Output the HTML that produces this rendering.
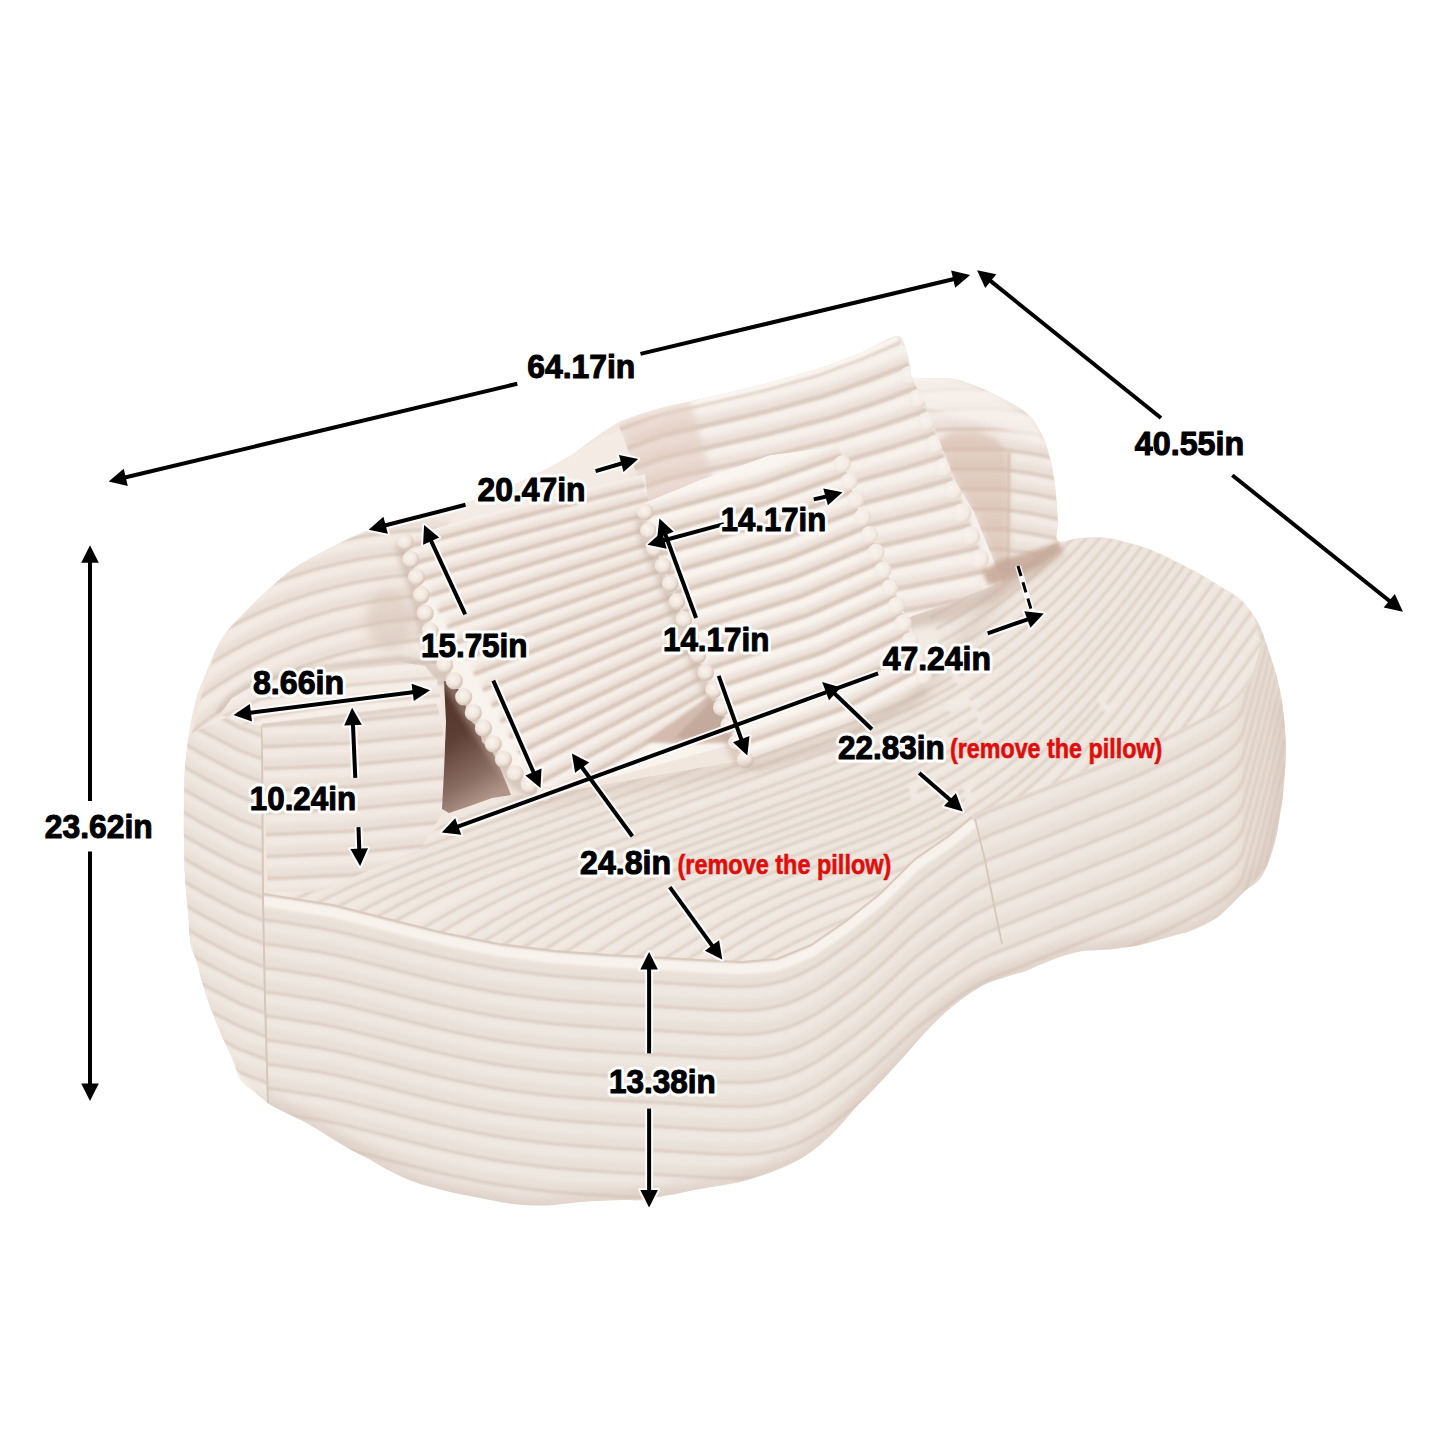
<!DOCTYPE html>
<html><head><meta charset="utf-8"><title>Sofa dimensions</title>
<style>
html,body{margin:0;padding:0;background:#fff;}
body{width:1445px;height:1445px;overflow:hidden;}
svg{display:block;}
</style></head>
<body>
<svg width="1445" height="1445" viewBox="0 0 1445 1445">
<rect width="1445" height="1445" fill="#fff"/>
<defs><filter id="bl8" filterUnits="userSpaceOnUse" x="0" y="0" width="1445" height="1445"><feGaussianBlur stdDeviation="0.8"/></filter>
<filter id="bl10" filterUnits="userSpaceOnUse" x="0" y="0" width="1445" height="1445"><feGaussianBlur stdDeviation="1.0"/></filter>
<filter id="bl12" filterUnits="userSpaceOnUse" x="0" y="0" width="1445" height="1445"><feGaussianBlur stdDeviation="1.2"/></filter>
<filter id="bl15" filterUnits="userSpaceOnUse" x="0" y="0" width="1445" height="1445"><feGaussianBlur stdDeviation="1.5"/></filter>
<filter id="bl20" filterUnits="userSpaceOnUse" x="0" y="0" width="1445" height="1445"><feGaussianBlur stdDeviation="2.0"/></filter>
<filter id="bl30" filterUnits="userSpaceOnUse" x="0" y="0" width="1445" height="1445"><feGaussianBlur stdDeviation="3.0"/></filter>
<filter id="soft" filterUnits="userSpaceOnUse" x="0" y="0" width="1445" height="1445"><feGaussianBlur stdDeviation="6"/></filter>
<filter id="soft3" filterUnits="userSpaceOnUse" x="0" y="0" width="1445" height="1445"><feGaussianBlur stdDeviation="3"/></filter>
<radialGradient id="pom" cx="0.42" cy="0.38" r="0.62"><stop offset="0" stop-color="#faf4ee"/><stop offset="0.6" stop-color="#f0e6dd"/><stop offset="0.9" stop-color="#dac9bd"/><stop offset="1" stop-color="#d1beb2"/></radialGradient>
<radialGradient id="pom2" cx="0.35" cy="0.4" r="0.65"><stop offset="0" stop-color="#f9f3ee"/><stop offset="0.7" stop-color="#f3ebe4"/><stop offset="1" stop-color="#e6d9cf"/></radialGradient>
<clipPath id="csil"><path d="M363.0,532.0 C370.0,529.2 370.2,529.5 380.0,527.0 C389.8,524.5 406.3,521.5 422.0,517.0 C437.7,512.5 456.7,506.3 474.0,500.0 C491.3,493.7 510.3,486.2 526.0,479.0 C541.7,471.8 557.3,463.3 568.0,457.0 C578.7,450.7 583.7,445.5 590.0,441.0 C596.3,436.5 600.3,433.5 606.0,430.0 C611.7,426.5 615.5,423.5 624.0,420.0 C632.5,416.5 644.3,412.5 657.0,409.0 C669.7,405.5 682.8,403.0 700.0,399.0 C717.2,395.0 740.5,390.0 760.0,385.0 C779.5,380.0 800.3,374.3 817.0,369.0 C833.7,363.7 846.7,358.5 860.0,353.0 C873.3,347.5 889.3,336.5 897.0,336.0 C904.7,335.5 903.8,345.2 906.0,350.0 C908.2,354.8 908.8,360.3 910.0,365.0 C911.2,369.7 910.0,375.8 913.0,378.0 C916.0,380.2 921.0,377.8 928.0,378.0 C935.0,378.2 945.8,377.2 955.0,379.0 C964.2,380.8 973.7,385.0 983.0,389.0 C992.3,393.0 1003.2,398.5 1011.0,403.0 C1018.8,407.5 1024.5,410.0 1030.0,416.0 C1035.5,422.0 1040.3,430.7 1044.0,439.0 C1047.7,447.3 1050.0,456.8 1052.0,466.0 C1054.0,475.2 1055.0,484.7 1056.0,494.0 C1057.0,503.3 1057.7,514.2 1058.0,522.0 C1058.3,529.8 1054.3,538.3 1058.0,541.0 C1061.7,543.7 1071.7,538.5 1080.0,538.0 C1088.3,537.5 1096.5,536.2 1108.0,538.0 C1119.5,539.8 1135.2,543.8 1149.0,549.0 C1162.8,554.2 1179.5,563.0 1191.0,569.0 C1202.5,575.0 1209.8,580.0 1218.0,585.0 C1226.2,590.0 1233.5,593.0 1240.0,599.0 C1246.5,605.0 1252.3,612.7 1257.0,621.0 C1261.7,629.3 1264.5,638.8 1268.0,649.0 C1271.5,659.2 1275.5,671.8 1278.0,682.0 C1280.5,692.2 1281.7,698.7 1283.0,710.0 C1284.3,721.3 1286.0,736.0 1286.0,750.0 C1286.0,764.0 1284.0,783.2 1283.0,794.0 C1282.0,804.8 1281.0,808.5 1280.0,815.0 C1279.0,821.5 1278.2,827.3 1277.0,833.0 C1275.8,838.7 1274.7,843.5 1273.0,849.0 C1271.3,854.5 1269.3,860.8 1267.0,866.0 C1264.7,871.2 1262.7,875.8 1259.0,880.0 C1255.3,884.2 1249.7,886.8 1245.0,891.0 C1240.3,895.2 1235.5,900.7 1231.0,905.0 C1226.5,909.3 1222.5,913.7 1218.0,917.0 C1213.5,920.3 1208.7,922.7 1204.0,925.0 C1199.3,927.3 1194.7,929.3 1190.0,931.0 C1185.3,932.7 1180.7,933.7 1176.0,935.0 C1171.3,936.3 1166.7,937.7 1162.0,939.0 C1157.3,940.3 1152.5,941.8 1148.0,943.0 C1143.5,944.2 1140.7,945.0 1135.0,946.0 C1129.3,947.0 1119.8,948.3 1114.0,949.0 C1108.2,949.7 1105.3,949.7 1100.0,950.0 C1094.7,950.3 1088.2,950.0 1082.0,951.0 C1075.8,952.0 1069.3,954.0 1063.0,956.0 C1056.7,958.0 1050.2,960.5 1044.0,963.0 C1037.8,965.5 1030.8,969.2 1026.0,971.0 C1021.2,972.8 1018.7,972.9 1015.0,974.0 C1011.3,975.1 1007.7,976.4 1004.0,977.6 C1000.3,978.8 996.7,979.6 993.0,981.0 C989.3,982.4 986.5,983.5 982.0,986.0 C977.5,988.5 971.8,991.8 966.0,996.0 C960.2,1000.2 953.4,1005.3 947.0,1011.0 C940.6,1016.7 934.0,1023.2 927.5,1030.0 C921.0,1036.8 914.4,1044.8 908.0,1052.0 C901.6,1059.2 895.5,1066.0 889.0,1073.0 C882.5,1080.0 874.5,1088.3 869.0,1094.0 C863.5,1099.7 861.2,1101.3 856.0,1107.0 C850.8,1112.7 844.0,1121.7 838.0,1128.0 C832.0,1134.3 826.0,1140.0 820.0,1145.0 C814.0,1150.0 808.0,1154.3 802.0,1158.0 C796.0,1161.7 790.0,1164.3 784.0,1167.0 C778.0,1169.7 772.0,1171.8 766.0,1174.0 C760.0,1176.2 754.0,1178.3 748.0,1180.0 C742.0,1181.7 736.0,1182.8 730.0,1184.0 C724.0,1185.2 718.0,1186.0 712.0,1187.0 C706.0,1188.0 700.0,1188.8 694.0,1190.0 C688.0,1191.2 682.0,1192.8 676.0,1194.0 C670.0,1195.2 664.0,1196.0 658.0,1197.0 C652.0,1198.0 646.3,1199.5 640.0,1200.0 C633.7,1200.5 630.0,1199.7 620.0,1200.0 C610.0,1200.3 592.3,1201.1 580.0,1202.0 C567.7,1202.9 557.2,1205.2 546.0,1205.5 C534.8,1205.8 524.0,1205.2 513.0,1204.0 C502.0,1202.8 491.2,1200.2 480.0,1198.0 C468.8,1195.8 457.2,1193.8 446.0,1191.0 C434.8,1188.2 423.0,1185.2 413.0,1181.5 C403.0,1177.8 393.3,1172.8 386.0,1169.0 C378.7,1165.2 374.5,1162.0 369.0,1159.0 C363.5,1156.0 358.5,1154.0 353.0,1151.0 C347.5,1148.0 341.5,1144.3 336.0,1141.0 C330.5,1137.7 325.5,1134.3 320.0,1131.0 C314.5,1127.7 308.7,1124.0 303.0,1121.0 C297.3,1118.0 291.5,1115.8 286.0,1113.0 C280.5,1110.2 275.0,1107.8 270.0,1104.5 C265.0,1101.2 260.8,1097.1 256.0,1093.0 C251.2,1088.9 244.8,1085.5 241.0,1080.0 C237.2,1074.5 236.2,1067.5 233.0,1060.0 C229.8,1052.5 225.1,1043.3 221.5,1035.0 C217.9,1026.7 214.6,1018.3 211.5,1010.0 C208.4,1001.7 205.4,993.0 203.0,985.0 C200.6,977.0 199.0,968.5 197.0,962.0 C195.0,955.5 192.5,954.5 191.0,946.0 C189.5,937.5 189.0,922.8 188.0,911.0 C187.0,899.2 185.7,886.8 185.0,875.0 C184.3,863.2 184.2,851.7 184.0,840.0 C183.8,828.3 183.8,816.8 184.0,805.0 C184.2,793.2 184.2,780.8 185.0,769.0 C185.8,757.2 187.2,745.7 189.0,734.0 C190.8,722.3 193.5,708.3 196.0,699.0 C198.5,689.7 201.5,684.5 204.0,678.0 C206.5,671.5 208.7,665.5 211.0,660.0 C213.3,654.5 215.2,650.0 218.0,645.0 C220.8,640.0 224.1,634.8 228.0,630.0 C231.9,625.2 237.0,620.7 241.5,616.0 C246.0,611.3 250.4,606.5 255.0,602.0 C259.6,597.5 263.2,594.2 269.0,589.0 C274.8,583.8 283.0,576.2 290.0,571.0 C297.0,565.8 303.0,562.5 311.0,558.0 C319.0,553.5 329.3,548.3 338.0,544.0 C346.7,539.7 356.0,534.8 363.0,532.0Z"/></clipPath>
<clipPath id="cbx"><path d="M911.0,377.0 L928.0,378.0 L955.0,379.0 L983.0,389.0 L1011.0,403.0 L1030.0,416.0 L1044.0,439.0 L1052.0,466.0 L1056.0,494.0 L1058.0,522.0 L1058.0,541.0 L1040.0,560.0 L1003.0,585.0 L990.0,551.0 L974.0,512.0 L955.0,480.0 L938.0,437.0 L925.0,402.0Z"/></clipPath></defs>
<path d="M363.0,532.0 C370.0,529.2 370.2,529.5 380.0,527.0 C389.8,524.5 406.3,521.5 422.0,517.0 C437.7,512.5 456.7,506.3 474.0,500.0 C491.3,493.7 510.3,486.2 526.0,479.0 C541.7,471.8 557.3,463.3 568.0,457.0 C578.7,450.7 583.7,445.5 590.0,441.0 C596.3,436.5 600.3,433.5 606.0,430.0 C611.7,426.5 615.5,423.5 624.0,420.0 C632.5,416.5 644.3,412.5 657.0,409.0 C669.7,405.5 682.8,403.0 700.0,399.0 C717.2,395.0 740.5,390.0 760.0,385.0 C779.5,380.0 800.3,374.3 817.0,369.0 C833.7,363.7 846.7,358.5 860.0,353.0 C873.3,347.5 889.3,336.5 897.0,336.0 C904.7,335.5 903.8,345.2 906.0,350.0 C908.2,354.8 908.8,360.3 910.0,365.0 C911.2,369.7 910.0,375.8 913.0,378.0 C916.0,380.2 921.0,377.8 928.0,378.0 C935.0,378.2 945.8,377.2 955.0,379.0 C964.2,380.8 973.7,385.0 983.0,389.0 C992.3,393.0 1003.2,398.5 1011.0,403.0 C1018.8,407.5 1024.5,410.0 1030.0,416.0 C1035.5,422.0 1040.3,430.7 1044.0,439.0 C1047.7,447.3 1050.0,456.8 1052.0,466.0 C1054.0,475.2 1055.0,484.7 1056.0,494.0 C1057.0,503.3 1057.7,514.2 1058.0,522.0 C1058.3,529.8 1054.3,538.3 1058.0,541.0 C1061.7,543.7 1071.7,538.5 1080.0,538.0 C1088.3,537.5 1096.5,536.2 1108.0,538.0 C1119.5,539.8 1135.2,543.8 1149.0,549.0 C1162.8,554.2 1179.5,563.0 1191.0,569.0 C1202.5,575.0 1209.8,580.0 1218.0,585.0 C1226.2,590.0 1233.5,593.0 1240.0,599.0 C1246.5,605.0 1252.3,612.7 1257.0,621.0 C1261.7,629.3 1264.5,638.8 1268.0,649.0 C1271.5,659.2 1275.5,671.8 1278.0,682.0 C1280.5,692.2 1281.7,698.7 1283.0,710.0 C1284.3,721.3 1286.0,736.0 1286.0,750.0 C1286.0,764.0 1284.0,783.2 1283.0,794.0 C1282.0,804.8 1281.0,808.5 1280.0,815.0 C1279.0,821.5 1278.2,827.3 1277.0,833.0 C1275.8,838.7 1274.7,843.5 1273.0,849.0 C1271.3,854.5 1269.3,860.8 1267.0,866.0 C1264.7,871.2 1262.7,875.8 1259.0,880.0 C1255.3,884.2 1249.7,886.8 1245.0,891.0 C1240.3,895.2 1235.5,900.7 1231.0,905.0 C1226.5,909.3 1222.5,913.7 1218.0,917.0 C1213.5,920.3 1208.7,922.7 1204.0,925.0 C1199.3,927.3 1194.7,929.3 1190.0,931.0 C1185.3,932.7 1180.7,933.7 1176.0,935.0 C1171.3,936.3 1166.7,937.7 1162.0,939.0 C1157.3,940.3 1152.5,941.8 1148.0,943.0 C1143.5,944.2 1140.7,945.0 1135.0,946.0 C1129.3,947.0 1119.8,948.3 1114.0,949.0 C1108.2,949.7 1105.3,949.7 1100.0,950.0 C1094.7,950.3 1088.2,950.0 1082.0,951.0 C1075.8,952.0 1069.3,954.0 1063.0,956.0 C1056.7,958.0 1050.2,960.5 1044.0,963.0 C1037.8,965.5 1030.8,969.2 1026.0,971.0 C1021.2,972.8 1018.7,972.9 1015.0,974.0 C1011.3,975.1 1007.7,976.4 1004.0,977.6 C1000.3,978.8 996.7,979.6 993.0,981.0 C989.3,982.4 986.5,983.5 982.0,986.0 C977.5,988.5 971.8,991.8 966.0,996.0 C960.2,1000.2 953.4,1005.3 947.0,1011.0 C940.6,1016.7 934.0,1023.2 927.5,1030.0 C921.0,1036.8 914.4,1044.8 908.0,1052.0 C901.6,1059.2 895.5,1066.0 889.0,1073.0 C882.5,1080.0 874.5,1088.3 869.0,1094.0 C863.5,1099.7 861.2,1101.3 856.0,1107.0 C850.8,1112.7 844.0,1121.7 838.0,1128.0 C832.0,1134.3 826.0,1140.0 820.0,1145.0 C814.0,1150.0 808.0,1154.3 802.0,1158.0 C796.0,1161.7 790.0,1164.3 784.0,1167.0 C778.0,1169.7 772.0,1171.8 766.0,1174.0 C760.0,1176.2 754.0,1178.3 748.0,1180.0 C742.0,1181.7 736.0,1182.8 730.0,1184.0 C724.0,1185.2 718.0,1186.0 712.0,1187.0 C706.0,1188.0 700.0,1188.8 694.0,1190.0 C688.0,1191.2 682.0,1192.8 676.0,1194.0 C670.0,1195.2 664.0,1196.0 658.0,1197.0 C652.0,1198.0 646.3,1199.5 640.0,1200.0 C633.7,1200.5 630.0,1199.7 620.0,1200.0 C610.0,1200.3 592.3,1201.1 580.0,1202.0 C567.7,1202.9 557.2,1205.2 546.0,1205.5 C534.8,1205.8 524.0,1205.2 513.0,1204.0 C502.0,1202.8 491.2,1200.2 480.0,1198.0 C468.8,1195.8 457.2,1193.8 446.0,1191.0 C434.8,1188.2 423.0,1185.2 413.0,1181.5 C403.0,1177.8 393.3,1172.8 386.0,1169.0 C378.7,1165.2 374.5,1162.0 369.0,1159.0 C363.5,1156.0 358.5,1154.0 353.0,1151.0 C347.5,1148.0 341.5,1144.3 336.0,1141.0 C330.5,1137.7 325.5,1134.3 320.0,1131.0 C314.5,1127.7 308.7,1124.0 303.0,1121.0 C297.3,1118.0 291.5,1115.8 286.0,1113.0 C280.5,1110.2 275.0,1107.8 270.0,1104.5 C265.0,1101.2 260.8,1097.1 256.0,1093.0 C251.2,1088.9 244.8,1085.5 241.0,1080.0 C237.2,1074.5 236.2,1067.5 233.0,1060.0 C229.8,1052.5 225.1,1043.3 221.5,1035.0 C217.9,1026.7 214.6,1018.3 211.5,1010.0 C208.4,1001.7 205.4,993.0 203.0,985.0 C200.6,977.0 199.0,968.5 197.0,962.0 C195.0,955.5 192.5,954.5 191.0,946.0 C189.5,937.5 189.0,922.8 188.0,911.0 C187.0,899.2 185.7,886.8 185.0,875.0 C184.3,863.2 184.2,851.7 184.0,840.0 C183.8,828.3 183.8,816.8 184.0,805.0 C184.2,793.2 184.2,780.8 185.0,769.0 C185.8,757.2 187.2,745.7 189.0,734.0 C190.8,722.3 193.5,708.3 196.0,699.0 C198.5,689.7 201.5,684.5 204.0,678.0 C206.5,671.5 208.7,665.5 211.0,660.0 C213.3,654.5 215.2,650.0 218.0,645.0 C220.8,640.0 224.1,634.8 228.0,630.0 C231.9,625.2 237.0,620.7 241.5,616.0 C246.0,611.3 250.4,606.5 255.0,602.0 C259.6,597.5 263.2,594.2 269.0,589.0 C274.8,583.8 283.0,576.2 290.0,571.0 C297.0,565.8 303.0,562.5 311.0,558.0 C319.0,553.5 329.3,548.3 338.0,544.0 C346.7,539.7 356.0,534.8 363.0,532.0Z" fill="#f1e7de"/>
<g clip-path="url(#csil)">
<clipPath id="clb"><path d="M180.0,820.0 L180.0,760.0 L195.0,725.0 L200.0,700.0 L210.0,670.0 L217.0,647.0 L232.0,617.0 L262.0,582.0 L300.0,555.0 L370.0,531.0 L422.0,517.0 L474.0,500.0 L526.0,479.0 L568.0,457.0 L600.0,438.0 L625.0,428.0 L630.0,480.0 L403.0,540.0 L420.0,590.0 L430.0,630.0 L445.0,680.0 L437.0,700.0 L262.0,722.0 L262.0,1100.0 L180.0,1100.0Z"/></clipPath>
<g clip-path="url(#clb)">
<path d="M180.0,820.0 L180.0,760.0 L195.0,725.0 L200.0,700.0 L210.0,670.0 L217.0,647.0 L232.0,617.0 L262.0,582.0 L300.0,555.0 L370.0,531.0 L422.0,517.0 L474.0,500.0 L526.0,479.0 L568.0,457.0 L600.0,438.0 L625.0,428.0 L630.0,480.0 L403.0,540.0 L420.0,590.0 L430.0,630.0 L445.0,680.0 L437.0,700.0 L262.0,722.0 L262.0,1100.0 L180.0,1100.0Z" fill="#f3ebe4"/>
<g filter="url(#bl30)"><path d="M199.1,1010.0 L199.1,1003.7 L199.4,997.5 L199.8,991.2 L200.4,985.0 L201.2,978.8 L202.1,972.6 L203.3,966.4 L204.5,960.3 L206.0,954.2 L207.6,948.1 L209.4,942.1 L211.3,936.1 L213.4,930.2 L215.7,924.4 L218.2,918.5 L220.7,912.8 L223.5,907.1 L226.4,901.5 L229.5,896.0 L232.7,890.5 L236.0,885.1 L239.5,879.8 L243.2,874.6 L247.0,869.5 L250.9,864.5 L255.0,859.6 L259.2,854.8 L263.5,850.1 L268.0,845.5 L272.6,841.0 L277.3,836.6 L282.1,832.4 L287.0,828.3 L292.1,824.3 L297.2,820.4 L302.5,816.6 L307.9,813.0 L313.3,809.6 L318.9,806.2 L324.5,803.0 L330.3,800.0 L336.1,797.0 L342.0,794.3 L347.9,791.7 L354.0,789.2 L360.1,786.9 L366.2,784.7 L372.5,782.7 L378.7,780.8 L385.0,779.1 L391.4,777.6 L397.8,776.2 L404.3,775.0 L410.7,773.9 L417.2,773.0 L423.8,772.3 L430.3,771.7 L436.9,771.3 L443.4,771.1 L450.0,771.0 M175.9,1010.0 L176.0,1003.2 L176.3,996.3 L176.8,989.5 L177.5,982.7 L178.3,975.9 L179.3,969.2 L180.5,962.4 L181.9,955.7 L183.5,949.1 L185.3,942.4 L187.2,935.9 L189.4,929.3 L191.7,922.9 L194.2,916.5 L196.8,910.1 L199.6,903.8 L202.6,897.6 L205.8,891.5 L209.2,885.5 L212.7,879.5 L216.3,873.6 L220.2,867.8 L224.1,862.2 L228.3,856.6 L232.6,851.1 L237.0,845.7 L241.6,840.5 L246.3,835.4 L251.2,830.3 L256.2,825.4 L261.4,820.7 L266.6,816.0 L272.0,811.5 L277.5,807.2 L283.2,802.9 L288.9,798.8 L294.8,794.9 L300.7,791.1 L306.8,787.5 L313.0,784.0 L319.2,780.6 L325.6,777.4 L332.0,774.4 L338.5,771.6 L345.1,768.9 L351.8,766.3 L358.5,764.0 L365.3,761.8 L372.2,759.7 L379.1,757.9 L386.0,756.2 L393.0,754.7 L400.1,753.4 L407.1,752.2 L414.2,751.2 L421.4,750.4 L428.5,749.8 L435.7,749.4 L442.8,749.1 L450.0,749.0 M152.8,1010.0 L153.0,1002.6 L153.3,995.2 L153.8,987.8 L154.5,980.4 L155.4,973.1 L156.5,965.7 L157.8,958.4 L159.3,951.2 L161.1,943.9 L163.0,936.8 L165.1,929.6 L167.4,922.5 L169.9,915.5 L172.6,908.6 L175.5,901.7 L178.5,894.9 L181.8,888.2 L185.2,881.5 L188.9,875.0 L192.7,868.5 L196.6,862.1 L200.8,855.9 L205.1,849.7 L209.6,843.7 L214.3,837.7 L219.1,831.9 L224.0,826.2 L229.2,820.6 L234.5,815.2 L239.9,809.9 L245.5,804.7 L251.2,799.7 L257.0,794.8 L263.0,790.1 L269.1,785.5 L275.3,781.0 L281.7,776.8 L288.2,772.7 L294.7,768.7 L301.4,764.9 L308.2,761.3 L315.1,757.8 L322.1,754.6 L329.1,751.5 L336.3,748.5 L343.5,745.8 L350.8,743.2 L358.2,740.9 L365.6,738.7 L373.1,736.6 L380.6,734.8 L388.2,733.2 L395.8,731.7 L403.5,730.5 L411.2,729.4 L418.9,728.6 L426.7,727.9 L434.4,727.4 L442.2,727.1 L450.0,727.0 M129.8,1010.0 L129.9,1002.0 L130.2,994.0 L130.7,986.1 L131.5,978.1 L132.5,970.2 L133.7,962.3 L135.1,954.4 L136.7,946.6 L138.6,938.8 L140.7,931.1 L142.9,923.4 L145.4,915.7 L148.1,908.2 L151.0,900.7 L154.1,893.3 L157.4,885.9 L160.9,878.7 L164.7,871.5 L168.6,864.5 L172.7,857.5 L176.9,850.6 L181.4,843.9 L186.1,837.2 L190.9,830.7 L195.9,824.3 L201.1,818.1 L206.5,811.9 L212.0,805.9 L217.7,800.1 L223.5,794.3 L229.6,788.8 L235.7,783.3 L242.0,778.1 L248.5,773.0 L255.0,768.0 L261.8,763.2 L268.6,758.6 L275.6,754.2 L282.7,749.9 L289.9,745.9 L297.2,742.0 L304.6,738.2 L312.1,734.7 L319.7,731.4 L327.4,728.2 L335.2,725.3 L343.1,722.5 L351.0,719.9 L359.0,717.6 L367.1,715.4 L375.2,713.4 L383.4,711.7 L391.6,710.1 L399.9,708.8 L408.2,707.6 L416.5,706.7 L424.9,705.9 L433.2,705.4 L441.6,705.1 L450.0,705.0 M106.6,1010.0 L106.8,1001.4 L107.1,992.9 L107.7,984.3 L108.5,975.8 L109.6,967.3 L110.9,958.8 L112.4,950.4 L114.2,942.0 L116.1,933.7 L118.3,925.4 L120.8,917.1 L123.5,909.0 L126.3,900.8 L129.5,892.8 L132.8,884.9 L136.3,877.0 L140.1,869.2 L144.1,861.5 L148.3,854.0 L152.7,846.5 L157.2,839.1 L162.0,831.9 L167.0,824.8 L172.2,817.8 L177.6,810.9 L183.2,804.2 L188.9,797.6 L194.8,791.2 L200.9,784.9 L207.2,778.8 L213.7,772.8 L220.3,767.0 L227.0,761.3 L233.9,755.9 L241.0,750.6 L248.2,745.5 L255.5,740.5 L263.0,735.8 L270.6,731.2 L278.3,726.8 L286.2,722.6 L294.1,718.6 L302.2,714.9 L310.3,711.3 L318.6,707.9 L327.0,704.7 L335.4,701.8 L343.9,699.0 L352.5,696.5 L361.1,694.1 L369.8,692.0 L378.6,690.1 L387.4,688.5 L396.3,687.0 L405.2,685.8 L414.1,684.8 L423.1,684.0 L432.0,683.4 L441.0,683.1 L450.0,683.0 M83.5,1010.0 L83.7,1000.9 L84.1,991.7 L84.7,982.6 L85.6,973.5 L86.7,964.4 L88.1,955.4 L89.7,946.4 L91.6,937.4 L93.7,928.5 L96.0,919.7 L98.6,910.9 L101.5,902.2 L104.6,893.5 L107.9,884.9 L111.4,876.4 L115.2,868.0 L119.2,859.8 L123.5,851.6 L128.0,843.5 L132.6,835.5 L137.6,827.6 L142.7,819.9 L148.0,812.3 L153.5,804.9 L159.3,797.5 L165.2,790.4 L171.3,783.3 L177.7,776.5 L184.2,769.8 L190.9,763.2 L197.8,756.8 L204.8,750.6 L212.0,744.6 L219.4,738.8 L226.9,733.1 L234.6,727.7 L242.4,722.4 L250.4,717.3 L258.5,712.4 L266.8,707.8 L275.1,703.3 L283.6,699.0 L292.2,695.0 L301.0,691.2 L309.8,687.6 L318.7,684.2 L327.7,681.0 L336.8,678.1 L345.9,675.4 L355.2,672.9 L364.5,670.6 L373.8,668.6 L383.2,666.8 L392.7,665.3 L402.2,664.0 L411.7,662.9 L421.2,662.1 L430.8,661.5 L440.4,661.1 L450.0,661.0 M60.4,1010.0 L60.6,1000.3 L61.0,990.6 L61.7,980.9 L62.6,971.2 L63.8,961.6 L65.2,952.0 L67.0,942.4 L69.0,932.9 L71.2,923.4 L73.7,914.0 L76.5,904.6 L79.5,895.4 L82.8,886.2 L86.3,877.0 L90.1,868.0 L94.1,859.1 L98.4,850.3 L102.9,841.6 L107.7,833.0 L112.6,824.5 L117.9,816.2 L123.3,807.9 L129.0,799.9 L134.8,791.9 L140.9,784.1 L147.3,776.5 L153.8,769.1 L160.5,761.8 L167.4,754.6 L174.5,747.7 L181.9,740.9 L189.3,734.3 L197.0,727.9 L204.8,721.7 L212.9,715.7 L221.0,709.9 L229.4,704.2 L237.8,698.9 L246.5,693.7 L255.2,688.7 L264.1,684.0 L273.1,679.4 L282.3,675.1 L291.6,671.1 L300.9,667.2 L310.4,663.6 L320.0,660.3 L329.6,657.2 L339.4,654.3 L349.2,651.6 L359.1,649.3 L369.0,647.1 L379.0,645.2 L389.1,643.6 L399.2,642.2 L409.3,641.0 L419.4,640.1 L429.6,639.5 L439.8,639.1 L450.0,639.0 M37.3,1010.0 L37.5,999.7 L37.9,989.4 L38.6,979.2 L39.6,968.9 L40.9,958.7 L42.4,948.5 L44.3,938.4 L46.4,928.3 L48.8,918.3 L51.4,908.3 L54.3,898.4 L57.5,888.6 L61.0,878.8 L64.8,869.2 L68.8,859.6 L73.0,850.2 L77.5,840.8 L82.3,831.6 L87.4,822.5 L92.6,813.5 L98.2,804.7 L103.9,796.0 L109.9,787.4 L116.2,779.0 L122.6,770.8 L129.3,762.7 L136.2,754.8 L143.3,747.0 L150.7,739.5 L158.2,732.1 L166.0,724.9 L173.9,717.9 L182.0,711.2 L190.3,704.6 L198.8,698.2 L207.5,692.1 L216.3,686.1 L225.3,680.4 L234.4,674.9 L243.7,669.7 L253.1,664.6 L262.7,659.8 L272.3,655.3 L282.2,651.0 L292.1,646.9 L302.1,643.1 L312.3,639.5 L322.5,636.2 L332.8,633.2 L343.2,630.4 L353.7,627.9 L364.2,625.6 L374.8,623.6 L385.4,621.8 L396.1,620.4 L406.9,619.2 L417.6,618.2 L428.4,617.5 L439.2,617.1 L450.0,617.0 M14.2,1010.0 L14.4,999.1 L14.8,988.3 L15.6,977.4 L16.6,966.6 L18.0,955.8 L19.6,945.1 L21.5,934.4 L23.8,923.7 L26.3,913.1 L29.1,902.6 L32.2,892.1 L35.6,881.8 L39.2,871.5 L43.2,861.3 L47.4,851.2 L51.9,841.2 L56.7,831.3 L61.7,821.6 L67.1,812.0 L72.6,802.5 L78.5,793.2 L84.5,784.0 L90.9,774.9 L97.5,766.1 L104.3,757.4 L111.4,748.8 L118.7,740.5 L126.2,732.3 L133.9,724.3 L141.9,716.6 L150.0,709.0 L158.4,701.6 L167.0,694.4 L175.8,687.5 L184.7,680.8 L193.9,674.3 L203.2,668.0 L212.7,662.0 L222.3,656.2 L232.1,650.6 L242.1,645.3 L252.2,640.2 L262.4,635.4 L272.8,630.9 L283.2,626.6 L293.8,622.6 L304.5,618.8 L315.3,615.3 L326.2,612.1 L337.2,609.1 L348.3,606.5 L359.4,604.1 L370.6,601.9 L381.8,600.1 L393.1,598.6 L404.5,597.3 L415.8,596.3 L427.2,595.6 L438.6,595.1 L450.0,595.0 M-8.9,1010.0 L-8.7,998.6 L-8.2,987.1 L-7.4,975.7 L-6.3,964.3 L-4.9,953.0 L-3.2,941.6 L-1.2,930.4 L1.2,919.1 L3.8,908.0 L6.8,896.9 L10.0,885.9 L13.6,875.0 L17.5,864.1 L21.6,853.4 L26.1,842.8 L30.8,832.3 L35.8,821.9 L41.2,811.6 L46.8,801.5 L52.6,791.5 L58.8,781.7 L65.2,772.0 L71.8,762.5 L78.8,753.1 L86.0,744.0 L93.4,735.0 L101.1,726.2 L109.0,717.6 L117.2,709.2 L125.5,701.0 L134.1,693.0 L143.0,685.2 L152.0,677.7 L161.2,670.4 L170.7,663.3 L180.3,656.5 L190.1,649.9 L200.1,643.5 L210.3,637.4 L220.6,631.5 L231.1,626.0 L241.7,620.6 L252.5,615.6 L263.4,610.8 L274.4,606.3 L285.6,602.0 L296.8,598.1 L308.2,594.4 L319.7,591.0 L331.2,587.9 L342.9,585.1 L354.6,582.5 L366.4,580.3 L378.2,578.4 L390.1,576.7 L402.0,575.4 L414.0,574.3 L426.0,573.6 L438.0,573.1 L450.0,573.0 M-32.0,1010.0 L-31.8,998.0 L-31.3,986.0 L-30.5,974.0 L-29.3,962.0 L-27.8,950.1 L-26.0,938.2 L-23.9,926.4 L-21.4,914.6 L-18.6,902.8 L-15.5,891.2 L-12.1,879.6 L-8.4,868.2 L-4.3,856.8 L0.1,845.5 L4.7,834.3 L9.7,823.3 L15.0,812.4 L20.6,801.6 L26.5,791.0 L32.6,780.5 L39.1,770.2 L45.8,760.0 L52.8,750.0 L60.1,740.2 L67.6,730.6 L75.5,721.1 L83.5,711.9 L91.8,702.9 L100.4,694.0 L109.2,685.4 L118.2,677.1 L127.5,668.9 L137.0,661.0 L146.7,653.3 L156.6,645.9 L166.7,638.7 L177.0,631.7 L187.5,625.1 L198.2,618.6 L209.0,612.5 L220.0,606.6 L231.2,601.0 L242.5,595.7 L254.0,590.7 L265.6,585.9 L277.3,581.5 L289.1,577.3 L301.1,573.5 L313.1,569.9 L325.3,566.6 L337.5,563.7 L349.8,561.0 L362.2,558.7 L374.6,556.7 L387.1,554.9 L399.6,553.5 L412.2,552.4 L424.8,551.6 L437.4,551.2 L450.0,551.0 M-55.1,1010.0 L-54.9,997.4 L-54.4,984.8 L-53.5,972.3 L-52.3,959.7 L-50.7,947.2 L-48.8,934.8 L-46.6,922.3 L-44.0,910.0 L-41.1,897.7 L-37.8,885.5 L-34.3,873.4 L-30.3,861.4 L-26.1,849.4 L-21.5,837.6 L-16.6,825.9 L-11.4,814.4 L-5.9,802.9 L-0.0,791.6 L6.2,780.5 L12.6,769.5 L19.4,758.7 L26.4,748.0 L33.8,737.6 L41.4,727.3 L49.3,717.2 L57.5,707.3 L66.0,697.6 L74.7,688.1 L83.6,678.9 L92.9,669.9 L102.3,661.1 L112.1,652.5 L122.0,644.2 L132.2,636.2 L142.5,628.4 L153.1,620.9 L163.9,613.6 L174.9,606.6 L186.1,599.9 L197.5,593.4 L209.0,587.3 L220.7,581.4 L232.6,575.9 L244.6,570.6 L256.7,565.6 L269.0,560.9 L281.4,556.6 L293.9,552.5 L306.6,548.8 L319.3,545.4 L332.1,542.3 L345.0,539.5 L358.0,537.1 L371.0,534.9 L384.1,533.1 L397.2,531.6 L410.4,530.5 L423.6,529.7 L436.8,529.2 L450.0,529.0 M-78.2,1010.0 L-78.0,996.8 L-77.4,983.7 L-76.5,970.5 L-75.3,957.4 L-73.6,944.3 L-71.6,931.3 L-69.3,918.3 L-66.6,905.4 L-63.6,892.6 L-60.2,879.8 L-56.4,867.1 L-52.3,854.6 L-47.9,842.1 L-43.1,829.7 L-37.9,817.5 L-32.5,805.4 L-26.7,793.5 L-20.6,781.6 L-14.1,770.0 L-7.4,758.5 L-0.3,747.2 L7.1,736.0 L14.7,725.1 L22.7,714.3 L31.0,703.8 L39.6,693.5 L48.4,683.3 L57.5,673.4 L66.9,663.8 L76.5,654.3 L86.4,645.1 L96.6,636.2 L107.0,627.5 L117.6,619.1 L128.5,610.9 L139.6,603.1 L150.9,595.5 L162.3,588.1 L174.0,581.1 L185.9,574.4 L198.0,568.0 L210.2,561.8 L222.6,556.0 L235.2,550.5 L247.9,545.3 L260.7,540.4 L273.7,535.9 L286.8,531.6 L300.0,527.7 L313.3,524.1 L326.7,520.9 L340.2,518.0 L353.8,515.4 L367.4,513.2 L381.1,511.3 L394.8,509.8 L408.6,508.6 L422.4,507.7 L436.2,507.2 L450.0,507.0 M-101.3,1010.0 L-101.1,996.3 L-100.5,982.5 L-99.6,968.8 L-98.2,955.1 L-96.5,941.5 L-94.5,927.9 L-92.0,914.3 L-89.2,900.8 L-86.0,887.4 L-82.5,874.1 L-78.5,860.9 L-74.3,847.8 L-69.6,834.8 L-64.6,821.9 L-59.3,809.1 L-53.6,796.5 L-47.6,784.0 L-41.2,771.7 L-34.4,759.5 L-27.4,747.5 L-20.0,735.7 L-12.3,724.1 L-4.3,712.6 L4.0,701.4 L12.7,690.4 L21.6,679.6 L30.8,669.0 L40.3,658.7 L50.1,648.6 L60.2,638.8 L70.5,629.2 L81.1,619.8 L92.0,610.8 L103.1,602.0 L114.4,593.5 L126.0,585.3 L137.8,577.3 L149.8,569.7 L162.0,562.4 L174.4,555.3 L187.0,548.6 L199.7,542.2 L212.7,536.1 L225.8,530.4 L239.0,525.0 L252.4,519.9 L266.0,515.1 L279.7,510.7 L293.4,506.6 L307.3,502.9 L321.3,499.5 L335.4,496.5 L349.5,493.8 L363.8,491.5 L378.0,489.5 L392.4,487.9 L406.7,486.6 L421.1,485.7 L435.6,485.2 L450.0,485.0 M-124.4,1010.0 L-124.2,995.7 L-123.6,981.4 L-122.6,967.1 L-121.2,952.8 L-119.4,938.6 L-117.3,924.4 L-114.7,910.3 L-111.8,896.3 L-108.5,882.3 L-104.8,868.4 L-100.7,854.6 L-96.2,841.0 L-91.4,827.4 L-86.2,814.0 L-80.6,800.7 L-74.7,787.5 L-68.4,774.5 L-61.7,761.7 L-54.7,749.0 L-47.4,736.5 L-39.7,724.2 L-31.7,712.1 L-23.3,700.2 L-14.7,688.5 L-5.7,677.0 L3.6,665.8 L13.3,654.8 L23.2,644.0 L33.4,633.5 L43.9,623.2 L54.6,613.2 L65.7,603.5 L77.0,594.1 L88.5,584.9 L100.4,576.0 L112.4,567.5 L124.7,559.2 L137.2,551.2 L149.9,543.6 L162.8,536.3 L175.9,529.3 L189.3,522.6 L202.7,516.3 L216.4,510.3 L230.2,504.6 L244.2,499.3 L258.3,494.4 L272.5,489.8 L286.9,485.5 L301.3,481.6 L315.9,478.1 L330.6,475.0 L345.3,472.2 L360.2,469.7 L375.0,467.7 L390.0,466.0 L404.9,464.7 L419.9,463.7 L435.0,463.2 L450.0,463.0 M-147.4,1010.0 L-147.2,995.1 L-146.6,980.2 L-145.6,965.4 L-144.2,950.5 L-142.3,935.7 L-140.1,921.0 L-137.4,906.3 L-134.4,891.7 L-130.9,877.2 L-127.1,862.7 L-122.8,848.4 L-118.2,834.2 L-113.2,820.1 L-107.8,806.1 L-102.0,792.3 L-95.8,778.6 L-89.2,765.0 L-82.3,751.7 L-75.0,738.5 L-67.4,725.5 L-59.4,712.7 L-51.1,700.1 L-42.4,687.7 L-33.3,675.6 L-24.0,663.6 L-14.3,651.9 L-4.3,640.5 L6.0,629.3 L16.6,618.3 L27.5,607.7 L38.7,597.3 L50.2,587.2 L62.0,577.3 L74.0,567.8 L86.3,558.6 L98.8,549.7 L111.6,541.1 L124.6,532.8 L137.8,524.8 L151.3,517.2 L164.9,510.0 L178.8,503.0 L192.8,496.4 L207.0,490.2 L221.4,484.3 L235.9,478.8 L250.6,473.6 L265.4,468.8 L280.3,464.4 L295.4,460.4 L310.5,456.7 L325.8,453.4 L341.1,450.5 L356.5,448.0 L372.0,445.9 L387.5,444.1 L403.1,442.8 L418.7,441.8 L434.4,441.2 L450.0,441.0" fill="none" stroke="#ddcec3" stroke-width="9.9" opacity="0.40" transform="translate(0,-4.8)"/></g>
<g filter="url(#bl10)"><path d="M199.1,1010.0 L199.1,1003.7 L199.4,997.5 L199.8,991.2 L200.4,985.0 L201.2,978.8 L202.1,972.6 L203.3,966.4 L204.5,960.3 L206.0,954.2 L207.6,948.1 L209.4,942.1 L211.3,936.1 L213.4,930.2 L215.7,924.4 L218.2,918.5 L220.7,912.8 L223.5,907.1 L226.4,901.5 L229.5,896.0 L232.7,890.5 L236.0,885.1 L239.5,879.8 L243.2,874.6 L247.0,869.5 L250.9,864.5 L255.0,859.6 L259.2,854.8 L263.5,850.1 L268.0,845.5 L272.6,841.0 L277.3,836.6 L282.1,832.4 L287.0,828.3 L292.1,824.3 L297.2,820.4 L302.5,816.6 L307.9,813.0 L313.3,809.6 L318.9,806.2 L324.5,803.0 L330.3,800.0 L336.1,797.0 L342.0,794.3 L347.9,791.7 L354.0,789.2 L360.1,786.9 L366.2,784.7 L372.5,782.7 L378.7,780.8 L385.0,779.1 L391.4,777.6 L397.8,776.2 L404.3,775.0 L410.7,773.9 L417.2,773.0 L423.8,772.3 L430.3,771.7 L436.9,771.3 L443.4,771.1 L450.0,771.0 M175.9,1010.0 L176.0,1003.2 L176.3,996.3 L176.8,989.5 L177.5,982.7 L178.3,975.9 L179.3,969.2 L180.5,962.4 L181.9,955.7 L183.5,949.1 L185.3,942.4 L187.2,935.9 L189.4,929.3 L191.7,922.9 L194.2,916.5 L196.8,910.1 L199.6,903.8 L202.6,897.6 L205.8,891.5 L209.2,885.5 L212.7,879.5 L216.3,873.6 L220.2,867.8 L224.1,862.2 L228.3,856.6 L232.6,851.1 L237.0,845.7 L241.6,840.5 L246.3,835.4 L251.2,830.3 L256.2,825.4 L261.4,820.7 L266.6,816.0 L272.0,811.5 L277.5,807.2 L283.2,802.9 L288.9,798.8 L294.8,794.9 L300.7,791.1 L306.8,787.5 L313.0,784.0 L319.2,780.6 L325.6,777.4 L332.0,774.4 L338.5,771.6 L345.1,768.9 L351.8,766.3 L358.5,764.0 L365.3,761.8 L372.2,759.7 L379.1,757.9 L386.0,756.2 L393.0,754.7 L400.1,753.4 L407.1,752.2 L414.2,751.2 L421.4,750.4 L428.5,749.8 L435.7,749.4 L442.8,749.1 L450.0,749.0 M152.8,1010.0 L153.0,1002.6 L153.3,995.2 L153.8,987.8 L154.5,980.4 L155.4,973.1 L156.5,965.7 L157.8,958.4 L159.3,951.2 L161.1,943.9 L163.0,936.8 L165.1,929.6 L167.4,922.5 L169.9,915.5 L172.6,908.6 L175.5,901.7 L178.5,894.9 L181.8,888.2 L185.2,881.5 L188.9,875.0 L192.7,868.5 L196.6,862.1 L200.8,855.9 L205.1,849.7 L209.6,843.7 L214.3,837.7 L219.1,831.9 L224.0,826.2 L229.2,820.6 L234.5,815.2 L239.9,809.9 L245.5,804.7 L251.2,799.7 L257.0,794.8 L263.0,790.1 L269.1,785.5 L275.3,781.0 L281.7,776.8 L288.2,772.7 L294.7,768.7 L301.4,764.9 L308.2,761.3 L315.1,757.8 L322.1,754.6 L329.1,751.5 L336.3,748.5 L343.5,745.8 L350.8,743.2 L358.2,740.9 L365.6,738.7 L373.1,736.6 L380.6,734.8 L388.2,733.2 L395.8,731.7 L403.5,730.5 L411.2,729.4 L418.9,728.6 L426.7,727.9 L434.4,727.4 L442.2,727.1 L450.0,727.0 M129.8,1010.0 L129.9,1002.0 L130.2,994.0 L130.7,986.1 L131.5,978.1 L132.5,970.2 L133.7,962.3 L135.1,954.4 L136.7,946.6 L138.6,938.8 L140.7,931.1 L142.9,923.4 L145.4,915.7 L148.1,908.2 L151.0,900.7 L154.1,893.3 L157.4,885.9 L160.9,878.7 L164.7,871.5 L168.6,864.5 L172.7,857.5 L176.9,850.6 L181.4,843.9 L186.1,837.2 L190.9,830.7 L195.9,824.3 L201.1,818.1 L206.5,811.9 L212.0,805.9 L217.7,800.1 L223.5,794.3 L229.6,788.8 L235.7,783.3 L242.0,778.1 L248.5,773.0 L255.0,768.0 L261.8,763.2 L268.6,758.6 L275.6,754.2 L282.7,749.9 L289.9,745.9 L297.2,742.0 L304.6,738.2 L312.1,734.7 L319.7,731.4 L327.4,728.2 L335.2,725.3 L343.1,722.5 L351.0,719.9 L359.0,717.6 L367.1,715.4 L375.2,713.4 L383.4,711.7 L391.6,710.1 L399.9,708.8 L408.2,707.6 L416.5,706.7 L424.9,705.9 L433.2,705.4 L441.6,705.1 L450.0,705.0 M106.6,1010.0 L106.8,1001.4 L107.1,992.9 L107.7,984.3 L108.5,975.8 L109.6,967.3 L110.9,958.8 L112.4,950.4 L114.2,942.0 L116.1,933.7 L118.3,925.4 L120.8,917.1 L123.5,909.0 L126.3,900.8 L129.5,892.8 L132.8,884.9 L136.3,877.0 L140.1,869.2 L144.1,861.5 L148.3,854.0 L152.7,846.5 L157.2,839.1 L162.0,831.9 L167.0,824.8 L172.2,817.8 L177.6,810.9 L183.2,804.2 L188.9,797.6 L194.8,791.2 L200.9,784.9 L207.2,778.8 L213.7,772.8 L220.3,767.0 L227.0,761.3 L233.9,755.9 L241.0,750.6 L248.2,745.5 L255.5,740.5 L263.0,735.8 L270.6,731.2 L278.3,726.8 L286.2,722.6 L294.1,718.6 L302.2,714.9 L310.3,711.3 L318.6,707.9 L327.0,704.7 L335.4,701.8 L343.9,699.0 L352.5,696.5 L361.1,694.1 L369.8,692.0 L378.6,690.1 L387.4,688.5 L396.3,687.0 L405.2,685.8 L414.1,684.8 L423.1,684.0 L432.0,683.4 L441.0,683.1 L450.0,683.0 M83.5,1010.0 L83.7,1000.9 L84.1,991.7 L84.7,982.6 L85.6,973.5 L86.7,964.4 L88.1,955.4 L89.7,946.4 L91.6,937.4 L93.7,928.5 L96.0,919.7 L98.6,910.9 L101.5,902.2 L104.6,893.5 L107.9,884.9 L111.4,876.4 L115.2,868.0 L119.2,859.8 L123.5,851.6 L128.0,843.5 L132.6,835.5 L137.6,827.6 L142.7,819.9 L148.0,812.3 L153.5,804.9 L159.3,797.5 L165.2,790.4 L171.3,783.3 L177.7,776.5 L184.2,769.8 L190.9,763.2 L197.8,756.8 L204.8,750.6 L212.0,744.6 L219.4,738.8 L226.9,733.1 L234.6,727.7 L242.4,722.4 L250.4,717.3 L258.5,712.4 L266.8,707.8 L275.1,703.3 L283.6,699.0 L292.2,695.0 L301.0,691.2 L309.8,687.6 L318.7,684.2 L327.7,681.0 L336.8,678.1 L345.9,675.4 L355.2,672.9 L364.5,670.6 L373.8,668.6 L383.2,666.8 L392.7,665.3 L402.2,664.0 L411.7,662.9 L421.2,662.1 L430.8,661.5 L440.4,661.1 L450.0,661.0 M60.4,1010.0 L60.6,1000.3 L61.0,990.6 L61.7,980.9 L62.6,971.2 L63.8,961.6 L65.2,952.0 L67.0,942.4 L69.0,932.9 L71.2,923.4 L73.7,914.0 L76.5,904.6 L79.5,895.4 L82.8,886.2 L86.3,877.0 L90.1,868.0 L94.1,859.1 L98.4,850.3 L102.9,841.6 L107.7,833.0 L112.6,824.5 L117.9,816.2 L123.3,807.9 L129.0,799.9 L134.8,791.9 L140.9,784.1 L147.3,776.5 L153.8,769.1 L160.5,761.8 L167.4,754.6 L174.5,747.7 L181.9,740.9 L189.3,734.3 L197.0,727.9 L204.8,721.7 L212.9,715.7 L221.0,709.9 L229.4,704.2 L237.8,698.9 L246.5,693.7 L255.2,688.7 L264.1,684.0 L273.1,679.4 L282.3,675.1 L291.6,671.1 L300.9,667.2 L310.4,663.6 L320.0,660.3 L329.6,657.2 L339.4,654.3 L349.2,651.6 L359.1,649.3 L369.0,647.1 L379.0,645.2 L389.1,643.6 L399.2,642.2 L409.3,641.0 L419.4,640.1 L429.6,639.5 L439.8,639.1 L450.0,639.0 M37.3,1010.0 L37.5,999.7 L37.9,989.4 L38.6,979.2 L39.6,968.9 L40.9,958.7 L42.4,948.5 L44.3,938.4 L46.4,928.3 L48.8,918.3 L51.4,908.3 L54.3,898.4 L57.5,888.6 L61.0,878.8 L64.8,869.2 L68.8,859.6 L73.0,850.2 L77.5,840.8 L82.3,831.6 L87.4,822.5 L92.6,813.5 L98.2,804.7 L103.9,796.0 L109.9,787.4 L116.2,779.0 L122.6,770.8 L129.3,762.7 L136.2,754.8 L143.3,747.0 L150.7,739.5 L158.2,732.1 L166.0,724.9 L173.9,717.9 L182.0,711.2 L190.3,704.6 L198.8,698.2 L207.5,692.1 L216.3,686.1 L225.3,680.4 L234.4,674.9 L243.7,669.7 L253.1,664.6 L262.7,659.8 L272.3,655.3 L282.2,651.0 L292.1,646.9 L302.1,643.1 L312.3,639.5 L322.5,636.2 L332.8,633.2 L343.2,630.4 L353.7,627.9 L364.2,625.6 L374.8,623.6 L385.4,621.8 L396.1,620.4 L406.9,619.2 L417.6,618.2 L428.4,617.5 L439.2,617.1 L450.0,617.0 M14.2,1010.0 L14.4,999.1 L14.8,988.3 L15.6,977.4 L16.6,966.6 L18.0,955.8 L19.6,945.1 L21.5,934.4 L23.8,923.7 L26.3,913.1 L29.1,902.6 L32.2,892.1 L35.6,881.8 L39.2,871.5 L43.2,861.3 L47.4,851.2 L51.9,841.2 L56.7,831.3 L61.7,821.6 L67.1,812.0 L72.6,802.5 L78.5,793.2 L84.5,784.0 L90.9,774.9 L97.5,766.1 L104.3,757.4 L111.4,748.8 L118.7,740.5 L126.2,732.3 L133.9,724.3 L141.9,716.6 L150.0,709.0 L158.4,701.6 L167.0,694.4 L175.8,687.5 L184.7,680.8 L193.9,674.3 L203.2,668.0 L212.7,662.0 L222.3,656.2 L232.1,650.6 L242.1,645.3 L252.2,640.2 L262.4,635.4 L272.8,630.9 L283.2,626.6 L293.8,622.6 L304.5,618.8 L315.3,615.3 L326.2,612.1 L337.2,609.1 L348.3,606.5 L359.4,604.1 L370.6,601.9 L381.8,600.1 L393.1,598.6 L404.5,597.3 L415.8,596.3 L427.2,595.6 L438.6,595.1 L450.0,595.0 M-8.9,1010.0 L-8.7,998.6 L-8.2,987.1 L-7.4,975.7 L-6.3,964.3 L-4.9,953.0 L-3.2,941.6 L-1.2,930.4 L1.2,919.1 L3.8,908.0 L6.8,896.9 L10.0,885.9 L13.6,875.0 L17.5,864.1 L21.6,853.4 L26.1,842.8 L30.8,832.3 L35.8,821.9 L41.2,811.6 L46.8,801.5 L52.6,791.5 L58.8,781.7 L65.2,772.0 L71.8,762.5 L78.8,753.1 L86.0,744.0 L93.4,735.0 L101.1,726.2 L109.0,717.6 L117.2,709.2 L125.5,701.0 L134.1,693.0 L143.0,685.2 L152.0,677.7 L161.2,670.4 L170.7,663.3 L180.3,656.5 L190.1,649.9 L200.1,643.5 L210.3,637.4 L220.6,631.5 L231.1,626.0 L241.7,620.6 L252.5,615.6 L263.4,610.8 L274.4,606.3 L285.6,602.0 L296.8,598.1 L308.2,594.4 L319.7,591.0 L331.2,587.9 L342.9,585.1 L354.6,582.5 L366.4,580.3 L378.2,578.4 L390.1,576.7 L402.0,575.4 L414.0,574.3 L426.0,573.6 L438.0,573.1 L450.0,573.0 M-32.0,1010.0 L-31.8,998.0 L-31.3,986.0 L-30.5,974.0 L-29.3,962.0 L-27.8,950.1 L-26.0,938.2 L-23.9,926.4 L-21.4,914.6 L-18.6,902.8 L-15.5,891.2 L-12.1,879.6 L-8.4,868.2 L-4.3,856.8 L0.1,845.5 L4.7,834.3 L9.7,823.3 L15.0,812.4 L20.6,801.6 L26.5,791.0 L32.6,780.5 L39.1,770.2 L45.8,760.0 L52.8,750.0 L60.1,740.2 L67.6,730.6 L75.5,721.1 L83.5,711.9 L91.8,702.9 L100.4,694.0 L109.2,685.4 L118.2,677.1 L127.5,668.9 L137.0,661.0 L146.7,653.3 L156.6,645.9 L166.7,638.7 L177.0,631.7 L187.5,625.1 L198.2,618.6 L209.0,612.5 L220.0,606.6 L231.2,601.0 L242.5,595.7 L254.0,590.7 L265.6,585.9 L277.3,581.5 L289.1,577.3 L301.1,573.5 L313.1,569.9 L325.3,566.6 L337.5,563.7 L349.8,561.0 L362.2,558.7 L374.6,556.7 L387.1,554.9 L399.6,553.5 L412.2,552.4 L424.8,551.6 L437.4,551.2 L450.0,551.0 M-55.1,1010.0 L-54.9,997.4 L-54.4,984.8 L-53.5,972.3 L-52.3,959.7 L-50.7,947.2 L-48.8,934.8 L-46.6,922.3 L-44.0,910.0 L-41.1,897.7 L-37.8,885.5 L-34.3,873.4 L-30.3,861.4 L-26.1,849.4 L-21.5,837.6 L-16.6,825.9 L-11.4,814.4 L-5.9,802.9 L-0.0,791.6 L6.2,780.5 L12.6,769.5 L19.4,758.7 L26.4,748.0 L33.8,737.6 L41.4,727.3 L49.3,717.2 L57.5,707.3 L66.0,697.6 L74.7,688.1 L83.6,678.9 L92.9,669.9 L102.3,661.1 L112.1,652.5 L122.0,644.2 L132.2,636.2 L142.5,628.4 L153.1,620.9 L163.9,613.6 L174.9,606.6 L186.1,599.9 L197.5,593.4 L209.0,587.3 L220.7,581.4 L232.6,575.9 L244.6,570.6 L256.7,565.6 L269.0,560.9 L281.4,556.6 L293.9,552.5 L306.6,548.8 L319.3,545.4 L332.1,542.3 L345.0,539.5 L358.0,537.1 L371.0,534.9 L384.1,533.1 L397.2,531.6 L410.4,530.5 L423.6,529.7 L436.8,529.2 L450.0,529.0 M-78.2,1010.0 L-78.0,996.8 L-77.4,983.7 L-76.5,970.5 L-75.3,957.4 L-73.6,944.3 L-71.6,931.3 L-69.3,918.3 L-66.6,905.4 L-63.6,892.6 L-60.2,879.8 L-56.4,867.1 L-52.3,854.6 L-47.9,842.1 L-43.1,829.7 L-37.9,817.5 L-32.5,805.4 L-26.7,793.5 L-20.6,781.6 L-14.1,770.0 L-7.4,758.5 L-0.3,747.2 L7.1,736.0 L14.7,725.1 L22.7,714.3 L31.0,703.8 L39.6,693.5 L48.4,683.3 L57.5,673.4 L66.9,663.8 L76.5,654.3 L86.4,645.1 L96.6,636.2 L107.0,627.5 L117.6,619.1 L128.5,610.9 L139.6,603.1 L150.9,595.5 L162.3,588.1 L174.0,581.1 L185.9,574.4 L198.0,568.0 L210.2,561.8 L222.6,556.0 L235.2,550.5 L247.9,545.3 L260.7,540.4 L273.7,535.9 L286.8,531.6 L300.0,527.7 L313.3,524.1 L326.7,520.9 L340.2,518.0 L353.8,515.4 L367.4,513.2 L381.1,511.3 L394.8,509.8 L408.6,508.6 L422.4,507.7 L436.2,507.2 L450.0,507.0 M-101.3,1010.0 L-101.1,996.3 L-100.5,982.5 L-99.6,968.8 L-98.2,955.1 L-96.5,941.5 L-94.5,927.9 L-92.0,914.3 L-89.2,900.8 L-86.0,887.4 L-82.5,874.1 L-78.5,860.9 L-74.3,847.8 L-69.6,834.8 L-64.6,821.9 L-59.3,809.1 L-53.6,796.5 L-47.6,784.0 L-41.2,771.7 L-34.4,759.5 L-27.4,747.5 L-20.0,735.7 L-12.3,724.1 L-4.3,712.6 L4.0,701.4 L12.7,690.4 L21.6,679.6 L30.8,669.0 L40.3,658.7 L50.1,648.6 L60.2,638.8 L70.5,629.2 L81.1,619.8 L92.0,610.8 L103.1,602.0 L114.4,593.5 L126.0,585.3 L137.8,577.3 L149.8,569.7 L162.0,562.4 L174.4,555.3 L187.0,548.6 L199.7,542.2 L212.7,536.1 L225.8,530.4 L239.0,525.0 L252.4,519.9 L266.0,515.1 L279.7,510.7 L293.4,506.6 L307.3,502.9 L321.3,499.5 L335.4,496.5 L349.5,493.8 L363.8,491.5 L378.0,489.5 L392.4,487.9 L406.7,486.6 L421.1,485.7 L435.6,485.2 L450.0,485.0 M-124.4,1010.0 L-124.2,995.7 L-123.6,981.4 L-122.6,967.1 L-121.2,952.8 L-119.4,938.6 L-117.3,924.4 L-114.7,910.3 L-111.8,896.3 L-108.5,882.3 L-104.8,868.4 L-100.7,854.6 L-96.2,841.0 L-91.4,827.4 L-86.2,814.0 L-80.6,800.7 L-74.7,787.5 L-68.4,774.5 L-61.7,761.7 L-54.7,749.0 L-47.4,736.5 L-39.7,724.2 L-31.7,712.1 L-23.3,700.2 L-14.7,688.5 L-5.7,677.0 L3.6,665.8 L13.3,654.8 L23.2,644.0 L33.4,633.5 L43.9,623.2 L54.6,613.2 L65.7,603.5 L77.0,594.1 L88.5,584.9 L100.4,576.0 L112.4,567.5 L124.7,559.2 L137.2,551.2 L149.9,543.6 L162.8,536.3 L175.9,529.3 L189.3,522.6 L202.7,516.3 L216.4,510.3 L230.2,504.6 L244.2,499.3 L258.3,494.4 L272.5,489.8 L286.9,485.5 L301.3,481.6 L315.9,478.1 L330.6,475.0 L345.3,472.2 L360.2,469.7 L375.0,467.7 L390.0,466.0 L404.9,464.7 L419.9,463.7 L435.0,463.2 L450.0,463.0 M-147.4,1010.0 L-147.2,995.1 L-146.6,980.2 L-145.6,965.4 L-144.2,950.5 L-142.3,935.7 L-140.1,921.0 L-137.4,906.3 L-134.4,891.7 L-130.9,877.2 L-127.1,862.7 L-122.8,848.4 L-118.2,834.2 L-113.2,820.1 L-107.8,806.1 L-102.0,792.3 L-95.8,778.6 L-89.2,765.0 L-82.3,751.7 L-75.0,738.5 L-67.4,725.5 L-59.4,712.7 L-51.1,700.1 L-42.4,687.7 L-33.3,675.6 L-24.0,663.6 L-14.3,651.9 L-4.3,640.5 L6.0,629.3 L16.6,618.3 L27.5,607.7 L38.7,597.3 L50.2,587.2 L62.0,577.3 L74.0,567.8 L86.3,558.6 L98.8,549.7 L111.6,541.1 L124.6,532.8 L137.8,524.8 L151.3,517.2 L164.9,510.0 L178.8,503.0 L192.8,496.4 L207.0,490.2 L221.4,484.3 L235.9,478.8 L250.6,473.6 L265.4,468.8 L280.3,464.4 L295.4,460.4 L310.5,456.7 L325.8,453.4 L341.1,450.5 L356.5,448.0 L372.0,445.9 L387.5,444.1 L403.1,442.8 L418.7,441.8 L434.4,441.2 L450.0,441.0" fill="none" stroke="#ddcec3" stroke-width="3.5"/></g>

</g>
<ellipse cx="390" cy="620" rx="24" ry="30" fill="#d7c3b7" opacity="0.55" filter="url(#soft)"/>
<clipPath id="ca"><path d="M617.0,421.0 L624.0,420.0 L657.0,409.0 L700.0,399.0 L760.0,385.0 L817.0,369.0 L860.0,353.0 L897.0,336.0 L906.0,350.0 L912.0,379.0 L925.0,402.0 L938.0,437.0 L955.0,480.0 L974.0,512.0 L990.0,551.0 L1003.0,585.0 L960.0,610.0 L912.0,640.0 L700.0,700.0 L646.0,505.0 L632.0,460.0Z"/></clipPath>
<g clip-path="url(#ca)">
<path d="M617.0,421.0 L624.0,420.0 L657.0,409.0 L700.0,399.0 L760.0,385.0 L817.0,369.0 L860.0,353.0 L897.0,336.0 L906.0,350.0 L912.0,379.0 L925.0,402.0 L938.0,437.0 L955.0,480.0 L974.0,512.0 L990.0,551.0 L1003.0,585.0 L960.0,610.0 L912.0,640.0 L700.0,700.0 L646.0,505.0 L632.0,460.0Z" fill="#f7f1ec"/>
<g filter="url(#bl30)"><path d="M600.2,437.0 L605.1,435.0 L610.1,433.0 L615.1,431.0 L620.0,429.0 L625.0,427.0 L630.0,425.0 L634.9,423.0 L639.9,421.0 L644.9,419.0 L649.9,417.0 L654.8,415.0 L659.9,413.4 L665.1,412.2 L670.3,411.0 L675.6,409.8 L680.8,408.6 L686.0,407.4 L691.2,406.2 L696.4,405.0 L701.7,403.7 L706.9,402.5 L712.1,401.3 L717.3,400.1 L722.5,398.9 L727.7,397.7 L732.9,396.4 L738.2,395.2 L743.4,394.0 L748.6,392.8 L753.8,391.6 L759.0,390.4 L764.2,389.0 L769.4,387.5 L774.5,386.1 L779.7,384.6 L784.8,383.2 L790.0,381.8 L795.1,380.3 L800.3,378.9 L805.5,377.4 L810.6,376.0 L815.8,374.5 L820.8,372.8 L825.9,370.9 L830.9,369.1 L835.9,367.2 L840.9,365.3 L845.9,363.5 L851.0,361.6 L856.0,359.7 L861.0,357.9 L865.9,355.8 L870.9,353.7 L875.8,351.6 L880.7,349.5 L885.6,347.4 L890.6,345.3 L895.5,343.2 L900.4,341.1 M603.5,457.4 L608.6,455.4 L613.6,453.5 L618.7,451.6 L623.8,449.7 L628.9,447.8 L633.9,445.8 L639.0,443.9 L644.1,442.0 L649.1,440.1 L654.2,438.2 L659.3,436.3 L664.5,434.7 L669.8,433.5 L675.1,432.3 L680.4,431.1 L685.7,429.9 L691.0,428.7 L696.3,427.5 L701.6,426.3 L706.9,425.1 L712.2,423.9 L717.5,422.7 L722.8,421.5 L728.0,420.3 L733.3,419.0 L738.6,417.8 L743.9,416.6 L749.2,415.4 L754.5,414.2 L759.8,412.9 L765.1,411.7 L770.4,410.4 L775.6,408.9 L780.8,407.5 L786.1,406.1 L791.3,404.6 L796.6,403.2 L801.8,401.8 L807.1,400.4 L812.3,399.0 L817.6,397.6 L822.8,396.2 L828.0,394.5 L833.1,392.7 L838.2,390.9 L843.3,389.1 L848.4,387.3 L853.5,385.5 L858.7,383.7 L863.8,381.9 L868.9,380.1 L873.9,378.1 L879.0,376.1 L884.0,374.1 L889.0,372.1 L894.1,370.1 L899.1,368.1 L904.2,366.1 L909.2,364.1 M606.8,477.7 L612.0,475.8 L617.2,474.0 L622.4,472.2 L627.5,470.3 L632.7,468.5 L637.9,466.7 L643.1,464.8 L648.2,463.0 L653.4,461.1 L658.6,459.3 L663.8,457.5 L669.0,456.0 L674.4,454.8 L679.8,453.6 L685.2,452.4 L690.6,451.2 L695.9,450.1 L701.3,448.9 L706.7,447.7 L712.1,446.5 L717.5,445.3 L722.8,444.1 L728.2,442.8 L733.6,441.6 L739.0,440.4 L744.3,439.2 L749.7,438.0 L755.1,436.7 L760.4,435.5 L765.8,434.3 L771.2,433.1 L776.5,431.7 L781.9,430.3 L787.2,428.9 L792.5,427.5 L797.8,426.1 L803.2,424.7 L808.5,423.3 L813.8,422.0 L819.2,420.6 L824.5,419.2 L829.8,417.8 L835.1,416.2 L840.3,414.5 L845.5,412.7 L850.7,411.0 L855.9,409.3 L861.2,407.5 L866.4,405.8 L871.6,404.1 L876.8,402.3 L881.9,400.4 L887.1,398.5 L892.2,396.6 L897.4,394.7 L902.5,392.7 L907.7,390.8 L912.8,388.9 L917.9,387.0 M610.2,498.0 L615.4,496.3 L620.7,494.5 L626.0,492.7 L631.3,491.0 L636.6,489.2 L641.8,487.5 L647.1,485.7 L652.4,484.0 L657.7,482.2 L662.9,480.5 L668.2,478.7 L673.6,477.2 L679.1,476.1 L684.5,474.9 L690.0,473.7 L695.4,472.6 L700.9,471.4 L706.4,470.2 L711.8,469.1 L717.3,467.9 L722.7,466.7 L728.2,465.4 L733.7,464.2 L739.1,463.0 L744.6,461.8 L750.0,460.6 L755.5,459.3 L760.9,458.1 L766.4,456.9 L771.8,455.7 L777.3,454.5 L782.7,453.1 L788.1,451.7 L793.5,450.3 L798.9,448.9 L804.3,447.6 L809.8,446.2 L815.2,444.9 L820.6,443.5 L826.0,442.2 L831.4,440.8 L836.8,439.5 L842.2,437.9 L847.5,436.2 L852.8,434.6 L858.1,432.9 L863.5,431.2 L868.8,429.6 L874.1,427.9 L879.4,426.2 L884.7,424.6 L890.0,422.7 L895.2,420.9 L900.4,419.1 L905.7,417.2 L910.9,415.4 L916.2,413.6 L921.4,411.7 L926.7,409.9 M613.5,518.4 L618.9,516.7 L624.3,515.0 L629.6,513.3 L635.0,511.6 L640.4,510.0 L645.8,508.3 L651.2,506.6 L656.5,504.9 L661.9,503.3 L667.3,501.6 L672.7,499.9 L678.1,498.5 L683.7,497.4 L689.2,496.2 L694.8,495.1 L700.3,493.9 L705.9,492.8 L711.4,491.6 L717.0,490.5 L722.5,489.3 L728.0,488.0 L733.6,486.8 L739.1,485.6 L744.6,484.4 L750.2,483.1 L755.7,481.9 L761.2,480.7 L766.8,479.5 L772.3,478.3 L777.8,477.0 L783.4,475.8 L788.9,474.5 L794.4,473.1 L799.9,471.7 L805.3,470.4 L810.8,469.0 L816.4,467.7 L821.9,466.4 L827.4,465.1 L832.9,463.7 L838.4,462.4 L843.9,461.1 L849.3,459.6 L854.7,458.0 L860.1,456.4 L865.6,454.8 L871.0,453.2 L876.4,451.6 L881.8,450.0 L887.2,448.4 L892.6,446.8 L898.0,445.0 L903.3,443.3 L908.7,441.5 L914.0,439.8 L919.4,438.1 L924.7,436.3 L930.1,434.6 L935.4,432.8 M616.8,538.7 L622.3,537.1 L627.8,535.5 L633.3,533.9 L638.8,532.3 L644.2,530.7 L649.7,529.1 L655.2,527.5 L660.7,525.9 L666.2,524.3 L671.7,522.7 L677.1,521.1 L682.7,519.8 L688.3,518.6 L694.0,517.5 L699.6,516.4 L705.2,515.2 L710.8,514.1 L716.5,513.0 L722.1,511.8 L727.7,510.6 L733.3,509.4 L738.9,508.2 L744.6,507.0 L750.2,505.7 L755.8,504.5 L761.4,503.3 L767.0,502.1 L772.6,500.8 L778.2,499.6 L783.8,498.4 L789.5,497.2 L795.0,495.9 L800.6,494.5 L806.2,493.1 L811.8,491.8 L817.4,490.5 L822.9,489.2 L828.5,487.9 L834.1,486.6 L839.7,485.3 L845.3,484.0 L850.9,482.7 L856.4,481.3 L861.9,479.8 L867.5,478.2 L873.0,476.7 L878.5,475.2 L884.0,473.6 L889.5,472.1 L895.0,470.6 L900.5,469.0 L906.0,467.4 L911.4,465.7 L916.9,464.0 L922.4,462.4 L927.8,460.7 L933.3,459.1 L938.7,457.4 L944.2,455.7 M620.2,559.0 L625.8,557.5 L631.3,556.0 L636.9,554.5 L642.5,553.0 L648.1,551.4 L653.7,549.9 L659.3,548.4 L664.9,546.9 L670.4,545.4 L676.0,543.9 L681.6,542.4 L687.3,541.1 L693.0,539.9 L698.7,538.8 L704.4,537.7 L710.1,536.6 L715.8,535.4 L721.5,534.3 L727.2,533.2 L732.9,532.0 L738.6,530.8 L744.3,529.6 L750.0,528.3 L755.7,527.1 L761.4,525.9 L767.1,524.7 L772.8,523.4 L778.5,522.2 L784.2,521.0 L789.8,519.8 L795.5,518.5 L801.2,517.2 L806.9,515.9 L812.5,514.6 L818.2,513.2 L823.9,511.9 L829.5,510.7 L835.2,509.4 L840.9,508.1 L846.6,506.9 L852.2,505.6 L857.9,504.4 L863.6,503.0 L869.2,501.5 L874.8,500.1 L880.4,498.6 L886.0,497.1 L891.6,495.7 L897.2,494.2 L902.8,492.7 L908.4,491.3 L914.0,489.7 L919.6,488.1 L925.1,486.5 L930.7,485.0 L936.2,483.4 L941.8,481.8 L947.4,480.2 L952.9,478.6 M623.5,579.3 L629.2,577.9 L634.9,576.5 L640.6,575.1 L646.3,573.6 L651.9,572.2 L657.6,570.8 L663.3,569.3 L669.0,567.9 L674.7,566.5 L680.4,565.0 L686.1,563.6 L691.8,562.3 L697.6,561.2 L703.4,560.1 L709.2,559.0 L715.0,557.9 L720.8,556.8 L726.6,555.7 L732.4,554.6 L738.1,553.4 L743.9,552.2 L749.7,550.9 L755.5,549.7 L761.2,548.5 L767.0,547.3 L772.8,546.0 L778.5,544.8 L784.3,543.6 L790.1,542.4 L795.8,541.1 L801.6,539.9 L807.4,538.6 L813.1,537.3 L818.9,536.0 L824.6,534.6 L830.4,533.4 L836.1,532.1 L841.9,530.9 L847.7,529.7 L853.4,528.5 L859.2,527.2 L864.9,526.0 L870.7,524.7 L876.4,523.3 L882.1,521.9 L887.8,520.5 L893.5,519.1 L899.2,517.7 L904.9,516.3 L910.6,514.9 L916.3,513.5 L922.0,512.0 L927.7,510.5 L933.3,509.0 L939.0,507.5 L944.7,506.0 L950.3,504.5 L956.0,503.1 L961.7,501.6 M626.8,599.7 L632.6,598.3 L638.4,597.0 L644.2,595.6 L650.0,594.3 L655.8,592.9 L661.6,591.6 L667.4,590.2 L673.2,588.9 L679.0,587.5 L684.8,586.2 L690.5,584.8 L696.4,583.6 L702.3,582.5 L708.1,581.4 L714.0,580.3 L719.9,579.2 L725.8,578.1 L731.6,577.0 L737.5,575.9 L743.4,574.8 L749.2,573.5 L755.1,572.3 L760.9,571.1 L766.8,569.9 L772.6,568.6 L778.5,567.4 L784.3,566.2 L790.2,565.0 L796.0,563.7 L801.9,562.5 L807.7,561.3 L813.5,560.0 L819.4,558.7 L825.2,557.4 L831.0,556.1 L836.9,554.8 L842.7,553.6 L848.6,552.4 L854.4,551.2 L860.3,550.0 L866.1,548.9 L872.0,547.7 L877.8,546.4 L883.6,545.0 L889.4,543.7 L895.2,542.4 L901.0,541.1 L906.8,539.7 L912.6,538.4 L918.4,537.1 L924.2,535.7 L930.0,534.3 L935.8,532.9 L941.6,531.5 L947.3,530.1 L953.1,528.7 L958.9,527.3 L964.7,525.9 L970.4,524.5 M630.2,620.0 L636.1,618.7 L642.0,617.5 L647.9,616.2 L653.7,614.9 L659.6,613.7 L665.5,612.4 L671.4,611.1 L677.3,609.8 L683.2,608.6 L689.1,607.3 L695.0,606.0 L700.9,604.9 L706.9,603.8 L712.9,602.7 L718.8,601.6 L724.8,600.6 L730.7,599.5 L736.7,598.4 L742.6,597.3 L748.6,596.1 L754.5,594.9 L760.4,593.7 L766.4,592.5 L772.3,591.2 L778.2,590.0 L784.1,588.8 L790.1,587.5 L796.0,586.3 L801.9,585.1 L807.9,583.9 L813.8,582.6 L819.7,581.4 L825.6,580.1 L831.5,578.8 L837.4,577.5 L843.4,576.3 L849.3,575.1 L855.2,574.0 L861.2,572.8 L867.1,571.6 L873.1,570.5 L879.0,569.3 L884.9,568.1 L890.8,566.8 L896.7,565.5 L902.6,564.3 L908.5,563.0 L914.4,561.8 L920.3,560.5 L926.2,559.2 L932.1,558.0 L938.0,556.6 L943.9,555.3 L949.8,554.0 L955.7,552.7 L961.5,551.4 L967.4,550.0 L973.3,548.7 L979.2,547.4 M633.5,640.4 L639.5,639.2 L645.5,638.0 L651.5,636.8 L657.5,635.6 L663.5,634.4 L669.5,633.2 L675.5,632.0 L681.5,630.8 L687.5,629.6 L693.5,628.4 L699.5,627.3 L705.5,626.1 L711.5,625.1 L717.6,624.0 L723.6,622.9 L729.7,621.9 L735.7,620.8 L741.7,619.8 L747.8,618.7 L753.8,617.5 L759.8,616.3 L765.8,615.1 L771.8,613.8 L777.8,612.6 L783.8,611.4 L789.8,610.1 L795.8,608.9 L801.8,607.7 L807.9,606.5 L813.9,605.2 L819.9,604.0 L825.9,602.7 L831.9,601.5 L837.9,600.2 L843.9,598.9 L849.9,597.7 L855.9,596.6 L861.9,595.5 L867.9,594.3 L874.0,593.2 L880.0,592.1 L886.0,590.9 L892.0,589.8 L898.0,588.6 L904.0,587.4 L910.0,586.2 L916.0,585.0 L922.0,583.8 L928.0,582.6 L934.0,581.4 L940.0,580.2 L946.0,579.0 L952.0,577.7 L958.0,576.5 L964.0,575.3 L970.0,574.0 L976.0,572.8 L982.0,571.5 L987.9,570.3 M636.8,660.7 L642.9,659.6 L649.0,658.5 L655.1,657.4 L661.2,656.2 L667.3,655.1 L673.4,654.0 L679.5,652.9 L685.6,651.8 L691.7,650.7 L697.8,649.6 L703.9,648.5 L710.1,647.4 L716.2,646.3 L722.3,645.3 L728.4,644.3 L734.5,643.2 L740.7,642.2 L746.8,641.1 L752.9,640.1 L759.0,638.9 L765.1,637.7 L771.2,636.4 L777.3,635.2 L783.3,634.0 L789.4,632.7 L795.5,631.5 L801.6,630.3 L807.7,629.1 L813.8,627.8 L819.9,626.6 L826.0,625.4 L832.0,624.1 L838.1,622.9 L844.2,621.6 L850.3,620.4 L856.4,619.2 L862.5,618.1 L868.6,617.0 L874.7,615.9 L880.8,614.8 L886.9,613.7 L893.0,612.6 L899.1,611.5 L905.2,610.3 L911.3,609.2 L917.4,608.1 L923.5,606.9 L929.6,605.8 L935.7,604.7 L941.8,603.6 L947.9,602.4 L954.0,601.3 L960.1,600.1 L966.2,599.0 L972.3,597.8 L978.4,596.7 L984.5,595.5 L990.6,594.4 L996.7,593.2 M640.2,681.0 L646.4,680.0 L652.6,679.0 L658.8,677.9 L665.0,676.9 L671.2,675.9 L677.4,674.8 L683.6,673.8 L689.8,672.8 L696.0,671.8 L702.2,670.7 L708.4,669.7 L714.6,668.7 L720.8,667.6 L727.0,666.6 L733.2,665.6 L739.4,664.5 L745.6,663.5 L751.8,662.5 L758.0,661.4 L764.2,660.3 L770.4,659.0 L776.5,657.8 L782.7,656.6 L788.9,655.3 L795.0,654.1 L801.2,652.9 L807.4,651.7 L813.5,650.4 L819.7,649.2 L825.9,648.0 L832.0,646.7 L838.2,645.5 L844.4,644.3 L850.5,643.0 L856.7,641.8 L862.9,640.6 L869.1,639.6 L875.3,638.5 L881.5,637.4 L887.7,636.4 L893.9,635.3 L900.1,634.2 L906.3,633.2 L912.5,632.1 L918.7,631.0 L924.9,630.0 L931.1,628.9 L937.3,627.8 L943.5,626.8 L949.7,625.7 L955.9,624.7 L962.0,623.6 L968.2,622.5 L974.4,621.5 L980.6,620.4 L986.8,619.3 L993.0,618.3 L999.2,617.2 L1005.4,616.1" fill="none" stroke="#dccbc0" stroke-width="9.9" opacity="0.45" transform="translate(0,-4.8)"/></g>
<g filter="url(#bl10)"><path d="M600.2,437.0 L605.1,435.0 L610.1,433.0 L615.1,431.0 L620.0,429.0 L625.0,427.0 L630.0,425.0 L634.9,423.0 L639.9,421.0 L644.9,419.0 L649.9,417.0 L654.8,415.0 L659.9,413.4 L665.1,412.2 L670.3,411.0 L675.6,409.8 L680.8,408.6 L686.0,407.4 L691.2,406.2 L696.4,405.0 L701.7,403.7 L706.9,402.5 L712.1,401.3 L717.3,400.1 L722.5,398.9 L727.7,397.7 L732.9,396.4 L738.2,395.2 L743.4,394.0 L748.6,392.8 L753.8,391.6 L759.0,390.4 L764.2,389.0 L769.4,387.5 L774.5,386.1 L779.7,384.6 L784.8,383.2 L790.0,381.8 L795.1,380.3 L800.3,378.9 L805.5,377.4 L810.6,376.0 L815.8,374.5 L820.8,372.8 L825.9,370.9 L830.9,369.1 L835.9,367.2 L840.9,365.3 L845.9,363.5 L851.0,361.6 L856.0,359.7 L861.0,357.9 L865.9,355.8 L870.9,353.7 L875.8,351.6 L880.7,349.5 L885.6,347.4 L890.6,345.3 L895.5,343.2 L900.4,341.1 M603.5,457.4 L608.6,455.4 L613.6,453.5 L618.7,451.6 L623.8,449.7 L628.9,447.8 L633.9,445.8 L639.0,443.9 L644.1,442.0 L649.1,440.1 L654.2,438.2 L659.3,436.3 L664.5,434.7 L669.8,433.5 L675.1,432.3 L680.4,431.1 L685.7,429.9 L691.0,428.7 L696.3,427.5 L701.6,426.3 L706.9,425.1 L712.2,423.9 L717.5,422.7 L722.8,421.5 L728.0,420.3 L733.3,419.0 L738.6,417.8 L743.9,416.6 L749.2,415.4 L754.5,414.2 L759.8,412.9 L765.1,411.7 L770.4,410.4 L775.6,408.9 L780.8,407.5 L786.1,406.1 L791.3,404.6 L796.6,403.2 L801.8,401.8 L807.1,400.4 L812.3,399.0 L817.6,397.6 L822.8,396.2 L828.0,394.5 L833.1,392.7 L838.2,390.9 L843.3,389.1 L848.4,387.3 L853.5,385.5 L858.7,383.7 L863.8,381.9 L868.9,380.1 L873.9,378.1 L879.0,376.1 L884.0,374.1 L889.0,372.1 L894.1,370.1 L899.1,368.1 L904.2,366.1 L909.2,364.1 M606.8,477.7 L612.0,475.8 L617.2,474.0 L622.4,472.2 L627.5,470.3 L632.7,468.5 L637.9,466.7 L643.1,464.8 L648.2,463.0 L653.4,461.1 L658.6,459.3 L663.8,457.5 L669.0,456.0 L674.4,454.8 L679.8,453.6 L685.2,452.4 L690.6,451.2 L695.9,450.1 L701.3,448.9 L706.7,447.7 L712.1,446.5 L717.5,445.3 L722.8,444.1 L728.2,442.8 L733.6,441.6 L739.0,440.4 L744.3,439.2 L749.7,438.0 L755.1,436.7 L760.4,435.5 L765.8,434.3 L771.2,433.1 L776.5,431.7 L781.9,430.3 L787.2,428.9 L792.5,427.5 L797.8,426.1 L803.2,424.7 L808.5,423.3 L813.8,422.0 L819.2,420.6 L824.5,419.2 L829.8,417.8 L835.1,416.2 L840.3,414.5 L845.5,412.7 L850.7,411.0 L855.9,409.3 L861.2,407.5 L866.4,405.8 L871.6,404.1 L876.8,402.3 L881.9,400.4 L887.1,398.5 L892.2,396.6 L897.4,394.7 L902.5,392.7 L907.7,390.8 L912.8,388.9 L917.9,387.0 M610.2,498.0 L615.4,496.3 L620.7,494.5 L626.0,492.7 L631.3,491.0 L636.6,489.2 L641.8,487.5 L647.1,485.7 L652.4,484.0 L657.7,482.2 L662.9,480.5 L668.2,478.7 L673.6,477.2 L679.1,476.1 L684.5,474.9 L690.0,473.7 L695.4,472.6 L700.9,471.4 L706.4,470.2 L711.8,469.1 L717.3,467.9 L722.7,466.7 L728.2,465.4 L733.7,464.2 L739.1,463.0 L744.6,461.8 L750.0,460.6 L755.5,459.3 L760.9,458.1 L766.4,456.9 L771.8,455.7 L777.3,454.5 L782.7,453.1 L788.1,451.7 L793.5,450.3 L798.9,448.9 L804.3,447.6 L809.8,446.2 L815.2,444.9 L820.6,443.5 L826.0,442.2 L831.4,440.8 L836.8,439.5 L842.2,437.9 L847.5,436.2 L852.8,434.6 L858.1,432.9 L863.5,431.2 L868.8,429.6 L874.1,427.9 L879.4,426.2 L884.7,424.6 L890.0,422.7 L895.2,420.9 L900.4,419.1 L905.7,417.2 L910.9,415.4 L916.2,413.6 L921.4,411.7 L926.7,409.9 M613.5,518.4 L618.9,516.7 L624.3,515.0 L629.6,513.3 L635.0,511.6 L640.4,510.0 L645.8,508.3 L651.2,506.6 L656.5,504.9 L661.9,503.3 L667.3,501.6 L672.7,499.9 L678.1,498.5 L683.7,497.4 L689.2,496.2 L694.8,495.1 L700.3,493.9 L705.9,492.8 L711.4,491.6 L717.0,490.5 L722.5,489.3 L728.0,488.0 L733.6,486.8 L739.1,485.6 L744.6,484.4 L750.2,483.1 L755.7,481.9 L761.2,480.7 L766.8,479.5 L772.3,478.3 L777.8,477.0 L783.4,475.8 L788.9,474.5 L794.4,473.1 L799.9,471.7 L805.3,470.4 L810.8,469.0 L816.4,467.7 L821.9,466.4 L827.4,465.1 L832.9,463.7 L838.4,462.4 L843.9,461.1 L849.3,459.6 L854.7,458.0 L860.1,456.4 L865.6,454.8 L871.0,453.2 L876.4,451.6 L881.8,450.0 L887.2,448.4 L892.6,446.8 L898.0,445.0 L903.3,443.3 L908.7,441.5 L914.0,439.8 L919.4,438.1 L924.7,436.3 L930.1,434.6 L935.4,432.8 M616.8,538.7 L622.3,537.1 L627.8,535.5 L633.3,533.9 L638.8,532.3 L644.2,530.7 L649.7,529.1 L655.2,527.5 L660.7,525.9 L666.2,524.3 L671.7,522.7 L677.1,521.1 L682.7,519.8 L688.3,518.6 L694.0,517.5 L699.6,516.4 L705.2,515.2 L710.8,514.1 L716.5,513.0 L722.1,511.8 L727.7,510.6 L733.3,509.4 L738.9,508.2 L744.6,507.0 L750.2,505.7 L755.8,504.5 L761.4,503.3 L767.0,502.1 L772.6,500.8 L778.2,499.6 L783.8,498.4 L789.5,497.2 L795.0,495.9 L800.6,494.5 L806.2,493.1 L811.8,491.8 L817.4,490.5 L822.9,489.2 L828.5,487.9 L834.1,486.6 L839.7,485.3 L845.3,484.0 L850.9,482.7 L856.4,481.3 L861.9,479.8 L867.5,478.2 L873.0,476.7 L878.5,475.2 L884.0,473.6 L889.5,472.1 L895.0,470.6 L900.5,469.0 L906.0,467.4 L911.4,465.7 L916.9,464.0 L922.4,462.4 L927.8,460.7 L933.3,459.1 L938.7,457.4 L944.2,455.7 M620.2,559.0 L625.8,557.5 L631.3,556.0 L636.9,554.5 L642.5,553.0 L648.1,551.4 L653.7,549.9 L659.3,548.4 L664.9,546.9 L670.4,545.4 L676.0,543.9 L681.6,542.4 L687.3,541.1 L693.0,539.9 L698.7,538.8 L704.4,537.7 L710.1,536.6 L715.8,535.4 L721.5,534.3 L727.2,533.2 L732.9,532.0 L738.6,530.8 L744.3,529.6 L750.0,528.3 L755.7,527.1 L761.4,525.9 L767.1,524.7 L772.8,523.4 L778.5,522.2 L784.2,521.0 L789.8,519.8 L795.5,518.5 L801.2,517.2 L806.9,515.9 L812.5,514.6 L818.2,513.2 L823.9,511.9 L829.5,510.7 L835.2,509.4 L840.9,508.1 L846.6,506.9 L852.2,505.6 L857.9,504.4 L863.6,503.0 L869.2,501.5 L874.8,500.1 L880.4,498.6 L886.0,497.1 L891.6,495.7 L897.2,494.2 L902.8,492.7 L908.4,491.3 L914.0,489.7 L919.6,488.1 L925.1,486.5 L930.7,485.0 L936.2,483.4 L941.8,481.8 L947.4,480.2 L952.9,478.6 M623.5,579.3 L629.2,577.9 L634.9,576.5 L640.6,575.1 L646.3,573.6 L651.9,572.2 L657.6,570.8 L663.3,569.3 L669.0,567.9 L674.7,566.5 L680.4,565.0 L686.1,563.6 L691.8,562.3 L697.6,561.2 L703.4,560.1 L709.2,559.0 L715.0,557.9 L720.8,556.8 L726.6,555.7 L732.4,554.6 L738.1,553.4 L743.9,552.2 L749.7,550.9 L755.5,549.7 L761.2,548.5 L767.0,547.3 L772.8,546.0 L778.5,544.8 L784.3,543.6 L790.1,542.4 L795.8,541.1 L801.6,539.9 L807.4,538.6 L813.1,537.3 L818.9,536.0 L824.6,534.6 L830.4,533.4 L836.1,532.1 L841.9,530.9 L847.7,529.7 L853.4,528.5 L859.2,527.2 L864.9,526.0 L870.7,524.7 L876.4,523.3 L882.1,521.9 L887.8,520.5 L893.5,519.1 L899.2,517.7 L904.9,516.3 L910.6,514.9 L916.3,513.5 L922.0,512.0 L927.7,510.5 L933.3,509.0 L939.0,507.5 L944.7,506.0 L950.3,504.5 L956.0,503.1 L961.7,501.6 M626.8,599.7 L632.6,598.3 L638.4,597.0 L644.2,595.6 L650.0,594.3 L655.8,592.9 L661.6,591.6 L667.4,590.2 L673.2,588.9 L679.0,587.5 L684.8,586.2 L690.5,584.8 L696.4,583.6 L702.3,582.5 L708.1,581.4 L714.0,580.3 L719.9,579.2 L725.8,578.1 L731.6,577.0 L737.5,575.9 L743.4,574.8 L749.2,573.5 L755.1,572.3 L760.9,571.1 L766.8,569.9 L772.6,568.6 L778.5,567.4 L784.3,566.2 L790.2,565.0 L796.0,563.7 L801.9,562.5 L807.7,561.3 L813.5,560.0 L819.4,558.7 L825.2,557.4 L831.0,556.1 L836.9,554.8 L842.7,553.6 L848.6,552.4 L854.4,551.2 L860.3,550.0 L866.1,548.9 L872.0,547.7 L877.8,546.4 L883.6,545.0 L889.4,543.7 L895.2,542.4 L901.0,541.1 L906.8,539.7 L912.6,538.4 L918.4,537.1 L924.2,535.7 L930.0,534.3 L935.8,532.9 L941.6,531.5 L947.3,530.1 L953.1,528.7 L958.9,527.3 L964.7,525.9 L970.4,524.5 M630.2,620.0 L636.1,618.7 L642.0,617.5 L647.9,616.2 L653.7,614.9 L659.6,613.7 L665.5,612.4 L671.4,611.1 L677.3,609.8 L683.2,608.6 L689.1,607.3 L695.0,606.0 L700.9,604.9 L706.9,603.8 L712.9,602.7 L718.8,601.6 L724.8,600.6 L730.7,599.5 L736.7,598.4 L742.6,597.3 L748.6,596.1 L754.5,594.9 L760.4,593.7 L766.4,592.5 L772.3,591.2 L778.2,590.0 L784.1,588.8 L790.1,587.5 L796.0,586.3 L801.9,585.1 L807.9,583.9 L813.8,582.6 L819.7,581.4 L825.6,580.1 L831.5,578.8 L837.4,577.5 L843.4,576.3 L849.3,575.1 L855.2,574.0 L861.2,572.8 L867.1,571.6 L873.1,570.5 L879.0,569.3 L884.9,568.1 L890.8,566.8 L896.7,565.5 L902.6,564.3 L908.5,563.0 L914.4,561.8 L920.3,560.5 L926.2,559.2 L932.1,558.0 L938.0,556.6 L943.9,555.3 L949.8,554.0 L955.7,552.7 L961.5,551.4 L967.4,550.0 L973.3,548.7 L979.2,547.4 M633.5,640.4 L639.5,639.2 L645.5,638.0 L651.5,636.8 L657.5,635.6 L663.5,634.4 L669.5,633.2 L675.5,632.0 L681.5,630.8 L687.5,629.6 L693.5,628.4 L699.5,627.3 L705.5,626.1 L711.5,625.1 L717.6,624.0 L723.6,622.9 L729.7,621.9 L735.7,620.8 L741.7,619.8 L747.8,618.7 L753.8,617.5 L759.8,616.3 L765.8,615.1 L771.8,613.8 L777.8,612.6 L783.8,611.4 L789.8,610.1 L795.8,608.9 L801.8,607.7 L807.9,606.5 L813.9,605.2 L819.9,604.0 L825.9,602.7 L831.9,601.5 L837.9,600.2 L843.9,598.9 L849.9,597.7 L855.9,596.6 L861.9,595.5 L867.9,594.3 L874.0,593.2 L880.0,592.1 L886.0,590.9 L892.0,589.8 L898.0,588.6 L904.0,587.4 L910.0,586.2 L916.0,585.0 L922.0,583.8 L928.0,582.6 L934.0,581.4 L940.0,580.2 L946.0,579.0 L952.0,577.7 L958.0,576.5 L964.0,575.3 L970.0,574.0 L976.0,572.8 L982.0,571.5 L987.9,570.3 M636.8,660.7 L642.9,659.6 L649.0,658.5 L655.1,657.4 L661.2,656.2 L667.3,655.1 L673.4,654.0 L679.5,652.9 L685.6,651.8 L691.7,650.7 L697.8,649.6 L703.9,648.5 L710.1,647.4 L716.2,646.3 L722.3,645.3 L728.4,644.3 L734.5,643.2 L740.7,642.2 L746.8,641.1 L752.9,640.1 L759.0,638.9 L765.1,637.7 L771.2,636.4 L777.3,635.2 L783.3,634.0 L789.4,632.7 L795.5,631.5 L801.6,630.3 L807.7,629.1 L813.8,627.8 L819.9,626.6 L826.0,625.4 L832.0,624.1 L838.1,622.9 L844.2,621.6 L850.3,620.4 L856.4,619.2 L862.5,618.1 L868.6,617.0 L874.7,615.9 L880.8,614.8 L886.9,613.7 L893.0,612.6 L899.1,611.5 L905.2,610.3 L911.3,609.2 L917.4,608.1 L923.5,606.9 L929.6,605.8 L935.7,604.7 L941.8,603.6 L947.9,602.4 L954.0,601.3 L960.1,600.1 L966.2,599.0 L972.3,597.8 L978.4,596.7 L984.5,595.5 L990.6,594.4 L996.7,593.2 M640.2,681.0 L646.4,680.0 L652.6,679.0 L658.8,677.9 L665.0,676.9 L671.2,675.9 L677.4,674.8 L683.6,673.8 L689.8,672.8 L696.0,671.8 L702.2,670.7 L708.4,669.7 L714.6,668.7 L720.8,667.6 L727.0,666.6 L733.2,665.6 L739.4,664.5 L745.6,663.5 L751.8,662.5 L758.0,661.4 L764.2,660.3 L770.4,659.0 L776.5,657.8 L782.7,656.6 L788.9,655.3 L795.0,654.1 L801.2,652.9 L807.4,651.7 L813.5,650.4 L819.7,649.2 L825.9,648.0 L832.0,646.7 L838.2,645.5 L844.4,644.3 L850.5,643.0 L856.7,641.8 L862.9,640.6 L869.1,639.6 L875.3,638.5 L881.5,637.4 L887.7,636.4 L893.9,635.3 L900.1,634.2 L906.3,633.2 L912.5,632.1 L918.7,631.0 L924.9,630.0 L931.1,628.9 L937.3,627.8 L943.5,626.8 L949.7,625.7 L955.9,624.7 L962.0,623.6 L968.2,622.5 L974.4,621.5 L980.6,620.4 L986.8,619.3 L993.0,618.3 L999.2,617.2 L1005.4,616.1" fill="none" stroke="#dccbc0" stroke-width="5.0"/></g>

</g>
<circle cx="909.6" cy="375.5" r="9.5" fill="url(#pom2)"/>
<circle cx="918.3" cy="398.4" r="9.5" fill="url(#pom2)"/>
<circle cx="927.1" cy="421.4" r="9.5" fill="url(#pom2)"/>
<circle cx="935.8" cy="444.3" r="9.5" fill="url(#pom2)"/>
<circle cx="944.6" cy="467.2" r="9.5" fill="url(#pom2)"/>
<circle cx="953.3" cy="490.1" r="9.5" fill="url(#pom2)"/>
<circle cx="962.1" cy="513.0" r="9.5" fill="url(#pom2)"/>
<circle cx="970.8" cy="535.9" r="9.5" fill="url(#pom2)"/>
<circle cx="979.6" cy="558.9" r="9.5" fill="url(#pom2)"/>
<circle cx="988.3" cy="581.8" r="9.5" fill="url(#pom2)"/>
<circle cx="997.1" cy="604.7" r="9.5" fill="url(#pom2)"/>
<path d="M615,424 L657,411 L700,401 L760,387 L817,371 L860,355 L898,338" fill="none" stroke="#faf5f0" stroke-width="7" filter="url(#bl15)" clip-path="url(#ca)"/>
<path d="M617,420 L690,400 L720,505 L646,505 Z" fill="#e0c9bd" opacity="0.55" filter="url(#soft3)" clip-path="url(#ca)"/>
<clipPath id="cbr"><path d="M911.0,377.0 L928.0,378.0 L955.0,379.0 L983.0,389.0 L1011.0,403.0 L1030.0,416.0 L1044.0,439.0 L1052.0,466.0 L1056.0,494.0 L1058.0,522.0 L1058.0,541.0 L1040.0,560.0 L1003.0,585.0 L990.0,551.0 L974.0,512.0 L955.0,480.0 L938.0,437.0 L925.0,402.0Z"/></clipPath>
<g clip-path="url(#cbr)">
<path d="M911.0,377.0 L928.0,378.0 L955.0,379.0 L983.0,389.0 L1011.0,403.0 L1030.0,416.0 L1044.0,439.0 L1052.0,466.0 L1056.0,494.0 L1058.0,522.0 L1058.0,541.0 L1040.0,560.0 L1003.0,585.0 L990.0,551.0 L974.0,512.0 L955.0,480.0 L938.0,437.0 L925.0,402.0Z" fill="#f3ebe5"/>
<g filter="url(#bl30)"><path d="M900.0,373.0 L950.0,369.0 L1000.0,369.0 L1030.0,373.0 L1070.0,381.0 M900.0,393.0 L950.0,389.0 L1000.0,389.0 L1030.0,393.0 L1070.0,401.0 M900.0,413.0 L950.0,409.0 L1000.0,409.0 L1030.0,413.0 L1070.0,421.0 M900.0,433.0 L950.0,429.0 L1000.0,429.0 L1030.0,433.0 L1070.0,441.0 M900.0,453.0 L950.0,449.0 L1000.0,449.0 L1030.0,453.0 L1070.0,461.0 M900.0,473.0 L950.0,469.0 L1000.0,469.0 L1030.0,473.0 L1070.0,481.0 M900.0,493.0 L950.0,489.0 L1000.0,489.0 L1030.0,493.0 L1070.0,501.0 M900.0,513.0 L950.0,509.0 L1000.0,509.0 L1030.0,513.0 L1070.0,521.0 M900.0,533.0 L950.0,529.0 L1000.0,529.0 L1030.0,533.0 L1070.0,541.0 M900.0,553.0 L950.0,549.0 L1000.0,549.0 L1030.0,553.0 L1070.0,561.0 M900.0,573.0 L950.0,569.0 L1000.0,569.0 L1030.0,573.0 L1070.0,581.0 M900.0,593.0 L950.0,589.0 L1000.0,589.0 L1030.0,593.0 L1070.0,601.0 M900.0,613.0 L950.0,609.0 L1000.0,609.0 L1030.0,613.0 L1070.0,621.0 M900.0,633.0 L950.0,629.0 L1000.0,629.0 L1030.0,633.0 L1070.0,641.0" fill="none" stroke="#ddcdc2" stroke-width="9.0" opacity="0.40" transform="translate(0,-4.4)"/></g>
<g filter="url(#bl10)"><path d="M900.0,373.0 L950.0,369.0 L1000.0,369.0 L1030.0,373.0 L1070.0,381.0 M900.0,393.0 L950.0,389.0 L1000.0,389.0 L1030.0,393.0 L1070.0,401.0 M900.0,413.0 L950.0,409.0 L1000.0,409.0 L1030.0,413.0 L1070.0,421.0 M900.0,433.0 L950.0,429.0 L1000.0,429.0 L1030.0,433.0 L1070.0,441.0 M900.0,453.0 L950.0,449.0 L1000.0,449.0 L1030.0,453.0 L1070.0,461.0 M900.0,473.0 L950.0,469.0 L1000.0,469.0 L1030.0,473.0 L1070.0,481.0 M900.0,493.0 L950.0,489.0 L1000.0,489.0 L1030.0,493.0 L1070.0,501.0 M900.0,513.0 L950.0,509.0 L1000.0,509.0 L1030.0,513.0 L1070.0,521.0 M900.0,533.0 L950.0,529.0 L1000.0,529.0 L1030.0,533.0 L1070.0,541.0 M900.0,553.0 L950.0,549.0 L1000.0,549.0 L1030.0,553.0 L1070.0,561.0 M900.0,573.0 L950.0,569.0 L1000.0,569.0 L1030.0,573.0 L1070.0,581.0 M900.0,593.0 L950.0,589.0 L1000.0,589.0 L1030.0,593.0 L1070.0,601.0 M900.0,613.0 L950.0,609.0 L1000.0,609.0 L1030.0,613.0 L1070.0,621.0 M900.0,633.0 L950.0,629.0 L1000.0,629.0 L1030.0,633.0 L1070.0,641.0" fill="none" stroke="#ddcdc2" stroke-width="4.0"/></g>

</g>
<g clip-path="url(#cbx)">
<path d="M934.0,445.0 L950.0,432.0 L975.0,430.0 L995.0,438.0 L1009.0,455.0 L1009.0,575.0 L1003.0,585.0 L990.0,551.0 L974.0,512.0 L955.0,480.0 L940.0,450.0Z" fill="#d7baab" opacity="0.6" filter="url(#bl30)"/>
<path d="M905,372 Q975,368 1045,430 L1040,445 Q975,415 915,410 Z" fill="#f8f2ed" opacity="0.75" filter="url(#soft3)"/>
<path d="M1009,452 L1008,575" stroke="#d1bdb1" stroke-width="2" fill="none" filter="url(#bl10)"/>
</g>
<clipPath id="cs"><path d="M262.0,894.0 L322.0,891.0 L372.0,869.0 L413.0,847.0 L441.0,825.0 L449.0,813.0 L511.0,795.0 L545.0,795.0 L745.0,760.0 L850.0,722.0 L928.0,680.0 L921.0,652.0 L907.0,619.0 L912.0,616.0 L950.0,603.0 L999.0,583.0 L1058.0,541.0 L1080.0,538.0 L1108.0,538.0 L1149.0,549.0 L1191.0,569.0 L1218.0,585.0 L1240.0,599.0 L1246.0,602.0 L1246.0,602.0 L1255.0,615.0 L1262.0,645.0 L1252.0,680.0 L1230.0,703.0 L1189.0,726.0 L1140.0,750.0 L1089.0,770.0 L1040.0,790.0 L972.0,817.0 L950.0,835.0 L915.0,859.0 L881.0,893.0 L846.0,921.0 L811.0,945.0 L777.0,959.0 L742.0,962.0 L700.0,960.0 L650.0,957.0 L610.0,955.0 L555.0,951.0 L499.0,944.0 L444.0,933.0 L388.0,919.0 L333.0,905.0 L264.0,894.0Z"/></clipPath>
<g clip-path="url(#cs)">
<path d="M262.0,894.0 L322.0,891.0 L372.0,869.0 L413.0,847.0 L441.0,825.0 L449.0,813.0 L511.0,795.0 L545.0,795.0 L745.0,760.0 L850.0,722.0 L928.0,680.0 L921.0,652.0 L907.0,619.0 L912.0,616.0 L950.0,603.0 L999.0,583.0 L1058.0,541.0 L1080.0,538.0 L1108.0,538.0 L1149.0,549.0 L1191.0,569.0 L1218.0,585.0 L1240.0,599.0 L1246.0,602.0 L1246.0,602.0 L1255.0,615.0 L1262.0,645.0 L1252.0,680.0 L1230.0,703.0 L1189.0,726.0 L1140.0,750.0 L1089.0,770.0 L1040.0,790.0 L972.0,817.0 L950.0,835.0 L915.0,859.0 L881.0,893.0 L846.0,921.0 L811.0,945.0 L777.0,959.0 L742.0,962.0 L700.0,960.0 L650.0,957.0 L610.0,955.0 L555.0,951.0 L499.0,944.0 L444.0,933.0 L388.0,919.0 L333.0,905.0 L264.0,894.0Z" fill="#f2ebe4"/>
<g filter="url(#bl30)"><path d="M506.1,958.2 L509.5,956.0 L512.9,953.9 L516.3,951.8 L519.7,949.7 L523.1,947.6 L526.4,945.4 L529.8,943.3 L533.2,941.2 L536.6,939.1 L540.0,937.0 L543.4,934.9 L546.9,932.8 L550.3,930.7 L553.7,928.7 L557.1,926.6 L560.6,924.6 L564.0,922.6 L567.5,920.6 L571.0,918.6 L574.4,916.6 L577.9,914.7 L581.5,912.7 L585.0,910.8 L588.5,908.9 L592.0,907.1 L595.6,905.2 L599.1,903.4 L602.7,901.6 L606.3,899.8 L609.9,898.1 L613.5,896.3 L617.1,894.6 L620.7,892.9 L624.4,891.2 L628.0,889.6 L631.6,887.9 L635.3,886.3 L639.0,884.7 L642.6,883.1 L646.3,881.6 L650.0,880.0 L653.7,878.4 L657.4,876.9 L661.1,875.4 L664.8,873.9 L668.5,872.4 L672.2,870.9 L675.9,869.5 L679.7,868.0 L683.4,866.6 L687.1,865.1 L690.9,863.7 L694.6,862.3 L698.4,860.9 L702.1,859.5 L705.9,858.1 L709.6,856.7 L713.4,855.3 L717.1,854.0 L720.9,852.6 L724.6,851.2 L728.4,849.9 L732.2,848.5 L735.9,847.1 L739.7,845.7 L743.4,844.4 L747.2,843.0 L750.9,841.6 L754.7,840.3 L758.5,838.9 L762.2,837.5 L766.0,836.2 L769.7,834.8 L773.5,833.4 L777.3,832.1 L781.0,830.7 L784.8,829.3 L788.5,828.0 L792.3,826.6 L796.0,825.2 L799.8,823.9 L803.6,822.5 L807.3,821.1 L811.1,819.8 L814.8,818.4 L818.6,817.0 L822.4,815.6 L826.1,814.3 L829.9,812.9 L833.6,811.5 L837.4,810.2 L841.1,808.8 L844.9,807.4 L848.6,806.0 L852.4,804.6 L856.1,803.2 L859.9,801.7 L863.6,800.3 L867.3,798.8 L871.0,797.4 L874.7,795.9 L878.5,794.4 L882.2,792.8 L885.8,791.3 L889.5,789.7 L893.2,788.1 L896.9,786.5 L900.5,784.9 L904.2,783.3 L907.8,781.6 L911.4,779.9 L915.0,778.2 L918.6,776.4 L922.2,774.7 L925.8,772.9 L929.4,771.1 L932.9,769.2 L936.4,767.3 L940.0,765.4 L943.5,763.5 L946.9,761.5 L950.4,759.6 L953.9,757.6 L957.3,755.5 L960.7,753.5 L964.2,751.4 L967.6,749.2 L970.9,747.1 L974.3,744.9 L977.6,742.7 L980.9,740.5 L984.3,738.2 L987.5,736.0 L990.8,733.7 L994.1,731.3 L997.3,729.0 L1000.5,726.6 L1003.7,724.2 L1006.9,721.7 L1010.0,719.3 L1013.1,716.8 L1016.3,714.3 L1019.4,711.7 L1022.4,709.2 L1025.5,706.6 L1028.5,704.0 L1031.5,701.4 L1034.5,698.7 L1037.5,696.1 L1040.5,693.4 L1043.4,690.7 L1046.4,687.9 L1049.3,685.2 L1052.1,682.4 L1055.0,679.6 L1057.9,676.8 L1060.7,674.0 L1063.5,671.1 L1066.3,668.3 L1069.1,665.4 L1071.9,662.5 L1074.6,659.6 L1077.3,656.7 L1080.0,653.8 L1082.7,650.8 L1085.4,647.8 L1088.1,644.8 L1090.7,641.9 L1093.4,638.8 L1096.0,635.8 L1098.6,632.8 L1101.2,629.7 L1103.8,626.7 L1106.3,623.6 L1108.9,620.5 L1111.4,617.5 L1114.0,614.4 L1116.5,611.3 L1119.0,608.1 L1121.5,605.0 L1124.0,601.9 L1126.5,598.7 L1128.9,595.6 L1131.4,592.4 L1133.8,589.3 L1136.3,586.1 L1138.7,582.9 L1141.1,579.7 L1143.5,576.5 L1145.9,573.3 L1148.3,570.1 L1150.7,566.9 L1153.1,563.7 L1155.5,560.5 L1157.9,557.3 L1160.2,554.1 L1162.6,550.8 L1165.0,547.6 L1167.3,544.4 L1169.7,541.2 L1172.0,537.9 M485.6,955.6 L489.0,953.5 L492.4,951.4 L495.8,949.3 L499.2,947.1 L502.6,945.0 L506.0,942.9 L509.4,940.8 L512.8,938.7 L516.2,936.5 L519.6,934.4 L523.0,932.3 L526.4,930.3 L529.8,928.2 L533.2,926.1 L536.7,924.1 L540.1,922.1 L543.6,920.0 L547.1,918.0 L550.5,916.1 L554.0,914.1 L557.5,912.2 L561.0,910.2 L564.5,908.3 L568.1,906.5 L571.6,904.6 L575.2,902.8 L578.7,901.0 L582.3,899.2 L585.9,897.4 L589.5,895.6 L593.1,893.9 L596.7,892.2 L600.3,890.5 L604.0,888.8 L607.6,887.2 L611.3,885.5 L614.9,883.9 L618.6,882.3 L622.3,880.8 L626.0,879.2 L629.6,877.7 L633.3,876.1 L637.0,874.6 L640.8,873.1 L644.5,871.6 L648.2,870.2 L651.9,868.7 L655.6,867.3 L659.4,865.8 L663.1,864.4 L666.9,863.0 L670.6,861.6 L674.3,860.2 L678.1,858.8 L681.8,857.4 L685.6,856.0 L689.4,854.6 L693.1,853.3 L696.9,851.9 L700.6,850.5 L704.4,849.1 L708.1,847.8 L711.9,846.4 L715.7,845.0 L719.4,843.7 L723.2,842.3 L726.9,840.9 L730.7,839.6 L734.5,838.2 L738.2,836.8 L742.0,835.5 L745.7,834.1 L749.5,832.7 L753.2,831.4 L757.0,830.0 L760.8,828.6 L764.5,827.3 L768.3,825.9 L772.0,824.5 L775.8,823.2 L779.6,821.8 L783.3,820.4 L787.1,819.1 L790.8,817.7 L794.6,816.3 L798.4,814.9 L802.1,813.6 L805.9,812.2 L809.6,810.8 L813.4,809.5 L817.1,808.1 L820.9,806.7 L824.7,805.4 L828.4,804.0 L832.2,802.6 L835.9,801.3 L839.7,799.9 L843.4,798.5 L847.2,797.1 L850.9,795.7 L854.7,794.3 L858.4,792.8 L862.1,791.4 L865.9,790.0 L869.6,788.5 L873.3,787.0 L877.0,785.5 L880.7,784.0 L884.4,782.5 L888.1,780.9 L891.8,779.3 L895.4,777.7 L899.1,776.1 L902.8,774.5 L906.4,772.8 L910.0,771.1 L913.6,769.4 L917.2,767.7 L920.8,765.9 L924.4,764.1 L928.0,762.3 L931.5,760.5 L935.1,758.6 L938.6,756.7 L942.1,754.8 L945.6,752.9 L949.1,750.9 L952.5,748.9 L956.0,746.9 L959.4,744.8 L962.8,742.7 L966.2,740.6 L969.6,738.5 L973.0,736.3 L976.3,734.1 L979.7,731.9 M523.2,962.8 L526.6,960.7 L529.9,958.6 L533.3,956.5 L536.7,954.3 L540.1,952.2 L543.5,950.1 L546.9,948.0 L550.3,945.9 L553.7,943.7 L557.1,941.6 L560.5,939.5 L563.9,937.4 L567.3,935.3 L570.7,933.2 L574.1,931.1 L577.5,929.0 L580.9,927.0 L584.4,924.9 L587.8,922.9 L591.3,920.8 L594.7,918.8 L598.2,916.9 L601.7,914.9 L605.2,912.9 L608.7,911.0 L612.2,909.1 L615.7,907.2 L619.3,905.4 L622.8,903.5 L626.4,901.7 L629.9,899.9 L633.5,898.1 L637.1,896.3 L640.7,894.6 L644.3,892.9 L647.9,891.2 L651.6,889.5 L655.2,887.8 L658.9,886.2 L662.5,884.6 L666.2,883.0 L669.9,881.4 L673.5,879.8 L677.2,878.3 L680.9,876.7 L684.6,875.2 L688.3,873.7 L692.0,872.2 L695.8,870.8 L699.5,869.3 L703.2,867.8 L706.9,866.4 L710.7,865.0 L714.4,863.5 L718.2,862.1 L721.9,860.7 L725.6,859.3 L729.4,858.0 L733.2,856.6 L736.9,855.2 L740.7,853.8 L744.4,852.4 L748.2,851.1 L751.9,849.7 L755.7,848.3 L759.5,847.0 L763.2,845.6 L767.0,844.2 L770.7,842.9 L774.5,841.5 L778.3,840.1 L782.0,838.8 L785.8,837.4 L789.5,836.0 L793.3,834.7 L797.0,833.3 L800.8,831.9 L804.6,830.6 L808.3,829.2 L812.1,827.8 L815.8,826.4 L819.6,825.1 L823.4,823.7 L827.1,822.3 L830.9,821.0 L834.6,819.6 L838.4,818.2 L842.1,816.8 L845.9,815.4 L849.6,814.0 L853.4,812.6 L857.1,811.2 L860.8,809.8 L864.6,808.3 L868.3,806.9 L872.0,805.4 L875.7,803.9 L879.4,802.4 L883.1,800.9 L886.8,799.3 L890.5,797.7 L894.2,796.2 L897.8,794.5 L901.5,792.9 L905.1,791.3 L908.8,789.6 M917.5,791.7 L921.1,790.0 L924.6,788.1 L928.2,786.3 L931.7,784.4 L935.2,782.6 L938.8,780.7 L942.3,778.8 L945.8,776.8 L949.3,774.9 L952.7,772.9 L956.2,770.8 L959.6,768.8 L963.0,766.7 L966.4,764.6 L969.8,762.4 L973.2,760.3 L976.5,758.1 L979.8,755.9 L983.1,753.6 L986.4,751.3 L989.7,749.0 L993.0,746.7 L996.2,744.4 L999.4,742.0 L1002.6,739.6 L1005.8,737.2 L1009.0,734.7 L1012.1,732.2 L1015.2,729.7 L1018.3,727.2 L1021.4,724.7 L1024.5,722.1 L1027.5,719.5 L1030.5,716.9 L1033.5,714.2 L1036.5,711.6 L1039.5,708.9 L1042.4,706.2 L1045.4,703.5 L1048.3,700.7 L1051.2,698.0 L1054.0,695.2 L1056.9,692.4 L1059.7,689.6 L1062.6,686.7 L1065.4,683.9 L1068.2,681.0 L1070.9,678.1 L1073.7,675.2 L1076.4,672.3 L1079.1,669.4 L1081.8,666.4 L1084.5,663.4 L1087.2,660.5 L1089.8,657.5 L1092.5,654.5 L1095.1,651.5 L1097.7,648.4 L1100.3,645.4 L1102.9,642.3 L1105.5,639.3 L1108.0,636.2 L1110.6,633.1 L1113.1,630.0 L1115.6,626.9 L1118.2,623.8 L1120.7,620.7 L1123.1,617.5 L1125.6,614.4 L1128.1,611.3 L1130.5,608.1 L1133.0,604.9 L1135.4,601.8 L1137.9,598.6 L1140.3,595.4 L1142.7,592.2 L1145.1,589.0 L1147.5,585.8 L1149.9,582.6 L1152.3,579.4 L1154.7,576.2 L1157.1,573.0 L1159.4,569.8 L1161.8,566.5 L1164.2,563.3 L1166.5,560.1 L1168.9,556.9 L1171.2,553.6 L1173.6,550.4 L1176.0,547.2 L1178.3,543.9 L1180.7,540.7 M983.1,723.1 L986.4,720.8 L989.7,718.5 L992.9,716.2 L996.1,713.8 L999.4,711.5 L1002.6,709.1 L1005.7,706.6 L1008.9,704.2 L1012.0,701.7 L1015.2,699.2 L1018.3,696.7 L1021.3,694.1 L1024.4,691.6 L1027.5,689.0 L1030.5,686.4 L1033.5,683.7 L1036.5,681.1 L1039.4,678.4 L1042.4,675.7 L1045.3,672.9 L1048.2,670.2 L1051.1,667.4 L1054.0,664.7 L1056.9,661.9 L1059.7,659.0 L1062.5,656.2 L1065.3,653.4 L1068.1,650.5 L1070.9,647.6 L1073.6,644.7 L1076.4,641.8 L1079.1,638.8 L1081.8,635.9 L1084.5,632.9 L1087.1,630.0 L1089.8,627.0 L1092.4,624.0 L1095.1,620.9 L1097.7,617.9 L1100.3,614.9 L1102.9,611.8 L1105.4,608.8 L1108.0,605.7 L1110.5,602.6 L1113.1,599.5 L1115.6,596.4 L1118.1,593.3 L1120.6,590.2 L1123.1,587.0 L1125.6,583.9 L1128.0,580.7 L1130.5,577.6 L1133.0,574.4 L1135.4,571.3 L1137.8,568.1 L1140.3,564.9 L1142.7,561.7 L1145.1,558.5 L1147.5,555.3 L1149.9,552.1 L1152.3,548.9 L1154.6,545.7 L1157.0,542.5 L1159.4,539.3 L1161.8,536.0 M468.6,950.9 L472.0,948.8 L475.4,946.7 L478.7,944.6 L482.1,942.5 L485.5,940.3 L488.9,938.2 L492.3,936.1 L495.7,934.0 L499.1,931.9 L502.6,929.8 L506.0,927.8 L509.4,925.7 L512.8,923.7 L516.3,921.6 L519.8,919.6 L523.2,917.6 L526.7,915.7 L530.2,913.7 L533.7,911.8 L537.2,909.9 L540.7,908.0 L544.3,906.1 L547.8,904.2 L551.4,902.4 L554.9,900.6 L558.5,898.8 L562.1,897.0 L565.7,895.3 L569.3,893.6 L572.9,891.8 L576.5,890.2 L580.2,888.5 L583.8,886.9 L587.5,885.2 L591.1,883.6 L594.8,882.0 L598.5,880.4 L602.2,878.9 L605.9,877.3 L609.6,875.8 L613.3,874.3 L617.0,872.8 L620.7,871.3 L624.4,869.9 L628.1,868.4 L631.9,867.0 L635.6,865.5 L639.3,864.1 L643.1,862.7 L646.8,861.3 L650.6,859.9 L654.3,858.5 L658.1,857.1 L661.8,855.7 L665.6,854.4 L669.3,853.0 L673.1,851.6 L676.8,850.2 L680.6,848.9 L684.4,847.5 L688.1,846.1 L691.9,844.8 L695.6,843.4 L699.4,842.0 L703.2,840.7 L706.9,839.3 L710.7,837.9 L714.4,836.6 L718.2,835.2 L722.0,833.8 L725.7,832.5 L729.5,831.1 L733.2,829.7 L737.0,828.4 L740.7,827.0 L744.5,825.6 L748.3,824.2 L752.0,822.9 L755.8,821.5 L759.5,820.1 L763.3,818.8 L767.1,817.4 L770.8,816.0 L774.6,814.7 L778.3,813.3 L782.1,811.9 L785.9,810.6 L789.6,809.2 L793.4,807.8 L797.1,806.5 L800.9,805.1 L804.6,803.7 L808.4,802.4 L812.2,801.0 L815.9,799.6 L819.7,798.3 L823.4,796.9 L827.2,795.5 L831.0,794.1 L834.7,792.8 L838.5,791.4 L842.2,790.0 L846.0,788.6 L849.7,787.2 L853.5,785.8 L857.2,784.4 L860.9,782.9 L864.7,781.5 L868.4,780.0 L872.1,778.6 L875.8,777.1 L879.5,775.6 L883.2,774.0 L886.9,772.5 L890.6,770.9 L894.3,769.3 L897.9,767.7 L901.6,766.1 L905.2,764.4 L908.8,762.7 L912.5,761.0 L916.1,759.3 L919.7,757.6 L923.2,755.8 L926.8,754.0 L930.4,752.2 L933.9,750.3 L937.4,748.4 L941.0,746.5 L944.5,744.6 M949.2,735.7 L952.7,733.7 L956.1,731.7 L959.5,729.6 L963.0,727.6 L966.4,725.4 L969.7,723.3 L973.1,721.1 L976.4,718.9 M543.6,965.4 L547.0,963.2 L550.4,961.1 L553.8,959.0 L557.2,956.9 L560.6,954.8 L564.0,952.7 L567.4,950.5 L570.8,948.4 L574.1,946.3 L577.5,944.2 L580.9,942.1 L584.3,939.9 L587.7,937.8 L591.1,935.7 L594.5,933.6 L597.9,931.5 L601.4,929.4 L604.8,927.4 L608.2,925.3 L611.6,923.3 L615.1,921.3 L618.6,919.2 L622.0,917.3 L625.5,915.3 L629.0,913.3 L632.5,911.4 L636.0,909.5 L639.5,907.6 L643.1,905.7 L646.6,903.9 L650.2,902.0 L653.7,900.2 L657.3,898.5 L660.9,896.7 L664.5,894.9 L668.1,893.2 L671.7,891.5 L675.4,889.8 L679.0,888.2 L682.7,886.5 L686.3,884.9 L690.0,883.3 L693.6,881.7 L697.3,880.1 L701.0,878.6 L704.7,877.1 L708.4,875.5 L712.1,874.0 L715.8,872.5 L719.5,871.1 L723.3,869.6 L727.0,868.1 L730.7,866.7 L734.5,865.3 L738.2,863.9 L741.9,862.4 L745.7,861.0 L749.4,859.6 L753.2,858.3 L756.9,856.9 L760.7,855.5 L764.5,854.1 L768.2,852.8 L772.0,851.4 L775.7,850.0 L779.5,848.7 L783.2,847.3 L787.0,845.9 L790.8,844.5 L794.5,843.2 L798.3,841.8 L802.0,840.4 L805.8,839.1 L809.6,837.7 L813.3,836.3 L817.1,835.0 L820.8,833.6 L824.6,832.2 L828.4,830.9 L832.1,829.5 L835.9,828.1 L839.6,826.7 L843.4,825.3 L847.1,824.0 L850.9,822.6 L854.6,821.1 L858.3,819.7 L862.1,818.3 L865.8,816.8 L869.5,815.4 L873.2,813.9 L876.9,812.4 L880.7,810.9 L884.3,809.3 L888.0,807.8 L891.7,806.2 L895.4,804.6 L899.0,803.0 L902.7,801.3 L906.3,799.7 L909.9,798.0 M572.6,966.9 L576.0,964.8 L579.3,962.7 L582.7,960.5 L586.1,958.4 L589.5,956.3 L592.9,954.2 L596.3,952.1 L599.7,949.9 L603.1,947.8 L606.5,945.7 L609.9,943.6 L613.3,941.5 L616.7,939.3 L620.1,937.2 L623.5,935.1 L626.9,933.1 L630.3,931.0 L633.7,928.9 L637.2,926.9 L640.6,924.8 L644.1,922.8 L647.5,920.8 L651.0,918.8 L654.5,916.8 L658.0,914.9 L661.5,913.0 L665.0,911.1 L668.5,909.2 L672.1,907.3 L675.6,905.5 L679.2,903.6 L682.7,901.8 L686.3,900.0 L689.9,898.3 L693.5,896.5 L697.1,894.8 L700.7,893.1 L704.4,891.4 L708.0,889.8 L711.6,888.1 L715.3,886.5 L719.0,884.9 L722.6,883.3 L726.3,881.8 L730.0,880.2 L733.7,878.7 L737.4,877.2 L741.1,875.7 L744.8,874.2 L748.6,872.8 L752.3,871.3 L756.0,869.9 L759.8,868.4 L763.5,867.0 L767.2,865.6 L771.0,864.2 L774.7,862.8 L778.5,861.4 L782.2,860.0 L786.0,858.7 L789.8,857.3 L793.5,855.9 L797.3,854.5 L801.0,853.2 L804.8,851.8 L808.6,850.4 L812.3,849.1 L816.1,847.7 L819.8,846.3 L823.6,845.0 L827.3,843.6 L831.1,842.2 L834.9,840.8 L838.6,839.5 L842.4,838.1 L846.1,836.7 L849.8,835.2 L853.6,833.8 L857.3,832.4 L861.0,830.9 L864.8,829.5 L868.5,828.0 L872.2,826.5 L875.9,825.0 L879.6,823.5 L883.3,821.9 L887.0,820.3 L890.6,818.8 L894.3,817.1 L897.9,815.5 L901.6,813.9 L905.2,812.2 L908.8,810.5 L912.4,808.8 L916.0,807.0 L919.6,805.2 L923.2,803.4 L926.8,801.6 L930.3,799.8 L933.9,797.9 L937.4,796.1 L940.9,794.1 L944.4,792.2 L947.9,790.2 L951.4,788.3 L954.8,786.2 L958.3,784.2 L961.7,782.1 L965.1,780.0 L968.5,777.9 L971.9,775.7 L975.2,773.6 L978.5,771.4 L981.9,769.1 L985.2,766.9 L988.4,764.6 L991.7,762.3 L994.9,759.9 L998.2,757.5 L1001.4,755.2 L1004.6,752.7 L1007.7,750.3 L1010.9,747.8 L1014.0,745.3 L1017.1,742.8 L1020.2,740.3 L1023.3,737.7 L1026.3,735.1 L1029.4,732.5 L1032.4,729.9 L1035.4,727.2 L1038.3,724.6 L1041.3,721.9 L1044.2,719.2 L1047.2,716.4 L1050.1,713.7 L1052.9,710.9 L1055.8,708.1 L1058.6,705.3 L1061.5,702.5 L1064.3,699.6 L1067.1,696.7 L1069.8,693.9 L1072.6,691.0 L1075.3,688.1 L1078.1,685.1 L1080.8,682.2 L1083.5,679.2 L1086.2,676.3 L1088.8,673.3 L1091.5,670.3 L1094.1,667.3 L1096.7,664.2 L1099.3,661.2 L1101.9,658.2 L1104.5,655.1 L1107.0,652.0 L1109.6,648.9 L1112.1,645.9 L1114.7,642.8 L1117.2,639.6 L1119.7,636.5 L1122.2,633.4 L1124.7,630.3 L1127.1,627.1 L1129.6,624.0 L1132.0,620.8 L1134.5,617.6 L1136.9,614.5 L1139.3,611.3 L1141.8,608.1 L1144.2,604.9 L1146.6,601.7 L1149.0,598.5 L1151.4,595.3 L1153.8,592.1 L1156.1,588.9 L1158.5,585.6 L1160.9,582.4 L1163.2,579.2 L1165.6,576.0 L1168.0,572.7 L1170.3,569.5 L1172.7,566.3 L1175.0,563.0 L1177.4,559.8 L1179.7,556.6 L1182.1,553.3 L1184.4,550.1 L1186.8,546.9 M978.5,710.3 L981.8,708.0 L985.1,705.7 L988.3,703.4 L991.6,701.1 L994.8,698.7 L998.0,696.4 L1001.2,694.0 L1004.4,691.6 L1007.6,689.1 L1010.7,686.7 L1013.9,684.2 L1017.0,681.6 L1020.1,679.1 L1023.1,676.5 L1026.2,674.0 L1029.2,671.4 L1032.2,668.7 L1035.2,666.1 L1038.2,663.4 L1041.2,660.7 L1044.1,658.0 L1047.0,655.3 L1049.9,652.5 L1052.8,649.7 L1055.7,646.9 L1058.5,644.1 L1061.3,641.3 L1064.2,638.5 L1067.0,635.6 L1069.7,632.7 L1072.5,629.8 L1075.2,626.9 L1078.0,624.0 L1080.7,621.0 L1083.4,618.1 L1086.0,615.1 L1088.7,612.1 L1091.3,609.1 L1094.0,606.1 L1096.6,603.1 L1099.2,600.1 L1101.8,597.0 L1104.4,593.9 L1106.9,590.9 L1109.5,587.8 L1112.0,584.7 L1114.6,581.6 L1117.1,578.5 L1119.6,575.4 L1122.1,572.2 L1124.6,569.1 L1127.0,566.0 L1129.5,562.8 L1131.9,559.7 L1134.4,556.5 L1136.8,553.3 L1139.2,550.1 L1141.7,546.9 L1144.1,543.8 L1146.5,540.6 L1148.9,537.4 L1151.3,534.1 L1153.7,530.9 M448.1,948.4 L451.5,946.3 L454.9,944.2 L458.3,942.0 L461.7,939.9 L465.1,937.8 L468.5,935.7 L471.9,933.6 L475.3,931.5 L478.7,929.4 L482.1,927.4 L485.6,925.3 L489.0,923.3 L492.5,921.2 L495.9,919.2 L499.4,917.2 L502.9,915.3 L506.4,913.3 L509.9,911.4 L513.4,909.5 L516.9,907.6 L520.4,905.7 L524.0,903.9 L527.5,902.0 L531.1,900.2 L534.7,898.4 L538.3,896.7 L541.9,894.9 L545.5,893.2 L549.1,891.5 L552.7,889.8 L556.4,888.2 L560.0,886.5 L563.7,884.9 L567.3,883.3 L571.0,881.7 L574.7,880.1 L578.4,878.6 L582.1,877.0 L585.8,875.5 L589.5,874.0 L593.2,872.5 L596.9,871.0 L600.6,869.6 L604.3,868.1 L608.1,866.7 L611.8,865.2 L615.5,863.8 L619.3,862.4 L623.0,861.0 L626.8,859.6 L630.5,858.2 L634.3,856.8 L638.0,855.5 L641.8,854.1 L645.6,852.7 L649.3,851.3 L653.1,850.0 L656.8,848.6 L660.6,847.2 L664.3,845.9 L668.1,844.5 L671.9,843.1 L675.6,841.8 L679.4,840.4 L683.1,839.0 L686.9,837.7 L690.7,836.3 L694.4,834.9 L698.2,833.5 L701.9,832.2 L705.7,830.8 L709.5,829.4 L713.2,828.1 L717.0,826.7 L720.7,825.3 L724.5,824.0 L728.2,822.6 L732.0,821.2 L735.8,819.9 L739.5,818.5 L743.3,817.1 L747.0,815.8 L750.8,814.4 L754.6,813.0 L758.3,811.7 L762.1,810.3 L765.8,808.9 L769.6,807.6 L773.4,806.2 L777.1,804.8 L780.9,803.5 L784.6,802.1 L788.4,800.7 L792.1,799.3 L795.9,798.0 L799.7,796.6 L803.4,795.2 L807.2,793.9 L810.9,792.5 L814.7,791.1 L818.5,789.8 L822.2,788.4 L826.0,787.0 L829.7,785.7 L833.5,784.3 L837.2,782.9 L841.0,781.5 L844.8,780.1 L848.5,778.7 L852.2,777.3 L856.0,775.9 L859.7,774.5 L863.4,773.0 L867.2,771.6 L870.9,770.1 L874.6,768.6 L878.3,767.1 L882.0,765.6 L885.7,764.1 L889.4,762.5 L893.1,760.9 L896.7,759.3 L900.4,757.7 L904.0,756.0 L907.7,754.4 L911.3,752.7 L914.9,750.9 L918.5,749.2 L922.1,747.4 L925.7,745.6 L929.2,743.8 L932.8,742.0 L936.3,740.1 L939.8,738.2 M423.9,942.7 L427.3,940.6 L430.7,938.5 L434.1,936.4 L437.5,934.3 L440.9,932.2 L444.3,930.1 L447.8,928.1 L451.2,926.0 L454.6,924.0 L458.1,922.0 L461.6,920.0 L465.0,918.0 L468.5,916.0 L472.0,914.1 L475.5,912.2 L479.1,910.3 L482.6,908.4 L486.1,906.5 L489.7,904.7 L493.3,902.9 L496.8,901.1 L500.4,899.3 L504.0,897.6 L507.6,895.8 L511.2,894.1 L514.8,892.4 L518.5,890.7 L522.1,889.1 L525.8,887.5 L529.4,885.8 L533.1,884.2 L536.8,882.7 L540.5,881.1 L544.1,879.5 L547.8,878.0 L551.5,876.5 L555.2,875.0 L559.0,873.5 L562.7,872.0 L566.4,870.6 L570.1,869.1 L573.9,867.7 L577.6,866.3 L581.3,864.8 L585.1,863.4 L588.8,862.0 L592.6,860.6 L596.3,859.2 L600.1,857.9 L603.8,856.5 L607.6,855.1 L611.3,853.7 L615.1,852.4 L618.9,851.0 L622.6,849.6 L626.4,848.3 L630.1,846.9 L633.9,845.5 L637.7,844.1 L641.4,842.8 L645.2,841.4 L648.9,840.0 L652.7,838.7 L656.5,837.3 L660.2,835.9 L664.0,834.6 L667.7,833.2 L671.5,831.8 L675.2,830.5 L679.0,829.1 L682.8,827.7 L686.5,826.4 L690.3,825.0 L694.0,823.6 L697.8,822.3 L701.6,820.9 L705.3,819.5 L709.1,818.2 L712.8,816.8 L716.6,815.4 L720.4,814.1 L724.1,812.7 L727.9,811.3 L731.6,809.9 L735.4,808.6 L739.1,807.2 L742.9,805.8 L746.7,804.5 L750.4,803.1 L754.2,801.7 L757.9,800.4 L761.7,799.0 L765.5,797.6 L769.2,796.3 L773.0,794.9 L776.7,793.5 L780.5,792.2 L784.3,790.8 L788.0,789.4 L791.8,788.1 L795.5,786.7 L799.3,785.3 L803.0,784.0 L806.8,782.6 L810.6,781.2 L814.3,779.8 L818.1,778.5 L821.8,777.1 L825.6,775.7 L829.4,774.4 L833.1,773.0 L836.9,771.6 L840.6,770.2 L844.4,768.8 L848.1,767.4 L851.8,766.0 L855.6,764.6 L859.3,763.1 L863.0,761.7 L866.8,760.2 L870.5,758.7 L874.2,757.2 L877.9,755.7 L881.6,754.2 L885.3,752.6 L888.9,751.0 L892.6,749.4 L896.3,747.8 L899.9,746.1 L903.5,744.5 L907.2,742.8 L910.8,741.1 L914.4,739.3 L918.0,737.6 L921.5,735.8 L925.1,734.0 L928.7,732.1 L932.2,730.2 L935.7,728.4 L939.2,726.4 L942.7,724.5 L946.2,722.5 L949.7,720.6 L953.1,718.6 L956.6,716.5 L960.0,714.5 L963.4,712.4 L966.8,710.3 L970.2,708.1 M593.0,969.4 L596.4,967.3 L599.8,965.2 L603.2,963.1 L606.6,961.0 L610.0,958.8 L613.4,956.7 L616.8,954.6 L620.2,952.5 L623.6,950.4 L626.9,948.2 L630.3,946.1 L633.7,944.0 L637.1,941.9 L640.5,939.8 L643.9,937.7 L647.3,935.5 L650.7,933.4 L654.1,931.4 L657.5,929.3 L661.0,927.2 L664.4,925.2 L667.8,923.1 L671.3,921.1 L674.8,919.1 L678.2,917.1 L681.7,915.1 L685.2,913.2 L688.7,911.2 L692.2,909.3 L695.7,907.4 L699.3,905.6 L702.8,903.7 L706.4,901.9 L710.0,900.1 L713.5,898.3 L717.1,896.6 L720.7,894.8 L724.3,893.1 L728.0,891.4 L731.6,889.8 L735.3,888.1 L738.9,886.5 L742.6,884.9 L746.3,883.3 L749.9,881.8 L753.6,880.2 L757.3,878.7 L761.0,877.2 L764.7,875.7 L768.5,874.2 L772.2,872.8 L775.9,871.3 L779.7,869.9 L783.4,868.5 L787.1,867.0 L790.9,865.6 L794.6,864.2 L798.4,862.8 L802.1,861.5 L805.9,860.1 L809.6,858.7 L813.4,857.3 L817.1,855.9 L820.9,854.6 L824.7,853.2 L828.4,851.8 L832.2,850.5 L835.9,849.1 L839.7,847.7 L843.4,846.3 L847.2,844.9 L850.9,843.5 L854.7,842.1 L858.4,840.7 L862.1,839.2 L865.9,837.8 L869.6,836.3 L873.3,834.8 L877.0,833.3 L880.7,831.8 L884.4,830.3 L888.1,828.7 L891.8,827.2 L895.4,825.6 L899.1,823.9 L902.7,822.3 L906.4,820.6 L910.0,818.9 L913.6,817.2 L917.2,815.5 L920.8,813.7 L924.4,812.0 L928.0,810.1 L931.5,808.3 L935.1,806.4 L938.6,804.6 L942.1,802.6 L945.6,800.7 L949.1,798.7 L952.5,796.7 L956.0,794.7 L959.4,792.6 L962.8,790.6 M972.1,791.1 L975.5,788.9 L978.8,786.6 L982.1,784.4 L985.4,782.1 L988.7,779.9 L992.0,777.5 L995.2,775.2 L998.4,772.8 L1001.6,770.4 L1004.8,768.0 L1008.0,765.6 L1011.1,763.1 L1014.3,760.6 L1017.4,758.1 L1020.5,755.5 L1023.5,753.0 L1026.6,750.4 L1029.6,747.8 L1032.6,745.1 L1035.6,742.5 L1038.6,739.8 L1041.5,737.1 L1044.5,734.4 L1047.4,731.7 L1050.3,728.9 L1053.2,726.1 L1056.0,723.3 L1058.9,720.5 L1061.7,717.7 L1064.5,714.8 L1067.3,712.0 L1070.1,709.1 L1072.8,706.2 L1075.6,703.3 L1078.3,700.4 L1081.0,697.4 L1083.7,694.5 L1086.4,691.5 L1089.0,688.5 L1091.7,685.5 L1094.3,682.5 L1096.9,679.5 L1099.5,676.4 L1102.1,673.4 L1104.7,670.3 L1107.3,667.2 L1109.8,664.2 L1112.3,661.1 L1114.9,658.0 L1117.4,654.9 L1119.9,651.7 L1122.4,648.6 L1124.9,645.5 L1127.3,642.3 L1129.8,639.2 L1132.2,636.0 L1134.7,632.8 L1137.1,629.7 L1139.5,626.5 L1142.0,623.3 L1144.4,620.1 L1146.8,616.9 L1149.2,613.7 L1151.6,610.5 L1154.0,607.3 L1156.3,604.1 L1158.7,600.9 L1161.1,597.6 L1163.4,594.4 L1165.8,591.2 L1168.2,587.9 L1170.5,584.7 L1172.9,581.5 L1175.2,578.3 L1177.6,575.0 L1179.9,571.8 L1182.3,568.5 L1184.6,565.3 L1187.0,562.1 L1189.3,558.8 L1191.7,555.6 L1194.0,552.4 L1196.4,549.1 M970.6,699.5 L973.9,697.3 L977.2,695.1 L980.6,692.8 L983.8,690.6 L987.1,688.3 L990.4,685.9 L993.6,683.6 L996.9,681.3 L1000.1,678.9 L1003.3,676.5 L1006.4,674.0 L1009.6,671.6 L1012.7,669.1 L1015.9,666.6 L1019.0,664.1 L1022.0,661.5 L1025.1,658.9 L1028.1,656.3 L1031.2,653.7 L1034.2,651.1 L1037.1,648.4 L1040.1,645.7 L1043.0,643.0 L1046.0,640.3 L1048.9,637.5 L1051.8,634.8 L1054.6,632.0 L1057.5,629.2 L1060.3,626.4 L1063.1,623.5 L1065.9,620.7 L1068.7,617.8 L1071.5,614.9 L1074.2,612.0 L1077.0,609.1 L1079.7,606.1 L1082.4,603.2 L1085.1,600.2 L1087.7,597.2 L1090.4,594.2 L1093.0,591.2 L1095.7,588.2 L1098.3,585.2 L1100.9,582.1 L1103.4,579.1 L1106.0,576.0 L1108.6,572.9 L1111.1,569.9 L1113.6,566.8 L1116.2,563.7 L1118.7,560.5 L1121.2,557.4 L1123.7,554.3 L1126.1,551.1 L1128.6,548.0 L1131.1,544.8 L1133.5,541.7 L1135.9,538.5 L1138.4,535.3 L1140.8,532.1 L1143.2,528.9 M406.8,937.9 L410.2,935.8 L413.6,933.8 L417.0,931.7 L420.4,929.6 L423.9,927.5 L427.3,925.5 L430.7,923.4 L434.2,921.4 L437.6,919.4 L441.1,917.4 L444.6,915.4 L448.1,913.5 L451.6,911.5 L455.1,909.6 L458.6,907.7 L462.1,905.9 L465.7,904.0 L469.2,902.2 L472.8,900.4 L476.4,898.6 L480.0,896.8 L483.6,895.1 L487.2,893.3 L490.8,891.6 L494.4,890.0 L498.1,888.3 L501.7,886.6 L505.4,885.0 L509.0,883.4 L512.7,881.8 L516.4,880.3 L520.1,878.7 L523.8,877.2 L527.5,875.6 L531.2,874.1 L534.9,872.6 L538.6,871.2 L542.3,869.7 L546.0,868.2 L549.8,866.8 L553.5,865.4 L557.2,863.9 L561.0,862.5 L564.7,861.1 L568.5,859.7 L572.2,858.3 L576.0,856.9 L579.7,855.6 L583.5,854.2 L587.2,852.8 L591.0,851.4 L594.8,850.1 L598.5,848.7 L602.3,847.3 L606.0,846.0 L609.8,844.6 L613.6,843.2 L617.3,841.9 L621.1,840.5 L624.8,839.1 L628.6,837.8 L632.4,836.4 L636.1,835.0 L639.9,833.7 L643.6,832.3 L647.4,830.9 L651.1,829.6 L654.9,828.2 L658.7,826.8 L662.4,825.4 L666.2,824.1 L669.9,822.7 L673.7,821.3 L677.5,820.0 L681.2,818.6 L685.0,817.2 L688.7,815.9 L692.5,814.5 L696.3,813.1 L700.0,811.8 L703.8,810.4 L707.5,809.0 L711.3,807.7 L715.0,806.3 L718.8,804.9 L722.6,803.6 L726.3,802.2 L730.1,800.8 L733.8,799.5 L737.6,798.1 L741.4,796.7 L745.1,795.3 L748.9,794.0 L752.6,792.6 L756.4,791.2 L760.2,789.9 L763.9,788.5 L767.7,787.1 L771.4,785.8 L775.2,784.4 L778.9,783.0 L782.7,781.7 L786.5,780.3 L790.2,778.9 L794.0,777.6 L797.7,776.2 L801.5,774.8 L805.3,773.5 L809.0,772.1 L812.8,770.7 L816.5,769.4 L820.3,768.0 L824.1,766.6 L827.8,765.3 L831.6,763.9 L835.3,762.5 L839.1,761.1 L842.8,759.7 L846.6,758.3 L850.3,756.9 L854.1,755.5 L857.8,754.1 L861.5,752.7 L865.3,751.2 L869.0,749.8 L872.7,748.3 L876.4,746.8 L880.1,745.3 L883.8,743.7 L887.5,742.2 L891.2,740.6 L894.8,739.0 L898.5,737.4 L902.2,735.8 L905.8,734.1 L909.4,732.4 L913.0,730.7 L916.6,729.0 L920.2,727.2 L923.8,725.4 L927.4,723.6 L930.9,721.8 L934.5,720.0 L938.0,718.1 L941.5,716.2 L945.0,714.2 L948.5,712.2 M613.5,972.0 L616.9,969.9 L620.3,967.7 L623.7,965.6 L627.0,963.5 L630.4,961.4 L633.8,959.3 L637.2,957.1 L640.6,955.0 L644.0,952.9 L647.4,950.8 L650.8,948.7 L654.2,946.5 L657.6,944.4 L661.0,942.3 L664.4,940.2 L667.8,938.1 L671.2,936.0 L674.6,933.9 L678.0,931.8 L681.4,929.7 L684.8,927.6 L688.2,925.6 L691.7,923.5 L695.1,921.5 L698.6,919.5 L702.1,917.5 L705.5,915.5 L709.0,913.6 L712.5,911.6 L716.0,909.7 L719.6,907.8 L723.1,906.0 L726.7,904.1 L730.2,902.3 L733.8,900.6 L737.4,898.8 L741.0,897.1 L744.6,895.4 L748.3,893.7 L751.9,892.0 L755.5,890.4 L759.2,888.8 L762.9,887.2 L766.6,885.6 L770.2,884.1 L773.9,882.5 L777.6,881.0 L781.3,879.5 L785.1,878.0 L788.8,876.6 L792.5,875.1 L796.2,873.7 L800.0,872.2 L803.7,870.8 L807.5,869.4 L811.2,868.0 L814.9,866.6 L818.7,865.2 L822.4,863.8 L826.2,862.4 L830.0,861.0 L833.7,859.7 L837.5,858.3 L841.2,856.9 L845.0,855.5 L848.7,854.1 L852.5,852.7 L856.2,851.3 L859.9,849.8 L863.7,848.4 L867.4,846.9 L871.1,845.5 L874.8,844.0 L878.5,842.5 L882.2,840.9 L885.9,839.4 L889.6,837.8 L893.3,836.2 L896.9,834.6 L900.6,833.0 L904.2,831.4 L907.9,829.7 L911.5,828.0 L915.1,826.3 L918.7,824.5 L922.3,822.8 L925.9,821.0 L929.4,819.1 L933.0,817.3 L936.5,815.4 L940.0,813.5 L943.5,811.6 L947.0,809.6 L950.5,807.7 L953.9,805.6 L957.4,803.6 L960.8,801.5 L964.2,799.5 M637.8,975.2 L641.2,973.1 L644.6,971.0 L648.0,968.8 L651.4,966.7 L654.7,964.6 L658.1,962.5 L661.5,960.4 L664.9,958.2 L668.3,956.1 L671.7,954.0 L675.1,951.9 L678.5,949.8 L681.9,947.6 L685.3,945.5 L688.7,943.4 L692.1,941.3 L695.5,939.2 L698.9,937.1 L702.3,935.0 L705.7,932.9 L709.1,930.8 L712.5,928.8 L716.0,926.7 L719.4,924.7 L722.9,922.7 L726.4,920.7 L729.9,918.8 L733.4,916.9 L736.9,915.0 L740.4,913.1 L744.0,911.2 L747.5,909.4 L751.1,907.6 L754.7,905.9 L758.3,904.1 L761.9,902.4 L765.5,900.7 L769.2,899.1 L772.8,897.4 L776.5,895.8 L780.2,894.2 L783.8,892.6 L787.5,891.1 L791.2,889.6 L794.9,888.0 L798.6,886.5 L802.3,885.1 L806.1,883.6 L809.8,882.1 L813.5,880.7 L817.3,879.3 L821.0,877.8 L824.7,876.4 L828.5,875.0 L832.2,873.6 L836.0,872.2 L839.7,870.8 L843.4,869.4 L847.2,867.9 L850.9,866.5 L854.7,865.1 L858.4,863.6 L862.1,862.2 L865.8,860.7 L869.6,859.2 L873.3,857.7 L877.0,856.2 L880.7,854.7 L884.3,853.1 L888.0,851.6 L891.7,850.0 L895.3,848.3 L899.0,846.7 L902.6,845.0 L906.3,843.4 L909.9,841.6 L913.5,839.9 L917.1,838.2 L920.7,836.4 L924.2,834.6 L927.8,832.7 L931.3,830.9 L934.8,829.0 L938.4,827.1 L941.8,825.1 L945.3,823.1 L948.8,821.2 L952.2,819.1 L955.7,817.1 L959.1,815.0 L962.5,812.9 L965.9,810.8 L969.2,808.6 L972.6,806.4 L975.9,804.2 L979.2,802.0 L982.6,799.7 L985.9,797.4 L989.1,795.2 L992.4,792.8 L995.6,790.5 L998.8,788.1 L1002.0,785.7 L1005.2,783.3 L1008.4,780.8 L1011.5,778.4 L1014.7,775.9 L1017.8,773.4 L1020.9,770.8 L1023.9,768.2 L1027.0,765.7 L1030.0,763.0 L1033.0,760.4 L1036.0,757.7 L1039.0,755.1 L1041.9,752.4 L1044.9,749.6 L1047.8,746.9 L1050.7,744.1 L1053.5,741.4 L1056.4,738.6 L1059.2,735.8 L1062.1,732.9 L1064.9,730.1 L1067.7,727.2 L1070.4,724.3 L1073.2,721.4 L1075.9,718.5 L1078.6,715.6 L1081.4,712.6 L1084.0,709.7 L1086.7,706.7 L1089.4,703.7 L1092.0,700.7 L1094.7,697.7 L1097.3,694.7 L1099.9,691.6 L1102.5,688.6 L1105.0,685.5 L1107.6,682.4 L1110.1,679.4 L1112.7,676.3 L1115.2,673.2 L1117.7,670.1 L1120.2,666.9 L1122.7,663.8 L1125.2,660.7 L1127.7,657.5 L1130.1,654.4 L1132.6,651.2 L1135.0,648.0 L1137.4,644.9 L1139.9,641.7 L1142.3,638.5 L1144.7,635.3 L1147.1,632.1 L1149.5,628.9 L1151.9,625.7 L1154.3,622.5 L1156.6,619.3 L1159.0,616.0 L1161.4,612.8 L1163.7,609.6 L1166.1,606.4 L1168.5,603.1 L1170.8,599.9 L1173.2,596.7 L1175.5,593.4 L1177.9,590.2 L1180.2,587.0 L1182.6,583.7 L1184.9,580.5 L1187.3,577.3 L1189.6,574.0 L1192.0,570.8 L1194.3,567.5 L1196.7,564.3 L1199.0,561.1 L1201.4,557.8 L1203.8,554.6 M380.6,929.6 L384.0,927.6 L387.4,925.5 L390.9,923.5 L394.3,921.5 L397.8,919.5 L401.3,917.5 L404.8,915.6 L408.3,913.6 L411.8,911.7 L415.3,909.8 L418.8,907.9 L422.4,906.1 L425.9,904.3 L429.5,902.4 L433.1,900.7 L436.7,898.9 L440.3,897.1 L443.9,895.4 L447.5,893.7 L451.1,892.0 L454.8,890.3 L458.4,888.7 L462.1,887.1 L465.7,885.5 L469.4,883.9 L473.1,882.3 L476.7,880.7 L480.4,879.2 L484.1,877.7 L487.8,876.1 L491.5,874.6 L495.3,873.2 L499.0,871.7 L502.7,870.2 L506.4,868.8 L510.2,867.3 L513.9,865.9 L517.6,864.5 L521.4,863.1 L525.1,861.7 L528.9,860.3 L532.6,858.9 L536.4,857.5 L540.1,856.1 L543.9,854.8 L547.7,853.4 L551.4,852.0 L555.2,850.7 L558.9,849.3 L562.7,847.9 L566.4,846.6 L570.2,845.2 L574.0,843.8 L577.7,842.5 L581.5,841.1 L585.2,839.7 L589.0,838.3 L592.8,837.0 L596.5,835.6 L600.3,834.2 L604.0,832.9 L607.8,831.5 L611.6,830.1 L615.3,828.8 L619.1,827.4 L622.8,826.0 L626.6,824.7 L630.3,823.3 L634.1,821.9 L637.9,820.6 L641.6,819.2 L645.4,817.8 L649.1,816.5 L652.9,815.1 L656.7,813.7 L660.4,812.4 L664.2,811.0 L667.9,809.6 L671.7,808.3 L675.5,806.9 L679.2,805.5 L683.0,804.1 L686.7,802.8 L690.5,801.4 L694.2,800.0 L698.0,798.7 L701.8,797.3 L705.5,795.9 L709.3,794.6 L713.0,793.2 L716.8,791.8 L720.6,790.5 L724.3,789.1 L728.1,787.7 L731.8,786.4 L735.6,785.0 L739.4,783.6 L743.1,782.3 L746.9,780.9 L750.6,779.5 L754.4,778.2 L758.1,776.8 L761.9,775.4 L765.7,774.0 L769.4,772.7 L773.2,771.3 L776.9,769.9 L780.7,768.6 L784.5,767.2 L788.2,765.8 L792.0,764.5 L795.7,763.1 L799.5,761.7 L803.3,760.4 L807.0,759.0 L810.8,757.6 L814.5,756.3 L818.3,754.9 L822.0,753.5 L825.8,752.2 L829.6,750.8 L833.3,749.4 L837.1,748.0 L840.8,746.6 L844.6,745.2 L848.3,743.8 L852.1,742.4 L855.8,741.0 L859.5,739.5 L863.2,738.1 L867.0,736.6 L870.7,735.1 L874.4,733.6 L878.1,732.1 L881.8,730.6 L885.5,729.0 L889.1,727.4 L892.8,725.8 L896.5,724.2 L900.1,722.5 L903.7,720.9 L907.4,719.2 L911.0,717.5 L914.6,715.7 L918.2,714.0 L921.7,712.2 L925.3,710.3 L928.8,708.5 L932.4,706.6 L935.9,704.7 L939.4,702.8 L942.9,700.9 L946.4,698.9 L949.8,696.9 L953.3,694.9 L956.7,692.8 L960.1,690.7 L963.5,688.6 L966.9,686.5 L970.3,684.3 L973.7,682.2 L977.0,680.0 L980.3,677.7 L983.6,675.5 L986.9,673.2 L990.2,670.9 L993.4,668.6 L996.7,666.2 L999.9,663.9 L1003.1,661.4 L1006.3,659.0 L1009.4,656.6 L1012.6,654.1 L1015.7,651.6 L1018.8,649.0 L1021.9,646.5 L1024.9,643.9 L1028.0,641.3 L1031.0,638.7 L1034.0,636.1 L1037.0,633.4 L1039.9,630.7 L1042.9,628.0 L1045.8,625.3 L1048.7,622.5 L1051.6,619.8 L1054.5,617.0 L1057.3,614.2 L1060.2,611.4 L1063.0,608.5 L1065.8,605.7 L1068.6,602.8 L1071.3,599.9 L1074.1,597.0 L1076.8,594.1 L1079.5,591.1 L1082.2,588.2 L1084.9,585.2 L1087.6,582.2 L1090.2,579.2 L1092.9,576.2 L1095.5,573.2 L1098.1,570.2 L1100.7,567.2 L1103.3,564.1 L1105.9,561.0 L1108.4,558.0 L1111.0,554.9 L1113.5,551.8 L1116.0,548.7 L1118.5,545.6 L1121.0,542.4 L1123.5,539.3 L1126.0,536.2 L1128.5,533.0 L1130.9,529.8 L1133.4,526.7 M661.6,975.6 L665.0,973.5 L668.4,971.4 L671.8,969.3 L675.2,967.1 L678.6,965.0 L682.0,962.9 L685.4,960.8 L688.8,958.7 L692.2,956.5 L695.6,954.4 L698.9,952.3 L702.3,950.2 L705.7,948.1 L709.1,946.0 L712.5,943.8 L715.9,941.7 L719.3,939.6 L722.7,937.5 L726.1,935.4 L729.6,933.4 L733.0,931.3 L736.4,929.3 L739.9,927.3 L743.4,925.3 L746.9,923.3 L750.4,921.4 L753.9,919.5 L757.4,917.6 L760.9,915.8 L764.5,913.9 L768.1,912.1 L771.7,910.3 L775.3,908.6 L778.9,906.9 L782.5,905.2 L786.1,903.5 L789.8,901.9 L793.4,900.2 L797.1,898.6 L800.8,897.1 L804.5,895.5 L808.1,894.0 L811.8,892.4 L815.6,890.9 L819.3,889.5 L823.0,888.0 L826.7,886.5 L830.4,885.1 L834.2,883.6 L837.9,882.2 L841.6,880.8 L845.4,879.3 L849.1,877.9 L852.8,876.5 L856.6,875.0 L860.3,873.6 L864.0,872.1 L867.7,870.6 L871.5,869.2 L875.2,867.7 L878.9,866.2 L882.6,864.6 L886.3,863.1 L889.9,861.5 L893.6,859.9 L897.3,858.3 L900.9,856.7 L904.6,855.0 L908.2,853.4 L911.8,851.7 L915.4,849.9 L919.0,848.2 L922.6,846.4 L926.2,844.6 L929.8,842.8 L933.3,841.0 L936.8,839.1 L940.4,837.2 L943.9,835.2 L947.3,833.3 L950.8,831.3 L954.3,829.3 L957.7,827.3 L961.1,825.2 L964.5,823.1 L967.9,821.0 L971.3,818.8 L974.7,816.6 L978.0,814.4 L981.3,812.2 L984.6,809.9 L987.9,807.7 L991.2,805.4 L994.4,803.0 L997.6,800.7 L1000.9,798.3 L1004.0,795.9 L1007.2,793.4 L1010.4,790.9 L1013.5,788.5 L1016.6,785.9 L1019.7,783.4 L1022.8,780.9 L1025.8,778.3 L1028.9,775.7 L1031.9,773.0 L1034.9,770.4 L1037.9,767.7 L1040.8,765.0 L1043.8,762.3 L1046.7,759.6 L1049.6,756.8 L1052.5,754.1 L1055.3,751.3 L1058.2,748.5 L1061.0,745.6 L1063.8,742.8 L1066.6,739.9 L1069.4,737.1 L1072.2,734.2 L1074.9,731.2 L1077.6,728.3 L1080.3,725.4 L1083.0,722.4 L1085.7,719.5 L1088.4,716.5 L1091.0,713.5 L1093.7,710.5 L1096.3,707.4 L1098.9,704.4 M1107.5,703.2 L1110.1,700.1 L1112.6,697.0 L1115.1,693.8 L1117.6,690.7 L1120.1,687.6 L1122.6,684.5 L1125.1,681.3 L1127.6,678.2 L1130.0,675.0 L1132.5,671.9 L1134.9,668.7 L1137.3,665.5 L1139.8,662.4 L1142.2,659.2 L1144.6,656.0 L1147.0,652.8 L1149.4,649.6 L1151.8,646.4 L1154.2,643.2 L1156.5,639.9 L1158.9,636.7 L1161.3,633.5 L1163.7,630.3 L1166.0,627.0 L1168.4,623.8 L1170.7,620.6 L1173.1,617.3 L1175.4,614.1 L1177.8,610.9 L1180.1,607.6 L1182.5,604.4 L1184.8,601.2 L1187.2,597.9 L1189.6,594.7 L1191.9,591.5 L1194.3,588.2 L1196.6,585.0 L1199.0,581.8 L1201.3,578.5 L1203.7,575.3 L1206.0,572.0 L1208.4,568.8 L1210.7,565.6 L1213.1,562.3 L1215.4,559.1 M363.4,924.5 L366.9,922.5 L370.4,920.5 L373.8,918.5 L377.3,916.5 L380.8,914.6 L384.3,912.6 L387.8,910.7 L391.3,908.8 L394.8,906.9 L398.4,905.0 L401.9,903.2 L405.5,901.4 L409.1,899.6 L412.7,897.8 L416.2,896.0 L419.8,894.3 L423.5,892.6 L427.1,890.9 L430.7,889.2 L434.4,887.6 L438.0,885.9 L441.7,884.3 L445.3,882.7 L449.0,881.1 L452.7,879.6 L456.4,878.0 L460.1,876.5 L463.8,875.0 L467.5,873.5 L471.2,872.0 L474.9,870.5 L478.6,869.0 L482.4,867.6 L486.1,866.1 L489.8,864.7 L493.6,863.3 L497.3,861.9 L501.1,860.5 L504.8,859.1 L508.6,857.7 L512.3,856.3 L516.1,854.9 L519.8,853.6 L523.6,852.2 L527.3,850.8 L531.1,849.5 L534.9,848.1 L538.6,846.7 L542.4,845.4 L546.1,844.0 L549.9,842.6 L553.7,841.3 L557.4,839.9 L561.2,838.5 L564.9,837.2 L568.7,835.8 L572.4,834.4 L576.2,833.0 L580.0,831.7 L583.7,830.3 L587.5,828.9 L591.2,827.6 L595.0,826.2 L598.8,824.8 L602.5,823.5 L606.3,822.1 L610.0,820.7 L613.8,819.4 L617.6,818.0 L621.3,816.6 L625.1,815.3 L628.8,813.9 L632.6,812.5 L636.3,811.2 L640.1,809.8 L643.9,808.4 L647.6,807.1 L651.4,805.7 L655.1,804.3 L658.9,802.9 L662.7,801.6 L666.4,800.2 L670.2,798.8 L673.9,797.5 L677.7,796.1 L681.5,794.7 L685.2,793.4 L689.0,792.0 L692.7,790.6 L696.5,789.3 L700.2,787.9 L704.0,786.5 L707.8,785.2 L711.5,783.8 L715.3,782.4 L719.0,781.1 L722.8,779.7 L726.6,778.3 L730.3,777.0 L734.1,775.6 L737.8,774.2 L741.6,772.9 L745.4,771.5 L749.1,770.1 L752.9,768.7 L756.6,767.4 L760.4,766.0 L764.1,764.6 L767.9,763.3 L771.7,761.9 L775.4,760.5 L779.2,759.2 L782.9,757.8 L786.7,756.4 L790.5,755.1 L794.2,753.7 L798.0,752.3 L801.7,751.0 L805.5,749.6 L809.3,748.2 L813.0,746.9 L816.8,745.5 L820.5,744.1 L824.3,742.8 L828.0,741.4 L831.8,740.0 L835.6,738.6 L839.3,737.3 L843.1,735.9 L846.8,734.5 L850.6,733.1 L854.3,731.7 L858.0,730.2 L861.8,728.8 L865.5,727.3 L869.2,725.9 L872.9,724.4 L876.6,722.9 L880.3,721.4 L884.0,719.9 L887.7,718.3 L891.4,716.7 L895.1,715.1 L898.7,713.5 L902.4,711.9 L906.0,710.2 L909.7,708.5 L913.3,706.8 L916.9,705.1 L920.5,703.3 L924.0,701.6 L927.6,699.7 L931.2,697.9 L934.7,696.1 L938.2,694.2 L941.7,692.2 L945.2,690.3 L948.7,688.3 L952.2,686.3 L955.6,684.3 M959.9,675.5 L963.3,673.4 L966.6,671.3 L970.0,669.2 L973.4,667.0 L976.7,664.8 L980.1,662.6 L983.4,660.3 L986.7,658.1 L989.9,655.8 L993.2,653.4 L996.4,651.1 L999.6,648.7 L1002.8,646.3 L1006.0,643.9 L1009.2,641.4 L1012.3,638.9 L1015.4,636.4 L1018.5,633.9 L1021.6,631.3 L1024.7,628.8 L1027.7,626.2 L1030.7,623.6 L1033.7,620.9 L1036.7,618.3 L1039.7,615.6 L1042.6,612.9 L1045.6,610.1 L1048.5,607.4 L1051.4,604.6 L1054.2,601.9 L1057.1,599.1 L1059.9,596.2 L1062.8,593.4 L1065.6,590.5 L1068.3,587.7 L1071.1,584.8 L1073.9,581.9 L1076.6,579.0 L1079.3,576.0 L1082.0,573.1 L1084.7,570.1 L1087.4,567.1 L1090.0,564.1 L1092.7,561.1 L1095.3,558.1 L1097.9,555.1 L1100.5,552.0 L1103.1,549.0 L1105.7,545.9 L1108.2,542.9 L1110.8,539.8 L1113.3,536.7 L1115.8,533.6 L1118.3,530.5 L1120.8,527.3 L1123.3,524.2 M682.1,978.2 L685.5,976.1 L688.9,973.9 L692.3,971.8 L695.7,969.7 L699.1,967.6 L702.4,965.5 L705.8,963.3 L709.2,961.2 L712.6,959.1 L716.0,957.0 L719.4,954.9 L722.8,952.8 L726.2,950.7 L729.6,948.6 L733.1,946.5 L736.5,944.5 L739.9,942.4 L743.4,940.4 L746.8,938.3 L750.3,936.3 L753.7,934.3 L757.2,932.4 L760.7,930.4 L764.2,928.5 L767.7,926.6 L771.3,924.7 L774.8,922.9 L778.4,921.0 L781.9,919.2 L785.5,917.5 L789.1,915.7 L792.8,914.0 L796.4,912.3 L800.0,910.7 L803.7,909.0 L807.3,907.4 L811.0,905.8 L814.7,904.2 L818.4,902.7 L822.0,901.2 L825.7,899.6 L829.5,898.1 L833.2,896.7 L836.9,895.2 L840.6,893.7 L844.3,892.2 L848.1,890.8 L851.8,889.3 L855.5,887.9 L859.2,886.4 L862.9,884.9 L866.7,883.5 L870.4,882.0 L874.1,880.5 L877.8,879.0 L881.5,877.4 L885.2,875.9 L888.9,874.3 L892.5,872.7 L896.2,871.1 L899.9,869.5 L903.5,867.9 L907.1,866.2 L910.8,864.5 L914.4,862.8 L918.0,861.1 L921.6,859.3 L925.1,857.5 L928.7,855.7 L932.3,853.9 L935.8,852.0 L939.3,850.1 L942.8,848.2 L946.3,846.2 L949.8,844.2 L953.3,842.2 L956.7,840.2 L960.1,838.1 L963.5,836.1 L966.9,833.9 L970.3,831.8 L973.7,829.6 L977.0,827.4 L980.4,825.2 L983.7,823.0 L986.9,820.7 L990.2,818.4 L993.5,816.1 L996.7,813.7 L999.9,811.3 L1003.1,808.9 L1006.3,806.5 L1009.4,804.0 L1012.6,801.5 L1015.7,799.0 L1018.8,796.5 L1021.9,794.0 L1024.9,791.4 L1028.0,788.8 L1031.0,786.2 L1034.0,783.5 L1037.0,780.9 L1040.0,778.2 L1042.9,775.5 L1045.8,772.7 L1048.7,770.0 L1051.6,767.2 L1054.5,764.4 L1057.4,761.6 L1060.2,758.8 L1063.0,756.0 L1065.8,753.1 L1068.6,750.2 L1071.4,747.4 L1074.1,744.5 L1076.8,741.5 L1079.6,738.6 L1082.3,735.6 L1084.9,732.7 L1087.6,729.7 L1090.3,726.7 L1092.9,723.7 L1095.5,720.7 L1098.1,717.7 L1100.7,714.6 L1103.3,711.6 M1021.3,812.8 L1024.3,810.2 L1027.4,807.6 L1030.4,804.9 L1033.4,802.3 L1036.3,799.6 L1039.3,796.9 L1042.2,794.2 L1045.1,791.4 L1048.0,788.7 L1050.9,785.9 L1053.7,783.1 L1056.6,780.3 L1059.4,777.4 L1062.2,774.6 L1065.0,771.7 L1067.8,768.8 L1070.5,765.9 L1073.3,763.0 L1076.0,760.1 L1078.7,757.1 L1081.4,754.2 L1084.1,751.2 L1086.7,748.2 L1089.4,745.2 L1092.0,742.2 L1094.6,739.2 L1097.2,736.1 L1099.8,733.1 L1102.4,730.0 L1104.9,726.9 L1107.5,723.9 L1110.0,720.8 L1112.5,717.7 L1115.1,714.6 L1117.6,711.4 L1120.1,708.3 L1122.5,705.2 L1125.0,702.0 L1127.5,698.9 L1130.0,695.7 L1132.4,692.6 L1134.9,689.4 L1137.3,686.2 L1139.7,683.1 L1142.1,679.9 L1144.5,676.7 L1146.9,673.5 L1149.3,670.3 L1151.7,667.1 L1154.1,663.9 L1156.5,660.7 L1158.9,657.4 L1161.2,654.2 L1163.6,651.0 L1166.0,647.8 L1168.3,644.5 L1170.7,641.3 L1173.0,638.1 L1175.4,634.8 L1177.7,631.6 L1180.1,628.4 L1182.4,625.1 L1184.8,621.9 L1187.1,618.6 L1189.5,615.4 L1191.9,612.2 L1194.2,608.9 L1196.6,605.7 L1198.9,602.5 L1201.3,599.2 L1203.6,596.0 L1206.0,592.8 L1208.3,589.5 L1210.7,586.3 L1213.0,583.1 L1215.4,579.8 L1217.7,576.6 L1220.1,573.3 L1222.4,570.1 L1224.8,566.9 M346.4,919.2 L349.8,917.2 L353.3,915.2 L356.8,913.3 L360.3,911.4 L363.9,909.5 L367.4,907.6 L370.9,905.7 L374.5,903.9 L378.0,902.0 L381.6,900.2 L385.2,898.4 L388.8,896.7 L392.4,894.9 L396.0,893.2 L399.6,891.5 L403.2,889.8 L406.8,888.2 L410.5,886.5 L414.2,884.9 L417.8,883.3 L421.5,881.7 L425.2,880.1 L428.9,878.6 L432.5,877.0 L436.2,875.5 L439.9,874.0 L443.7,872.5 L447.4,871.0 L451.1,869.6 L454.8,868.1 L458.6,866.7 L462.3,865.2 L466.0,863.8 L469.8,862.4 L473.5,861.0 L477.3,859.6 L481.0,858.2 L484.8,856.8 L488.5,855.4 L492.3,854.1 L496.0,852.7 L499.8,851.3 L503.6,850.0 L507.3,848.6 L511.1,847.2 L514.8,845.9 L518.6,844.5 L522.3,843.1 L526.1,841.7 L529.9,840.4 L533.6,839.0 L537.4,837.6 L541.1,836.3 L544.9,834.9 L548.7,833.5 L552.4,832.2 L556.2,830.8 L559.9,829.4 L563.7,828.1 L567.5,826.7 L571.2,825.3 L575.0,824.0 L578.7,822.6 L582.5,821.2 L586.2,819.9 L590.0,818.5 L593.8,817.1 L597.5,815.8 L601.3,814.4 L605.0,813.0 L608.8,811.7 L612.6,810.3 L616.3,808.9 L620.1,807.5 L623.8,806.2 L627.6,804.8 L631.4,803.4 L635.1,802.1 L638.9,800.7 L642.6,799.3 L646.4,798.0 L650.1,796.6 L653.9,795.2 L657.7,793.9 L661.4,792.5 L665.2,791.1 L668.9,789.8 L672.7,788.4 L676.5,787.0 L680.2,785.7 L684.0,784.3 L687.7,782.9 L691.5,781.6 L695.2,780.2 L699.0,778.8 L702.8,777.4 L706.5,776.1 L710.3,774.7 L714.0,773.3 L717.8,772.0 L721.6,770.6 L725.3,769.2 L729.1,767.9 L732.8,766.5 L736.6,765.1 L740.4,763.8 L744.1,762.4 L747.9,761.0 L751.6,759.7 L755.4,758.3 L759.1,756.9 L762.9,755.6 L766.7,754.2 L770.4,752.8 L774.2,751.5 L777.9,750.1 L781.7,748.7 L785.5,747.4 L789.2,746.0 L793.0,744.6 L796.7,743.2 L800.5,741.9 L804.3,740.5 L808.0,739.1 L811.8,737.8 L815.5,736.4 L819.3,735.0 L823.0,733.7 L826.8,732.3 L830.6,730.9 L834.3,729.6 L838.1,728.2 L841.8,726.8 L845.6,725.4 L849.3,724.0 L853.1,722.6 L856.8,721.2 L860.5,719.7 L864.3,718.3 L868.0,716.8 L871.7,715.4 L875.4,713.9 L879.1,712.4 L882.8,710.8 L886.5,709.3 L890.2,707.7 L893.9,706.1 L897.5,704.5 L901.2,702.9 L904.8,701.2 L908.5,699.6 L912.1,697.9 L915.7,696.1 L919.3,694.4 L922.9,692.6 L926.4,690.8 L930.0,689.0 L933.5,687.1 L937.1,685.3 L940.6,683.4 L944.1,681.4 L947.6,679.5 L951.1,677.5 M321.8,915.0 L325.3,913.1 L328.8,911.2 L332.3,909.3 L335.9,907.4 L339.4,905.6 L343.0,903.8 L346.5,902.0 L350.1,900.2 L353.7,898.4 L357.3,896.7 L360.9,895.0 L364.5,893.2 L368.2,891.6 L371.8,889.9 L375.5,888.3 L379.1,886.6 L382.8,885.0 L386.4,883.4 L390.1,881.9 L393.8,880.3 L397.5,878.8 L401.2,877.2 L404.9,875.7 L408.6,874.2 L412.3,872.8 L416.0,871.3 L419.8,869.8 L423.5,868.4 L427.2,867.0 L431.0,865.5 L434.7,864.1 L438.5,862.7 L442.2,861.3 L446.0,859.9 L449.7,858.5 L453.5,857.2 L457.2,855.8 L461.0,854.4 L464.7,853.0 L468.5,851.7 L472.3,850.3 L476.0,848.9 L479.8,847.6 L483.5,846.2 L487.3,844.8 L491.0,843.5 L494.8,842.1 L498.6,840.7 L502.3,839.4 L506.1,838.0 L509.8,836.6 L513.6,835.2 L517.4,833.9 L521.1,832.5 L524.9,831.1 L528.6,829.8 L532.4,828.4 L536.2,827.0 L539.9,825.7 L543.7,824.3 L547.4,822.9 L551.2,821.6 L554.9,820.2 L558.7,818.8 L562.5,817.5 L566.2,816.1 L570.0,814.7 L573.7,813.4 L577.5,812.0 L581.3,810.6 L585.0,809.3 L588.8,807.9 L592.5,806.5 L596.3,805.1 L600.0,803.8 L603.8,802.4 L607.6,801.0 L611.3,799.7 L615.1,798.3 L618.8,796.9 L622.6,795.6 L626.4,794.2 L630.1,792.8 L633.9,791.5 L637.6,790.1 L641.4,788.7 L645.2,787.4 L648.9,786.0 L652.7,784.6 L656.4,783.3 L660.2,781.9 L663.9,780.5 L667.7,779.2 L671.5,777.8 L675.2,776.4 L679.0,775.1 L682.7,773.7 L686.5,772.3 L690.3,770.9 L694.0,769.6 L697.8,768.2 L701.5,766.8 L705.3,765.5 L709.1,764.1 L712.8,762.7 L716.6,761.4 L720.3,760.0 L724.1,758.6 L727.8,757.3 L731.6,755.9 L735.4,754.5 L739.1,753.2 L742.9,751.8 L746.6,750.4 L750.4,749.1 L754.2,747.7 L757.9,746.3 L761.7,745.0 L765.4,743.6 L769.2,742.2 L773.0,740.8 L776.7,739.5 L780.5,738.1 L784.2,736.7 L788.0,735.4 L791.7,734.0 L795.5,732.6 L799.3,731.3 L803.0,729.9 L806.8,728.5 L810.5,727.2 L814.3,725.8 L818.1,724.4 L821.8,723.1 L825.6,721.7 L829.3,720.3 L833.1,718.9 L836.8,717.6 L840.6,716.2 L844.3,714.8 L848.1,713.4 L851.8,712.0 L855.6,710.5 L859.3,709.1 L863.0,707.6 L866.7,706.2 L870.5,704.7 L874.2,703.2 L877.9,701.6 L881.5,700.1 L885.2,698.5 L888.9,697.0 L892.6,695.4 L896.2,693.7 L899.9,692.1 L903.5,690.4 L907.1,688.7 L910.8,687.0 L914.4,685.3 L917.9,683.5 L921.5,681.7 L925.1,679.9 L928.6,678.1 L932.2,676.2 L935.7,674.3 L939.2,672.4 L942.7,670.4 L946.2,668.5 L949.6,666.5 L953.1,664.4 L956.5,662.4 L960.0,660.3 L963.4,658.3 L966.8,656.1 L970.1,654.0 L973.5,651.8 L976.9,649.6 L980.2,647.4 L983.5,645.2 L986.8,642.9 L990.0,640.6 L993.3,638.3 L996.5,635.9 L999.8,633.5 L1002.9,631.1 L1006.1,628.7 L1009.3,626.2 L1012.4,623.8 L1015.5,621.3 L1018.6,618.7 L1021.7,616.2 L1024.8,613.6 L1027.8,611.0 L1030.8,608.4 L1033.8,605.7 L1036.8,603.1 L1039.8,600.4 L1042.7,597.7 L1045.7,595.0 L1048.6,592.2 L1051.5,589.5 L1054.3,586.7 L1057.2,583.9 L1060.0,581.1 L1062.9,578.2 L1065.7,575.4 L1068.4,572.5 L1071.2,569.6 L1074.0,566.7 L1076.7,563.8 L1079.4,560.8 L1082.1,557.9 L1084.8,554.9 L1087.5,551.9 L1090.1,549.0 L1092.8,545.9 L1095.4,542.9 L1098.0,539.9 L1100.6,536.9 L1103.2,533.8 L1105.8,530.7 L1108.3,527.7 L1110.9,524.6 L1113.4,521.5 M702.5,980.7 L705.9,978.6 L709.3,976.5 L712.7,974.4 L716.1,972.3 L719.5,970.1 L722.9,968.0 L726.3,966.0 L729.8,963.9 L733.2,961.8 L736.6,959.7 L740.0,957.7 L743.5,955.6 L746.9,953.6 L750.4,951.6 L753.8,949.6 L757.3,947.6 L760.8,945.6 L764.3,943.6 L767.7,941.7 L771.3,939.8 L774.8,937.9 L778.3,936.0 L781.8,934.1 L785.4,932.3 L789.0,930.5 L792.5,928.7 L796.1,926.9 L799.7,925.2 L803.3,923.5 L807.0,921.8 L810.6,920.1 L814.3,918.5 L817.9,916.9 L821.6,915.3 L825.3,913.7 L829.0,912.1 L832.6,910.6 L836.3,909.1 L840.1,907.6 L843.8,906.1 L847.5,904.6 L851.2,903.1 L854.9,901.6 L858.6,900.1 L862.3,898.6 L866.0,897.2 L869.8,895.7 L873.5,894.2 L877.2,892.6 L880.9,891.1 L884.5,889.6 L888.2,888.0 L891.9,886.4 L895.6,884.8 L899.2,883.2 L902.9,881.6 L906.5,879.9 L910.1,878.2 L913.8,876.5 L917.4,874.8 L920.9,873.0 L924.5,871.2 L928.1,869.4 L931.6,867.6 L935.2,865.7 L938.7,863.8 L942.2,861.9 L945.7,860.0 L949.2,858.0 L952.7,856.0 L956.1,854.0 L959.5,851.9 L963.0,849.8 L966.4,847.7 L969.7,845.6 L973.1,843.4 L976.4,841.2 L979.8,839.0 L983.1,836.8 M1063.3,792.4 L1066.1,789.5 L1068.8,786.6 L1071.6,783.7 L1074.3,780.8 L1077.1,777.9 L1079.8,774.9 L1082.5,772.0 L1085.2,769.0 L1087.8,766.0 L1090.5,763.0 L1093.1,760.0 L1095.7,757.0 L1098.3,754.0 L1100.9,750.9 L1103.5,747.9 L1106.1,744.8 L1108.6,741.7 L1111.2,738.6 L1113.7,735.5 L1116.2,732.4 L1118.7,729.3 L1121.2,726.2 L1123.7,723.1 L1126.2,719.9 L1128.7,716.8 L1131.1,713.6 L1133.6,710.4 L1136.0,707.3 L1138.4,704.1 L1140.9,700.9 L1143.3,697.7 L1145.7,694.5 L1148.1,691.3 L1150.5,688.1 L1152.9,684.9 L1155.2,681.7 L1157.6,678.5 L1160.0,675.3 L1162.4,672.0 L1164.7,668.8 L1167.1,665.6 L1169.4,662.4 L1171.8,659.1 L1174.2,655.9 L1176.5,652.7 L1178.9,649.4 L1181.2,646.2 L1183.6,642.9 L1185.9,639.7 L1188.3,636.5 L1190.6,633.2 L1193.0,630.0 L1195.3,626.8 L1197.7,623.5 L1200.0,620.3 L1202.4,617.1 L1204.7,613.8 L1207.1,610.6 L1209.4,607.3 L1211.8,604.1 L1214.1,600.9 L1216.5,597.6 L1218.8,594.4 L1221.2,591.2 L1223.5,587.9 L1225.9,584.7 L1228.2,581.5 L1230.6,578.2 L1232.9,575.0 L1235.3,571.7 M304.8,909.2 L308.3,907.4 L311.9,905.5 L315.5,903.7 L319.0,901.9 L322.6,900.1 L326.2,898.3 L329.7,896.5 L333.4,894.8 L337.0,893.1 L340.6,891.4 L344.2,889.7 L347.9,888.0 L351.5,886.4 L355.2,884.8 L358.8,883.1 L362.5,881.6 L366.2,880.0 L369.9,878.4 L373.6,876.9 L377.2,875.4 L381.0,873.9 L384.7,872.4 L388.4,870.9 L392.1,869.4 L395.8,868.0 L399.6,866.5 L403.3,865.1 L407.0,863.7 L410.8,862.3 L414.5,860.9 L418.3,859.5 L422.0,858.1 L425.8,856.7 L429.5,855.3 L433.3,854.0 L437.0,852.6 L440.8,851.2 L444.6,849.8 L448.3,848.5 L452.1,847.1 L455.8,845.7 L459.6,844.4 L463.4,843.0 L467.1,841.6 L470.9,840.3 L474.6,838.9 L478.4,837.5 L482.2,836.2 L485.9,834.8 L489.7,833.4 L493.4,832.1 L497.2,830.7 L500.9,829.3 L504.7,828.0 L508.5,826.6 L512.2,825.2 L516.0,823.8 L519.7,822.5 L523.5,821.1 L527.3,819.7 L531.0,818.4 L534.8,817.0 L538.5,815.6 L542.3,814.3 L546.0,812.9 L549.8,811.5 L553.6,810.2 L557.3,808.8 L561.1,807.4 L564.8,806.1 L568.6,804.7 L572.4,803.3 L576.1,802.0 L579.9,800.6 L583.6,799.2 L587.4,797.9 L591.2,796.5 L594.9,795.1 L598.7,793.8 L602.4,792.4 L606.2,791.0 L609.9,789.6 L613.7,788.3 L617.5,786.9 L621.2,785.5 L625.0,784.2 L628.7,782.8 L632.5,781.4 L636.3,780.1 L640.0,778.7 L643.8,777.3 L647.5,776.0 L651.3,774.6 L655.1,773.2 L658.8,771.9 L662.6,770.5 L666.3,769.1 M946.5,653.2 L950.0,651.2 L953.4,649.2 L956.9,647.2 L960.3,645.2 L963.7,643.1 L967.1,640.9 L970.5,638.8 L973.8,636.6 L977.2,634.4 L980.5,632.2 L983.8,630.0 L987.1,627.7 L990.4,625.4 L993.6,623.0 L996.9,620.7 L1000.1,618.3 L1003.3,615.9 L1006.4,613.5 L1009.6,611.0 L1012.7,608.5 L1015.8,606.0 L1018.9,603.5 L1022.0,600.9 L1025.1,598.4 L1028.1,595.8 L1031.1,593.1 L1034.1,590.5 L1037.1,587.8 L1040.1,585.1 L1043.0,582.4 L1046.0,579.7 L1048.9,577.0 L1051.8,574.2 L1054.6,571.4 L1057.5,568.6 L1060.3,565.8 L1063.1,562.9 L1065.9,560.1 L1068.7,557.2 L1071.5,554.3 L1074.2,551.4 L1077.0,548.5 L1079.7,545.6 L1082.4,542.6 L1085.1,539.6 L1087.7,536.7 L1090.4,533.7 L1093.0,530.7 L1095.6,527.6 L1098.3,524.6 L1100.9,521.6 M722.9,983.3 L726.4,981.2 L729.8,979.1 L733.2,977.0 L736.6,975.0 L740.0,972.9 L743.5,970.9 L746.9,968.8 L750.4,966.8 L753.8,964.8 L757.3,962.8 L760.8,960.9 L764.3,958.9 L767.8,956.9 L771.3,955.0 L774.8,953.1 L778.3,951.2 L781.8,949.3 L785.4,947.5 L788.9,945.7 L792.5,943.8 L796.1,942.0 L799.7,940.3 L803.3,938.5 L806.9,936.8 L810.5,935.1 L814.1,933.4 L817.8,931.7 L821.4,930.1 L825.1,928.5 L828.7,926.9 L832.4,925.3 L836.1,923.7 L839.8,922.2 L843.5,920.7 L847.2,919.1 L850.9,917.6 L854.6,916.1 L858.3,914.6 L862.0,913.1 L865.7,911.6 L869.4,910.1 L873.1,908.6 L876.8,907.1 L880.5,905.5 L884.2,904.0 L887.9,902.4 L891.5,900.8 L895.2,899.2 L898.9,897.6 L902.5,896.0 L906.2,894.3 L909.8,892.6 L913.4,890.9 L917.0,889.2 L920.6,887.4 M1095.1,777.7 L1097.7,774.7 L1100.2,771.6 L1102.8,768.5 L1105.4,765.5 L1108.0,762.4 L1110.5,759.3 L1113.0,756.2 L1115.6,753.1 L1118.1,750.0 L1120.6,746.9 L1123.1,743.8 L1125.5,740.6 L1128.0,737.5 L1130.5,734.3 L1132.9,731.2 L1135.4,728.0 L1137.8,724.8 L1140.2,721.6 L1142.6,718.4 L1145.0,715.2 L1147.4,712.0 L1149.8,708.8 L1152.2,705.6 L1154.6,702.4 L1157.0,699.2 L1159.4,696.0 L1161.7,692.8 L1164.1,689.5 L1166.5,686.3 L1168.8,683.1 L1171.2,679.8 L1173.5,676.6 L1175.9,673.4 L1178.2,670.1 L1180.6,666.9 L1182.9,663.7 L1185.3,660.4 L1187.6,657.2 L1190.0,654.0 L1192.3,650.7 L1194.7,647.5 L1197.0,644.3 L1199.4,641.0 L1201.7,637.8 L1204.1,634.5 L1206.4,631.3 L1208.8,628.1 L1211.1,624.8 L1213.5,621.6 L1215.9,618.4 L1218.2,615.1 L1220.6,611.9 L1222.9,608.7 L1225.3,605.4 L1227.6,602.2 L1230.0,598.9 L1232.3,595.7 L1234.7,592.5 L1237.0,589.2 L1239.4,586.0 L1241.7,582.8 L1244.1,579.5 M284.4,904.9 L287.9,903.1 L291.5,901.3 L295.1,899.5 L298.7,897.8 L302.3,896.0 L305.9,894.3 L309.5,892.6 L313.1,890.9 L316.7,889.2 L320.4,887.5 L324.0,885.9 L327.7,884.3 L331.4,882.7 L335.0,881.1 L338.7,879.6 L342.4,878.0 L346.1,876.5 L349.8,875.0 L353.5,873.5 L357.2,872.0 L360.9,870.5 L364.7,869.0 L368.4,867.6 L372.1,866.1 L375.9,864.7 L379.6,863.3 L383.3,861.9 L387.1,860.5 L390.8,859.1 L394.6,857.7 L398.3,856.3 L402.1,854.9 L405.8,853.6 L409.6,852.2 L413.4,850.8 L417.1,849.5 L420.9,848.1 L424.6,846.7 L428.4,845.4 L432.2,844.0 L435.9,842.6 L439.7,841.2 L443.4,839.9 L447.2,838.5 L450.9,837.1 L454.7,835.8 L458.5,834.4 L462.2,833.0 L466.0,831.7 L469.7,830.3 L473.5,828.9 L477.3,827.6 L481.0,826.2 L484.8,824.8 L488.5,823.5 L492.3,822.1 L496.1,820.7 L499.8,819.4 L503.6,818.0 L507.3,816.6 L511.1,815.3 L514.8,813.9 L518.6,812.5 L522.4,811.1 L526.1,809.8 L529.9,808.4 L533.6,807.0 L537.4,805.7 L541.2,804.3 L544.9,802.9 L548.7,801.6 L552.4,800.2 L556.2,798.8 L560.0,797.5 L563.7,796.1 L567.5,794.7 L571.2,793.4 L575.0,792.0 L578.7,790.6 L582.5,789.3 L586.3,787.9 L590.0,786.5 L593.8,785.2 L597.5,783.8 L601.3,782.4 L605.1,781.1 M940.1,641.9 L943.6,640.0 L947.0,638.0 L950.5,636.1 L954.0,634.1 L957.4,632.0 L960.8,629.9 L964.3,627.9 L967.6,625.7 L971.0,623.6 L974.4,621.4 L977.7,619.2 L981.0,617.0 L984.3,614.7 L987.6,612.4 L990.9,610.1 L994.1,607.8 L997.4,605.4 L1000.6,603.1 L1003.8,600.6 L1006.9,598.2 L1010.1,595.7 L1013.2,593.3 L1016.3,590.8 L1019.4,588.2 L1022.5,585.7 L1025.6,583.1 L1028.6,580.5 L1031.6,577.9 L1034.6,575.2 L1037.6,572.5 L1040.6,569.8 L1043.5,567.1 L1046.4,564.4 L1049.3,561.7 L1052.2,558.9 L1055.1,556.1 L1057.9,553.3 L1060.8,550.5 L1063.6,547.6 L1066.4,544.8 L1069.2,541.9 L1071.9,539.0 L1074.7,536.1 L1077.4,533.2 L1080.1,530.2 L1082.8,527.3 L1085.5,524.3 M749.8,982.0 L753.3,980.0 L756.7,978.0 L760.2,976.1 L763.7,974.1 L767.2,972.2 L770.7,970.3 L774.2,968.3 L777.8,966.4 L781.3,964.6 L784.8,962.7 L788.4,960.9 L792.0,959.1 L795.5,957.3 L799.1,955.5 L802.7,953.7 L806.3,952.0 L809.9,950.3 L813.5,948.6 L817.2,946.9 L820.8,945.2 L824.5,943.6 L828.1,942.0 L831.8,940.4 L835.5,938.8 L839.1,937.2 L842.8,935.7 L846.5,934.1 L850.2,932.6 L853.9,931.1 L857.6,929.5 L861.3,928.0 L865.0,926.5 L868.7,925.0 L872.4,923.5 L876.1,921.9 L879.8,920.4 L883.5,918.8 L887.2,917.3 M1123.4,764.4 L1125.8,761.3 L1128.3,758.1 L1130.8,755.0 L1133.2,751.8 L1135.6,748.6 L1138.1,745.5 L1140.5,742.3 L1142.9,739.1 L1145.3,735.9 L1147.7,732.7 L1150.1,729.5 L1152.5,726.3 L1154.9,723.1 L1157.3,719.9 L1159.6,716.6 L1162.0,713.4 L1164.4,710.2 L1166.7,707.0 L1169.1,703.7 L1171.4,700.5 L1173.8,697.3 L1176.2,694.0 L1178.5,690.8 L1180.9,687.6 L1183.2,684.3 L1185.6,681.1 L1187.9,677.9 L1190.3,674.6 L1192.6,671.4 L1195.0,668.1 L1197.3,664.9 L1199.7,661.7 L1202.0,658.4 L1204.4,655.2 L1206.7,652.0 L1209.1,648.7 L1211.4,645.5 L1213.8,642.3 L1216.1,639.0 L1218.5,635.8 L1220.8,632.5 L1223.2,629.3 L1225.5,626.1 L1227.9,622.8 L1230.2,619.6 L1232.6,616.4 L1234.9,613.1 L1237.3,609.9 L1239.6,606.7 L1242.0,603.4 L1244.3,600.2 L1246.7,596.9 L1249.0,593.7 L1251.4,590.5 L1253.7,587.2 M401.4,841.3 L405.2,840.0 L408.9,838.6 L412.7,837.2 L416.4,835.9 L420.2,834.5 L423.9,833.1 L427.7,831.8 L431.5,830.4 L435.2,829.0 L439.0,827.7 L442.7,826.3 L446.5,824.9 L450.3,823.6 L454.0,822.2 L457.8,820.8 L461.5,819.5 L465.3,818.1 L469.1,816.7 L472.8,815.4 L476.6,814.0 L480.3,812.6 L484.1,811.2 L487.8,809.9 L491.6,808.5 L495.4,807.1 L499.1,805.8 L502.9,804.4 L506.6,803.0 L510.4,801.7 L514.2,800.3 L517.9,798.9 L521.7,797.6 M936.8,628.8 L940.3,626.8 L943.8,624.9 L947.3,622.9 L950.7,620.9 L954.2,618.9 L957.6,616.8 L961.0,614.8 L964.4,612.7 L967.8,610.5 L971.2,608.4 L974.6,606.2 L977.9,604.0 L981.2,601.8 L984.5,599.5 L987.8,597.3 L991.1,594.9 L994.3,592.6 L997.5,590.2 L1000.8,587.9 L1003.9,585.4 L1007.1,583.0 L1010.3,580.5 L1013.4,578.1 L1016.5,575.5 L1019.6,573.0 L1022.7,570.4 L1025.7,567.9 L1028.8,565.3 L1031.8,562.6 L1034.8,560.0 L1037.8,557.3 L1040.7,554.6 L1043.7,551.9 L1046.6,549.2 L1049.5,546.4 L1052.4,543.7 L1055.2,540.9 L1058.1,538.1 L1060.9,535.2 L1063.7,532.4 L1066.5,529.5 M783.7,977.9 L787.2,976.1 L790.8,974.3 L794.4,972.5 L798.0,970.7 L801.5,968.9 L805.1,967.2 L808.8,965.4 L812.4,963.7 L816.0,962.1 L819.6,960.4 L823.3,958.7 L826.9,957.1 L830.6,955.5 M1146.0,756.5 L1148.4,753.3 L1150.8,750.1 L1153.1,746.9 L1155.5,743.7 L1157.9,740.5 L1160.3,737.3 L1162.6,734.1 L1165.0,730.8 L1167.4,727.6 L1169.7,724.4 L1172.1,721.1 L1174.4,717.9 L1176.8,714.7 L1179.1,711.4 L1181.5,708.2 L1183.8,705.0 L1186.2,701.7 L1188.5,698.5 L1190.9,695.2 L1193.2,692.0 L1195.6,688.8 L1197.9,685.5 L1200.3,682.3 L1202.7,679.1 L1205.0,675.8 L1207.4,672.6 L1209.7,669.4 L1212.1,666.1 L1214.4,662.9 L1216.8,659.6 L1219.1,656.4 L1221.5,653.2 L1223.8,649.9 L1226.2,646.7 L1228.5,643.5 L1230.9,640.2 L1233.2,637.0 L1235.6,633.8 L1237.9,630.5 L1240.3,627.3 L1242.6,624.1 L1245.0,620.8 L1247.3,617.6 L1249.7,614.3 L1252.0,611.1 L1254.4,607.9 L1256.7,604.6 L1259.1,601.4 L1261.4,598.2 L1263.8,594.9 L1266.1,591.7 M423.3,819.6 L427.0,818.2 L430.8,816.8 L434.5,815.4 L438.3,814.1 L442.1,812.7 L445.8,811.3 L449.6,810.0 L453.3,808.6 L457.1,807.2 L460.9,805.9 L464.6,804.5 L468.4,803.1 L472.1,801.8 L475.9,800.4 M930.6,617.3 L934.1,615.5 L937.7,613.6 L941.2,611.7 L944.7,609.7 L948.2,607.8 L951.6,605.8 L955.1,603.8 L958.5,601.7 L962.0,599.6 L965.4,597.5 L968.7,595.4 L972.1,593.3 L975.5,591.1 L978.8,588.9 L982.1,586.6 L985.4,584.4 L988.7,582.1 L991.9,579.8 L995.2,577.4 L998.4,575.0 L1001.6,572.7 L1004.8,570.2 L1008.0,567.8 M1170.8,745.0 L1173.2,741.7 L1175.5,738.5 L1177.9,735.3 L1180.2,732.0 L1182.6,728.8 L1184.9,725.5 L1187.3,722.3 L1189.6,719.1 L1192.0,715.8 L1194.3,712.6 L1196.7,709.4 L1199.0,706.1 L1201.4,702.9 L1203.7,699.7 L1206.1,696.4 L1208.4,693.2 L1210.8,690.0 L1213.1,686.7 L1215.5,683.5 L1217.8,680.2 L1220.2,677.0 L1222.6,673.8 L1224.9,670.5 L1227.3,667.3 L1229.6,664.1 L1232.0,660.8 L1234.3,657.6 L1236.7,654.4 L1239.0,651.1 L1241.4,647.9 L1243.7,644.6 L1246.1,641.4 L1248.4,638.2 L1250.8,634.9 L1253.1,631.7 L1255.5,628.5 L1257.8,625.2 L1260.2,622.0 L1262.5,618.8 L1264.9,615.5 L1267.2,612.3 L1269.6,609.1 L1271.9,605.8 L1274.3,602.6 M924.6,605.8 L928.1,604.0 L931.7,602.2 L935.2,600.3 L938.7,598.4 L942.3,596.5 L945.8,594.5 L949.2,592.6 L952.7,590.6 L956.1,588.5 L959.6,586.5 L963.0,584.4 L966.4,582.3 M1197.8,730.0 L1200.2,726.7 L1202.5,723.5 L1204.9,720.2 L1207.2,717.0 L1209.6,713.8 L1211.9,710.5 L1214.3,707.3 L1216.6,704.1 L1219.0,700.8 L1221.3,697.6 L1223.7,694.4 L1226.0,691.1 L1228.4,687.9 L1230.7,684.6 L1233.1,681.4 L1235.4,678.2 L1237.8,674.9 L1240.1,671.7 L1242.5,668.5 L1244.8,665.2 L1247.2,662.0 L1249.5,658.8 L1251.9,655.5 L1254.2,652.3 L1256.6,649.1 L1258.9,645.8 L1261.3,642.6 L1263.6,639.3 L1266.0,636.1 L1268.3,632.9 L1270.7,629.6 L1273.0,626.4 L1275.4,623.2 L1277.7,619.9 L1280.1,616.7 M1224.8,714.9 L1227.1,711.7 L1229.5,708.5 L1231.8,705.2 L1234.2,702.0 L1236.5,698.8 L1238.9,695.5 L1241.2,692.3 L1243.6,689.1 L1245.9,685.8 L1248.3,682.6 L1250.6,679.3 L1253.0,676.1 L1255.3,672.9 L1257.7,669.6 L1260.0,666.4 L1262.4,663.2 L1264.7,659.9 L1267.1,656.7 L1269.4,653.5 L1271.8,650.2 L1274.2,647.0 L1276.5,643.7 L1278.9,640.5 L1281.2,637.3 L1283.6,634.0 M1251.8,699.9 L1254.1,696.7 L1256.5,693.5 L1258.8,690.2 L1261.2,687.0 L1263.5,683.8 L1265.9,680.5 L1268.2,677.3 L1270.6,674.0 L1272.9,670.8 L1275.3,667.6 L1277.6,664.3 L1280.0,661.1" fill="none" stroke="#ddcfc5" stroke-width="5.4" opacity="0.30" transform="translate(0,-2.6)"/></g>
<g filter="url(#bl10)"><path d="M506.1,958.2 L509.5,956.0 L512.9,953.9 L516.3,951.8 L519.7,949.7 L523.1,947.6 L526.4,945.4 L529.8,943.3 L533.2,941.2 L536.6,939.1 L540.0,937.0 L543.4,934.9 L546.9,932.8 L550.3,930.7 L553.7,928.7 L557.1,926.6 L560.6,924.6 L564.0,922.6 L567.5,920.6 L571.0,918.6 L574.4,916.6 L577.9,914.7 L581.5,912.7 L585.0,910.8 L588.5,908.9 L592.0,907.1 L595.6,905.2 L599.1,903.4 L602.7,901.6 L606.3,899.8 L609.9,898.1 L613.5,896.3 L617.1,894.6 L620.7,892.9 L624.4,891.2 L628.0,889.6 L631.6,887.9 L635.3,886.3 L639.0,884.7 L642.6,883.1 L646.3,881.6 L650.0,880.0 L653.7,878.4 L657.4,876.9 L661.1,875.4 L664.8,873.9 L668.5,872.4 L672.2,870.9 L675.9,869.5 L679.7,868.0 L683.4,866.6 L687.1,865.1 L690.9,863.7 L694.6,862.3 L698.4,860.9 L702.1,859.5 L705.9,858.1 L709.6,856.7 L713.4,855.3 L717.1,854.0 L720.9,852.6 L724.6,851.2 L728.4,849.9 L732.2,848.5 L735.9,847.1 L739.7,845.7 L743.4,844.4 L747.2,843.0 L750.9,841.6 L754.7,840.3 L758.5,838.9 L762.2,837.5 L766.0,836.2 L769.7,834.8 L773.5,833.4 L777.3,832.1 L781.0,830.7 L784.8,829.3 L788.5,828.0 L792.3,826.6 L796.0,825.2 L799.8,823.9 L803.6,822.5 L807.3,821.1 L811.1,819.8 L814.8,818.4 L818.6,817.0 L822.4,815.6 L826.1,814.3 L829.9,812.9 L833.6,811.5 L837.4,810.2 L841.1,808.8 L844.9,807.4 L848.6,806.0 L852.4,804.6 L856.1,803.2 L859.9,801.7 L863.6,800.3 L867.3,798.8 L871.0,797.4 L874.7,795.9 L878.5,794.4 L882.2,792.8 L885.8,791.3 L889.5,789.7 L893.2,788.1 L896.9,786.5 L900.5,784.9 L904.2,783.3 L907.8,781.6 L911.4,779.9 L915.0,778.2 L918.6,776.4 L922.2,774.7 L925.8,772.9 L929.4,771.1 L932.9,769.2 L936.4,767.3 L940.0,765.4 L943.5,763.5 L946.9,761.5 L950.4,759.6 L953.9,757.6 L957.3,755.5 L960.7,753.5 L964.2,751.4 L967.6,749.2 L970.9,747.1 L974.3,744.9 L977.6,742.7 L980.9,740.5 L984.3,738.2 L987.5,736.0 L990.8,733.7 L994.1,731.3 L997.3,729.0 L1000.5,726.6 L1003.7,724.2 L1006.9,721.7 L1010.0,719.3 L1013.1,716.8 L1016.3,714.3 L1019.4,711.7 L1022.4,709.2 L1025.5,706.6 L1028.5,704.0 L1031.5,701.4 L1034.5,698.7 L1037.5,696.1 L1040.5,693.4 L1043.4,690.7 L1046.4,687.9 L1049.3,685.2 L1052.1,682.4 L1055.0,679.6 L1057.9,676.8 L1060.7,674.0 L1063.5,671.1 L1066.3,668.3 L1069.1,665.4 L1071.9,662.5 L1074.6,659.6 L1077.3,656.7 L1080.0,653.8 L1082.7,650.8 L1085.4,647.8 L1088.1,644.8 L1090.7,641.9 L1093.4,638.8 L1096.0,635.8 L1098.6,632.8 L1101.2,629.7 L1103.8,626.7 L1106.3,623.6 L1108.9,620.5 L1111.4,617.5 L1114.0,614.4 L1116.5,611.3 L1119.0,608.1 L1121.5,605.0 L1124.0,601.9 L1126.5,598.7 L1128.9,595.6 L1131.4,592.4 L1133.8,589.3 L1136.3,586.1 L1138.7,582.9 L1141.1,579.7 L1143.5,576.5 L1145.9,573.3 L1148.3,570.1 L1150.7,566.9 L1153.1,563.7 L1155.5,560.5 L1157.9,557.3 L1160.2,554.1 L1162.6,550.8 L1165.0,547.6 L1167.3,544.4 L1169.7,541.2 L1172.0,537.9 M485.6,955.6 L489.0,953.5 L492.4,951.4 L495.8,949.3 L499.2,947.1 L502.6,945.0 L506.0,942.9 L509.4,940.8 L512.8,938.7 L516.2,936.5 L519.6,934.4 L523.0,932.3 L526.4,930.3 L529.8,928.2 L533.2,926.1 L536.7,924.1 L540.1,922.1 L543.6,920.0 L547.1,918.0 L550.5,916.1 L554.0,914.1 L557.5,912.2 L561.0,910.2 L564.5,908.3 L568.1,906.5 L571.6,904.6 L575.2,902.8 L578.7,901.0 L582.3,899.2 L585.9,897.4 L589.5,895.6 L593.1,893.9 L596.7,892.2 L600.3,890.5 L604.0,888.8 L607.6,887.2 L611.3,885.5 L614.9,883.9 L618.6,882.3 L622.3,880.8 L626.0,879.2 L629.6,877.7 L633.3,876.1 L637.0,874.6 L640.8,873.1 L644.5,871.6 L648.2,870.2 L651.9,868.7 L655.6,867.3 L659.4,865.8 L663.1,864.4 L666.9,863.0 L670.6,861.6 L674.3,860.2 L678.1,858.8 L681.8,857.4 L685.6,856.0 L689.4,854.6 L693.1,853.3 L696.9,851.9 L700.6,850.5 L704.4,849.1 L708.1,847.8 L711.9,846.4 L715.7,845.0 L719.4,843.7 L723.2,842.3 L726.9,840.9 L730.7,839.6 L734.5,838.2 L738.2,836.8 L742.0,835.5 L745.7,834.1 L749.5,832.7 L753.2,831.4 L757.0,830.0 L760.8,828.6 L764.5,827.3 L768.3,825.9 L772.0,824.5 L775.8,823.2 L779.6,821.8 L783.3,820.4 L787.1,819.1 L790.8,817.7 L794.6,816.3 L798.4,814.9 L802.1,813.6 L805.9,812.2 L809.6,810.8 L813.4,809.5 L817.1,808.1 L820.9,806.7 L824.7,805.4 L828.4,804.0 L832.2,802.6 L835.9,801.3 L839.7,799.9 L843.4,798.5 L847.2,797.1 L850.9,795.7 L854.7,794.3 L858.4,792.8 L862.1,791.4 L865.9,790.0 L869.6,788.5 L873.3,787.0 L877.0,785.5 L880.7,784.0 L884.4,782.5 L888.1,780.9 L891.8,779.3 L895.4,777.7 L899.1,776.1 L902.8,774.5 L906.4,772.8 L910.0,771.1 L913.6,769.4 L917.2,767.7 L920.8,765.9 L924.4,764.1 L928.0,762.3 L931.5,760.5 L935.1,758.6 L938.6,756.7 L942.1,754.8 L945.6,752.9 L949.1,750.9 L952.5,748.9 L956.0,746.9 L959.4,744.8 L962.8,742.7 L966.2,740.6 L969.6,738.5 L973.0,736.3 L976.3,734.1 L979.7,731.9 M523.2,962.8 L526.6,960.7 L529.9,958.6 L533.3,956.5 L536.7,954.3 L540.1,952.2 L543.5,950.1 L546.9,948.0 L550.3,945.9 L553.7,943.7 L557.1,941.6 L560.5,939.5 L563.9,937.4 L567.3,935.3 L570.7,933.2 L574.1,931.1 L577.5,929.0 L580.9,927.0 L584.4,924.9 L587.8,922.9 L591.3,920.8 L594.7,918.8 L598.2,916.9 L601.7,914.9 L605.2,912.9 L608.7,911.0 L612.2,909.1 L615.7,907.2 L619.3,905.4 L622.8,903.5 L626.4,901.7 L629.9,899.9 L633.5,898.1 L637.1,896.3 L640.7,894.6 L644.3,892.9 L647.9,891.2 L651.6,889.5 L655.2,887.8 L658.9,886.2 L662.5,884.6 L666.2,883.0 L669.9,881.4 L673.5,879.8 L677.2,878.3 L680.9,876.7 L684.6,875.2 L688.3,873.7 L692.0,872.2 L695.8,870.8 L699.5,869.3 L703.2,867.8 L706.9,866.4 L710.7,865.0 L714.4,863.5 L718.2,862.1 L721.9,860.7 L725.6,859.3 L729.4,858.0 L733.2,856.6 L736.9,855.2 L740.7,853.8 L744.4,852.4 L748.2,851.1 L751.9,849.7 L755.7,848.3 L759.5,847.0 L763.2,845.6 L767.0,844.2 L770.7,842.9 L774.5,841.5 L778.3,840.1 L782.0,838.8 L785.8,837.4 L789.5,836.0 L793.3,834.7 L797.0,833.3 L800.8,831.9 L804.6,830.6 L808.3,829.2 L812.1,827.8 L815.8,826.4 L819.6,825.1 L823.4,823.7 L827.1,822.3 L830.9,821.0 L834.6,819.6 L838.4,818.2 L842.1,816.8 L845.9,815.4 L849.6,814.0 L853.4,812.6 L857.1,811.2 L860.8,809.8 L864.6,808.3 L868.3,806.9 L872.0,805.4 L875.7,803.9 L879.4,802.4 L883.1,800.9 L886.8,799.3 L890.5,797.7 L894.2,796.2 L897.8,794.5 L901.5,792.9 L905.1,791.3 L908.8,789.6 M917.5,791.7 L921.1,790.0 L924.6,788.1 L928.2,786.3 L931.7,784.4 L935.2,782.6 L938.8,780.7 L942.3,778.8 L945.8,776.8 L949.3,774.9 L952.7,772.9 L956.2,770.8 L959.6,768.8 L963.0,766.7 L966.4,764.6 L969.8,762.4 L973.2,760.3 L976.5,758.1 L979.8,755.9 L983.1,753.6 L986.4,751.3 L989.7,749.0 L993.0,746.7 L996.2,744.4 L999.4,742.0 L1002.6,739.6 L1005.8,737.2 L1009.0,734.7 L1012.1,732.2 L1015.2,729.7 L1018.3,727.2 L1021.4,724.7 L1024.5,722.1 L1027.5,719.5 L1030.5,716.9 L1033.5,714.2 L1036.5,711.6 L1039.5,708.9 L1042.4,706.2 L1045.4,703.5 L1048.3,700.7 L1051.2,698.0 L1054.0,695.2 L1056.9,692.4 L1059.7,689.6 L1062.6,686.7 L1065.4,683.9 L1068.2,681.0 L1070.9,678.1 L1073.7,675.2 L1076.4,672.3 L1079.1,669.4 L1081.8,666.4 L1084.5,663.4 L1087.2,660.5 L1089.8,657.5 L1092.5,654.5 L1095.1,651.5 L1097.7,648.4 L1100.3,645.4 L1102.9,642.3 L1105.5,639.3 L1108.0,636.2 L1110.6,633.1 L1113.1,630.0 L1115.6,626.9 L1118.2,623.8 L1120.7,620.7 L1123.1,617.5 L1125.6,614.4 L1128.1,611.3 L1130.5,608.1 L1133.0,604.9 L1135.4,601.8 L1137.9,598.6 L1140.3,595.4 L1142.7,592.2 L1145.1,589.0 L1147.5,585.8 L1149.9,582.6 L1152.3,579.4 L1154.7,576.2 L1157.1,573.0 L1159.4,569.8 L1161.8,566.5 L1164.2,563.3 L1166.5,560.1 L1168.9,556.9 L1171.2,553.6 L1173.6,550.4 L1176.0,547.2 L1178.3,543.9 L1180.7,540.7 M983.1,723.1 L986.4,720.8 L989.7,718.5 L992.9,716.2 L996.1,713.8 L999.4,711.5 L1002.6,709.1 L1005.7,706.6 L1008.9,704.2 L1012.0,701.7 L1015.2,699.2 L1018.3,696.7 L1021.3,694.1 L1024.4,691.6 L1027.5,689.0 L1030.5,686.4 L1033.5,683.7 L1036.5,681.1 L1039.4,678.4 L1042.4,675.7 L1045.3,672.9 L1048.2,670.2 L1051.1,667.4 L1054.0,664.7 L1056.9,661.9 L1059.7,659.0 L1062.5,656.2 L1065.3,653.4 L1068.1,650.5 L1070.9,647.6 L1073.6,644.7 L1076.4,641.8 L1079.1,638.8 L1081.8,635.9 L1084.5,632.9 L1087.1,630.0 L1089.8,627.0 L1092.4,624.0 L1095.1,620.9 L1097.7,617.9 L1100.3,614.9 L1102.9,611.8 L1105.4,608.8 L1108.0,605.7 L1110.5,602.6 L1113.1,599.5 L1115.6,596.4 L1118.1,593.3 L1120.6,590.2 L1123.1,587.0 L1125.6,583.9 L1128.0,580.7 L1130.5,577.6 L1133.0,574.4 L1135.4,571.3 L1137.8,568.1 L1140.3,564.9 L1142.7,561.7 L1145.1,558.5 L1147.5,555.3 L1149.9,552.1 L1152.3,548.9 L1154.6,545.7 L1157.0,542.5 L1159.4,539.3 L1161.8,536.0 M468.6,950.9 L472.0,948.8 L475.4,946.7 L478.7,944.6 L482.1,942.5 L485.5,940.3 L488.9,938.2 L492.3,936.1 L495.7,934.0 L499.1,931.9 L502.6,929.8 L506.0,927.8 L509.4,925.7 L512.8,923.7 L516.3,921.6 L519.8,919.6 L523.2,917.6 L526.7,915.7 L530.2,913.7 L533.7,911.8 L537.2,909.9 L540.7,908.0 L544.3,906.1 L547.8,904.2 L551.4,902.4 L554.9,900.6 L558.5,898.8 L562.1,897.0 L565.7,895.3 L569.3,893.6 L572.9,891.8 L576.5,890.2 L580.2,888.5 L583.8,886.9 L587.5,885.2 L591.1,883.6 L594.8,882.0 L598.5,880.4 L602.2,878.9 L605.9,877.3 L609.6,875.8 L613.3,874.3 L617.0,872.8 L620.7,871.3 L624.4,869.9 L628.1,868.4 L631.9,867.0 L635.6,865.5 L639.3,864.1 L643.1,862.7 L646.8,861.3 L650.6,859.9 L654.3,858.5 L658.1,857.1 L661.8,855.7 L665.6,854.4 L669.3,853.0 L673.1,851.6 L676.8,850.2 L680.6,848.9 L684.4,847.5 L688.1,846.1 L691.9,844.8 L695.6,843.4 L699.4,842.0 L703.2,840.7 L706.9,839.3 L710.7,837.9 L714.4,836.6 L718.2,835.2 L722.0,833.8 L725.7,832.5 L729.5,831.1 L733.2,829.7 L737.0,828.4 L740.7,827.0 L744.5,825.6 L748.3,824.2 L752.0,822.9 L755.8,821.5 L759.5,820.1 L763.3,818.8 L767.1,817.4 L770.8,816.0 L774.6,814.7 L778.3,813.3 L782.1,811.9 L785.9,810.6 L789.6,809.2 L793.4,807.8 L797.1,806.5 L800.9,805.1 L804.6,803.7 L808.4,802.4 L812.2,801.0 L815.9,799.6 L819.7,798.3 L823.4,796.9 L827.2,795.5 L831.0,794.1 L834.7,792.8 L838.5,791.4 L842.2,790.0 L846.0,788.6 L849.7,787.2 L853.5,785.8 L857.2,784.4 L860.9,782.9 L864.7,781.5 L868.4,780.0 L872.1,778.6 L875.8,777.1 L879.5,775.6 L883.2,774.0 L886.9,772.5 L890.6,770.9 L894.3,769.3 L897.9,767.7 L901.6,766.1 L905.2,764.4 L908.8,762.7 L912.5,761.0 L916.1,759.3 L919.7,757.6 L923.2,755.8 L926.8,754.0 L930.4,752.2 L933.9,750.3 L937.4,748.4 L941.0,746.5 L944.5,744.6 M949.2,735.7 L952.7,733.7 L956.1,731.7 L959.5,729.6 L963.0,727.6 L966.4,725.4 L969.7,723.3 L973.1,721.1 L976.4,718.9 M543.6,965.4 L547.0,963.2 L550.4,961.1 L553.8,959.0 L557.2,956.9 L560.6,954.8 L564.0,952.7 L567.4,950.5 L570.8,948.4 L574.1,946.3 L577.5,944.2 L580.9,942.1 L584.3,939.9 L587.7,937.8 L591.1,935.7 L594.5,933.6 L597.9,931.5 L601.4,929.4 L604.8,927.4 L608.2,925.3 L611.6,923.3 L615.1,921.3 L618.6,919.2 L622.0,917.3 L625.5,915.3 L629.0,913.3 L632.5,911.4 L636.0,909.5 L639.5,907.6 L643.1,905.7 L646.6,903.9 L650.2,902.0 L653.7,900.2 L657.3,898.5 L660.9,896.7 L664.5,894.9 L668.1,893.2 L671.7,891.5 L675.4,889.8 L679.0,888.2 L682.7,886.5 L686.3,884.9 L690.0,883.3 L693.6,881.7 L697.3,880.1 L701.0,878.6 L704.7,877.1 L708.4,875.5 L712.1,874.0 L715.8,872.5 L719.5,871.1 L723.3,869.6 L727.0,868.1 L730.7,866.7 L734.5,865.3 L738.2,863.9 L741.9,862.4 L745.7,861.0 L749.4,859.6 L753.2,858.3 L756.9,856.9 L760.7,855.5 L764.5,854.1 L768.2,852.8 L772.0,851.4 L775.7,850.0 L779.5,848.7 L783.2,847.3 L787.0,845.9 L790.8,844.5 L794.5,843.2 L798.3,841.8 L802.0,840.4 L805.8,839.1 L809.6,837.7 L813.3,836.3 L817.1,835.0 L820.8,833.6 L824.6,832.2 L828.4,830.9 L832.1,829.5 L835.9,828.1 L839.6,826.7 L843.4,825.3 L847.1,824.0 L850.9,822.6 L854.6,821.1 L858.3,819.7 L862.1,818.3 L865.8,816.8 L869.5,815.4 L873.2,813.9 L876.9,812.4 L880.7,810.9 L884.3,809.3 L888.0,807.8 L891.7,806.2 L895.4,804.6 L899.0,803.0 L902.7,801.3 L906.3,799.7 L909.9,798.0 M572.6,966.9 L576.0,964.8 L579.3,962.7 L582.7,960.5 L586.1,958.4 L589.5,956.3 L592.9,954.2 L596.3,952.1 L599.7,949.9 L603.1,947.8 L606.5,945.7 L609.9,943.6 L613.3,941.5 L616.7,939.3 L620.1,937.2 L623.5,935.1 L626.9,933.1 L630.3,931.0 L633.7,928.9 L637.2,926.9 L640.6,924.8 L644.1,922.8 L647.5,920.8 L651.0,918.8 L654.5,916.8 L658.0,914.9 L661.5,913.0 L665.0,911.1 L668.5,909.2 L672.1,907.3 L675.6,905.5 L679.2,903.6 L682.7,901.8 L686.3,900.0 L689.9,898.3 L693.5,896.5 L697.1,894.8 L700.7,893.1 L704.4,891.4 L708.0,889.8 L711.6,888.1 L715.3,886.5 L719.0,884.9 L722.6,883.3 L726.3,881.8 L730.0,880.2 L733.7,878.7 L737.4,877.2 L741.1,875.7 L744.8,874.2 L748.6,872.8 L752.3,871.3 L756.0,869.9 L759.8,868.4 L763.5,867.0 L767.2,865.6 L771.0,864.2 L774.7,862.8 L778.5,861.4 L782.2,860.0 L786.0,858.7 L789.8,857.3 L793.5,855.9 L797.3,854.5 L801.0,853.2 L804.8,851.8 L808.6,850.4 L812.3,849.1 L816.1,847.7 L819.8,846.3 L823.6,845.0 L827.3,843.6 L831.1,842.2 L834.9,840.8 L838.6,839.5 L842.4,838.1 L846.1,836.7 L849.8,835.2 L853.6,833.8 L857.3,832.4 L861.0,830.9 L864.8,829.5 L868.5,828.0 L872.2,826.5 L875.9,825.0 L879.6,823.5 L883.3,821.9 L887.0,820.3 L890.6,818.8 L894.3,817.1 L897.9,815.5 L901.6,813.9 L905.2,812.2 L908.8,810.5 L912.4,808.8 L916.0,807.0 L919.6,805.2 L923.2,803.4 L926.8,801.6 L930.3,799.8 L933.9,797.9 L937.4,796.1 L940.9,794.1 L944.4,792.2 L947.9,790.2 L951.4,788.3 L954.8,786.2 L958.3,784.2 L961.7,782.1 L965.1,780.0 L968.5,777.9 L971.9,775.7 L975.2,773.6 L978.5,771.4 L981.9,769.1 L985.2,766.9 L988.4,764.6 L991.7,762.3 L994.9,759.9 L998.2,757.5 L1001.4,755.2 L1004.6,752.7 L1007.7,750.3 L1010.9,747.8 L1014.0,745.3 L1017.1,742.8 L1020.2,740.3 L1023.3,737.7 L1026.3,735.1 L1029.4,732.5 L1032.4,729.9 L1035.4,727.2 L1038.3,724.6 L1041.3,721.9 L1044.2,719.2 L1047.2,716.4 L1050.1,713.7 L1052.9,710.9 L1055.8,708.1 L1058.6,705.3 L1061.5,702.5 L1064.3,699.6 L1067.1,696.7 L1069.8,693.9 L1072.6,691.0 L1075.3,688.1 L1078.1,685.1 L1080.8,682.2 L1083.5,679.2 L1086.2,676.3 L1088.8,673.3 L1091.5,670.3 L1094.1,667.3 L1096.7,664.2 L1099.3,661.2 L1101.9,658.2 L1104.5,655.1 L1107.0,652.0 L1109.6,648.9 L1112.1,645.9 L1114.7,642.8 L1117.2,639.6 L1119.7,636.5 L1122.2,633.4 L1124.7,630.3 L1127.1,627.1 L1129.6,624.0 L1132.0,620.8 L1134.5,617.6 L1136.9,614.5 L1139.3,611.3 L1141.8,608.1 L1144.2,604.9 L1146.6,601.7 L1149.0,598.5 L1151.4,595.3 L1153.8,592.1 L1156.1,588.9 L1158.5,585.6 L1160.9,582.4 L1163.2,579.2 L1165.6,576.0 L1168.0,572.7 L1170.3,569.5 L1172.7,566.3 L1175.0,563.0 L1177.4,559.8 L1179.7,556.6 L1182.1,553.3 L1184.4,550.1 L1186.8,546.9 M978.5,710.3 L981.8,708.0 L985.1,705.7 L988.3,703.4 L991.6,701.1 L994.8,698.7 L998.0,696.4 L1001.2,694.0 L1004.4,691.6 L1007.6,689.1 L1010.7,686.7 L1013.9,684.2 L1017.0,681.6 L1020.1,679.1 L1023.1,676.5 L1026.2,674.0 L1029.2,671.4 L1032.2,668.7 L1035.2,666.1 L1038.2,663.4 L1041.2,660.7 L1044.1,658.0 L1047.0,655.3 L1049.9,652.5 L1052.8,649.7 L1055.7,646.9 L1058.5,644.1 L1061.3,641.3 L1064.2,638.5 L1067.0,635.6 L1069.7,632.7 L1072.5,629.8 L1075.2,626.9 L1078.0,624.0 L1080.7,621.0 L1083.4,618.1 L1086.0,615.1 L1088.7,612.1 L1091.3,609.1 L1094.0,606.1 L1096.6,603.1 L1099.2,600.1 L1101.8,597.0 L1104.4,593.9 L1106.9,590.9 L1109.5,587.8 L1112.0,584.7 L1114.6,581.6 L1117.1,578.5 L1119.6,575.4 L1122.1,572.2 L1124.6,569.1 L1127.0,566.0 L1129.5,562.8 L1131.9,559.7 L1134.4,556.5 L1136.8,553.3 L1139.2,550.1 L1141.7,546.9 L1144.1,543.8 L1146.5,540.6 L1148.9,537.4 L1151.3,534.1 L1153.7,530.9 M448.1,948.4 L451.5,946.3 L454.9,944.2 L458.3,942.0 L461.7,939.9 L465.1,937.8 L468.5,935.7 L471.9,933.6 L475.3,931.5 L478.7,929.4 L482.1,927.4 L485.6,925.3 L489.0,923.3 L492.5,921.2 L495.9,919.2 L499.4,917.2 L502.9,915.3 L506.4,913.3 L509.9,911.4 L513.4,909.5 L516.9,907.6 L520.4,905.7 L524.0,903.9 L527.5,902.0 L531.1,900.2 L534.7,898.4 L538.3,896.7 L541.9,894.9 L545.5,893.2 L549.1,891.5 L552.7,889.8 L556.4,888.2 L560.0,886.5 L563.7,884.9 L567.3,883.3 L571.0,881.7 L574.7,880.1 L578.4,878.6 L582.1,877.0 L585.8,875.5 L589.5,874.0 L593.2,872.5 L596.9,871.0 L600.6,869.6 L604.3,868.1 L608.1,866.7 L611.8,865.2 L615.5,863.8 L619.3,862.4 L623.0,861.0 L626.8,859.6 L630.5,858.2 L634.3,856.8 L638.0,855.5 L641.8,854.1 L645.6,852.7 L649.3,851.3 L653.1,850.0 L656.8,848.6 L660.6,847.2 L664.3,845.9 L668.1,844.5 L671.9,843.1 L675.6,841.8 L679.4,840.4 L683.1,839.0 L686.9,837.7 L690.7,836.3 L694.4,834.9 L698.2,833.5 L701.9,832.2 L705.7,830.8 L709.5,829.4 L713.2,828.1 L717.0,826.7 L720.7,825.3 L724.5,824.0 L728.2,822.6 L732.0,821.2 L735.8,819.9 L739.5,818.5 L743.3,817.1 L747.0,815.8 L750.8,814.4 L754.6,813.0 L758.3,811.7 L762.1,810.3 L765.8,808.9 L769.6,807.6 L773.4,806.2 L777.1,804.8 L780.9,803.5 L784.6,802.1 L788.4,800.7 L792.1,799.3 L795.9,798.0 L799.7,796.6 L803.4,795.2 L807.2,793.9 L810.9,792.5 L814.7,791.1 L818.5,789.8 L822.2,788.4 L826.0,787.0 L829.7,785.7 L833.5,784.3 L837.2,782.9 L841.0,781.5 L844.8,780.1 L848.5,778.7 L852.2,777.3 L856.0,775.9 L859.7,774.5 L863.4,773.0 L867.2,771.6 L870.9,770.1 L874.6,768.6 L878.3,767.1 L882.0,765.6 L885.7,764.1 L889.4,762.5 L893.1,760.9 L896.7,759.3 L900.4,757.7 L904.0,756.0 L907.7,754.4 L911.3,752.7 L914.9,750.9 L918.5,749.2 L922.1,747.4 L925.7,745.6 L929.2,743.8 L932.8,742.0 L936.3,740.1 L939.8,738.2 M423.9,942.7 L427.3,940.6 L430.7,938.5 L434.1,936.4 L437.5,934.3 L440.9,932.2 L444.3,930.1 L447.8,928.1 L451.2,926.0 L454.6,924.0 L458.1,922.0 L461.6,920.0 L465.0,918.0 L468.5,916.0 L472.0,914.1 L475.5,912.2 L479.1,910.3 L482.6,908.4 L486.1,906.5 L489.7,904.7 L493.3,902.9 L496.8,901.1 L500.4,899.3 L504.0,897.6 L507.6,895.8 L511.2,894.1 L514.8,892.4 L518.5,890.7 L522.1,889.1 L525.8,887.5 L529.4,885.8 L533.1,884.2 L536.8,882.7 L540.5,881.1 L544.1,879.5 L547.8,878.0 L551.5,876.5 L555.2,875.0 L559.0,873.5 L562.7,872.0 L566.4,870.6 L570.1,869.1 L573.9,867.7 L577.6,866.3 L581.3,864.8 L585.1,863.4 L588.8,862.0 L592.6,860.6 L596.3,859.2 L600.1,857.9 L603.8,856.5 L607.6,855.1 L611.3,853.7 L615.1,852.4 L618.9,851.0 L622.6,849.6 L626.4,848.3 L630.1,846.9 L633.9,845.5 L637.7,844.1 L641.4,842.8 L645.2,841.4 L648.9,840.0 L652.7,838.7 L656.5,837.3 L660.2,835.9 L664.0,834.6 L667.7,833.2 L671.5,831.8 L675.2,830.5 L679.0,829.1 L682.8,827.7 L686.5,826.4 L690.3,825.0 L694.0,823.6 L697.8,822.3 L701.6,820.9 L705.3,819.5 L709.1,818.2 L712.8,816.8 L716.6,815.4 L720.4,814.1 L724.1,812.7 L727.9,811.3 L731.6,809.9 L735.4,808.6 L739.1,807.2 L742.9,805.8 L746.7,804.5 L750.4,803.1 L754.2,801.7 L757.9,800.4 L761.7,799.0 L765.5,797.6 L769.2,796.3 L773.0,794.9 L776.7,793.5 L780.5,792.2 L784.3,790.8 L788.0,789.4 L791.8,788.1 L795.5,786.7 L799.3,785.3 L803.0,784.0 L806.8,782.6 L810.6,781.2 L814.3,779.8 L818.1,778.5 L821.8,777.1 L825.6,775.7 L829.4,774.4 L833.1,773.0 L836.9,771.6 L840.6,770.2 L844.4,768.8 L848.1,767.4 L851.8,766.0 L855.6,764.6 L859.3,763.1 L863.0,761.7 L866.8,760.2 L870.5,758.7 L874.2,757.2 L877.9,755.7 L881.6,754.2 L885.3,752.6 L888.9,751.0 L892.6,749.4 L896.3,747.8 L899.9,746.1 L903.5,744.5 L907.2,742.8 L910.8,741.1 L914.4,739.3 L918.0,737.6 L921.5,735.8 L925.1,734.0 L928.7,732.1 L932.2,730.2 L935.7,728.4 L939.2,726.4 L942.7,724.5 L946.2,722.5 L949.7,720.6 L953.1,718.6 L956.6,716.5 L960.0,714.5 L963.4,712.4 L966.8,710.3 L970.2,708.1 M593.0,969.4 L596.4,967.3 L599.8,965.2 L603.2,963.1 L606.6,961.0 L610.0,958.8 L613.4,956.7 L616.8,954.6 L620.2,952.5 L623.6,950.4 L626.9,948.2 L630.3,946.1 L633.7,944.0 L637.1,941.9 L640.5,939.8 L643.9,937.7 L647.3,935.5 L650.7,933.4 L654.1,931.4 L657.5,929.3 L661.0,927.2 L664.4,925.2 L667.8,923.1 L671.3,921.1 L674.8,919.1 L678.2,917.1 L681.7,915.1 L685.2,913.2 L688.7,911.2 L692.2,909.3 L695.7,907.4 L699.3,905.6 L702.8,903.7 L706.4,901.9 L710.0,900.1 L713.5,898.3 L717.1,896.6 L720.7,894.8 L724.3,893.1 L728.0,891.4 L731.6,889.8 L735.3,888.1 L738.9,886.5 L742.6,884.9 L746.3,883.3 L749.9,881.8 L753.6,880.2 L757.3,878.7 L761.0,877.2 L764.7,875.7 L768.5,874.2 L772.2,872.8 L775.9,871.3 L779.7,869.9 L783.4,868.5 L787.1,867.0 L790.9,865.6 L794.6,864.2 L798.4,862.8 L802.1,861.5 L805.9,860.1 L809.6,858.7 L813.4,857.3 L817.1,855.9 L820.9,854.6 L824.7,853.2 L828.4,851.8 L832.2,850.5 L835.9,849.1 L839.7,847.7 L843.4,846.3 L847.2,844.9 L850.9,843.5 L854.7,842.1 L858.4,840.7 L862.1,839.2 L865.9,837.8 L869.6,836.3 L873.3,834.8 L877.0,833.3 L880.7,831.8 L884.4,830.3 L888.1,828.7 L891.8,827.2 L895.4,825.6 L899.1,823.9 L902.7,822.3 L906.4,820.6 L910.0,818.9 L913.6,817.2 L917.2,815.5 L920.8,813.7 L924.4,812.0 L928.0,810.1 L931.5,808.3 L935.1,806.4 L938.6,804.6 L942.1,802.6 L945.6,800.7 L949.1,798.7 L952.5,796.7 L956.0,794.7 L959.4,792.6 L962.8,790.6 M972.1,791.1 L975.5,788.9 L978.8,786.6 L982.1,784.4 L985.4,782.1 L988.7,779.9 L992.0,777.5 L995.2,775.2 L998.4,772.8 L1001.6,770.4 L1004.8,768.0 L1008.0,765.6 L1011.1,763.1 L1014.3,760.6 L1017.4,758.1 L1020.5,755.5 L1023.5,753.0 L1026.6,750.4 L1029.6,747.8 L1032.6,745.1 L1035.6,742.5 L1038.6,739.8 L1041.5,737.1 L1044.5,734.4 L1047.4,731.7 L1050.3,728.9 L1053.2,726.1 L1056.0,723.3 L1058.9,720.5 L1061.7,717.7 L1064.5,714.8 L1067.3,712.0 L1070.1,709.1 L1072.8,706.2 L1075.6,703.3 L1078.3,700.4 L1081.0,697.4 L1083.7,694.5 L1086.4,691.5 L1089.0,688.5 L1091.7,685.5 L1094.3,682.5 L1096.9,679.5 L1099.5,676.4 L1102.1,673.4 L1104.7,670.3 L1107.3,667.2 L1109.8,664.2 L1112.3,661.1 L1114.9,658.0 L1117.4,654.9 L1119.9,651.7 L1122.4,648.6 L1124.9,645.5 L1127.3,642.3 L1129.8,639.2 L1132.2,636.0 L1134.7,632.8 L1137.1,629.7 L1139.5,626.5 L1142.0,623.3 L1144.4,620.1 L1146.8,616.9 L1149.2,613.7 L1151.6,610.5 L1154.0,607.3 L1156.3,604.1 L1158.7,600.9 L1161.1,597.6 L1163.4,594.4 L1165.8,591.2 L1168.2,587.9 L1170.5,584.7 L1172.9,581.5 L1175.2,578.3 L1177.6,575.0 L1179.9,571.8 L1182.3,568.5 L1184.6,565.3 L1187.0,562.1 L1189.3,558.8 L1191.7,555.6 L1194.0,552.4 L1196.4,549.1 M970.6,699.5 L973.9,697.3 L977.2,695.1 L980.6,692.8 L983.8,690.6 L987.1,688.3 L990.4,685.9 L993.6,683.6 L996.9,681.3 L1000.1,678.9 L1003.3,676.5 L1006.4,674.0 L1009.6,671.6 L1012.7,669.1 L1015.9,666.6 L1019.0,664.1 L1022.0,661.5 L1025.1,658.9 L1028.1,656.3 L1031.2,653.7 L1034.2,651.1 L1037.1,648.4 L1040.1,645.7 L1043.0,643.0 L1046.0,640.3 L1048.9,637.5 L1051.8,634.8 L1054.6,632.0 L1057.5,629.2 L1060.3,626.4 L1063.1,623.5 L1065.9,620.7 L1068.7,617.8 L1071.5,614.9 L1074.2,612.0 L1077.0,609.1 L1079.7,606.1 L1082.4,603.2 L1085.1,600.2 L1087.7,597.2 L1090.4,594.2 L1093.0,591.2 L1095.7,588.2 L1098.3,585.2 L1100.9,582.1 L1103.4,579.1 L1106.0,576.0 L1108.6,572.9 L1111.1,569.9 L1113.6,566.8 L1116.2,563.7 L1118.7,560.5 L1121.2,557.4 L1123.7,554.3 L1126.1,551.1 L1128.6,548.0 L1131.1,544.8 L1133.5,541.7 L1135.9,538.5 L1138.4,535.3 L1140.8,532.1 L1143.2,528.9 M406.8,937.9 L410.2,935.8 L413.6,933.8 L417.0,931.7 L420.4,929.6 L423.9,927.5 L427.3,925.5 L430.7,923.4 L434.2,921.4 L437.6,919.4 L441.1,917.4 L444.6,915.4 L448.1,913.5 L451.6,911.5 L455.1,909.6 L458.6,907.7 L462.1,905.9 L465.7,904.0 L469.2,902.2 L472.8,900.4 L476.4,898.6 L480.0,896.8 L483.6,895.1 L487.2,893.3 L490.8,891.6 L494.4,890.0 L498.1,888.3 L501.7,886.6 L505.4,885.0 L509.0,883.4 L512.7,881.8 L516.4,880.3 L520.1,878.7 L523.8,877.2 L527.5,875.6 L531.2,874.1 L534.9,872.6 L538.6,871.2 L542.3,869.7 L546.0,868.2 L549.8,866.8 L553.5,865.4 L557.2,863.9 L561.0,862.5 L564.7,861.1 L568.5,859.7 L572.2,858.3 L576.0,856.9 L579.7,855.6 L583.5,854.2 L587.2,852.8 L591.0,851.4 L594.8,850.1 L598.5,848.7 L602.3,847.3 L606.0,846.0 L609.8,844.6 L613.6,843.2 L617.3,841.9 L621.1,840.5 L624.8,839.1 L628.6,837.8 L632.4,836.4 L636.1,835.0 L639.9,833.7 L643.6,832.3 L647.4,830.9 L651.1,829.6 L654.9,828.2 L658.7,826.8 L662.4,825.4 L666.2,824.1 L669.9,822.7 L673.7,821.3 L677.5,820.0 L681.2,818.6 L685.0,817.2 L688.7,815.9 L692.5,814.5 L696.3,813.1 L700.0,811.8 L703.8,810.4 L707.5,809.0 L711.3,807.7 L715.0,806.3 L718.8,804.9 L722.6,803.6 L726.3,802.2 L730.1,800.8 L733.8,799.5 L737.6,798.1 L741.4,796.7 L745.1,795.3 L748.9,794.0 L752.6,792.6 L756.4,791.2 L760.2,789.9 L763.9,788.5 L767.7,787.1 L771.4,785.8 L775.2,784.4 L778.9,783.0 L782.7,781.7 L786.5,780.3 L790.2,778.9 L794.0,777.6 L797.7,776.2 L801.5,774.8 L805.3,773.5 L809.0,772.1 L812.8,770.7 L816.5,769.4 L820.3,768.0 L824.1,766.6 L827.8,765.3 L831.6,763.9 L835.3,762.5 L839.1,761.1 L842.8,759.7 L846.6,758.3 L850.3,756.9 L854.1,755.5 L857.8,754.1 L861.5,752.7 L865.3,751.2 L869.0,749.8 L872.7,748.3 L876.4,746.8 L880.1,745.3 L883.8,743.7 L887.5,742.2 L891.2,740.6 L894.8,739.0 L898.5,737.4 L902.2,735.8 L905.8,734.1 L909.4,732.4 L913.0,730.7 L916.6,729.0 L920.2,727.2 L923.8,725.4 L927.4,723.6 L930.9,721.8 L934.5,720.0 L938.0,718.1 L941.5,716.2 L945.0,714.2 L948.5,712.2 M613.5,972.0 L616.9,969.9 L620.3,967.7 L623.7,965.6 L627.0,963.5 L630.4,961.4 L633.8,959.3 L637.2,957.1 L640.6,955.0 L644.0,952.9 L647.4,950.8 L650.8,948.7 L654.2,946.5 L657.6,944.4 L661.0,942.3 L664.4,940.2 L667.8,938.1 L671.2,936.0 L674.6,933.9 L678.0,931.8 L681.4,929.7 L684.8,927.6 L688.2,925.6 L691.7,923.5 L695.1,921.5 L698.6,919.5 L702.1,917.5 L705.5,915.5 L709.0,913.6 L712.5,911.6 L716.0,909.7 L719.6,907.8 L723.1,906.0 L726.7,904.1 L730.2,902.3 L733.8,900.6 L737.4,898.8 L741.0,897.1 L744.6,895.4 L748.3,893.7 L751.9,892.0 L755.5,890.4 L759.2,888.8 L762.9,887.2 L766.6,885.6 L770.2,884.1 L773.9,882.5 L777.6,881.0 L781.3,879.5 L785.1,878.0 L788.8,876.6 L792.5,875.1 L796.2,873.7 L800.0,872.2 L803.7,870.8 L807.5,869.4 L811.2,868.0 L814.9,866.6 L818.7,865.2 L822.4,863.8 L826.2,862.4 L830.0,861.0 L833.7,859.7 L837.5,858.3 L841.2,856.9 L845.0,855.5 L848.7,854.1 L852.5,852.7 L856.2,851.3 L859.9,849.8 L863.7,848.4 L867.4,846.9 L871.1,845.5 L874.8,844.0 L878.5,842.5 L882.2,840.9 L885.9,839.4 L889.6,837.8 L893.3,836.2 L896.9,834.6 L900.6,833.0 L904.2,831.4 L907.9,829.7 L911.5,828.0 L915.1,826.3 L918.7,824.5 L922.3,822.8 L925.9,821.0 L929.4,819.1 L933.0,817.3 L936.5,815.4 L940.0,813.5 L943.5,811.6 L947.0,809.6 L950.5,807.7 L953.9,805.6 L957.4,803.6 L960.8,801.5 L964.2,799.5 M637.8,975.2 L641.2,973.1 L644.6,971.0 L648.0,968.8 L651.4,966.7 L654.7,964.6 L658.1,962.5 L661.5,960.4 L664.9,958.2 L668.3,956.1 L671.7,954.0 L675.1,951.9 L678.5,949.8 L681.9,947.6 L685.3,945.5 L688.7,943.4 L692.1,941.3 L695.5,939.2 L698.9,937.1 L702.3,935.0 L705.7,932.9 L709.1,930.8 L712.5,928.8 L716.0,926.7 L719.4,924.7 L722.9,922.7 L726.4,920.7 L729.9,918.8 L733.4,916.9 L736.9,915.0 L740.4,913.1 L744.0,911.2 L747.5,909.4 L751.1,907.6 L754.7,905.9 L758.3,904.1 L761.9,902.4 L765.5,900.7 L769.2,899.1 L772.8,897.4 L776.5,895.8 L780.2,894.2 L783.8,892.6 L787.5,891.1 L791.2,889.6 L794.9,888.0 L798.6,886.5 L802.3,885.1 L806.1,883.6 L809.8,882.1 L813.5,880.7 L817.3,879.3 L821.0,877.8 L824.7,876.4 L828.5,875.0 L832.2,873.6 L836.0,872.2 L839.7,870.8 L843.4,869.4 L847.2,867.9 L850.9,866.5 L854.7,865.1 L858.4,863.6 L862.1,862.2 L865.8,860.7 L869.6,859.2 L873.3,857.7 L877.0,856.2 L880.7,854.7 L884.3,853.1 L888.0,851.6 L891.7,850.0 L895.3,848.3 L899.0,846.7 L902.6,845.0 L906.3,843.4 L909.9,841.6 L913.5,839.9 L917.1,838.2 L920.7,836.4 L924.2,834.6 L927.8,832.7 L931.3,830.9 L934.8,829.0 L938.4,827.1 L941.8,825.1 L945.3,823.1 L948.8,821.2 L952.2,819.1 L955.7,817.1 L959.1,815.0 L962.5,812.9 L965.9,810.8 L969.2,808.6 L972.6,806.4 L975.9,804.2 L979.2,802.0 L982.6,799.7 L985.9,797.4 L989.1,795.2 L992.4,792.8 L995.6,790.5 L998.8,788.1 L1002.0,785.7 L1005.2,783.3 L1008.4,780.8 L1011.5,778.4 L1014.7,775.9 L1017.8,773.4 L1020.9,770.8 L1023.9,768.2 L1027.0,765.7 L1030.0,763.0 L1033.0,760.4 L1036.0,757.7 L1039.0,755.1 L1041.9,752.4 L1044.9,749.6 L1047.8,746.9 L1050.7,744.1 L1053.5,741.4 L1056.4,738.6 L1059.2,735.8 L1062.1,732.9 L1064.9,730.1 L1067.7,727.2 L1070.4,724.3 L1073.2,721.4 L1075.9,718.5 L1078.6,715.6 L1081.4,712.6 L1084.0,709.7 L1086.7,706.7 L1089.4,703.7 L1092.0,700.7 L1094.7,697.7 L1097.3,694.7 L1099.9,691.6 L1102.5,688.6 L1105.0,685.5 L1107.6,682.4 L1110.1,679.4 L1112.7,676.3 L1115.2,673.2 L1117.7,670.1 L1120.2,666.9 L1122.7,663.8 L1125.2,660.7 L1127.7,657.5 L1130.1,654.4 L1132.6,651.2 L1135.0,648.0 L1137.4,644.9 L1139.9,641.7 L1142.3,638.5 L1144.7,635.3 L1147.1,632.1 L1149.5,628.9 L1151.9,625.7 L1154.3,622.5 L1156.6,619.3 L1159.0,616.0 L1161.4,612.8 L1163.7,609.6 L1166.1,606.4 L1168.5,603.1 L1170.8,599.9 L1173.2,596.7 L1175.5,593.4 L1177.9,590.2 L1180.2,587.0 L1182.6,583.7 L1184.9,580.5 L1187.3,577.3 L1189.6,574.0 L1192.0,570.8 L1194.3,567.5 L1196.7,564.3 L1199.0,561.1 L1201.4,557.8 L1203.8,554.6 M380.6,929.6 L384.0,927.6 L387.4,925.5 L390.9,923.5 L394.3,921.5 L397.8,919.5 L401.3,917.5 L404.8,915.6 L408.3,913.6 L411.8,911.7 L415.3,909.8 L418.8,907.9 L422.4,906.1 L425.9,904.3 L429.5,902.4 L433.1,900.7 L436.7,898.9 L440.3,897.1 L443.9,895.4 L447.5,893.7 L451.1,892.0 L454.8,890.3 L458.4,888.7 L462.1,887.1 L465.7,885.5 L469.4,883.9 L473.1,882.3 L476.7,880.7 L480.4,879.2 L484.1,877.7 L487.8,876.1 L491.5,874.6 L495.3,873.2 L499.0,871.7 L502.7,870.2 L506.4,868.8 L510.2,867.3 L513.9,865.9 L517.6,864.5 L521.4,863.1 L525.1,861.7 L528.9,860.3 L532.6,858.9 L536.4,857.5 L540.1,856.1 L543.9,854.8 L547.7,853.4 L551.4,852.0 L555.2,850.7 L558.9,849.3 L562.7,847.9 L566.4,846.6 L570.2,845.2 L574.0,843.8 L577.7,842.5 L581.5,841.1 L585.2,839.7 L589.0,838.3 L592.8,837.0 L596.5,835.6 L600.3,834.2 L604.0,832.9 L607.8,831.5 L611.6,830.1 L615.3,828.8 L619.1,827.4 L622.8,826.0 L626.6,824.7 L630.3,823.3 L634.1,821.9 L637.9,820.6 L641.6,819.2 L645.4,817.8 L649.1,816.5 L652.9,815.1 L656.7,813.7 L660.4,812.4 L664.2,811.0 L667.9,809.6 L671.7,808.3 L675.5,806.9 L679.2,805.5 L683.0,804.1 L686.7,802.8 L690.5,801.4 L694.2,800.0 L698.0,798.7 L701.8,797.3 L705.5,795.9 L709.3,794.6 L713.0,793.2 L716.8,791.8 L720.6,790.5 L724.3,789.1 L728.1,787.7 L731.8,786.4 L735.6,785.0 L739.4,783.6 L743.1,782.3 L746.9,780.9 L750.6,779.5 L754.4,778.2 L758.1,776.8 L761.9,775.4 L765.7,774.0 L769.4,772.7 L773.2,771.3 L776.9,769.9 L780.7,768.6 L784.5,767.2 L788.2,765.8 L792.0,764.5 L795.7,763.1 L799.5,761.7 L803.3,760.4 L807.0,759.0 L810.8,757.6 L814.5,756.3 L818.3,754.9 L822.0,753.5 L825.8,752.2 L829.6,750.8 L833.3,749.4 L837.1,748.0 L840.8,746.6 L844.6,745.2 L848.3,743.8 L852.1,742.4 L855.8,741.0 L859.5,739.5 L863.2,738.1 L867.0,736.6 L870.7,735.1 L874.4,733.6 L878.1,732.1 L881.8,730.6 L885.5,729.0 L889.1,727.4 L892.8,725.8 L896.5,724.2 L900.1,722.5 L903.7,720.9 L907.4,719.2 L911.0,717.5 L914.6,715.7 L918.2,714.0 L921.7,712.2 L925.3,710.3 L928.8,708.5 L932.4,706.6 L935.9,704.7 L939.4,702.8 L942.9,700.9 L946.4,698.9 L949.8,696.9 L953.3,694.9 L956.7,692.8 L960.1,690.7 L963.5,688.6 L966.9,686.5 L970.3,684.3 L973.7,682.2 L977.0,680.0 L980.3,677.7 L983.6,675.5 L986.9,673.2 L990.2,670.9 L993.4,668.6 L996.7,666.2 L999.9,663.9 L1003.1,661.4 L1006.3,659.0 L1009.4,656.6 L1012.6,654.1 L1015.7,651.6 L1018.8,649.0 L1021.9,646.5 L1024.9,643.9 L1028.0,641.3 L1031.0,638.7 L1034.0,636.1 L1037.0,633.4 L1039.9,630.7 L1042.9,628.0 L1045.8,625.3 L1048.7,622.5 L1051.6,619.8 L1054.5,617.0 L1057.3,614.2 L1060.2,611.4 L1063.0,608.5 L1065.8,605.7 L1068.6,602.8 L1071.3,599.9 L1074.1,597.0 L1076.8,594.1 L1079.5,591.1 L1082.2,588.2 L1084.9,585.2 L1087.6,582.2 L1090.2,579.2 L1092.9,576.2 L1095.5,573.2 L1098.1,570.2 L1100.7,567.2 L1103.3,564.1 L1105.9,561.0 L1108.4,558.0 L1111.0,554.9 L1113.5,551.8 L1116.0,548.7 L1118.5,545.6 L1121.0,542.4 L1123.5,539.3 L1126.0,536.2 L1128.5,533.0 L1130.9,529.8 L1133.4,526.7 M661.6,975.6 L665.0,973.5 L668.4,971.4 L671.8,969.3 L675.2,967.1 L678.6,965.0 L682.0,962.9 L685.4,960.8 L688.8,958.7 L692.2,956.5 L695.6,954.4 L698.9,952.3 L702.3,950.2 L705.7,948.1 L709.1,946.0 L712.5,943.8 L715.9,941.7 L719.3,939.6 L722.7,937.5 L726.1,935.4 L729.6,933.4 L733.0,931.3 L736.4,929.3 L739.9,927.3 L743.4,925.3 L746.9,923.3 L750.4,921.4 L753.9,919.5 L757.4,917.6 L760.9,915.8 L764.5,913.9 L768.1,912.1 L771.7,910.3 L775.3,908.6 L778.9,906.9 L782.5,905.2 L786.1,903.5 L789.8,901.9 L793.4,900.2 L797.1,898.6 L800.8,897.1 L804.5,895.5 L808.1,894.0 L811.8,892.4 L815.6,890.9 L819.3,889.5 L823.0,888.0 L826.7,886.5 L830.4,885.1 L834.2,883.6 L837.9,882.2 L841.6,880.8 L845.4,879.3 L849.1,877.9 L852.8,876.5 L856.6,875.0 L860.3,873.6 L864.0,872.1 L867.7,870.6 L871.5,869.2 L875.2,867.7 L878.9,866.2 L882.6,864.6 L886.3,863.1 L889.9,861.5 L893.6,859.9 L897.3,858.3 L900.9,856.7 L904.6,855.0 L908.2,853.4 L911.8,851.7 L915.4,849.9 L919.0,848.2 L922.6,846.4 L926.2,844.6 L929.8,842.8 L933.3,841.0 L936.8,839.1 L940.4,837.2 L943.9,835.2 L947.3,833.3 L950.8,831.3 L954.3,829.3 L957.7,827.3 L961.1,825.2 L964.5,823.1 L967.9,821.0 L971.3,818.8 L974.7,816.6 L978.0,814.4 L981.3,812.2 L984.6,809.9 L987.9,807.7 L991.2,805.4 L994.4,803.0 L997.6,800.7 L1000.9,798.3 L1004.0,795.9 L1007.2,793.4 L1010.4,790.9 L1013.5,788.5 L1016.6,785.9 L1019.7,783.4 L1022.8,780.9 L1025.8,778.3 L1028.9,775.7 L1031.9,773.0 L1034.9,770.4 L1037.9,767.7 L1040.8,765.0 L1043.8,762.3 L1046.7,759.6 L1049.6,756.8 L1052.5,754.1 L1055.3,751.3 L1058.2,748.5 L1061.0,745.6 L1063.8,742.8 L1066.6,739.9 L1069.4,737.1 L1072.2,734.2 L1074.9,731.2 L1077.6,728.3 L1080.3,725.4 L1083.0,722.4 L1085.7,719.5 L1088.4,716.5 L1091.0,713.5 L1093.7,710.5 L1096.3,707.4 L1098.9,704.4 M1107.5,703.2 L1110.1,700.1 L1112.6,697.0 L1115.1,693.8 L1117.6,690.7 L1120.1,687.6 L1122.6,684.5 L1125.1,681.3 L1127.6,678.2 L1130.0,675.0 L1132.5,671.9 L1134.9,668.7 L1137.3,665.5 L1139.8,662.4 L1142.2,659.2 L1144.6,656.0 L1147.0,652.8 L1149.4,649.6 L1151.8,646.4 L1154.2,643.2 L1156.5,639.9 L1158.9,636.7 L1161.3,633.5 L1163.7,630.3 L1166.0,627.0 L1168.4,623.8 L1170.7,620.6 L1173.1,617.3 L1175.4,614.1 L1177.8,610.9 L1180.1,607.6 L1182.5,604.4 L1184.8,601.2 L1187.2,597.9 L1189.6,594.7 L1191.9,591.5 L1194.3,588.2 L1196.6,585.0 L1199.0,581.8 L1201.3,578.5 L1203.7,575.3 L1206.0,572.0 L1208.4,568.8 L1210.7,565.6 L1213.1,562.3 L1215.4,559.1 M363.4,924.5 L366.9,922.5 L370.4,920.5 L373.8,918.5 L377.3,916.5 L380.8,914.6 L384.3,912.6 L387.8,910.7 L391.3,908.8 L394.8,906.9 L398.4,905.0 L401.9,903.2 L405.5,901.4 L409.1,899.6 L412.7,897.8 L416.2,896.0 L419.8,894.3 L423.5,892.6 L427.1,890.9 L430.7,889.2 L434.4,887.6 L438.0,885.9 L441.7,884.3 L445.3,882.7 L449.0,881.1 L452.7,879.6 L456.4,878.0 L460.1,876.5 L463.8,875.0 L467.5,873.5 L471.2,872.0 L474.9,870.5 L478.6,869.0 L482.4,867.6 L486.1,866.1 L489.8,864.7 L493.6,863.3 L497.3,861.9 L501.1,860.5 L504.8,859.1 L508.6,857.7 L512.3,856.3 L516.1,854.9 L519.8,853.6 L523.6,852.2 L527.3,850.8 L531.1,849.5 L534.9,848.1 L538.6,846.7 L542.4,845.4 L546.1,844.0 L549.9,842.6 L553.7,841.3 L557.4,839.9 L561.2,838.5 L564.9,837.2 L568.7,835.8 L572.4,834.4 L576.2,833.0 L580.0,831.7 L583.7,830.3 L587.5,828.9 L591.2,827.6 L595.0,826.2 L598.8,824.8 L602.5,823.5 L606.3,822.1 L610.0,820.7 L613.8,819.4 L617.6,818.0 L621.3,816.6 L625.1,815.3 L628.8,813.9 L632.6,812.5 L636.3,811.2 L640.1,809.8 L643.9,808.4 L647.6,807.1 L651.4,805.7 L655.1,804.3 L658.9,802.9 L662.7,801.6 L666.4,800.2 L670.2,798.8 L673.9,797.5 L677.7,796.1 L681.5,794.7 L685.2,793.4 L689.0,792.0 L692.7,790.6 L696.5,789.3 L700.2,787.9 L704.0,786.5 L707.8,785.2 L711.5,783.8 L715.3,782.4 L719.0,781.1 L722.8,779.7 L726.6,778.3 L730.3,777.0 L734.1,775.6 L737.8,774.2 L741.6,772.9 L745.4,771.5 L749.1,770.1 L752.9,768.7 L756.6,767.4 L760.4,766.0 L764.1,764.6 L767.9,763.3 L771.7,761.9 L775.4,760.5 L779.2,759.2 L782.9,757.8 L786.7,756.4 L790.5,755.1 L794.2,753.7 L798.0,752.3 L801.7,751.0 L805.5,749.6 L809.3,748.2 L813.0,746.9 L816.8,745.5 L820.5,744.1 L824.3,742.8 L828.0,741.4 L831.8,740.0 L835.6,738.6 L839.3,737.3 L843.1,735.9 L846.8,734.5 L850.6,733.1 L854.3,731.7 L858.0,730.2 L861.8,728.8 L865.5,727.3 L869.2,725.9 L872.9,724.4 L876.6,722.9 L880.3,721.4 L884.0,719.9 L887.7,718.3 L891.4,716.7 L895.1,715.1 L898.7,713.5 L902.4,711.9 L906.0,710.2 L909.7,708.5 L913.3,706.8 L916.9,705.1 L920.5,703.3 L924.0,701.6 L927.6,699.7 L931.2,697.9 L934.7,696.1 L938.2,694.2 L941.7,692.2 L945.2,690.3 L948.7,688.3 L952.2,686.3 L955.6,684.3 M959.9,675.5 L963.3,673.4 L966.6,671.3 L970.0,669.2 L973.4,667.0 L976.7,664.8 L980.1,662.6 L983.4,660.3 L986.7,658.1 L989.9,655.8 L993.2,653.4 L996.4,651.1 L999.6,648.7 L1002.8,646.3 L1006.0,643.9 L1009.2,641.4 L1012.3,638.9 L1015.4,636.4 L1018.5,633.9 L1021.6,631.3 L1024.7,628.8 L1027.7,626.2 L1030.7,623.6 L1033.7,620.9 L1036.7,618.3 L1039.7,615.6 L1042.6,612.9 L1045.6,610.1 L1048.5,607.4 L1051.4,604.6 L1054.2,601.9 L1057.1,599.1 L1059.9,596.2 L1062.8,593.4 L1065.6,590.5 L1068.3,587.7 L1071.1,584.8 L1073.9,581.9 L1076.6,579.0 L1079.3,576.0 L1082.0,573.1 L1084.7,570.1 L1087.4,567.1 L1090.0,564.1 L1092.7,561.1 L1095.3,558.1 L1097.9,555.1 L1100.5,552.0 L1103.1,549.0 L1105.7,545.9 L1108.2,542.9 L1110.8,539.8 L1113.3,536.7 L1115.8,533.6 L1118.3,530.5 L1120.8,527.3 L1123.3,524.2 M682.1,978.2 L685.5,976.1 L688.9,973.9 L692.3,971.8 L695.7,969.7 L699.1,967.6 L702.4,965.5 L705.8,963.3 L709.2,961.2 L712.6,959.1 L716.0,957.0 L719.4,954.9 L722.8,952.8 L726.2,950.7 L729.6,948.6 L733.1,946.5 L736.5,944.5 L739.9,942.4 L743.4,940.4 L746.8,938.3 L750.3,936.3 L753.7,934.3 L757.2,932.4 L760.7,930.4 L764.2,928.5 L767.7,926.6 L771.3,924.7 L774.8,922.9 L778.4,921.0 L781.9,919.2 L785.5,917.5 L789.1,915.7 L792.8,914.0 L796.4,912.3 L800.0,910.7 L803.7,909.0 L807.3,907.4 L811.0,905.8 L814.7,904.2 L818.4,902.7 L822.0,901.2 L825.7,899.6 L829.5,898.1 L833.2,896.7 L836.9,895.2 L840.6,893.7 L844.3,892.2 L848.1,890.8 L851.8,889.3 L855.5,887.9 L859.2,886.4 L862.9,884.9 L866.7,883.5 L870.4,882.0 L874.1,880.5 L877.8,879.0 L881.5,877.4 L885.2,875.9 L888.9,874.3 L892.5,872.7 L896.2,871.1 L899.9,869.5 L903.5,867.9 L907.1,866.2 L910.8,864.5 L914.4,862.8 L918.0,861.1 L921.6,859.3 L925.1,857.5 L928.7,855.7 L932.3,853.9 L935.8,852.0 L939.3,850.1 L942.8,848.2 L946.3,846.2 L949.8,844.2 L953.3,842.2 L956.7,840.2 L960.1,838.1 L963.5,836.1 L966.9,833.9 L970.3,831.8 L973.7,829.6 L977.0,827.4 L980.4,825.2 L983.7,823.0 L986.9,820.7 L990.2,818.4 L993.5,816.1 L996.7,813.7 L999.9,811.3 L1003.1,808.9 L1006.3,806.5 L1009.4,804.0 L1012.6,801.5 L1015.7,799.0 L1018.8,796.5 L1021.9,794.0 L1024.9,791.4 L1028.0,788.8 L1031.0,786.2 L1034.0,783.5 L1037.0,780.9 L1040.0,778.2 L1042.9,775.5 L1045.8,772.7 L1048.7,770.0 L1051.6,767.2 L1054.5,764.4 L1057.4,761.6 L1060.2,758.8 L1063.0,756.0 L1065.8,753.1 L1068.6,750.2 L1071.4,747.4 L1074.1,744.5 L1076.8,741.5 L1079.6,738.6 L1082.3,735.6 L1084.9,732.7 L1087.6,729.7 L1090.3,726.7 L1092.9,723.7 L1095.5,720.7 L1098.1,717.7 L1100.7,714.6 L1103.3,711.6 M1021.3,812.8 L1024.3,810.2 L1027.4,807.6 L1030.4,804.9 L1033.4,802.3 L1036.3,799.6 L1039.3,796.9 L1042.2,794.2 L1045.1,791.4 L1048.0,788.7 L1050.9,785.9 L1053.7,783.1 L1056.6,780.3 L1059.4,777.4 L1062.2,774.6 L1065.0,771.7 L1067.8,768.8 L1070.5,765.9 L1073.3,763.0 L1076.0,760.1 L1078.7,757.1 L1081.4,754.2 L1084.1,751.2 L1086.7,748.2 L1089.4,745.2 L1092.0,742.2 L1094.6,739.2 L1097.2,736.1 L1099.8,733.1 L1102.4,730.0 L1104.9,726.9 L1107.5,723.9 L1110.0,720.8 L1112.5,717.7 L1115.1,714.6 L1117.6,711.4 L1120.1,708.3 L1122.5,705.2 L1125.0,702.0 L1127.5,698.9 L1130.0,695.7 L1132.4,692.6 L1134.9,689.4 L1137.3,686.2 L1139.7,683.1 L1142.1,679.9 L1144.5,676.7 L1146.9,673.5 L1149.3,670.3 L1151.7,667.1 L1154.1,663.9 L1156.5,660.7 L1158.9,657.4 L1161.2,654.2 L1163.6,651.0 L1166.0,647.8 L1168.3,644.5 L1170.7,641.3 L1173.0,638.1 L1175.4,634.8 L1177.7,631.6 L1180.1,628.4 L1182.4,625.1 L1184.8,621.9 L1187.1,618.6 L1189.5,615.4 L1191.9,612.2 L1194.2,608.9 L1196.6,605.7 L1198.9,602.5 L1201.3,599.2 L1203.6,596.0 L1206.0,592.8 L1208.3,589.5 L1210.7,586.3 L1213.0,583.1 L1215.4,579.8 L1217.7,576.6 L1220.1,573.3 L1222.4,570.1 L1224.8,566.9 M346.4,919.2 L349.8,917.2 L353.3,915.2 L356.8,913.3 L360.3,911.4 L363.9,909.5 L367.4,907.6 L370.9,905.7 L374.5,903.9 L378.0,902.0 L381.6,900.2 L385.2,898.4 L388.8,896.7 L392.4,894.9 L396.0,893.2 L399.6,891.5 L403.2,889.8 L406.8,888.2 L410.5,886.5 L414.2,884.9 L417.8,883.3 L421.5,881.7 L425.2,880.1 L428.9,878.6 L432.5,877.0 L436.2,875.5 L439.9,874.0 L443.7,872.5 L447.4,871.0 L451.1,869.6 L454.8,868.1 L458.6,866.7 L462.3,865.2 L466.0,863.8 L469.8,862.4 L473.5,861.0 L477.3,859.6 L481.0,858.2 L484.8,856.8 L488.5,855.4 L492.3,854.1 L496.0,852.7 L499.8,851.3 L503.6,850.0 L507.3,848.6 L511.1,847.2 L514.8,845.9 L518.6,844.5 L522.3,843.1 L526.1,841.7 L529.9,840.4 L533.6,839.0 L537.4,837.6 L541.1,836.3 L544.9,834.9 L548.7,833.5 L552.4,832.2 L556.2,830.8 L559.9,829.4 L563.7,828.1 L567.5,826.7 L571.2,825.3 L575.0,824.0 L578.7,822.6 L582.5,821.2 L586.2,819.9 L590.0,818.5 L593.8,817.1 L597.5,815.8 L601.3,814.4 L605.0,813.0 L608.8,811.7 L612.6,810.3 L616.3,808.9 L620.1,807.5 L623.8,806.2 L627.6,804.8 L631.4,803.4 L635.1,802.1 L638.9,800.7 L642.6,799.3 L646.4,798.0 L650.1,796.6 L653.9,795.2 L657.7,793.9 L661.4,792.5 L665.2,791.1 L668.9,789.8 L672.7,788.4 L676.5,787.0 L680.2,785.7 L684.0,784.3 L687.7,782.9 L691.5,781.6 L695.2,780.2 L699.0,778.8 L702.8,777.4 L706.5,776.1 L710.3,774.7 L714.0,773.3 L717.8,772.0 L721.6,770.6 L725.3,769.2 L729.1,767.9 L732.8,766.5 L736.6,765.1 L740.4,763.8 L744.1,762.4 L747.9,761.0 L751.6,759.7 L755.4,758.3 L759.1,756.9 L762.9,755.6 L766.7,754.2 L770.4,752.8 L774.2,751.5 L777.9,750.1 L781.7,748.7 L785.5,747.4 L789.2,746.0 L793.0,744.6 L796.7,743.2 L800.5,741.9 L804.3,740.5 L808.0,739.1 L811.8,737.8 L815.5,736.4 L819.3,735.0 L823.0,733.7 L826.8,732.3 L830.6,730.9 L834.3,729.6 L838.1,728.2 L841.8,726.8 L845.6,725.4 L849.3,724.0 L853.1,722.6 L856.8,721.2 L860.5,719.7 L864.3,718.3 L868.0,716.8 L871.7,715.4 L875.4,713.9 L879.1,712.4 L882.8,710.8 L886.5,709.3 L890.2,707.7 L893.9,706.1 L897.5,704.5 L901.2,702.9 L904.8,701.2 L908.5,699.6 L912.1,697.9 L915.7,696.1 L919.3,694.4 L922.9,692.6 L926.4,690.8 L930.0,689.0 L933.5,687.1 L937.1,685.3 L940.6,683.4 L944.1,681.4 L947.6,679.5 L951.1,677.5 M321.8,915.0 L325.3,913.1 L328.8,911.2 L332.3,909.3 L335.9,907.4 L339.4,905.6 L343.0,903.8 L346.5,902.0 L350.1,900.2 L353.7,898.4 L357.3,896.7 L360.9,895.0 L364.5,893.2 L368.2,891.6 L371.8,889.9 L375.5,888.3 L379.1,886.6 L382.8,885.0 L386.4,883.4 L390.1,881.9 L393.8,880.3 L397.5,878.8 L401.2,877.2 L404.9,875.7 L408.6,874.2 L412.3,872.8 L416.0,871.3 L419.8,869.8 L423.5,868.4 L427.2,867.0 L431.0,865.5 L434.7,864.1 L438.5,862.7 L442.2,861.3 L446.0,859.9 L449.7,858.5 L453.5,857.2 L457.2,855.8 L461.0,854.4 L464.7,853.0 L468.5,851.7 L472.3,850.3 L476.0,848.9 L479.8,847.6 L483.5,846.2 L487.3,844.8 L491.0,843.5 L494.8,842.1 L498.6,840.7 L502.3,839.4 L506.1,838.0 L509.8,836.6 L513.6,835.2 L517.4,833.9 L521.1,832.5 L524.9,831.1 L528.6,829.8 L532.4,828.4 L536.2,827.0 L539.9,825.7 L543.7,824.3 L547.4,822.9 L551.2,821.6 L554.9,820.2 L558.7,818.8 L562.5,817.5 L566.2,816.1 L570.0,814.7 L573.7,813.4 L577.5,812.0 L581.3,810.6 L585.0,809.3 L588.8,807.9 L592.5,806.5 L596.3,805.1 L600.0,803.8 L603.8,802.4 L607.6,801.0 L611.3,799.7 L615.1,798.3 L618.8,796.9 L622.6,795.6 L626.4,794.2 L630.1,792.8 L633.9,791.5 L637.6,790.1 L641.4,788.7 L645.2,787.4 L648.9,786.0 L652.7,784.6 L656.4,783.3 L660.2,781.9 L663.9,780.5 L667.7,779.2 L671.5,777.8 L675.2,776.4 L679.0,775.1 L682.7,773.7 L686.5,772.3 L690.3,770.9 L694.0,769.6 L697.8,768.2 L701.5,766.8 L705.3,765.5 L709.1,764.1 L712.8,762.7 L716.6,761.4 L720.3,760.0 L724.1,758.6 L727.8,757.3 L731.6,755.9 L735.4,754.5 L739.1,753.2 L742.9,751.8 L746.6,750.4 L750.4,749.1 L754.2,747.7 L757.9,746.3 L761.7,745.0 L765.4,743.6 L769.2,742.2 L773.0,740.8 L776.7,739.5 L780.5,738.1 L784.2,736.7 L788.0,735.4 L791.7,734.0 L795.5,732.6 L799.3,731.3 L803.0,729.9 L806.8,728.5 L810.5,727.2 L814.3,725.8 L818.1,724.4 L821.8,723.1 L825.6,721.7 L829.3,720.3 L833.1,718.9 L836.8,717.6 L840.6,716.2 L844.3,714.8 L848.1,713.4 L851.8,712.0 L855.6,710.5 L859.3,709.1 L863.0,707.6 L866.7,706.2 L870.5,704.7 L874.2,703.2 L877.9,701.6 L881.5,700.1 L885.2,698.5 L888.9,697.0 L892.6,695.4 L896.2,693.7 L899.9,692.1 L903.5,690.4 L907.1,688.7 L910.8,687.0 L914.4,685.3 L917.9,683.5 L921.5,681.7 L925.1,679.9 L928.6,678.1 L932.2,676.2 L935.7,674.3 L939.2,672.4 L942.7,670.4 L946.2,668.5 L949.6,666.5 L953.1,664.4 L956.5,662.4 L960.0,660.3 L963.4,658.3 L966.8,656.1 L970.1,654.0 L973.5,651.8 L976.9,649.6 L980.2,647.4 L983.5,645.2 L986.8,642.9 L990.0,640.6 L993.3,638.3 L996.5,635.9 L999.8,633.5 L1002.9,631.1 L1006.1,628.7 L1009.3,626.2 L1012.4,623.8 L1015.5,621.3 L1018.6,618.7 L1021.7,616.2 L1024.8,613.6 L1027.8,611.0 L1030.8,608.4 L1033.8,605.7 L1036.8,603.1 L1039.8,600.4 L1042.7,597.7 L1045.7,595.0 L1048.6,592.2 L1051.5,589.5 L1054.3,586.7 L1057.2,583.9 L1060.0,581.1 L1062.9,578.2 L1065.7,575.4 L1068.4,572.5 L1071.2,569.6 L1074.0,566.7 L1076.7,563.8 L1079.4,560.8 L1082.1,557.9 L1084.8,554.9 L1087.5,551.9 L1090.1,549.0 L1092.8,545.9 L1095.4,542.9 L1098.0,539.9 L1100.6,536.9 L1103.2,533.8 L1105.8,530.7 L1108.3,527.7 L1110.9,524.6 L1113.4,521.5 M702.5,980.7 L705.9,978.6 L709.3,976.5 L712.7,974.4 L716.1,972.3 L719.5,970.1 L722.9,968.0 L726.3,966.0 L729.8,963.9 L733.2,961.8 L736.6,959.7 L740.0,957.7 L743.5,955.6 L746.9,953.6 L750.4,951.6 L753.8,949.6 L757.3,947.6 L760.8,945.6 L764.3,943.6 L767.7,941.7 L771.3,939.8 L774.8,937.9 L778.3,936.0 L781.8,934.1 L785.4,932.3 L789.0,930.5 L792.5,928.7 L796.1,926.9 L799.7,925.2 L803.3,923.5 L807.0,921.8 L810.6,920.1 L814.3,918.5 L817.9,916.9 L821.6,915.3 L825.3,913.7 L829.0,912.1 L832.6,910.6 L836.3,909.1 L840.1,907.6 L843.8,906.1 L847.5,904.6 L851.2,903.1 L854.9,901.6 L858.6,900.1 L862.3,898.6 L866.0,897.2 L869.8,895.7 L873.5,894.2 L877.2,892.6 L880.9,891.1 L884.5,889.6 L888.2,888.0 L891.9,886.4 L895.6,884.8 L899.2,883.2 L902.9,881.6 L906.5,879.9 L910.1,878.2 L913.8,876.5 L917.4,874.8 L920.9,873.0 L924.5,871.2 L928.1,869.4 L931.6,867.6 L935.2,865.7 L938.7,863.8 L942.2,861.9 L945.7,860.0 L949.2,858.0 L952.7,856.0 L956.1,854.0 L959.5,851.9 L963.0,849.8 L966.4,847.7 L969.7,845.6 L973.1,843.4 L976.4,841.2 L979.8,839.0 L983.1,836.8 M1063.3,792.4 L1066.1,789.5 L1068.8,786.6 L1071.6,783.7 L1074.3,780.8 L1077.1,777.9 L1079.8,774.9 L1082.5,772.0 L1085.2,769.0 L1087.8,766.0 L1090.5,763.0 L1093.1,760.0 L1095.7,757.0 L1098.3,754.0 L1100.9,750.9 L1103.5,747.9 L1106.1,744.8 L1108.6,741.7 L1111.2,738.6 L1113.7,735.5 L1116.2,732.4 L1118.7,729.3 L1121.2,726.2 L1123.7,723.1 L1126.2,719.9 L1128.7,716.8 L1131.1,713.6 L1133.6,710.4 L1136.0,707.3 L1138.4,704.1 L1140.9,700.9 L1143.3,697.7 L1145.7,694.5 L1148.1,691.3 L1150.5,688.1 L1152.9,684.9 L1155.2,681.7 L1157.6,678.5 L1160.0,675.3 L1162.4,672.0 L1164.7,668.8 L1167.1,665.6 L1169.4,662.4 L1171.8,659.1 L1174.2,655.9 L1176.5,652.7 L1178.9,649.4 L1181.2,646.2 L1183.6,642.9 L1185.9,639.7 L1188.3,636.5 L1190.6,633.2 L1193.0,630.0 L1195.3,626.8 L1197.7,623.5 L1200.0,620.3 L1202.4,617.1 L1204.7,613.8 L1207.1,610.6 L1209.4,607.3 L1211.8,604.1 L1214.1,600.9 L1216.5,597.6 L1218.8,594.4 L1221.2,591.2 L1223.5,587.9 L1225.9,584.7 L1228.2,581.5 L1230.6,578.2 L1232.9,575.0 L1235.3,571.7 M304.8,909.2 L308.3,907.4 L311.9,905.5 L315.5,903.7 L319.0,901.9 L322.6,900.1 L326.2,898.3 L329.7,896.5 L333.4,894.8 L337.0,893.1 L340.6,891.4 L344.2,889.7 L347.9,888.0 L351.5,886.4 L355.2,884.8 L358.8,883.1 L362.5,881.6 L366.2,880.0 L369.9,878.4 L373.6,876.9 L377.2,875.4 L381.0,873.9 L384.7,872.4 L388.4,870.9 L392.1,869.4 L395.8,868.0 L399.6,866.5 L403.3,865.1 L407.0,863.7 L410.8,862.3 L414.5,860.9 L418.3,859.5 L422.0,858.1 L425.8,856.7 L429.5,855.3 L433.3,854.0 L437.0,852.6 L440.8,851.2 L444.6,849.8 L448.3,848.5 L452.1,847.1 L455.8,845.7 L459.6,844.4 L463.4,843.0 L467.1,841.6 L470.9,840.3 L474.6,838.9 L478.4,837.5 L482.2,836.2 L485.9,834.8 L489.7,833.4 L493.4,832.1 L497.2,830.7 L500.9,829.3 L504.7,828.0 L508.5,826.6 L512.2,825.2 L516.0,823.8 L519.7,822.5 L523.5,821.1 L527.3,819.7 L531.0,818.4 L534.8,817.0 L538.5,815.6 L542.3,814.3 L546.0,812.9 L549.8,811.5 L553.6,810.2 L557.3,808.8 L561.1,807.4 L564.8,806.1 L568.6,804.7 L572.4,803.3 L576.1,802.0 L579.9,800.6 L583.6,799.2 L587.4,797.9 L591.2,796.5 L594.9,795.1 L598.7,793.8 L602.4,792.4 L606.2,791.0 L609.9,789.6 L613.7,788.3 L617.5,786.9 L621.2,785.5 L625.0,784.2 L628.7,782.8 L632.5,781.4 L636.3,780.1 L640.0,778.7 L643.8,777.3 L647.5,776.0 L651.3,774.6 L655.1,773.2 L658.8,771.9 L662.6,770.5 L666.3,769.1 M946.5,653.2 L950.0,651.2 L953.4,649.2 L956.9,647.2 L960.3,645.2 L963.7,643.1 L967.1,640.9 L970.5,638.8 L973.8,636.6 L977.2,634.4 L980.5,632.2 L983.8,630.0 L987.1,627.7 L990.4,625.4 L993.6,623.0 L996.9,620.7 L1000.1,618.3 L1003.3,615.9 L1006.4,613.5 L1009.6,611.0 L1012.7,608.5 L1015.8,606.0 L1018.9,603.5 L1022.0,600.9 L1025.1,598.4 L1028.1,595.8 L1031.1,593.1 L1034.1,590.5 L1037.1,587.8 L1040.1,585.1 L1043.0,582.4 L1046.0,579.7 L1048.9,577.0 L1051.8,574.2 L1054.6,571.4 L1057.5,568.6 L1060.3,565.8 L1063.1,562.9 L1065.9,560.1 L1068.7,557.2 L1071.5,554.3 L1074.2,551.4 L1077.0,548.5 L1079.7,545.6 L1082.4,542.6 L1085.1,539.6 L1087.7,536.7 L1090.4,533.7 L1093.0,530.7 L1095.6,527.6 L1098.3,524.6 L1100.9,521.6 M722.9,983.3 L726.4,981.2 L729.8,979.1 L733.2,977.0 L736.6,975.0 L740.0,972.9 L743.5,970.9 L746.9,968.8 L750.4,966.8 L753.8,964.8 L757.3,962.8 L760.8,960.9 L764.3,958.9 L767.8,956.9 L771.3,955.0 L774.8,953.1 L778.3,951.2 L781.8,949.3 L785.4,947.5 L788.9,945.7 L792.5,943.8 L796.1,942.0 L799.7,940.3 L803.3,938.5 L806.9,936.8 L810.5,935.1 L814.1,933.4 L817.8,931.7 L821.4,930.1 L825.1,928.5 L828.7,926.9 L832.4,925.3 L836.1,923.7 L839.8,922.2 L843.5,920.7 L847.2,919.1 L850.9,917.6 L854.6,916.1 L858.3,914.6 L862.0,913.1 L865.7,911.6 L869.4,910.1 L873.1,908.6 L876.8,907.1 L880.5,905.5 L884.2,904.0 L887.9,902.4 L891.5,900.8 L895.2,899.2 L898.9,897.6 L902.5,896.0 L906.2,894.3 L909.8,892.6 L913.4,890.9 L917.0,889.2 L920.6,887.4 M1095.1,777.7 L1097.7,774.7 L1100.2,771.6 L1102.8,768.5 L1105.4,765.5 L1108.0,762.4 L1110.5,759.3 L1113.0,756.2 L1115.6,753.1 L1118.1,750.0 L1120.6,746.9 L1123.1,743.8 L1125.5,740.6 L1128.0,737.5 L1130.5,734.3 L1132.9,731.2 L1135.4,728.0 L1137.8,724.8 L1140.2,721.6 L1142.6,718.4 L1145.0,715.2 L1147.4,712.0 L1149.8,708.8 L1152.2,705.6 L1154.6,702.4 L1157.0,699.2 L1159.4,696.0 L1161.7,692.8 L1164.1,689.5 L1166.5,686.3 L1168.8,683.1 L1171.2,679.8 L1173.5,676.6 L1175.9,673.4 L1178.2,670.1 L1180.6,666.9 L1182.9,663.7 L1185.3,660.4 L1187.6,657.2 L1190.0,654.0 L1192.3,650.7 L1194.7,647.5 L1197.0,644.3 L1199.4,641.0 L1201.7,637.8 L1204.1,634.5 L1206.4,631.3 L1208.8,628.1 L1211.1,624.8 L1213.5,621.6 L1215.9,618.4 L1218.2,615.1 L1220.6,611.9 L1222.9,608.7 L1225.3,605.4 L1227.6,602.2 L1230.0,598.9 L1232.3,595.7 L1234.7,592.5 L1237.0,589.2 L1239.4,586.0 L1241.7,582.8 L1244.1,579.5 M284.4,904.9 L287.9,903.1 L291.5,901.3 L295.1,899.5 L298.7,897.8 L302.3,896.0 L305.9,894.3 L309.5,892.6 L313.1,890.9 L316.7,889.2 L320.4,887.5 L324.0,885.9 L327.7,884.3 L331.4,882.7 L335.0,881.1 L338.7,879.6 L342.4,878.0 L346.1,876.5 L349.8,875.0 L353.5,873.5 L357.2,872.0 L360.9,870.5 L364.7,869.0 L368.4,867.6 L372.1,866.1 L375.9,864.7 L379.6,863.3 L383.3,861.9 L387.1,860.5 L390.8,859.1 L394.6,857.7 L398.3,856.3 L402.1,854.9 L405.8,853.6 L409.6,852.2 L413.4,850.8 L417.1,849.5 L420.9,848.1 L424.6,846.7 L428.4,845.4 L432.2,844.0 L435.9,842.6 L439.7,841.2 L443.4,839.9 L447.2,838.5 L450.9,837.1 L454.7,835.8 L458.5,834.4 L462.2,833.0 L466.0,831.7 L469.7,830.3 L473.5,828.9 L477.3,827.6 L481.0,826.2 L484.8,824.8 L488.5,823.5 L492.3,822.1 L496.1,820.7 L499.8,819.4 L503.6,818.0 L507.3,816.6 L511.1,815.3 L514.8,813.9 L518.6,812.5 L522.4,811.1 L526.1,809.8 L529.9,808.4 L533.6,807.0 L537.4,805.7 L541.2,804.3 L544.9,802.9 L548.7,801.6 L552.4,800.2 L556.2,798.8 L560.0,797.5 L563.7,796.1 L567.5,794.7 L571.2,793.4 L575.0,792.0 L578.7,790.6 L582.5,789.3 L586.3,787.9 L590.0,786.5 L593.8,785.2 L597.5,783.8 L601.3,782.4 L605.1,781.1 M940.1,641.9 L943.6,640.0 L947.0,638.0 L950.5,636.1 L954.0,634.1 L957.4,632.0 L960.8,629.9 L964.3,627.9 L967.6,625.7 L971.0,623.6 L974.4,621.4 L977.7,619.2 L981.0,617.0 L984.3,614.7 L987.6,612.4 L990.9,610.1 L994.1,607.8 L997.4,605.4 L1000.6,603.1 L1003.8,600.6 L1006.9,598.2 L1010.1,595.7 L1013.2,593.3 L1016.3,590.8 L1019.4,588.2 L1022.5,585.7 L1025.6,583.1 L1028.6,580.5 L1031.6,577.9 L1034.6,575.2 L1037.6,572.5 L1040.6,569.8 L1043.5,567.1 L1046.4,564.4 L1049.3,561.7 L1052.2,558.9 L1055.1,556.1 L1057.9,553.3 L1060.8,550.5 L1063.6,547.6 L1066.4,544.8 L1069.2,541.9 L1071.9,539.0 L1074.7,536.1 L1077.4,533.2 L1080.1,530.2 L1082.8,527.3 L1085.5,524.3 M749.8,982.0 L753.3,980.0 L756.7,978.0 L760.2,976.1 L763.7,974.1 L767.2,972.2 L770.7,970.3 L774.2,968.3 L777.8,966.4 L781.3,964.6 L784.8,962.7 L788.4,960.9 L792.0,959.1 L795.5,957.3 L799.1,955.5 L802.7,953.7 L806.3,952.0 L809.9,950.3 L813.5,948.6 L817.2,946.9 L820.8,945.2 L824.5,943.6 L828.1,942.0 L831.8,940.4 L835.5,938.8 L839.1,937.2 L842.8,935.7 L846.5,934.1 L850.2,932.6 L853.9,931.1 L857.6,929.5 L861.3,928.0 L865.0,926.5 L868.7,925.0 L872.4,923.5 L876.1,921.9 L879.8,920.4 L883.5,918.8 L887.2,917.3 M1123.4,764.4 L1125.8,761.3 L1128.3,758.1 L1130.8,755.0 L1133.2,751.8 L1135.6,748.6 L1138.1,745.5 L1140.5,742.3 L1142.9,739.1 L1145.3,735.9 L1147.7,732.7 L1150.1,729.5 L1152.5,726.3 L1154.9,723.1 L1157.3,719.9 L1159.6,716.6 L1162.0,713.4 L1164.4,710.2 L1166.7,707.0 L1169.1,703.7 L1171.4,700.5 L1173.8,697.3 L1176.2,694.0 L1178.5,690.8 L1180.9,687.6 L1183.2,684.3 L1185.6,681.1 L1187.9,677.9 L1190.3,674.6 L1192.6,671.4 L1195.0,668.1 L1197.3,664.9 L1199.7,661.7 L1202.0,658.4 L1204.4,655.2 L1206.7,652.0 L1209.1,648.7 L1211.4,645.5 L1213.8,642.3 L1216.1,639.0 L1218.5,635.8 L1220.8,632.5 L1223.2,629.3 L1225.5,626.1 L1227.9,622.8 L1230.2,619.6 L1232.6,616.4 L1234.9,613.1 L1237.3,609.9 L1239.6,606.7 L1242.0,603.4 L1244.3,600.2 L1246.7,596.9 L1249.0,593.7 L1251.4,590.5 L1253.7,587.2 M401.4,841.3 L405.2,840.0 L408.9,838.6 L412.7,837.2 L416.4,835.9 L420.2,834.5 L423.9,833.1 L427.7,831.8 L431.5,830.4 L435.2,829.0 L439.0,827.7 L442.7,826.3 L446.5,824.9 L450.3,823.6 L454.0,822.2 L457.8,820.8 L461.5,819.5 L465.3,818.1 L469.1,816.7 L472.8,815.4 L476.6,814.0 L480.3,812.6 L484.1,811.2 L487.8,809.9 L491.6,808.5 L495.4,807.1 L499.1,805.8 L502.9,804.4 L506.6,803.0 L510.4,801.7 L514.2,800.3 L517.9,798.9 L521.7,797.6 M936.8,628.8 L940.3,626.8 L943.8,624.9 L947.3,622.9 L950.7,620.9 L954.2,618.9 L957.6,616.8 L961.0,614.8 L964.4,612.7 L967.8,610.5 L971.2,608.4 L974.6,606.2 L977.9,604.0 L981.2,601.8 L984.5,599.5 L987.8,597.3 L991.1,594.9 L994.3,592.6 L997.5,590.2 L1000.8,587.9 L1003.9,585.4 L1007.1,583.0 L1010.3,580.5 L1013.4,578.1 L1016.5,575.5 L1019.6,573.0 L1022.7,570.4 L1025.7,567.9 L1028.8,565.3 L1031.8,562.6 L1034.8,560.0 L1037.8,557.3 L1040.7,554.6 L1043.7,551.9 L1046.6,549.2 L1049.5,546.4 L1052.4,543.7 L1055.2,540.9 L1058.1,538.1 L1060.9,535.2 L1063.7,532.4 L1066.5,529.5 M783.7,977.9 L787.2,976.1 L790.8,974.3 L794.4,972.5 L798.0,970.7 L801.5,968.9 L805.1,967.2 L808.8,965.4 L812.4,963.7 L816.0,962.1 L819.6,960.4 L823.3,958.7 L826.9,957.1 L830.6,955.5 M1146.0,756.5 L1148.4,753.3 L1150.8,750.1 L1153.1,746.9 L1155.5,743.7 L1157.9,740.5 L1160.3,737.3 L1162.6,734.1 L1165.0,730.8 L1167.4,727.6 L1169.7,724.4 L1172.1,721.1 L1174.4,717.9 L1176.8,714.7 L1179.1,711.4 L1181.5,708.2 L1183.8,705.0 L1186.2,701.7 L1188.5,698.5 L1190.9,695.2 L1193.2,692.0 L1195.6,688.8 L1197.9,685.5 L1200.3,682.3 L1202.7,679.1 L1205.0,675.8 L1207.4,672.6 L1209.7,669.4 L1212.1,666.1 L1214.4,662.9 L1216.8,659.6 L1219.1,656.4 L1221.5,653.2 L1223.8,649.9 L1226.2,646.7 L1228.5,643.5 L1230.9,640.2 L1233.2,637.0 L1235.6,633.8 L1237.9,630.5 L1240.3,627.3 L1242.6,624.1 L1245.0,620.8 L1247.3,617.6 L1249.7,614.3 L1252.0,611.1 L1254.4,607.9 L1256.7,604.6 L1259.1,601.4 L1261.4,598.2 L1263.8,594.9 L1266.1,591.7 M423.3,819.6 L427.0,818.2 L430.8,816.8 L434.5,815.4 L438.3,814.1 L442.1,812.7 L445.8,811.3 L449.6,810.0 L453.3,808.6 L457.1,807.2 L460.9,805.9 L464.6,804.5 L468.4,803.1 L472.1,801.8 L475.9,800.4 M930.6,617.3 L934.1,615.5 L937.7,613.6 L941.2,611.7 L944.7,609.7 L948.2,607.8 L951.6,605.8 L955.1,603.8 L958.5,601.7 L962.0,599.6 L965.4,597.5 L968.7,595.4 L972.1,593.3 L975.5,591.1 L978.8,588.9 L982.1,586.6 L985.4,584.4 L988.7,582.1 L991.9,579.8 L995.2,577.4 L998.4,575.0 L1001.6,572.7 L1004.8,570.2 L1008.0,567.8 M1170.8,745.0 L1173.2,741.7 L1175.5,738.5 L1177.9,735.3 L1180.2,732.0 L1182.6,728.8 L1184.9,725.5 L1187.3,722.3 L1189.6,719.1 L1192.0,715.8 L1194.3,712.6 L1196.7,709.4 L1199.0,706.1 L1201.4,702.9 L1203.7,699.7 L1206.1,696.4 L1208.4,693.2 L1210.8,690.0 L1213.1,686.7 L1215.5,683.5 L1217.8,680.2 L1220.2,677.0 L1222.6,673.8 L1224.9,670.5 L1227.3,667.3 L1229.6,664.1 L1232.0,660.8 L1234.3,657.6 L1236.7,654.4 L1239.0,651.1 L1241.4,647.9 L1243.7,644.6 L1246.1,641.4 L1248.4,638.2 L1250.8,634.9 L1253.1,631.7 L1255.5,628.5 L1257.8,625.2 L1260.2,622.0 L1262.5,618.8 L1264.9,615.5 L1267.2,612.3 L1269.6,609.1 L1271.9,605.8 L1274.3,602.6 M924.6,605.8 L928.1,604.0 L931.7,602.2 L935.2,600.3 L938.7,598.4 L942.3,596.5 L945.8,594.5 L949.2,592.6 L952.7,590.6 L956.1,588.5 L959.6,586.5 L963.0,584.4 L966.4,582.3 M1197.8,730.0 L1200.2,726.7 L1202.5,723.5 L1204.9,720.2 L1207.2,717.0 L1209.6,713.8 L1211.9,710.5 L1214.3,707.3 L1216.6,704.1 L1219.0,700.8 L1221.3,697.6 L1223.7,694.4 L1226.0,691.1 L1228.4,687.9 L1230.7,684.6 L1233.1,681.4 L1235.4,678.2 L1237.8,674.9 L1240.1,671.7 L1242.5,668.5 L1244.8,665.2 L1247.2,662.0 L1249.5,658.8 L1251.9,655.5 L1254.2,652.3 L1256.6,649.1 L1258.9,645.8 L1261.3,642.6 L1263.6,639.3 L1266.0,636.1 L1268.3,632.9 L1270.7,629.6 L1273.0,626.4 L1275.4,623.2 L1277.7,619.9 L1280.1,616.7 M1224.8,714.9 L1227.1,711.7 L1229.5,708.5 L1231.8,705.2 L1234.2,702.0 L1236.5,698.8 L1238.9,695.5 L1241.2,692.3 L1243.6,689.1 L1245.9,685.8 L1248.3,682.6 L1250.6,679.3 L1253.0,676.1 L1255.3,672.9 L1257.7,669.6 L1260.0,666.4 L1262.4,663.2 L1264.7,659.9 L1267.1,656.7 L1269.4,653.5 L1271.8,650.2 L1274.2,647.0 L1276.5,643.7 L1278.9,640.5 L1281.2,637.3 L1283.6,634.0 M1251.8,699.9 L1254.1,696.7 L1256.5,693.5 L1258.8,690.2 L1261.2,687.0 L1263.5,683.8 L1265.9,680.5 L1268.2,677.3 L1270.6,674.0 L1272.9,670.8 L1275.3,667.6 L1277.6,664.3 L1280.0,661.1" fill="none" stroke="#ddcfc5" stroke-width="2.6" stroke-linecap="round"/></g>
</g>
<path d="M511,800 L545,800 L745,765 L912,703 L1003,590" fill="none" stroke="#c9b3a6" stroke-width="14" opacity="0.35" filter="url(#soft)" clip-path="url(#cs)"/>
<path d="M905,622 L950,612 L1000,590 L1030,572 L1060,548" fill="none" stroke="#c9b2a5" stroke-width="16" opacity="0.6" filter="url(#soft3)" clip-path="url(#cs)"/>
<path d="M982,572 L1000,560 L1030,552 L1058,542 L1062,550 L1040,566 L1005,582 L988,585 Z" fill="#c5a797" opacity="0.85" filter="url(#bl20)"/>
<clipPath id="cf"><path d="M258.0,890.0 L264.0,894.0 L333.0,905.0 L388.0,919.0 L444.0,933.0 L499.0,944.0 L555.0,951.0 L610.0,955.0 L650.0,957.0 L700.0,960.0 L742.0,962.0 L777.0,959.0 L811.0,945.0 L846.0,921.0 L881.0,893.0 L915.0,859.0 L950.0,835.0 L972.0,817.0 L1040.0,790.0 L1089.0,770.0 L1140.0,750.0 L1189.0,726.0 L1230.0,703.0 L1252.0,680.0 L1262.0,645.0 L1255.0,615.0 L1246.0,602.0 L1300.0,630.0 L1300.0,760.0 L1284.0,700.0 L1286.0,750.0 L1283.0,794.0 L1277.0,833.0 L1267.0,866.0 L1245.0,891.0 L1218.0,917.0 L1190.0,931.0 L1162.0,939.0 L1135.0,946.0 L1100.0,950.0 L1063.0,956.0 L1026.0,971.0 L1004.0,977.6 L982.0,986.0 L947.0,1011.0 L908.0,1052.0 L869.0,1094.0 L838.0,1128.0 L802.0,1158.0 L766.0,1174.0 L730.0,1184.0 L694.0,1190.0 L658.0,1197.0 L620.0,1200.0 L580.0,1202.0 L546.0,1205.5 L513.0,1204.0 L480.0,1198.0 L446.0,1191.0 L413.0,1181.5 L386.0,1169.0 L369.0,1159.0 L353.0,1151.0 L336.0,1141.0 L320.0,1131.0 L303.0,1121.0 L286.0,1113.0 L270.0,1104.5 L256.0,1093.0Z"/></clipPath>
<g clip-path="url(#cf)">
<path d="M258.0,890.0 L264.0,894.0 L333.0,905.0 L388.0,919.0 L444.0,933.0 L499.0,944.0 L555.0,951.0 L610.0,955.0 L650.0,957.0 L700.0,960.0 L742.0,962.0 L777.0,959.0 L811.0,945.0 L846.0,921.0 L881.0,893.0 L915.0,859.0 L950.0,835.0 L972.0,817.0 L1040.0,790.0 L1089.0,770.0 L1140.0,750.0 L1189.0,726.0 L1230.0,703.0 L1252.0,680.0 L1262.0,645.0 L1255.0,615.0 L1246.0,602.0 L1300.0,630.0 L1300.0,760.0 L1284.0,700.0 L1286.0,750.0 L1283.0,794.0 L1277.0,833.0 L1267.0,866.0 L1245.0,891.0 L1218.0,917.0 L1190.0,931.0 L1162.0,939.0 L1135.0,946.0 L1100.0,950.0 L1063.0,956.0 L1026.0,971.0 L1004.0,977.6 L982.0,986.0 L947.0,1011.0 L908.0,1052.0 L869.0,1094.0 L838.0,1128.0 L802.0,1158.0 L766.0,1174.0 L730.0,1184.0 L694.0,1190.0 L658.0,1197.0 L620.0,1200.0 L580.0,1202.0 L546.0,1205.5 L513.0,1204.0 L480.0,1198.0 L446.0,1191.0 L413.0,1181.5 L386.0,1169.0 L369.0,1159.0 L353.0,1151.0 L336.0,1141.0 L320.0,1131.0 L303.0,1121.0 L286.0,1113.0 L270.0,1104.5 L256.0,1093.0Z" fill="#efe8e1"/>
<g filter="url(#bl30)"><path d="M240.0,895.0 L246.0,895.0 L252.0,895.2 L258.0,895.4 L264.0,895.8 L270.0,896.4 L276.0,897.0 L282.0,897.9 L288.0,898.8 L294.0,899.8 L300.0,900.7 L306.0,901.7 L312.0,902.7 L318.0,903.6 L324.0,904.7 L330.0,905.9 L336.0,907.1 L342.0,908.5 L348.0,909.9 L354.0,911.3 L360.0,912.9 L366.0,914.4 L372.0,915.9 L378.0,917.4 L384.0,919.0 L390.0,920.5 L396.0,922.0 L402.0,923.5 L408.0,925.0 L414.0,926.5 L420.0,928.0 L426.0,929.5 L432.0,931.0 L438.0,932.4 L444.0,933.7 L450.0,935.1 L456.0,936.4 L462.0,937.6 L468.0,938.8 L474.0,940.0 L480.0,941.2 L486.0,942.3 L492.0,943.4 L498.0,944.4 L504.0,945.4 L510.0,946.3 L516.0,947.1 L522.0,947.9 L528.0,948.6 L534.0,949.4 L540.0,950.1 L546.0,950.8 L552.0,951.4 L558.0,952.0 L564.0,952.6 L570.0,953.1 L576.0,953.5 L582.0,954.0 L588.0,954.4 L594.0,954.8 L600.0,955.2 L606.0,955.6 L612.0,956.0 L618.0,956.4 L624.0,956.7 L630.0,957.0 L636.0,957.3 L642.0,957.6 L648.0,957.9 L654.0,958.3 L660.0,958.6 L666.0,959.0 L672.0,959.3 L678.0,959.7 L684.0,960.0 L690.0,960.4 L696.0,960.7 L702.0,961.0 L708.0,961.4 L714.0,961.7 L720.0,962.0 L726.0,962.2 L732.0,962.3 L738.0,962.4 L744.0,962.3 L750.0,962.0 L756.0,961.7 L762.0,961.1 L768.0,960.2 L774.0,959.0 L780.0,957.5 L786.0,955.7 L792.0,953.7 L798.0,951.2 L804.0,948.3 L810.0,945.1 L816.0,941.7 L822.0,938.1 L828.0,934.3 L834.0,930.1 L840.0,925.8 L846.0,921.4 L852.0,916.9 L858.0,912.3 L864.0,907.6 L870.0,902.6 L876.0,897.4 L882.0,892.1 L888.0,886.5 L894.0,880.9 L900.0,875.1 L906.0,869.5 L912.0,864.2 L918.0,859.2 L924.0,854.4 L930.0,849.8 L936.0,845.5 L942.0,841.2 L948.0,836.8 L954.0,832.3 L960.0,828.0 L966.0,824.0 L972.0,820.2 L978.0,816.7 L984.0,813.6 L990.0,810.9 L996.0,808.5 L1002.0,806.1 L1008.0,803.7 L1014.0,801.3 L1020.0,798.9 L1026.0,796.6 L1032.0,794.2 L1038.0,791.7 L1044.0,789.3 L1050.0,786.9 L1056.0,784.5 L1062.0,782.0 L1068.0,779.6 L1074.0,777.1 L1080.0,774.7 L1086.0,772.3 L1092.0,769.9 L1098.0,767.5 L1104.0,765.1 L1110.0,762.8 L1116.0,760.4 L1122.0,758.1 L1128.0,755.6 L1134.0,753.1 L1140.0,750.5 L1146.0,747.8 L1152.0,745.0 L1158.0,742.2 L1164.0,739.2 L1170.0,736.3 L1176.0,733.3 L1182.0,730.3 L1188.0,727.2 L1194.0,724.0 L1200.0,720.7 L1206.0,717.5 L1212.0,714.1 L1218.0,710.3 L1224.0,706.1 L1230.0,701.5 L1236.0,695.8 L1242.0,687.5 L1248.0,666.9 L1254.0,645.1 L1260.0,622.4 L1266.0,598.9 L1272.0,574.6 L1278.0,550.1 L1284.0,527.0 L1290.0,515.0 L1296.0,503.0 L1302.0,497.0 L1308.0,491.0 L1314.0,485.0 M240.0,919.0 L246.0,919.0 L252.0,919.2 L258.0,919.4 L264.0,919.8 L270.0,920.4 L276.0,921.0 L282.0,921.9 L288.0,922.8 L294.0,923.8 L300.0,924.7 L306.0,925.7 L312.0,926.7 L318.0,927.6 L324.0,928.7 L330.0,929.9 L336.0,931.1 L342.0,932.5 L348.0,933.9 L354.0,935.3 L360.0,936.9 L366.0,938.4 L372.0,939.9 L378.0,941.4 L384.0,943.0 L390.0,944.5 L396.0,946.0 L402.0,947.5 L408.0,949.0 L414.0,950.5 L420.0,952.0 L426.0,953.5 L432.0,955.0 L438.0,956.4 L444.0,957.7 L450.0,959.1 L456.0,960.4 L462.0,961.6 L468.0,962.8 L474.0,964.0 L480.0,965.2 L486.0,966.3 L492.0,967.4 L498.0,968.4 L504.0,969.4 L510.0,970.3 L516.0,971.1 L522.0,971.9 L528.0,972.6 L534.0,973.4 L540.0,974.1 L546.0,974.8 L552.0,975.4 L558.0,976.0 L564.0,976.6 L570.0,977.1 L576.0,977.5 L582.0,978.0 L588.0,978.4 L594.0,978.8 L600.0,979.2 L606.0,979.6 L612.0,980.0 L618.0,980.4 L624.0,980.7 L630.0,981.0 L636.0,981.3 L642.0,981.6 L648.0,981.9 L654.0,982.3 L660.0,982.6 L666.0,983.0 L672.0,983.3 L678.0,983.7 L684.0,984.0 L690.0,984.4 L696.0,984.7 L702.0,985.0 L708.0,985.4 L714.0,985.7 L720.0,986.0 L726.0,986.2 L732.0,986.3 L738.0,986.4 L744.0,986.3 L750.0,986.0 L756.0,985.7 L762.0,985.1 L768.0,984.2 L774.0,983.0 L780.0,981.5 L786.0,979.7 L792.0,977.7 L798.0,975.2 L804.0,972.3 L810.0,969.1 L816.0,965.7 L822.0,962.1 L828.0,958.3 L834.0,954.1 L840.0,949.8 L846.0,945.4 L852.0,940.9 L858.0,936.3 L864.0,931.6 L870.0,926.6 L876.0,921.4 L882.0,916.1 L888.0,910.5 L894.0,904.9 L900.0,899.1 L906.0,893.5 L912.0,888.2 L918.0,883.2 L924.0,878.4 L930.0,873.8 L936.0,869.5 L942.0,865.2 L948.0,860.8 L954.0,856.3 L960.0,852.0 L966.0,848.0 L972.0,844.2 L978.0,840.7 L984.0,837.6 L990.0,834.9 L996.0,832.5 L1002.0,830.1 L1008.0,827.7 L1014.0,825.3 L1020.0,822.9 L1026.0,820.6 L1032.0,818.2 L1038.0,815.7 L1044.0,813.3 L1050.0,810.9 L1056.0,808.5 L1062.0,806.0 L1068.0,803.6 L1074.0,801.1 L1080.0,798.7 L1086.0,796.3 L1092.0,793.9 L1098.0,791.5 L1104.0,789.1 L1110.0,786.8 L1116.0,784.4 L1122.0,782.1 L1128.0,779.6 L1134.0,777.1 L1140.0,774.5 L1146.0,771.8 L1152.0,769.0 L1158.0,766.2 L1164.0,763.2 L1170.0,760.3 L1176.0,757.3 L1182.0,754.3 L1188.0,751.2 L1194.0,748.0 L1200.0,744.7 L1206.0,741.5 L1212.0,738.1 L1218.0,734.3 L1224.0,730.1 L1230.0,725.5 L1236.0,719.8 L1242.0,711.5 L1248.0,690.9 L1254.0,669.1 L1260.0,646.4 L1266.0,622.9 L1272.0,598.6 L1278.0,574.1 L1284.0,551.0 L1290.0,539.0 L1296.0,527.0 L1302.0,521.0 L1308.0,515.0 L1314.0,509.0 M240.0,943.0 L246.0,943.0 L252.0,943.2 L258.0,943.4 L264.0,943.8 L270.0,944.4 L276.0,945.0 L282.0,945.9 L288.0,946.8 L294.0,947.8 L300.0,948.7 L306.0,949.7 L312.0,950.7 L318.0,951.6 L324.0,952.7 L330.0,953.9 L336.0,955.1 L342.0,956.5 L348.0,957.9 L354.0,959.3 L360.0,960.9 L366.0,962.4 L372.0,963.9 L378.0,965.4 L384.0,967.0 L390.0,968.5 L396.0,970.0 L402.0,971.5 L408.0,973.0 L414.0,974.5 L420.0,976.0 L426.0,977.5 L432.0,979.0 L438.0,980.4 L444.0,981.7 L450.0,983.1 L456.0,984.4 L462.0,985.6 L468.0,986.8 L474.0,988.0 L480.0,989.2 L486.0,990.3 L492.0,991.4 L498.0,992.4 L504.0,993.4 L510.0,994.3 L516.0,995.1 L522.0,995.9 L528.0,996.6 L534.0,997.4 L540.0,998.1 L546.0,998.8 L552.0,999.4 L558.0,1000.0 L564.0,1000.6 L570.0,1001.1 L576.0,1001.5 L582.0,1002.0 L588.0,1002.4 L594.0,1002.8 L600.0,1003.2 L606.0,1003.6 L612.0,1004.0 L618.0,1004.4 L624.0,1004.7 L630.0,1005.0 L636.0,1005.3 L642.0,1005.6 L648.0,1005.9 L654.0,1006.3 L660.0,1006.6 L666.0,1007.0 L672.0,1007.3 L678.0,1007.7 L684.0,1008.0 L690.0,1008.4 L696.0,1008.7 L702.0,1009.0 L708.0,1009.4 L714.0,1009.7 L720.0,1010.0 L726.0,1010.2 L732.0,1010.3 L738.0,1010.4 L744.0,1010.3 L750.0,1010.0 L756.0,1009.7 L762.0,1009.1 L768.0,1008.2 L774.0,1007.0 L780.0,1005.5 L786.0,1003.7 L792.0,1001.7 L798.0,999.2 L804.0,996.3 L810.0,993.1 L816.0,989.7 L822.0,986.1 L828.0,982.3 L834.0,978.1 L840.0,973.8 L846.0,969.4 L852.0,964.9 L858.0,960.3 L864.0,955.6 L870.0,950.6 L876.0,945.4 L882.0,940.1 L888.0,934.5 L894.0,928.9 L900.0,923.1 L906.0,917.5 L912.0,912.2 L918.0,907.2 L924.0,902.4 L930.0,897.8 L936.0,893.5 L942.0,889.2 L948.0,884.8 L954.0,880.3 L960.0,876.0 L966.0,872.0 L972.0,868.2 L978.0,864.7 L984.0,861.6 L990.0,858.9 L996.0,856.5 L1002.0,854.1 L1008.0,851.7 L1014.0,849.3 L1020.0,846.9 L1026.0,844.6 L1032.0,842.2 L1038.0,839.7 L1044.0,837.3 L1050.0,834.9 L1056.0,832.5 L1062.0,830.0 L1068.0,827.6 L1074.0,825.1 L1080.0,822.7 L1086.0,820.3 L1092.0,817.9 L1098.0,815.5 L1104.0,813.1 L1110.0,810.8 L1116.0,808.4 L1122.0,806.1 L1128.0,803.6 L1134.0,801.1 L1140.0,798.5 L1146.0,795.8 L1152.0,793.0 L1158.0,790.2 L1164.0,787.2 L1170.0,784.3 L1176.0,781.3 L1182.0,778.3 L1188.0,775.2 L1194.0,772.0 L1200.0,768.7 L1206.0,765.5 L1212.0,762.1 L1218.0,758.3 L1224.0,754.1 L1230.0,749.5 L1236.0,743.8 L1242.0,735.5 L1248.0,714.9 L1254.0,693.1 L1260.0,670.4 L1266.0,646.9 L1272.0,622.6 L1278.0,598.1 L1284.0,575.0 L1290.0,563.0 L1296.0,551.0 L1302.0,545.0 L1308.0,539.0 L1314.0,533.0 M240.0,967.0 L246.0,967.0 L252.0,967.2 L258.0,967.4 L264.0,967.8 L270.0,968.4 L276.0,969.0 L282.0,969.9 L288.0,970.8 L294.0,971.8 L300.0,972.7 L306.0,973.7 L312.0,974.7 L318.0,975.6 L324.0,976.7 L330.0,977.9 L336.0,979.1 L342.0,980.5 L348.0,981.9 L354.0,983.3 L360.0,984.9 L366.0,986.4 L372.0,987.9 L378.0,989.4 L384.0,991.0 L390.0,992.5 L396.0,994.0 L402.0,995.5 L408.0,997.0 L414.0,998.5 L420.0,1000.0 L426.0,1001.5 L432.0,1003.0 L438.0,1004.4 L444.0,1005.7 L450.0,1007.1 L456.0,1008.4 L462.0,1009.6 L468.0,1010.8 L474.0,1012.0 L480.0,1013.2 L486.0,1014.3 L492.0,1015.4 L498.0,1016.4 L504.0,1017.4 L510.0,1018.3 L516.0,1019.1 L522.0,1019.9 L528.0,1020.6 L534.0,1021.4 L540.0,1022.1 L546.0,1022.8 L552.0,1023.4 L558.0,1024.0 L564.0,1024.6 L570.0,1025.1 L576.0,1025.5 L582.0,1026.0 L588.0,1026.4 L594.0,1026.8 L600.0,1027.2 L606.0,1027.6 L612.0,1028.0 L618.0,1028.4 L624.0,1028.7 L630.0,1029.0 L636.0,1029.3 L642.0,1029.6 L648.0,1029.9 L654.0,1030.3 L660.0,1030.6 L666.0,1031.0 L672.0,1031.3 L678.0,1031.7 L684.0,1032.0 L690.0,1032.4 L696.0,1032.7 L702.0,1033.0 L708.0,1033.4 L714.0,1033.7 L720.0,1034.0 L726.0,1034.2 L732.0,1034.3 L738.0,1034.4 L744.0,1034.3 L750.0,1034.0 L756.0,1033.7 L762.0,1033.1 L768.0,1032.2 L774.0,1031.0 L780.0,1029.5 L786.0,1027.7 L792.0,1025.7 L798.0,1023.2 L804.0,1020.3 L810.0,1017.1 L816.0,1013.7 L822.0,1010.1 L828.0,1006.3 L834.0,1002.1 L840.0,997.8 L846.0,993.4 L852.0,988.9 L858.0,984.3 L864.0,979.6 L870.0,974.6 L876.0,969.4 L882.0,964.1 L888.0,958.5 L894.0,952.9 L900.0,947.1 L906.0,941.5 L912.0,936.2 L918.0,931.2 L924.0,926.4 L930.0,921.8 L936.0,917.5 L942.0,913.2 L948.0,908.8 L954.0,904.3 L960.0,900.0 L966.0,896.0 L972.0,892.2 L978.0,888.7 L984.0,885.6 L990.0,882.9 L996.0,880.5 L1002.0,878.1 L1008.0,875.7 L1014.0,873.3 L1020.0,870.9 L1026.0,868.6 L1032.0,866.2 L1038.0,863.7 L1044.0,861.3 L1050.0,858.9 L1056.0,856.5 L1062.0,854.0 L1068.0,851.6 L1074.0,849.1 L1080.0,846.7 L1086.0,844.3 L1092.0,841.9 L1098.0,839.5 L1104.0,837.1 L1110.0,834.8 L1116.0,832.4 L1122.0,830.1 L1128.0,827.6 L1134.0,825.1 L1140.0,822.5 L1146.0,819.8 L1152.0,817.0 L1158.0,814.2 L1164.0,811.2 L1170.0,808.3 L1176.0,805.3 L1182.0,802.3 L1188.0,799.2 L1194.0,796.0 L1200.0,792.7 L1206.0,789.5 L1212.0,786.1 L1218.0,782.3 L1224.0,778.1 L1230.0,773.5 L1236.0,767.8 L1242.0,759.5 L1248.0,738.9 L1254.0,717.1 L1260.0,694.4 L1266.0,670.9 L1272.0,646.6 L1278.0,622.1 L1284.0,599.0 L1290.0,587.0 L1296.0,575.0 L1302.0,569.0 L1308.0,563.0 L1314.0,557.0 M240.0,991.0 L246.0,991.0 L252.0,991.2 L258.0,991.4 L264.0,991.8 L270.0,992.4 L276.0,993.0 L282.0,993.9 L288.0,994.8 L294.0,995.8 L300.0,996.7 L306.0,997.7 L312.0,998.7 L318.0,999.6 L324.0,1000.7 L330.0,1001.9 L336.0,1003.1 L342.0,1004.5 L348.0,1005.9 L354.0,1007.3 L360.0,1008.9 L366.0,1010.4 L372.0,1011.9 L378.0,1013.4 L384.0,1015.0 L390.0,1016.5 L396.0,1018.0 L402.0,1019.5 L408.0,1021.0 L414.0,1022.5 L420.0,1024.0 L426.0,1025.5 L432.0,1027.0 L438.0,1028.4 L444.0,1029.7 L450.0,1031.1 L456.0,1032.4 L462.0,1033.6 L468.0,1034.8 L474.0,1036.0 L480.0,1037.2 L486.0,1038.3 L492.0,1039.4 L498.0,1040.4 L504.0,1041.4 L510.0,1042.3 L516.0,1043.1 L522.0,1043.9 L528.0,1044.6 L534.0,1045.4 L540.0,1046.1 L546.0,1046.8 L552.0,1047.4 L558.0,1048.0 L564.0,1048.6 L570.0,1049.1 L576.0,1049.5 L582.0,1050.0 L588.0,1050.4 L594.0,1050.8 L600.0,1051.2 L606.0,1051.6 L612.0,1052.0 L618.0,1052.4 L624.0,1052.7 L630.0,1053.0 L636.0,1053.3 L642.0,1053.6 L648.0,1053.9 L654.0,1054.3 L660.0,1054.6 L666.0,1055.0 L672.0,1055.3 L678.0,1055.7 L684.0,1056.0 L690.0,1056.4 L696.0,1056.7 L702.0,1057.0 L708.0,1057.4 L714.0,1057.7 L720.0,1058.0 L726.0,1058.2 L732.0,1058.3 L738.0,1058.4 L744.0,1058.3 L750.0,1058.0 L756.0,1057.7 L762.0,1057.1 L768.0,1056.2 L774.0,1055.0 L780.0,1053.5 L786.0,1051.7 L792.0,1049.7 L798.0,1047.2 L804.0,1044.3 L810.0,1041.1 L816.0,1037.7 L822.0,1034.1 L828.0,1030.3 L834.0,1026.1 L840.0,1021.8 L846.0,1017.4 L852.0,1012.9 L858.0,1008.3 L864.0,1003.6 L870.0,998.6 L876.0,993.4 L882.0,988.1 L888.0,982.5 L894.0,976.9 L900.0,971.1 L906.0,965.5 L912.0,960.2 L918.0,955.2 L924.0,950.4 L930.0,945.8 L936.0,941.5 L942.0,937.2 L948.0,932.8 L954.0,928.3 L960.0,924.0 L966.0,920.0 L972.0,916.2 L978.0,912.7 L984.0,909.6 L990.0,906.9 L996.0,904.5 L1002.0,902.1 L1008.0,899.7 L1014.0,897.3 L1020.0,894.9 L1026.0,892.6 L1032.0,890.2 L1038.0,887.7 L1044.0,885.3 L1050.0,882.9 L1056.0,880.5 L1062.0,878.0 L1068.0,875.6 L1074.0,873.1 L1080.0,870.7 L1086.0,868.3 L1092.0,865.9 L1098.0,863.5 L1104.0,861.1 L1110.0,858.8 L1116.0,856.4 L1122.0,854.1 L1128.0,851.6 L1134.0,849.1 L1140.0,846.5 L1146.0,843.8 L1152.0,841.0 L1158.0,838.2 L1164.0,835.2 L1170.0,832.3 L1176.0,829.3 L1182.0,826.3 L1188.0,823.2 L1194.0,820.0 L1200.0,816.7 L1206.0,813.5 L1212.0,810.1 L1218.0,806.3 L1224.0,802.1 L1230.0,797.5 L1236.0,791.8 L1242.0,783.5 L1248.0,762.9 L1254.0,741.1 L1260.0,718.4 L1266.0,694.9 L1272.0,670.6 L1278.0,646.1 L1284.0,623.0 L1290.0,611.0 L1296.0,599.0 L1302.0,593.0 L1308.0,587.0 L1314.0,581.0 M240.0,1015.0 L246.0,1015.0 L252.0,1015.2 L258.0,1015.4 L264.0,1015.8 L270.0,1016.4 L276.0,1017.0 L282.0,1017.9 L288.0,1018.8 L294.0,1019.8 L300.0,1020.7 L306.0,1021.7 L312.0,1022.7 L318.0,1023.6 L324.0,1024.7 L330.0,1025.9 L336.0,1027.1 L342.0,1028.5 L348.0,1029.9 L354.0,1031.3 L360.0,1032.9 L366.0,1034.4 L372.0,1035.9 L378.0,1037.4 L384.0,1039.0 L390.0,1040.5 L396.0,1042.0 L402.0,1043.5 L408.0,1045.0 L414.0,1046.5 L420.0,1048.0 L426.0,1049.5 L432.0,1051.0 L438.0,1052.4 L444.0,1053.7 L450.0,1055.1 L456.0,1056.4 L462.0,1057.6 L468.0,1058.8 L474.0,1060.0 L480.0,1061.2 L486.0,1062.3 L492.0,1063.4 L498.0,1064.4 L504.0,1065.4 L510.0,1066.3 L516.0,1067.1 L522.0,1067.9 L528.0,1068.6 L534.0,1069.4 L540.0,1070.1 L546.0,1070.8 L552.0,1071.4 L558.0,1072.0 L564.0,1072.6 L570.0,1073.1 L576.0,1073.5 L582.0,1074.0 L588.0,1074.4 L594.0,1074.8 L600.0,1075.2 L606.0,1075.6 L612.0,1076.0 L618.0,1076.4 L624.0,1076.7 L630.0,1077.0 L636.0,1077.3 L642.0,1077.6 L648.0,1077.9 L654.0,1078.3 L660.0,1078.6 L666.0,1079.0 L672.0,1079.3 L678.0,1079.7 L684.0,1080.0 L690.0,1080.4 L696.0,1080.7 L702.0,1081.0 L708.0,1081.4 L714.0,1081.7 L720.0,1082.0 L726.0,1082.2 L732.0,1082.3 L738.0,1082.4 L744.0,1082.3 L750.0,1082.0 L756.0,1081.7 L762.0,1081.1 L768.0,1080.2 L774.0,1079.0 L780.0,1077.5 L786.0,1075.7 L792.0,1073.7 L798.0,1071.2 L804.0,1068.3 L810.0,1065.1 L816.0,1061.7 L822.0,1058.1 L828.0,1054.3 L834.0,1050.1 L840.0,1045.8 L846.0,1041.4 L852.0,1036.9 L858.0,1032.3 L864.0,1027.6 L870.0,1022.6 L876.0,1017.4 L882.0,1012.1 L888.0,1006.5 L894.0,1000.9 L900.0,995.1 L906.0,989.5 L912.0,984.2 L918.0,979.2 L924.0,974.4 L930.0,969.8 L936.0,965.5 L942.0,961.2 L948.0,956.8 L954.0,952.3 L960.0,948.0 L966.0,944.0 L972.0,940.2 L978.0,936.7 L984.0,933.6 L990.0,930.9 L996.0,928.5 L1002.0,926.1 L1008.0,923.7 L1014.0,921.3 L1020.0,918.9 L1026.0,916.6 L1032.0,914.2 L1038.0,911.7 L1044.0,909.3 L1050.0,906.9 L1056.0,904.5 L1062.0,902.0 L1068.0,899.6 L1074.0,897.1 L1080.0,894.7 L1086.0,892.3 L1092.0,889.9 L1098.0,887.5 L1104.0,885.1 L1110.0,882.8 L1116.0,880.4 L1122.0,878.1 L1128.0,875.6 L1134.0,873.1 L1140.0,870.5 L1146.0,867.8 L1152.0,865.0 L1158.0,862.2 L1164.0,859.2 L1170.0,856.3 L1176.0,853.3 L1182.0,850.3 L1188.0,847.2 L1194.0,844.0 L1200.0,840.7 L1206.0,837.5 L1212.0,834.1 L1218.0,830.3 L1224.0,826.1 L1230.0,821.5 L1236.0,815.8 L1242.0,807.5 L1248.0,786.9 L1254.0,765.1 L1260.0,742.4 L1266.0,718.9 L1272.0,694.6 L1278.0,670.1 L1284.0,647.0 L1290.0,635.0 L1296.0,623.0 L1302.0,617.0 L1308.0,611.0 L1314.0,605.0 M240.0,1039.0 L246.0,1039.0 L252.0,1039.2 L258.0,1039.4 L264.0,1039.8 L270.0,1040.4 L276.0,1041.0 L282.0,1041.9 L288.0,1042.8 L294.0,1043.8 L300.0,1044.7 L306.0,1045.7 L312.0,1046.7 L318.0,1047.6 L324.0,1048.7 L330.0,1049.9 L336.0,1051.1 L342.0,1052.5 L348.0,1053.9 L354.0,1055.3 L360.0,1056.9 L366.0,1058.4 L372.0,1059.9 L378.0,1061.4 L384.0,1063.0 L390.0,1064.5 L396.0,1066.0 L402.0,1067.5 L408.0,1069.0 L414.0,1070.5 L420.0,1072.0 L426.0,1073.5 L432.0,1075.0 L438.0,1076.4 L444.0,1077.7 L450.0,1079.1 L456.0,1080.4 L462.0,1081.6 L468.0,1082.8 L474.0,1084.0 L480.0,1085.2 L486.0,1086.3 L492.0,1087.4 L498.0,1088.4 L504.0,1089.4 L510.0,1090.3 L516.0,1091.1 L522.0,1091.9 L528.0,1092.6 L534.0,1093.4 L540.0,1094.1 L546.0,1094.8 L552.0,1095.4 L558.0,1096.0 L564.0,1096.6 L570.0,1097.1 L576.0,1097.5 L582.0,1098.0 L588.0,1098.4 L594.0,1098.8 L600.0,1099.2 L606.0,1099.6 L612.0,1100.0 L618.0,1100.4 L624.0,1100.7 L630.0,1101.0 L636.0,1101.3 L642.0,1101.6 L648.0,1101.9 L654.0,1102.3 L660.0,1102.6 L666.0,1103.0 L672.0,1103.3 L678.0,1103.7 L684.0,1104.0 L690.0,1104.4 L696.0,1104.7 L702.0,1105.0 L708.0,1105.4 L714.0,1105.7 L720.0,1106.0 L726.0,1106.2 L732.0,1106.3 L738.0,1106.4 L744.0,1106.3 L750.0,1106.0 L756.0,1105.7 L762.0,1105.1 L768.0,1104.2 L774.0,1103.0 L780.0,1101.5 L786.0,1099.7 L792.0,1097.7 L798.0,1095.2 L804.0,1092.3 L810.0,1089.1 L816.0,1085.7 L822.0,1082.1 L828.0,1078.3 L834.0,1074.1 L840.0,1069.8 L846.0,1065.4 L852.0,1060.9 L858.0,1056.3 L864.0,1051.6 L870.0,1046.6 L876.0,1041.4 L882.0,1036.1 L888.0,1030.5 L894.0,1024.9 L900.0,1019.1 L906.0,1013.5 L912.0,1008.2 L918.0,1003.2 L924.0,998.4 L930.0,993.8 L936.0,989.5 L942.0,985.2 L948.0,980.8 L954.0,976.3 L960.0,972.0 L966.0,968.0 L972.0,964.2 L978.0,960.7 L984.0,957.6 L990.0,954.9 L996.0,952.5 L1002.0,950.1 L1008.0,947.7 L1014.0,945.3 L1020.0,942.9 L1026.0,940.6 L1032.0,938.2 L1038.0,935.7 L1044.0,933.3 L1050.0,930.9 L1056.0,928.5 L1062.0,926.0 L1068.0,923.6 L1074.0,921.1 L1080.0,918.7 L1086.0,916.3 L1092.0,913.9 L1098.0,911.5 L1104.0,909.1 L1110.0,906.8 L1116.0,904.4 L1122.0,902.1 L1128.0,899.6 L1134.0,897.1 L1140.0,894.5 L1146.0,891.8 L1152.0,889.0 L1158.0,886.2 L1164.0,883.2 L1170.0,880.3 L1176.0,877.3 L1182.0,874.3 L1188.0,871.2 L1194.0,868.0 L1200.0,864.7 L1206.0,861.5 L1212.0,858.1 L1218.0,854.3 L1224.0,850.1 L1230.0,845.5 L1236.0,839.8 L1242.0,831.5 L1248.0,810.9 L1254.0,789.1 L1260.0,766.4 L1266.0,742.9 L1272.0,718.6 L1278.0,694.1 L1284.0,671.0 L1290.0,659.0 L1296.0,647.0 L1302.0,641.0 L1308.0,635.0 L1314.0,629.0 M240.0,1063.0 L246.0,1063.0 L252.0,1063.2 L258.0,1063.4 L264.0,1063.8 L270.0,1064.4 L276.0,1065.0 L282.0,1065.9 L288.0,1066.8 L294.0,1067.8 L300.0,1068.7 L306.0,1069.7 L312.0,1070.7 L318.0,1071.6 L324.0,1072.7 L330.0,1073.9 L336.0,1075.1 L342.0,1076.5 L348.0,1077.9 L354.0,1079.3 L360.0,1080.9 L366.0,1082.4 L372.0,1083.9 L378.0,1085.4 L384.0,1087.0 L390.0,1088.5 L396.0,1090.0 L402.0,1091.5 L408.0,1093.0 L414.0,1094.5 L420.0,1096.0 L426.0,1097.5 L432.0,1099.0 L438.0,1100.4 L444.0,1101.7 L450.0,1103.1 L456.0,1104.4 L462.0,1105.6 L468.0,1106.8 L474.0,1108.0 L480.0,1109.2 L486.0,1110.3 L492.0,1111.4 L498.0,1112.4 L504.0,1113.4 L510.0,1114.3 L516.0,1115.1 L522.0,1115.9 L528.0,1116.6 L534.0,1117.4 L540.0,1118.1 L546.0,1118.8 L552.0,1119.4 L558.0,1120.0 L564.0,1120.6 L570.0,1121.1 L576.0,1121.5 L582.0,1122.0 L588.0,1122.4 L594.0,1122.8 L600.0,1123.2 L606.0,1123.6 L612.0,1124.0 L618.0,1124.4 L624.0,1124.7 L630.0,1125.0 L636.0,1125.3 L642.0,1125.6 L648.0,1125.9 L654.0,1126.3 L660.0,1126.6 L666.0,1127.0 L672.0,1127.3 L678.0,1127.7 L684.0,1128.0 L690.0,1128.4 L696.0,1128.7 L702.0,1129.0 L708.0,1129.4 L714.0,1129.7 L720.0,1130.0 L726.0,1130.2 L732.0,1130.3 L738.0,1130.4 L744.0,1130.3 L750.0,1130.0 L756.0,1129.7 L762.0,1129.1 L768.0,1128.2 L774.0,1127.0 L780.0,1125.5 L786.0,1123.7 L792.0,1121.7 L798.0,1119.2 L804.0,1116.3 L810.0,1113.1 L816.0,1109.7 L822.0,1106.1 L828.0,1102.3 L834.0,1098.1 L840.0,1093.8 L846.0,1089.4 L852.0,1084.9 L858.0,1080.3 L864.0,1075.6 L870.0,1070.6 L876.0,1065.4 L882.0,1060.1 L888.0,1054.5 L894.0,1048.9 L900.0,1043.1 L906.0,1037.5 L912.0,1032.2 L918.0,1027.2 L924.0,1022.4 L930.0,1017.8 L936.0,1013.5 L942.0,1009.2 L948.0,1004.8 L954.0,1000.3 L960.0,996.0 L966.0,992.0 L972.0,988.2 L978.0,984.7 L984.0,981.6 L990.0,978.9 L996.0,976.5 L1002.0,974.1 L1008.0,971.7 L1014.0,969.3 L1020.0,966.9 L1026.0,964.6 L1032.0,962.2 L1038.0,959.7 L1044.0,957.3 L1050.0,954.9 L1056.0,952.5 L1062.0,950.0 L1068.0,947.6 L1074.0,945.1 L1080.0,942.7 L1086.0,940.3 L1092.0,937.9 L1098.0,935.5 L1104.0,933.1 L1110.0,930.8 L1116.0,928.4 L1122.0,926.1 L1128.0,923.6 L1134.0,921.1 L1140.0,918.5 L1146.0,915.8 L1152.0,913.0 L1158.0,910.2 L1164.0,907.2 L1170.0,904.3 L1176.0,901.3 L1182.0,898.3 L1188.0,895.2 L1194.0,892.0 L1200.0,888.7 L1206.0,885.5 L1212.0,882.1 L1218.0,878.3 L1224.0,874.1 L1230.0,869.5 L1236.0,863.8 L1242.0,855.5 L1248.0,834.9 L1254.0,813.1 L1260.0,790.4 L1266.0,766.9 L1272.0,742.6 L1278.0,718.1 L1284.0,695.0 L1290.0,683.0 L1296.0,671.0 L1302.0,665.0 L1308.0,659.0 L1314.0,653.0 M240.0,1087.0 L246.0,1087.0 L252.0,1087.2 L258.0,1087.4 L264.0,1087.8 L270.0,1088.4 L276.0,1089.0 L282.0,1089.9 L288.0,1090.8 L294.0,1091.8 L300.0,1092.7 L306.0,1093.7 L312.0,1094.7 L318.0,1095.6 L324.0,1096.7 L330.0,1097.9 L336.0,1099.1 L342.0,1100.5 L348.0,1101.9 L354.0,1103.3 L360.0,1104.9 L366.0,1106.4 L372.0,1107.9 L378.0,1109.4 L384.0,1111.0 L390.0,1112.5 L396.0,1114.0 L402.0,1115.5 L408.0,1117.0 L414.0,1118.5 L420.0,1120.0 L426.0,1121.5 L432.0,1123.0 L438.0,1124.4 L444.0,1125.7 L450.0,1127.1 L456.0,1128.4 L462.0,1129.6 L468.0,1130.8 L474.0,1132.0 L480.0,1133.2 L486.0,1134.3 L492.0,1135.4 L498.0,1136.4 L504.0,1137.4 L510.0,1138.3 L516.0,1139.1 L522.0,1139.9 L528.0,1140.6 L534.0,1141.4 L540.0,1142.1 L546.0,1142.8 L552.0,1143.4 L558.0,1144.0 L564.0,1144.6 L570.0,1145.1 L576.0,1145.5 L582.0,1146.0 L588.0,1146.4 L594.0,1146.8 L600.0,1147.2 L606.0,1147.6 L612.0,1148.0 L618.0,1148.4 L624.0,1148.7 L630.0,1149.0 L636.0,1149.3 L642.0,1149.6 L648.0,1149.9 L654.0,1150.3 L660.0,1150.6 L666.0,1151.0 L672.0,1151.3 L678.0,1151.7 L684.0,1152.0 L690.0,1152.4 L696.0,1152.7 L702.0,1153.0 L708.0,1153.4 L714.0,1153.7 L720.0,1154.0 L726.0,1154.2 L732.0,1154.3 L738.0,1154.4 L744.0,1154.3 L750.0,1154.0 L756.0,1153.7 L762.0,1153.1 L768.0,1152.2 L774.0,1151.0 L780.0,1149.5 L786.0,1147.7 L792.0,1145.7 L798.0,1143.2 L804.0,1140.3 L810.0,1137.1 L816.0,1133.7 L822.0,1130.1 L828.0,1126.3 L834.0,1122.1 L840.0,1117.8 L846.0,1113.4 L852.0,1108.9 L858.0,1104.3 L864.0,1099.6 L870.0,1094.6 L876.0,1089.4 L882.0,1084.1 L888.0,1078.5 L894.0,1072.9 L900.0,1067.1 L906.0,1061.5 L912.0,1056.2 L918.0,1051.2 L924.0,1046.4 L930.0,1041.8 L936.0,1037.5 L942.0,1033.2 L948.0,1028.8 L954.0,1024.3 L960.0,1020.0 L966.0,1016.0 L972.0,1012.2 L978.0,1008.7 L984.0,1005.6 L990.0,1002.9 L996.0,1000.5 L1002.0,998.1 L1008.0,995.7 L1014.0,993.3 L1020.0,990.9 L1026.0,988.6 L1032.0,986.2 L1038.0,983.7 L1044.0,981.3 L1050.0,978.9 L1056.0,976.5 L1062.0,974.0 L1068.0,971.6 L1074.0,969.1 L1080.0,966.7 L1086.0,964.3 L1092.0,961.9 L1098.0,959.5 L1104.0,957.1 L1110.0,954.8 L1116.0,952.4 L1122.0,950.1 L1128.0,947.6 L1134.0,945.1 L1140.0,942.5 L1146.0,939.8 L1152.0,937.0 L1158.0,934.2 L1164.0,931.2 L1170.0,928.3 L1176.0,925.3 L1182.0,922.3 L1188.0,919.2 L1194.0,916.0 L1200.0,912.7 L1206.0,909.5 L1212.0,906.1 L1218.0,902.3 L1224.0,898.1 L1230.0,893.5 L1236.0,887.8 L1242.0,879.5 L1248.0,858.9 L1254.0,837.1 L1260.0,814.4 L1266.0,790.9 L1272.0,766.6 L1278.0,742.1 L1284.0,719.0 L1290.0,707.0 L1296.0,695.0 L1302.0,689.0 L1308.0,683.0 L1314.0,677.0 M240.0,1111.0 L246.0,1111.0 L252.0,1111.2 L258.0,1111.4 L264.0,1111.8 L270.0,1112.4 L276.0,1113.0 L282.0,1113.9 L288.0,1114.8 L294.0,1115.8 L300.0,1116.7 L306.0,1117.7 L312.0,1118.7 L318.0,1119.6 L324.0,1120.7 L330.0,1121.9 L336.0,1123.1 L342.0,1124.5 L348.0,1125.9 L354.0,1127.3 L360.0,1128.9 L366.0,1130.4 L372.0,1131.9 L378.0,1133.4 L384.0,1135.0 L390.0,1136.5 L396.0,1138.0 L402.0,1139.5 L408.0,1141.0 L414.0,1142.5 L420.0,1144.0 L426.0,1145.5 L432.0,1147.0 L438.0,1148.4 L444.0,1149.7 L450.0,1151.1 L456.0,1152.4 L462.0,1153.6 L468.0,1154.8 L474.0,1156.0 L480.0,1157.2 L486.0,1158.3 L492.0,1159.4 L498.0,1160.4 L504.0,1161.4 L510.0,1162.3 L516.0,1163.1 L522.0,1163.9 L528.0,1164.6 L534.0,1165.4 L540.0,1166.1 L546.0,1166.8 L552.0,1167.4 L558.0,1168.0 L564.0,1168.6 L570.0,1169.1 L576.0,1169.5 L582.0,1170.0 L588.0,1170.4 L594.0,1170.8 L600.0,1171.2 L606.0,1171.6 L612.0,1172.0 L618.0,1172.4 L624.0,1172.7 L630.0,1173.0 L636.0,1173.3 L642.0,1173.6 L648.0,1173.9 L654.0,1174.3 L660.0,1174.6 L666.0,1175.0 L672.0,1175.3 L678.0,1175.7 L684.0,1176.0 L690.0,1176.4 L696.0,1176.7 L702.0,1177.0 L708.0,1177.4 L714.0,1177.7 L720.0,1178.0 L726.0,1178.2 L732.0,1178.3 L738.0,1178.4 L744.0,1178.3 L750.0,1178.0 L756.0,1177.7 L762.0,1177.1 L768.0,1176.2 L774.0,1175.0 L780.0,1173.5 L786.0,1171.7 L792.0,1169.7 L798.0,1167.2 L804.0,1164.3 L810.0,1161.1 L816.0,1157.7 L822.0,1154.1 L828.0,1150.3 L834.0,1146.1 L840.0,1141.8 L846.0,1137.4 L852.0,1132.9 L858.0,1128.3 L864.0,1123.6 L870.0,1118.6 L876.0,1113.4 L882.0,1108.1 L888.0,1102.5 L894.0,1096.9 L900.0,1091.1 L906.0,1085.5 L912.0,1080.2 L918.0,1075.2 L924.0,1070.4 L930.0,1065.8 L936.0,1061.5 L942.0,1057.2 L948.0,1052.8 L954.0,1048.3 L960.0,1044.0 L966.0,1040.0 L972.0,1036.2 L978.0,1032.7 L984.0,1029.6 L990.0,1026.9 L996.0,1024.5 L1002.0,1022.1 L1008.0,1019.7 L1014.0,1017.3 L1020.0,1014.9 L1026.0,1012.6 L1032.0,1010.2 L1038.0,1007.7 L1044.0,1005.3 L1050.0,1002.9 L1056.0,1000.5 L1062.0,998.0 L1068.0,995.6 L1074.0,993.1 L1080.0,990.7 L1086.0,988.3 L1092.0,985.9 L1098.0,983.5 L1104.0,981.1 L1110.0,978.8 L1116.0,976.4 L1122.0,974.1 L1128.0,971.6 L1134.0,969.1 L1140.0,966.5 L1146.0,963.8 L1152.0,961.0 L1158.0,958.2 L1164.0,955.2 L1170.0,952.3 L1176.0,949.3 L1182.0,946.3 L1188.0,943.2 L1194.0,940.0 L1200.0,936.7 L1206.0,933.5 L1212.0,930.1 L1218.0,926.3 L1224.0,922.1 L1230.0,917.5 L1236.0,911.8 L1242.0,903.5 L1248.0,882.9 L1254.0,861.1 L1260.0,838.4 L1266.0,814.9 L1272.0,790.6 L1278.0,766.1 L1284.0,743.0 L1290.0,731.0 L1296.0,719.0 L1302.0,713.0 L1308.0,707.0 L1314.0,701.0 M240.0,1135.0 L246.0,1135.0 L252.0,1135.2 L258.0,1135.4 L264.0,1135.8 L270.0,1136.4 L276.0,1137.0 L282.0,1137.9 L288.0,1138.8 L294.0,1139.8 L300.0,1140.7 L306.0,1141.7 L312.0,1142.7 L318.0,1143.6 L324.0,1144.7 L330.0,1145.9 L336.0,1147.1 L342.0,1148.5 L348.0,1149.9 L354.0,1151.3 L360.0,1152.9 L366.0,1154.4 L372.0,1155.9 L378.0,1157.4 L384.0,1159.0 L390.0,1160.5 L396.0,1162.0 L402.0,1163.5 L408.0,1165.0 L414.0,1166.5 L420.0,1168.0 L426.0,1169.5 L432.0,1171.0 L438.0,1172.4 L444.0,1173.7 L450.0,1175.1 L456.0,1176.4 L462.0,1177.6 L468.0,1178.8 L474.0,1180.0 L480.0,1181.2 L486.0,1182.3 L492.0,1183.4 L498.0,1184.4 L504.0,1185.4 L510.0,1186.3 L516.0,1187.1 L522.0,1187.9 L528.0,1188.6 L534.0,1189.4 L540.0,1190.1 L546.0,1190.8 L552.0,1191.4 L558.0,1192.0 L564.0,1192.6 L570.0,1193.1 L576.0,1193.5 L582.0,1194.0 L588.0,1194.4 L594.0,1194.8 L600.0,1195.2 L606.0,1195.6 L612.0,1196.0 L618.0,1196.4 L624.0,1196.7 L630.0,1197.0 L636.0,1197.3 L642.0,1197.6 L648.0,1197.9 L654.0,1198.3 L660.0,1198.6 L666.0,1199.0 L672.0,1199.3 L678.0,1199.7 L684.0,1200.0 L690.0,1200.4 L696.0,1200.7 L702.0,1201.0 L708.0,1201.4 L714.0,1201.7 L720.0,1202.0 L726.0,1202.2 L732.0,1202.3 L738.0,1202.4 L744.0,1202.3 L750.0,1202.0 L756.0,1201.7 L762.0,1201.1 L768.0,1200.2 L774.0,1199.0 L780.0,1197.5 L786.0,1195.7 L792.0,1193.7 L798.0,1191.2 L804.0,1188.3 L810.0,1185.1 L816.0,1181.7 L822.0,1178.1 L828.0,1174.3 L834.0,1170.1 L840.0,1165.8 L846.0,1161.4 L852.0,1156.9 L858.0,1152.3 L864.0,1147.6 L870.0,1142.6 L876.0,1137.4 L882.0,1132.1 L888.0,1126.5 L894.0,1120.9 L900.0,1115.1 L906.0,1109.5 L912.0,1104.2 L918.0,1099.2 L924.0,1094.4 L930.0,1089.8 L936.0,1085.5 L942.0,1081.2 L948.0,1076.8 L954.0,1072.3 L960.0,1068.0 L966.0,1064.0 L972.0,1060.2 L978.0,1056.7 L984.0,1053.6 L990.0,1050.9 L996.0,1048.5 L1002.0,1046.1 L1008.0,1043.7 L1014.0,1041.3 L1020.0,1038.9 L1026.0,1036.6 L1032.0,1034.2 L1038.0,1031.7 L1044.0,1029.3 L1050.0,1026.9 L1056.0,1024.5 L1062.0,1022.0 L1068.0,1019.6 L1074.0,1017.1 L1080.0,1014.7 L1086.0,1012.3 L1092.0,1009.9 L1098.0,1007.5 L1104.0,1005.1 L1110.0,1002.8 L1116.0,1000.4 L1122.0,998.1 L1128.0,995.6 L1134.0,993.1 L1140.0,990.5 L1146.0,987.8 L1152.0,985.0 L1158.0,982.2 L1164.0,979.2 L1170.0,976.3 L1176.0,973.3 L1182.0,970.3 L1188.0,967.2 L1194.0,964.0 L1200.0,960.7 L1206.0,957.5 L1212.0,954.1 L1218.0,950.3 L1224.0,946.1 L1230.0,941.5 L1236.0,935.8 L1242.0,927.5 L1248.0,906.9 L1254.0,885.1 L1260.0,862.4 L1266.0,838.9 L1272.0,814.6 L1278.0,790.1 L1284.0,767.0 L1290.0,755.0 L1296.0,743.0 L1302.0,737.0 L1308.0,731.0 L1314.0,725.0 M240.0,1159.0 L246.0,1159.0 L252.0,1159.2 L258.0,1159.4 L264.0,1159.8 L270.0,1160.4 L276.0,1161.0 L282.0,1161.9 L288.0,1162.8 L294.0,1163.8 L300.0,1164.7 L306.0,1165.7 L312.0,1166.7 L318.0,1167.6 L324.0,1168.7 L330.0,1169.9 L336.0,1171.1 L342.0,1172.5 L348.0,1173.9 L354.0,1175.3 L360.0,1176.9 L366.0,1178.4 L372.0,1179.9 L378.0,1181.4 L384.0,1183.0 L390.0,1184.5 L396.0,1186.0 L402.0,1187.5 L408.0,1189.0 L414.0,1190.5 L420.0,1192.0 L426.0,1193.5 L432.0,1195.0 L438.0,1196.4 L444.0,1197.7 L450.0,1199.1 L456.0,1200.4 L462.0,1201.6 L468.0,1202.8 L474.0,1204.0 L480.0,1205.2 L486.0,1206.3 L492.0,1207.4 L498.0,1208.4 L504.0,1209.4 L510.0,1210.3 L516.0,1211.1 L522.0,1211.9 L528.0,1212.6 L534.0,1213.4 L540.0,1214.1 L546.0,1214.8 L552.0,1215.4 L558.0,1216.0 L564.0,1216.6 L570.0,1217.1 L576.0,1217.5 L582.0,1218.0 L588.0,1218.4 L594.0,1218.8 L600.0,1219.2 L606.0,1219.6 L612.0,1220.0 L618.0,1220.4 L624.0,1220.7 L630.0,1221.0 L636.0,1221.3 L642.0,1221.6 L648.0,1221.9 L654.0,1222.3 L660.0,1222.6 L666.0,1223.0 L672.0,1223.3 L678.0,1223.7 L684.0,1224.0 L690.0,1224.4 L696.0,1224.7 L702.0,1225.0 L708.0,1225.4 L714.0,1225.7 L720.0,1226.0 L726.0,1226.2 L732.0,1226.3 L738.0,1226.4 L744.0,1226.3 L750.0,1226.0 L756.0,1225.7 L762.0,1225.1 L768.0,1224.2 L774.0,1223.0 L780.0,1221.5 L786.0,1219.7 L792.0,1217.7 L798.0,1215.2 L804.0,1212.3 L810.0,1209.1 L816.0,1205.7 L822.0,1202.1 L828.0,1198.3 L834.0,1194.1 L840.0,1189.8 L846.0,1185.4 L852.0,1180.9 L858.0,1176.3 L864.0,1171.6 L870.0,1166.6 L876.0,1161.4 L882.0,1156.1 L888.0,1150.5 L894.0,1144.9 L900.0,1139.1 L906.0,1133.5 L912.0,1128.2 L918.0,1123.2 L924.0,1118.4 L930.0,1113.8 L936.0,1109.5 L942.0,1105.2 L948.0,1100.8 L954.0,1096.3 L960.0,1092.0 L966.0,1088.0 L972.0,1084.2 L978.0,1080.7 L984.0,1077.6 L990.0,1074.9 L996.0,1072.5 L1002.0,1070.1 L1008.0,1067.7 L1014.0,1065.3 L1020.0,1062.9 L1026.0,1060.6 L1032.0,1058.2 L1038.0,1055.7 L1044.0,1053.3 L1050.0,1050.9 L1056.0,1048.5 L1062.0,1046.0 L1068.0,1043.6 L1074.0,1041.1 L1080.0,1038.7 L1086.0,1036.3 L1092.0,1033.9 L1098.0,1031.5 L1104.0,1029.1 L1110.0,1026.8 L1116.0,1024.4 L1122.0,1022.1 L1128.0,1019.6 L1134.0,1017.1 L1140.0,1014.5 L1146.0,1011.8 L1152.0,1009.0 L1158.0,1006.2 L1164.0,1003.2 L1170.0,1000.3 L1176.0,997.3 L1182.0,994.3 L1188.0,991.2 L1194.0,988.0 L1200.0,984.7 L1206.0,981.5 L1212.0,978.1 L1218.0,974.3 L1224.0,970.1 L1230.0,965.5 L1236.0,959.8 L1242.0,951.5 L1248.0,930.9 L1254.0,909.1 L1260.0,886.4 L1266.0,862.9 L1272.0,838.6 L1278.0,814.1 L1284.0,791.0 L1290.0,779.0 L1296.0,767.0 L1302.0,761.0 L1308.0,755.0 L1314.0,749.0" fill="none" stroke="#dccec4" stroke-width="10.8" opacity="0.35" transform="translate(0,-5.3)"/></g>
<g filter="url(#bl10)"><path d="M240.0,895.0 L246.0,895.0 L252.0,895.2 L258.0,895.4 L264.0,895.8 L270.0,896.4 L276.0,897.0 L282.0,897.9 L288.0,898.8 L294.0,899.8 L300.0,900.7 L306.0,901.7 L312.0,902.7 L318.0,903.6 L324.0,904.7 L330.0,905.9 L336.0,907.1 L342.0,908.5 L348.0,909.9 L354.0,911.3 L360.0,912.9 L366.0,914.4 L372.0,915.9 L378.0,917.4 L384.0,919.0 L390.0,920.5 L396.0,922.0 L402.0,923.5 L408.0,925.0 L414.0,926.5 L420.0,928.0 L426.0,929.5 L432.0,931.0 L438.0,932.4 L444.0,933.7 L450.0,935.1 L456.0,936.4 L462.0,937.6 L468.0,938.8 L474.0,940.0 L480.0,941.2 L486.0,942.3 L492.0,943.4 L498.0,944.4 L504.0,945.4 L510.0,946.3 L516.0,947.1 L522.0,947.9 L528.0,948.6 L534.0,949.4 L540.0,950.1 L546.0,950.8 L552.0,951.4 L558.0,952.0 L564.0,952.6 L570.0,953.1 L576.0,953.5 L582.0,954.0 L588.0,954.4 L594.0,954.8 L600.0,955.2 L606.0,955.6 L612.0,956.0 L618.0,956.4 L624.0,956.7 L630.0,957.0 L636.0,957.3 L642.0,957.6 L648.0,957.9 L654.0,958.3 L660.0,958.6 L666.0,959.0 L672.0,959.3 L678.0,959.7 L684.0,960.0 L690.0,960.4 L696.0,960.7 L702.0,961.0 L708.0,961.4 L714.0,961.7 L720.0,962.0 L726.0,962.2 L732.0,962.3 L738.0,962.4 L744.0,962.3 L750.0,962.0 L756.0,961.7 L762.0,961.1 L768.0,960.2 L774.0,959.0 L780.0,957.5 L786.0,955.7 L792.0,953.7 L798.0,951.2 L804.0,948.3 L810.0,945.1 L816.0,941.7 L822.0,938.1 L828.0,934.3 L834.0,930.1 L840.0,925.8 L846.0,921.4 L852.0,916.9 L858.0,912.3 L864.0,907.6 L870.0,902.6 L876.0,897.4 L882.0,892.1 L888.0,886.5 L894.0,880.9 L900.0,875.1 L906.0,869.5 L912.0,864.2 L918.0,859.2 L924.0,854.4 L930.0,849.8 L936.0,845.5 L942.0,841.2 L948.0,836.8 L954.0,832.3 L960.0,828.0 L966.0,824.0 L972.0,820.2 L978.0,816.7 L984.0,813.6 L990.0,810.9 L996.0,808.5 L1002.0,806.1 L1008.0,803.7 L1014.0,801.3 L1020.0,798.9 L1026.0,796.6 L1032.0,794.2 L1038.0,791.7 L1044.0,789.3 L1050.0,786.9 L1056.0,784.5 L1062.0,782.0 L1068.0,779.6 L1074.0,777.1 L1080.0,774.7 L1086.0,772.3 L1092.0,769.9 L1098.0,767.5 L1104.0,765.1 L1110.0,762.8 L1116.0,760.4 L1122.0,758.1 L1128.0,755.6 L1134.0,753.1 L1140.0,750.5 L1146.0,747.8 L1152.0,745.0 L1158.0,742.2 L1164.0,739.2 L1170.0,736.3 L1176.0,733.3 L1182.0,730.3 L1188.0,727.2 L1194.0,724.0 L1200.0,720.7 L1206.0,717.5 L1212.0,714.1 L1218.0,710.3 L1224.0,706.1 L1230.0,701.5 L1236.0,695.8 L1242.0,687.5 L1248.0,666.9 L1254.0,645.1 L1260.0,622.4 L1266.0,598.9 L1272.0,574.6 L1278.0,550.1 L1284.0,527.0 L1290.0,515.0 L1296.0,503.0 L1302.0,497.0 L1308.0,491.0 L1314.0,485.0 M240.0,919.0 L246.0,919.0 L252.0,919.2 L258.0,919.4 L264.0,919.8 L270.0,920.4 L276.0,921.0 L282.0,921.9 L288.0,922.8 L294.0,923.8 L300.0,924.7 L306.0,925.7 L312.0,926.7 L318.0,927.6 L324.0,928.7 L330.0,929.9 L336.0,931.1 L342.0,932.5 L348.0,933.9 L354.0,935.3 L360.0,936.9 L366.0,938.4 L372.0,939.9 L378.0,941.4 L384.0,943.0 L390.0,944.5 L396.0,946.0 L402.0,947.5 L408.0,949.0 L414.0,950.5 L420.0,952.0 L426.0,953.5 L432.0,955.0 L438.0,956.4 L444.0,957.7 L450.0,959.1 L456.0,960.4 L462.0,961.6 L468.0,962.8 L474.0,964.0 L480.0,965.2 L486.0,966.3 L492.0,967.4 L498.0,968.4 L504.0,969.4 L510.0,970.3 L516.0,971.1 L522.0,971.9 L528.0,972.6 L534.0,973.4 L540.0,974.1 L546.0,974.8 L552.0,975.4 L558.0,976.0 L564.0,976.6 L570.0,977.1 L576.0,977.5 L582.0,978.0 L588.0,978.4 L594.0,978.8 L600.0,979.2 L606.0,979.6 L612.0,980.0 L618.0,980.4 L624.0,980.7 L630.0,981.0 L636.0,981.3 L642.0,981.6 L648.0,981.9 L654.0,982.3 L660.0,982.6 L666.0,983.0 L672.0,983.3 L678.0,983.7 L684.0,984.0 L690.0,984.4 L696.0,984.7 L702.0,985.0 L708.0,985.4 L714.0,985.7 L720.0,986.0 L726.0,986.2 L732.0,986.3 L738.0,986.4 L744.0,986.3 L750.0,986.0 L756.0,985.7 L762.0,985.1 L768.0,984.2 L774.0,983.0 L780.0,981.5 L786.0,979.7 L792.0,977.7 L798.0,975.2 L804.0,972.3 L810.0,969.1 L816.0,965.7 L822.0,962.1 L828.0,958.3 L834.0,954.1 L840.0,949.8 L846.0,945.4 L852.0,940.9 L858.0,936.3 L864.0,931.6 L870.0,926.6 L876.0,921.4 L882.0,916.1 L888.0,910.5 L894.0,904.9 L900.0,899.1 L906.0,893.5 L912.0,888.2 L918.0,883.2 L924.0,878.4 L930.0,873.8 L936.0,869.5 L942.0,865.2 L948.0,860.8 L954.0,856.3 L960.0,852.0 L966.0,848.0 L972.0,844.2 L978.0,840.7 L984.0,837.6 L990.0,834.9 L996.0,832.5 L1002.0,830.1 L1008.0,827.7 L1014.0,825.3 L1020.0,822.9 L1026.0,820.6 L1032.0,818.2 L1038.0,815.7 L1044.0,813.3 L1050.0,810.9 L1056.0,808.5 L1062.0,806.0 L1068.0,803.6 L1074.0,801.1 L1080.0,798.7 L1086.0,796.3 L1092.0,793.9 L1098.0,791.5 L1104.0,789.1 L1110.0,786.8 L1116.0,784.4 L1122.0,782.1 L1128.0,779.6 L1134.0,777.1 L1140.0,774.5 L1146.0,771.8 L1152.0,769.0 L1158.0,766.2 L1164.0,763.2 L1170.0,760.3 L1176.0,757.3 L1182.0,754.3 L1188.0,751.2 L1194.0,748.0 L1200.0,744.7 L1206.0,741.5 L1212.0,738.1 L1218.0,734.3 L1224.0,730.1 L1230.0,725.5 L1236.0,719.8 L1242.0,711.5 L1248.0,690.9 L1254.0,669.1 L1260.0,646.4 L1266.0,622.9 L1272.0,598.6 L1278.0,574.1 L1284.0,551.0 L1290.0,539.0 L1296.0,527.0 L1302.0,521.0 L1308.0,515.0 L1314.0,509.0 M240.0,943.0 L246.0,943.0 L252.0,943.2 L258.0,943.4 L264.0,943.8 L270.0,944.4 L276.0,945.0 L282.0,945.9 L288.0,946.8 L294.0,947.8 L300.0,948.7 L306.0,949.7 L312.0,950.7 L318.0,951.6 L324.0,952.7 L330.0,953.9 L336.0,955.1 L342.0,956.5 L348.0,957.9 L354.0,959.3 L360.0,960.9 L366.0,962.4 L372.0,963.9 L378.0,965.4 L384.0,967.0 L390.0,968.5 L396.0,970.0 L402.0,971.5 L408.0,973.0 L414.0,974.5 L420.0,976.0 L426.0,977.5 L432.0,979.0 L438.0,980.4 L444.0,981.7 L450.0,983.1 L456.0,984.4 L462.0,985.6 L468.0,986.8 L474.0,988.0 L480.0,989.2 L486.0,990.3 L492.0,991.4 L498.0,992.4 L504.0,993.4 L510.0,994.3 L516.0,995.1 L522.0,995.9 L528.0,996.6 L534.0,997.4 L540.0,998.1 L546.0,998.8 L552.0,999.4 L558.0,1000.0 L564.0,1000.6 L570.0,1001.1 L576.0,1001.5 L582.0,1002.0 L588.0,1002.4 L594.0,1002.8 L600.0,1003.2 L606.0,1003.6 L612.0,1004.0 L618.0,1004.4 L624.0,1004.7 L630.0,1005.0 L636.0,1005.3 L642.0,1005.6 L648.0,1005.9 L654.0,1006.3 L660.0,1006.6 L666.0,1007.0 L672.0,1007.3 L678.0,1007.7 L684.0,1008.0 L690.0,1008.4 L696.0,1008.7 L702.0,1009.0 L708.0,1009.4 L714.0,1009.7 L720.0,1010.0 L726.0,1010.2 L732.0,1010.3 L738.0,1010.4 L744.0,1010.3 L750.0,1010.0 L756.0,1009.7 L762.0,1009.1 L768.0,1008.2 L774.0,1007.0 L780.0,1005.5 L786.0,1003.7 L792.0,1001.7 L798.0,999.2 L804.0,996.3 L810.0,993.1 L816.0,989.7 L822.0,986.1 L828.0,982.3 L834.0,978.1 L840.0,973.8 L846.0,969.4 L852.0,964.9 L858.0,960.3 L864.0,955.6 L870.0,950.6 L876.0,945.4 L882.0,940.1 L888.0,934.5 L894.0,928.9 L900.0,923.1 L906.0,917.5 L912.0,912.2 L918.0,907.2 L924.0,902.4 L930.0,897.8 L936.0,893.5 L942.0,889.2 L948.0,884.8 L954.0,880.3 L960.0,876.0 L966.0,872.0 L972.0,868.2 L978.0,864.7 L984.0,861.6 L990.0,858.9 L996.0,856.5 L1002.0,854.1 L1008.0,851.7 L1014.0,849.3 L1020.0,846.9 L1026.0,844.6 L1032.0,842.2 L1038.0,839.7 L1044.0,837.3 L1050.0,834.9 L1056.0,832.5 L1062.0,830.0 L1068.0,827.6 L1074.0,825.1 L1080.0,822.7 L1086.0,820.3 L1092.0,817.9 L1098.0,815.5 L1104.0,813.1 L1110.0,810.8 L1116.0,808.4 L1122.0,806.1 L1128.0,803.6 L1134.0,801.1 L1140.0,798.5 L1146.0,795.8 L1152.0,793.0 L1158.0,790.2 L1164.0,787.2 L1170.0,784.3 L1176.0,781.3 L1182.0,778.3 L1188.0,775.2 L1194.0,772.0 L1200.0,768.7 L1206.0,765.5 L1212.0,762.1 L1218.0,758.3 L1224.0,754.1 L1230.0,749.5 L1236.0,743.8 L1242.0,735.5 L1248.0,714.9 L1254.0,693.1 L1260.0,670.4 L1266.0,646.9 L1272.0,622.6 L1278.0,598.1 L1284.0,575.0 L1290.0,563.0 L1296.0,551.0 L1302.0,545.0 L1308.0,539.0 L1314.0,533.0 M240.0,967.0 L246.0,967.0 L252.0,967.2 L258.0,967.4 L264.0,967.8 L270.0,968.4 L276.0,969.0 L282.0,969.9 L288.0,970.8 L294.0,971.8 L300.0,972.7 L306.0,973.7 L312.0,974.7 L318.0,975.6 L324.0,976.7 L330.0,977.9 L336.0,979.1 L342.0,980.5 L348.0,981.9 L354.0,983.3 L360.0,984.9 L366.0,986.4 L372.0,987.9 L378.0,989.4 L384.0,991.0 L390.0,992.5 L396.0,994.0 L402.0,995.5 L408.0,997.0 L414.0,998.5 L420.0,1000.0 L426.0,1001.5 L432.0,1003.0 L438.0,1004.4 L444.0,1005.7 L450.0,1007.1 L456.0,1008.4 L462.0,1009.6 L468.0,1010.8 L474.0,1012.0 L480.0,1013.2 L486.0,1014.3 L492.0,1015.4 L498.0,1016.4 L504.0,1017.4 L510.0,1018.3 L516.0,1019.1 L522.0,1019.9 L528.0,1020.6 L534.0,1021.4 L540.0,1022.1 L546.0,1022.8 L552.0,1023.4 L558.0,1024.0 L564.0,1024.6 L570.0,1025.1 L576.0,1025.5 L582.0,1026.0 L588.0,1026.4 L594.0,1026.8 L600.0,1027.2 L606.0,1027.6 L612.0,1028.0 L618.0,1028.4 L624.0,1028.7 L630.0,1029.0 L636.0,1029.3 L642.0,1029.6 L648.0,1029.9 L654.0,1030.3 L660.0,1030.6 L666.0,1031.0 L672.0,1031.3 L678.0,1031.7 L684.0,1032.0 L690.0,1032.4 L696.0,1032.7 L702.0,1033.0 L708.0,1033.4 L714.0,1033.7 L720.0,1034.0 L726.0,1034.2 L732.0,1034.3 L738.0,1034.4 L744.0,1034.3 L750.0,1034.0 L756.0,1033.7 L762.0,1033.1 L768.0,1032.2 L774.0,1031.0 L780.0,1029.5 L786.0,1027.7 L792.0,1025.7 L798.0,1023.2 L804.0,1020.3 L810.0,1017.1 L816.0,1013.7 L822.0,1010.1 L828.0,1006.3 L834.0,1002.1 L840.0,997.8 L846.0,993.4 L852.0,988.9 L858.0,984.3 L864.0,979.6 L870.0,974.6 L876.0,969.4 L882.0,964.1 L888.0,958.5 L894.0,952.9 L900.0,947.1 L906.0,941.5 L912.0,936.2 L918.0,931.2 L924.0,926.4 L930.0,921.8 L936.0,917.5 L942.0,913.2 L948.0,908.8 L954.0,904.3 L960.0,900.0 L966.0,896.0 L972.0,892.2 L978.0,888.7 L984.0,885.6 L990.0,882.9 L996.0,880.5 L1002.0,878.1 L1008.0,875.7 L1014.0,873.3 L1020.0,870.9 L1026.0,868.6 L1032.0,866.2 L1038.0,863.7 L1044.0,861.3 L1050.0,858.9 L1056.0,856.5 L1062.0,854.0 L1068.0,851.6 L1074.0,849.1 L1080.0,846.7 L1086.0,844.3 L1092.0,841.9 L1098.0,839.5 L1104.0,837.1 L1110.0,834.8 L1116.0,832.4 L1122.0,830.1 L1128.0,827.6 L1134.0,825.1 L1140.0,822.5 L1146.0,819.8 L1152.0,817.0 L1158.0,814.2 L1164.0,811.2 L1170.0,808.3 L1176.0,805.3 L1182.0,802.3 L1188.0,799.2 L1194.0,796.0 L1200.0,792.7 L1206.0,789.5 L1212.0,786.1 L1218.0,782.3 L1224.0,778.1 L1230.0,773.5 L1236.0,767.8 L1242.0,759.5 L1248.0,738.9 L1254.0,717.1 L1260.0,694.4 L1266.0,670.9 L1272.0,646.6 L1278.0,622.1 L1284.0,599.0 L1290.0,587.0 L1296.0,575.0 L1302.0,569.0 L1308.0,563.0 L1314.0,557.0 M240.0,991.0 L246.0,991.0 L252.0,991.2 L258.0,991.4 L264.0,991.8 L270.0,992.4 L276.0,993.0 L282.0,993.9 L288.0,994.8 L294.0,995.8 L300.0,996.7 L306.0,997.7 L312.0,998.7 L318.0,999.6 L324.0,1000.7 L330.0,1001.9 L336.0,1003.1 L342.0,1004.5 L348.0,1005.9 L354.0,1007.3 L360.0,1008.9 L366.0,1010.4 L372.0,1011.9 L378.0,1013.4 L384.0,1015.0 L390.0,1016.5 L396.0,1018.0 L402.0,1019.5 L408.0,1021.0 L414.0,1022.5 L420.0,1024.0 L426.0,1025.5 L432.0,1027.0 L438.0,1028.4 L444.0,1029.7 L450.0,1031.1 L456.0,1032.4 L462.0,1033.6 L468.0,1034.8 L474.0,1036.0 L480.0,1037.2 L486.0,1038.3 L492.0,1039.4 L498.0,1040.4 L504.0,1041.4 L510.0,1042.3 L516.0,1043.1 L522.0,1043.9 L528.0,1044.6 L534.0,1045.4 L540.0,1046.1 L546.0,1046.8 L552.0,1047.4 L558.0,1048.0 L564.0,1048.6 L570.0,1049.1 L576.0,1049.5 L582.0,1050.0 L588.0,1050.4 L594.0,1050.8 L600.0,1051.2 L606.0,1051.6 L612.0,1052.0 L618.0,1052.4 L624.0,1052.7 L630.0,1053.0 L636.0,1053.3 L642.0,1053.6 L648.0,1053.9 L654.0,1054.3 L660.0,1054.6 L666.0,1055.0 L672.0,1055.3 L678.0,1055.7 L684.0,1056.0 L690.0,1056.4 L696.0,1056.7 L702.0,1057.0 L708.0,1057.4 L714.0,1057.7 L720.0,1058.0 L726.0,1058.2 L732.0,1058.3 L738.0,1058.4 L744.0,1058.3 L750.0,1058.0 L756.0,1057.7 L762.0,1057.1 L768.0,1056.2 L774.0,1055.0 L780.0,1053.5 L786.0,1051.7 L792.0,1049.7 L798.0,1047.2 L804.0,1044.3 L810.0,1041.1 L816.0,1037.7 L822.0,1034.1 L828.0,1030.3 L834.0,1026.1 L840.0,1021.8 L846.0,1017.4 L852.0,1012.9 L858.0,1008.3 L864.0,1003.6 L870.0,998.6 L876.0,993.4 L882.0,988.1 L888.0,982.5 L894.0,976.9 L900.0,971.1 L906.0,965.5 L912.0,960.2 L918.0,955.2 L924.0,950.4 L930.0,945.8 L936.0,941.5 L942.0,937.2 L948.0,932.8 L954.0,928.3 L960.0,924.0 L966.0,920.0 L972.0,916.2 L978.0,912.7 L984.0,909.6 L990.0,906.9 L996.0,904.5 L1002.0,902.1 L1008.0,899.7 L1014.0,897.3 L1020.0,894.9 L1026.0,892.6 L1032.0,890.2 L1038.0,887.7 L1044.0,885.3 L1050.0,882.9 L1056.0,880.5 L1062.0,878.0 L1068.0,875.6 L1074.0,873.1 L1080.0,870.7 L1086.0,868.3 L1092.0,865.9 L1098.0,863.5 L1104.0,861.1 L1110.0,858.8 L1116.0,856.4 L1122.0,854.1 L1128.0,851.6 L1134.0,849.1 L1140.0,846.5 L1146.0,843.8 L1152.0,841.0 L1158.0,838.2 L1164.0,835.2 L1170.0,832.3 L1176.0,829.3 L1182.0,826.3 L1188.0,823.2 L1194.0,820.0 L1200.0,816.7 L1206.0,813.5 L1212.0,810.1 L1218.0,806.3 L1224.0,802.1 L1230.0,797.5 L1236.0,791.8 L1242.0,783.5 L1248.0,762.9 L1254.0,741.1 L1260.0,718.4 L1266.0,694.9 L1272.0,670.6 L1278.0,646.1 L1284.0,623.0 L1290.0,611.0 L1296.0,599.0 L1302.0,593.0 L1308.0,587.0 L1314.0,581.0 M240.0,1015.0 L246.0,1015.0 L252.0,1015.2 L258.0,1015.4 L264.0,1015.8 L270.0,1016.4 L276.0,1017.0 L282.0,1017.9 L288.0,1018.8 L294.0,1019.8 L300.0,1020.7 L306.0,1021.7 L312.0,1022.7 L318.0,1023.6 L324.0,1024.7 L330.0,1025.9 L336.0,1027.1 L342.0,1028.5 L348.0,1029.9 L354.0,1031.3 L360.0,1032.9 L366.0,1034.4 L372.0,1035.9 L378.0,1037.4 L384.0,1039.0 L390.0,1040.5 L396.0,1042.0 L402.0,1043.5 L408.0,1045.0 L414.0,1046.5 L420.0,1048.0 L426.0,1049.5 L432.0,1051.0 L438.0,1052.4 L444.0,1053.7 L450.0,1055.1 L456.0,1056.4 L462.0,1057.6 L468.0,1058.8 L474.0,1060.0 L480.0,1061.2 L486.0,1062.3 L492.0,1063.4 L498.0,1064.4 L504.0,1065.4 L510.0,1066.3 L516.0,1067.1 L522.0,1067.9 L528.0,1068.6 L534.0,1069.4 L540.0,1070.1 L546.0,1070.8 L552.0,1071.4 L558.0,1072.0 L564.0,1072.6 L570.0,1073.1 L576.0,1073.5 L582.0,1074.0 L588.0,1074.4 L594.0,1074.8 L600.0,1075.2 L606.0,1075.6 L612.0,1076.0 L618.0,1076.4 L624.0,1076.7 L630.0,1077.0 L636.0,1077.3 L642.0,1077.6 L648.0,1077.9 L654.0,1078.3 L660.0,1078.6 L666.0,1079.0 L672.0,1079.3 L678.0,1079.7 L684.0,1080.0 L690.0,1080.4 L696.0,1080.7 L702.0,1081.0 L708.0,1081.4 L714.0,1081.7 L720.0,1082.0 L726.0,1082.2 L732.0,1082.3 L738.0,1082.4 L744.0,1082.3 L750.0,1082.0 L756.0,1081.7 L762.0,1081.1 L768.0,1080.2 L774.0,1079.0 L780.0,1077.5 L786.0,1075.7 L792.0,1073.7 L798.0,1071.2 L804.0,1068.3 L810.0,1065.1 L816.0,1061.7 L822.0,1058.1 L828.0,1054.3 L834.0,1050.1 L840.0,1045.8 L846.0,1041.4 L852.0,1036.9 L858.0,1032.3 L864.0,1027.6 L870.0,1022.6 L876.0,1017.4 L882.0,1012.1 L888.0,1006.5 L894.0,1000.9 L900.0,995.1 L906.0,989.5 L912.0,984.2 L918.0,979.2 L924.0,974.4 L930.0,969.8 L936.0,965.5 L942.0,961.2 L948.0,956.8 L954.0,952.3 L960.0,948.0 L966.0,944.0 L972.0,940.2 L978.0,936.7 L984.0,933.6 L990.0,930.9 L996.0,928.5 L1002.0,926.1 L1008.0,923.7 L1014.0,921.3 L1020.0,918.9 L1026.0,916.6 L1032.0,914.2 L1038.0,911.7 L1044.0,909.3 L1050.0,906.9 L1056.0,904.5 L1062.0,902.0 L1068.0,899.6 L1074.0,897.1 L1080.0,894.7 L1086.0,892.3 L1092.0,889.9 L1098.0,887.5 L1104.0,885.1 L1110.0,882.8 L1116.0,880.4 L1122.0,878.1 L1128.0,875.6 L1134.0,873.1 L1140.0,870.5 L1146.0,867.8 L1152.0,865.0 L1158.0,862.2 L1164.0,859.2 L1170.0,856.3 L1176.0,853.3 L1182.0,850.3 L1188.0,847.2 L1194.0,844.0 L1200.0,840.7 L1206.0,837.5 L1212.0,834.1 L1218.0,830.3 L1224.0,826.1 L1230.0,821.5 L1236.0,815.8 L1242.0,807.5 L1248.0,786.9 L1254.0,765.1 L1260.0,742.4 L1266.0,718.9 L1272.0,694.6 L1278.0,670.1 L1284.0,647.0 L1290.0,635.0 L1296.0,623.0 L1302.0,617.0 L1308.0,611.0 L1314.0,605.0 M240.0,1039.0 L246.0,1039.0 L252.0,1039.2 L258.0,1039.4 L264.0,1039.8 L270.0,1040.4 L276.0,1041.0 L282.0,1041.9 L288.0,1042.8 L294.0,1043.8 L300.0,1044.7 L306.0,1045.7 L312.0,1046.7 L318.0,1047.6 L324.0,1048.7 L330.0,1049.9 L336.0,1051.1 L342.0,1052.5 L348.0,1053.9 L354.0,1055.3 L360.0,1056.9 L366.0,1058.4 L372.0,1059.9 L378.0,1061.4 L384.0,1063.0 L390.0,1064.5 L396.0,1066.0 L402.0,1067.5 L408.0,1069.0 L414.0,1070.5 L420.0,1072.0 L426.0,1073.5 L432.0,1075.0 L438.0,1076.4 L444.0,1077.7 L450.0,1079.1 L456.0,1080.4 L462.0,1081.6 L468.0,1082.8 L474.0,1084.0 L480.0,1085.2 L486.0,1086.3 L492.0,1087.4 L498.0,1088.4 L504.0,1089.4 L510.0,1090.3 L516.0,1091.1 L522.0,1091.9 L528.0,1092.6 L534.0,1093.4 L540.0,1094.1 L546.0,1094.8 L552.0,1095.4 L558.0,1096.0 L564.0,1096.6 L570.0,1097.1 L576.0,1097.5 L582.0,1098.0 L588.0,1098.4 L594.0,1098.8 L600.0,1099.2 L606.0,1099.6 L612.0,1100.0 L618.0,1100.4 L624.0,1100.7 L630.0,1101.0 L636.0,1101.3 L642.0,1101.6 L648.0,1101.9 L654.0,1102.3 L660.0,1102.6 L666.0,1103.0 L672.0,1103.3 L678.0,1103.7 L684.0,1104.0 L690.0,1104.4 L696.0,1104.7 L702.0,1105.0 L708.0,1105.4 L714.0,1105.7 L720.0,1106.0 L726.0,1106.2 L732.0,1106.3 L738.0,1106.4 L744.0,1106.3 L750.0,1106.0 L756.0,1105.7 L762.0,1105.1 L768.0,1104.2 L774.0,1103.0 L780.0,1101.5 L786.0,1099.7 L792.0,1097.7 L798.0,1095.2 L804.0,1092.3 L810.0,1089.1 L816.0,1085.7 L822.0,1082.1 L828.0,1078.3 L834.0,1074.1 L840.0,1069.8 L846.0,1065.4 L852.0,1060.9 L858.0,1056.3 L864.0,1051.6 L870.0,1046.6 L876.0,1041.4 L882.0,1036.1 L888.0,1030.5 L894.0,1024.9 L900.0,1019.1 L906.0,1013.5 L912.0,1008.2 L918.0,1003.2 L924.0,998.4 L930.0,993.8 L936.0,989.5 L942.0,985.2 L948.0,980.8 L954.0,976.3 L960.0,972.0 L966.0,968.0 L972.0,964.2 L978.0,960.7 L984.0,957.6 L990.0,954.9 L996.0,952.5 L1002.0,950.1 L1008.0,947.7 L1014.0,945.3 L1020.0,942.9 L1026.0,940.6 L1032.0,938.2 L1038.0,935.7 L1044.0,933.3 L1050.0,930.9 L1056.0,928.5 L1062.0,926.0 L1068.0,923.6 L1074.0,921.1 L1080.0,918.7 L1086.0,916.3 L1092.0,913.9 L1098.0,911.5 L1104.0,909.1 L1110.0,906.8 L1116.0,904.4 L1122.0,902.1 L1128.0,899.6 L1134.0,897.1 L1140.0,894.5 L1146.0,891.8 L1152.0,889.0 L1158.0,886.2 L1164.0,883.2 L1170.0,880.3 L1176.0,877.3 L1182.0,874.3 L1188.0,871.2 L1194.0,868.0 L1200.0,864.7 L1206.0,861.5 L1212.0,858.1 L1218.0,854.3 L1224.0,850.1 L1230.0,845.5 L1236.0,839.8 L1242.0,831.5 L1248.0,810.9 L1254.0,789.1 L1260.0,766.4 L1266.0,742.9 L1272.0,718.6 L1278.0,694.1 L1284.0,671.0 L1290.0,659.0 L1296.0,647.0 L1302.0,641.0 L1308.0,635.0 L1314.0,629.0 M240.0,1063.0 L246.0,1063.0 L252.0,1063.2 L258.0,1063.4 L264.0,1063.8 L270.0,1064.4 L276.0,1065.0 L282.0,1065.9 L288.0,1066.8 L294.0,1067.8 L300.0,1068.7 L306.0,1069.7 L312.0,1070.7 L318.0,1071.6 L324.0,1072.7 L330.0,1073.9 L336.0,1075.1 L342.0,1076.5 L348.0,1077.9 L354.0,1079.3 L360.0,1080.9 L366.0,1082.4 L372.0,1083.9 L378.0,1085.4 L384.0,1087.0 L390.0,1088.5 L396.0,1090.0 L402.0,1091.5 L408.0,1093.0 L414.0,1094.5 L420.0,1096.0 L426.0,1097.5 L432.0,1099.0 L438.0,1100.4 L444.0,1101.7 L450.0,1103.1 L456.0,1104.4 L462.0,1105.6 L468.0,1106.8 L474.0,1108.0 L480.0,1109.2 L486.0,1110.3 L492.0,1111.4 L498.0,1112.4 L504.0,1113.4 L510.0,1114.3 L516.0,1115.1 L522.0,1115.9 L528.0,1116.6 L534.0,1117.4 L540.0,1118.1 L546.0,1118.8 L552.0,1119.4 L558.0,1120.0 L564.0,1120.6 L570.0,1121.1 L576.0,1121.5 L582.0,1122.0 L588.0,1122.4 L594.0,1122.8 L600.0,1123.2 L606.0,1123.6 L612.0,1124.0 L618.0,1124.4 L624.0,1124.7 L630.0,1125.0 L636.0,1125.3 L642.0,1125.6 L648.0,1125.9 L654.0,1126.3 L660.0,1126.6 L666.0,1127.0 L672.0,1127.3 L678.0,1127.7 L684.0,1128.0 L690.0,1128.4 L696.0,1128.7 L702.0,1129.0 L708.0,1129.4 L714.0,1129.7 L720.0,1130.0 L726.0,1130.2 L732.0,1130.3 L738.0,1130.4 L744.0,1130.3 L750.0,1130.0 L756.0,1129.7 L762.0,1129.1 L768.0,1128.2 L774.0,1127.0 L780.0,1125.5 L786.0,1123.7 L792.0,1121.7 L798.0,1119.2 L804.0,1116.3 L810.0,1113.1 L816.0,1109.7 L822.0,1106.1 L828.0,1102.3 L834.0,1098.1 L840.0,1093.8 L846.0,1089.4 L852.0,1084.9 L858.0,1080.3 L864.0,1075.6 L870.0,1070.6 L876.0,1065.4 L882.0,1060.1 L888.0,1054.5 L894.0,1048.9 L900.0,1043.1 L906.0,1037.5 L912.0,1032.2 L918.0,1027.2 L924.0,1022.4 L930.0,1017.8 L936.0,1013.5 L942.0,1009.2 L948.0,1004.8 L954.0,1000.3 L960.0,996.0 L966.0,992.0 L972.0,988.2 L978.0,984.7 L984.0,981.6 L990.0,978.9 L996.0,976.5 L1002.0,974.1 L1008.0,971.7 L1014.0,969.3 L1020.0,966.9 L1026.0,964.6 L1032.0,962.2 L1038.0,959.7 L1044.0,957.3 L1050.0,954.9 L1056.0,952.5 L1062.0,950.0 L1068.0,947.6 L1074.0,945.1 L1080.0,942.7 L1086.0,940.3 L1092.0,937.9 L1098.0,935.5 L1104.0,933.1 L1110.0,930.8 L1116.0,928.4 L1122.0,926.1 L1128.0,923.6 L1134.0,921.1 L1140.0,918.5 L1146.0,915.8 L1152.0,913.0 L1158.0,910.2 L1164.0,907.2 L1170.0,904.3 L1176.0,901.3 L1182.0,898.3 L1188.0,895.2 L1194.0,892.0 L1200.0,888.7 L1206.0,885.5 L1212.0,882.1 L1218.0,878.3 L1224.0,874.1 L1230.0,869.5 L1236.0,863.8 L1242.0,855.5 L1248.0,834.9 L1254.0,813.1 L1260.0,790.4 L1266.0,766.9 L1272.0,742.6 L1278.0,718.1 L1284.0,695.0 L1290.0,683.0 L1296.0,671.0 L1302.0,665.0 L1308.0,659.0 L1314.0,653.0 M240.0,1087.0 L246.0,1087.0 L252.0,1087.2 L258.0,1087.4 L264.0,1087.8 L270.0,1088.4 L276.0,1089.0 L282.0,1089.9 L288.0,1090.8 L294.0,1091.8 L300.0,1092.7 L306.0,1093.7 L312.0,1094.7 L318.0,1095.6 L324.0,1096.7 L330.0,1097.9 L336.0,1099.1 L342.0,1100.5 L348.0,1101.9 L354.0,1103.3 L360.0,1104.9 L366.0,1106.4 L372.0,1107.9 L378.0,1109.4 L384.0,1111.0 L390.0,1112.5 L396.0,1114.0 L402.0,1115.5 L408.0,1117.0 L414.0,1118.5 L420.0,1120.0 L426.0,1121.5 L432.0,1123.0 L438.0,1124.4 L444.0,1125.7 L450.0,1127.1 L456.0,1128.4 L462.0,1129.6 L468.0,1130.8 L474.0,1132.0 L480.0,1133.2 L486.0,1134.3 L492.0,1135.4 L498.0,1136.4 L504.0,1137.4 L510.0,1138.3 L516.0,1139.1 L522.0,1139.9 L528.0,1140.6 L534.0,1141.4 L540.0,1142.1 L546.0,1142.8 L552.0,1143.4 L558.0,1144.0 L564.0,1144.6 L570.0,1145.1 L576.0,1145.5 L582.0,1146.0 L588.0,1146.4 L594.0,1146.8 L600.0,1147.2 L606.0,1147.6 L612.0,1148.0 L618.0,1148.4 L624.0,1148.7 L630.0,1149.0 L636.0,1149.3 L642.0,1149.6 L648.0,1149.9 L654.0,1150.3 L660.0,1150.6 L666.0,1151.0 L672.0,1151.3 L678.0,1151.7 L684.0,1152.0 L690.0,1152.4 L696.0,1152.7 L702.0,1153.0 L708.0,1153.4 L714.0,1153.7 L720.0,1154.0 L726.0,1154.2 L732.0,1154.3 L738.0,1154.4 L744.0,1154.3 L750.0,1154.0 L756.0,1153.7 L762.0,1153.1 L768.0,1152.2 L774.0,1151.0 L780.0,1149.5 L786.0,1147.7 L792.0,1145.7 L798.0,1143.2 L804.0,1140.3 L810.0,1137.1 L816.0,1133.7 L822.0,1130.1 L828.0,1126.3 L834.0,1122.1 L840.0,1117.8 L846.0,1113.4 L852.0,1108.9 L858.0,1104.3 L864.0,1099.6 L870.0,1094.6 L876.0,1089.4 L882.0,1084.1 L888.0,1078.5 L894.0,1072.9 L900.0,1067.1 L906.0,1061.5 L912.0,1056.2 L918.0,1051.2 L924.0,1046.4 L930.0,1041.8 L936.0,1037.5 L942.0,1033.2 L948.0,1028.8 L954.0,1024.3 L960.0,1020.0 L966.0,1016.0 L972.0,1012.2 L978.0,1008.7 L984.0,1005.6 L990.0,1002.9 L996.0,1000.5 L1002.0,998.1 L1008.0,995.7 L1014.0,993.3 L1020.0,990.9 L1026.0,988.6 L1032.0,986.2 L1038.0,983.7 L1044.0,981.3 L1050.0,978.9 L1056.0,976.5 L1062.0,974.0 L1068.0,971.6 L1074.0,969.1 L1080.0,966.7 L1086.0,964.3 L1092.0,961.9 L1098.0,959.5 L1104.0,957.1 L1110.0,954.8 L1116.0,952.4 L1122.0,950.1 L1128.0,947.6 L1134.0,945.1 L1140.0,942.5 L1146.0,939.8 L1152.0,937.0 L1158.0,934.2 L1164.0,931.2 L1170.0,928.3 L1176.0,925.3 L1182.0,922.3 L1188.0,919.2 L1194.0,916.0 L1200.0,912.7 L1206.0,909.5 L1212.0,906.1 L1218.0,902.3 L1224.0,898.1 L1230.0,893.5 L1236.0,887.8 L1242.0,879.5 L1248.0,858.9 L1254.0,837.1 L1260.0,814.4 L1266.0,790.9 L1272.0,766.6 L1278.0,742.1 L1284.0,719.0 L1290.0,707.0 L1296.0,695.0 L1302.0,689.0 L1308.0,683.0 L1314.0,677.0 M240.0,1111.0 L246.0,1111.0 L252.0,1111.2 L258.0,1111.4 L264.0,1111.8 L270.0,1112.4 L276.0,1113.0 L282.0,1113.9 L288.0,1114.8 L294.0,1115.8 L300.0,1116.7 L306.0,1117.7 L312.0,1118.7 L318.0,1119.6 L324.0,1120.7 L330.0,1121.9 L336.0,1123.1 L342.0,1124.5 L348.0,1125.9 L354.0,1127.3 L360.0,1128.9 L366.0,1130.4 L372.0,1131.9 L378.0,1133.4 L384.0,1135.0 L390.0,1136.5 L396.0,1138.0 L402.0,1139.5 L408.0,1141.0 L414.0,1142.5 L420.0,1144.0 L426.0,1145.5 L432.0,1147.0 L438.0,1148.4 L444.0,1149.7 L450.0,1151.1 L456.0,1152.4 L462.0,1153.6 L468.0,1154.8 L474.0,1156.0 L480.0,1157.2 L486.0,1158.3 L492.0,1159.4 L498.0,1160.4 L504.0,1161.4 L510.0,1162.3 L516.0,1163.1 L522.0,1163.9 L528.0,1164.6 L534.0,1165.4 L540.0,1166.1 L546.0,1166.8 L552.0,1167.4 L558.0,1168.0 L564.0,1168.6 L570.0,1169.1 L576.0,1169.5 L582.0,1170.0 L588.0,1170.4 L594.0,1170.8 L600.0,1171.2 L606.0,1171.6 L612.0,1172.0 L618.0,1172.4 L624.0,1172.7 L630.0,1173.0 L636.0,1173.3 L642.0,1173.6 L648.0,1173.9 L654.0,1174.3 L660.0,1174.6 L666.0,1175.0 L672.0,1175.3 L678.0,1175.7 L684.0,1176.0 L690.0,1176.4 L696.0,1176.7 L702.0,1177.0 L708.0,1177.4 L714.0,1177.7 L720.0,1178.0 L726.0,1178.2 L732.0,1178.3 L738.0,1178.4 L744.0,1178.3 L750.0,1178.0 L756.0,1177.7 L762.0,1177.1 L768.0,1176.2 L774.0,1175.0 L780.0,1173.5 L786.0,1171.7 L792.0,1169.7 L798.0,1167.2 L804.0,1164.3 L810.0,1161.1 L816.0,1157.7 L822.0,1154.1 L828.0,1150.3 L834.0,1146.1 L840.0,1141.8 L846.0,1137.4 L852.0,1132.9 L858.0,1128.3 L864.0,1123.6 L870.0,1118.6 L876.0,1113.4 L882.0,1108.1 L888.0,1102.5 L894.0,1096.9 L900.0,1091.1 L906.0,1085.5 L912.0,1080.2 L918.0,1075.2 L924.0,1070.4 L930.0,1065.8 L936.0,1061.5 L942.0,1057.2 L948.0,1052.8 L954.0,1048.3 L960.0,1044.0 L966.0,1040.0 L972.0,1036.2 L978.0,1032.7 L984.0,1029.6 L990.0,1026.9 L996.0,1024.5 L1002.0,1022.1 L1008.0,1019.7 L1014.0,1017.3 L1020.0,1014.9 L1026.0,1012.6 L1032.0,1010.2 L1038.0,1007.7 L1044.0,1005.3 L1050.0,1002.9 L1056.0,1000.5 L1062.0,998.0 L1068.0,995.6 L1074.0,993.1 L1080.0,990.7 L1086.0,988.3 L1092.0,985.9 L1098.0,983.5 L1104.0,981.1 L1110.0,978.8 L1116.0,976.4 L1122.0,974.1 L1128.0,971.6 L1134.0,969.1 L1140.0,966.5 L1146.0,963.8 L1152.0,961.0 L1158.0,958.2 L1164.0,955.2 L1170.0,952.3 L1176.0,949.3 L1182.0,946.3 L1188.0,943.2 L1194.0,940.0 L1200.0,936.7 L1206.0,933.5 L1212.0,930.1 L1218.0,926.3 L1224.0,922.1 L1230.0,917.5 L1236.0,911.8 L1242.0,903.5 L1248.0,882.9 L1254.0,861.1 L1260.0,838.4 L1266.0,814.9 L1272.0,790.6 L1278.0,766.1 L1284.0,743.0 L1290.0,731.0 L1296.0,719.0 L1302.0,713.0 L1308.0,707.0 L1314.0,701.0 M240.0,1135.0 L246.0,1135.0 L252.0,1135.2 L258.0,1135.4 L264.0,1135.8 L270.0,1136.4 L276.0,1137.0 L282.0,1137.9 L288.0,1138.8 L294.0,1139.8 L300.0,1140.7 L306.0,1141.7 L312.0,1142.7 L318.0,1143.6 L324.0,1144.7 L330.0,1145.9 L336.0,1147.1 L342.0,1148.5 L348.0,1149.9 L354.0,1151.3 L360.0,1152.9 L366.0,1154.4 L372.0,1155.9 L378.0,1157.4 L384.0,1159.0 L390.0,1160.5 L396.0,1162.0 L402.0,1163.5 L408.0,1165.0 L414.0,1166.5 L420.0,1168.0 L426.0,1169.5 L432.0,1171.0 L438.0,1172.4 L444.0,1173.7 L450.0,1175.1 L456.0,1176.4 L462.0,1177.6 L468.0,1178.8 L474.0,1180.0 L480.0,1181.2 L486.0,1182.3 L492.0,1183.4 L498.0,1184.4 L504.0,1185.4 L510.0,1186.3 L516.0,1187.1 L522.0,1187.9 L528.0,1188.6 L534.0,1189.4 L540.0,1190.1 L546.0,1190.8 L552.0,1191.4 L558.0,1192.0 L564.0,1192.6 L570.0,1193.1 L576.0,1193.5 L582.0,1194.0 L588.0,1194.4 L594.0,1194.8 L600.0,1195.2 L606.0,1195.6 L612.0,1196.0 L618.0,1196.4 L624.0,1196.7 L630.0,1197.0 L636.0,1197.3 L642.0,1197.6 L648.0,1197.9 L654.0,1198.3 L660.0,1198.6 L666.0,1199.0 L672.0,1199.3 L678.0,1199.7 L684.0,1200.0 L690.0,1200.4 L696.0,1200.7 L702.0,1201.0 L708.0,1201.4 L714.0,1201.7 L720.0,1202.0 L726.0,1202.2 L732.0,1202.3 L738.0,1202.4 L744.0,1202.3 L750.0,1202.0 L756.0,1201.7 L762.0,1201.1 L768.0,1200.2 L774.0,1199.0 L780.0,1197.5 L786.0,1195.7 L792.0,1193.7 L798.0,1191.2 L804.0,1188.3 L810.0,1185.1 L816.0,1181.7 L822.0,1178.1 L828.0,1174.3 L834.0,1170.1 L840.0,1165.8 L846.0,1161.4 L852.0,1156.9 L858.0,1152.3 L864.0,1147.6 L870.0,1142.6 L876.0,1137.4 L882.0,1132.1 L888.0,1126.5 L894.0,1120.9 L900.0,1115.1 L906.0,1109.5 L912.0,1104.2 L918.0,1099.2 L924.0,1094.4 L930.0,1089.8 L936.0,1085.5 L942.0,1081.2 L948.0,1076.8 L954.0,1072.3 L960.0,1068.0 L966.0,1064.0 L972.0,1060.2 L978.0,1056.7 L984.0,1053.6 L990.0,1050.9 L996.0,1048.5 L1002.0,1046.1 L1008.0,1043.7 L1014.0,1041.3 L1020.0,1038.9 L1026.0,1036.6 L1032.0,1034.2 L1038.0,1031.7 L1044.0,1029.3 L1050.0,1026.9 L1056.0,1024.5 L1062.0,1022.0 L1068.0,1019.6 L1074.0,1017.1 L1080.0,1014.7 L1086.0,1012.3 L1092.0,1009.9 L1098.0,1007.5 L1104.0,1005.1 L1110.0,1002.8 L1116.0,1000.4 L1122.0,998.1 L1128.0,995.6 L1134.0,993.1 L1140.0,990.5 L1146.0,987.8 L1152.0,985.0 L1158.0,982.2 L1164.0,979.2 L1170.0,976.3 L1176.0,973.3 L1182.0,970.3 L1188.0,967.2 L1194.0,964.0 L1200.0,960.7 L1206.0,957.5 L1212.0,954.1 L1218.0,950.3 L1224.0,946.1 L1230.0,941.5 L1236.0,935.8 L1242.0,927.5 L1248.0,906.9 L1254.0,885.1 L1260.0,862.4 L1266.0,838.9 L1272.0,814.6 L1278.0,790.1 L1284.0,767.0 L1290.0,755.0 L1296.0,743.0 L1302.0,737.0 L1308.0,731.0 L1314.0,725.0 M240.0,1159.0 L246.0,1159.0 L252.0,1159.2 L258.0,1159.4 L264.0,1159.8 L270.0,1160.4 L276.0,1161.0 L282.0,1161.9 L288.0,1162.8 L294.0,1163.8 L300.0,1164.7 L306.0,1165.7 L312.0,1166.7 L318.0,1167.6 L324.0,1168.7 L330.0,1169.9 L336.0,1171.1 L342.0,1172.5 L348.0,1173.9 L354.0,1175.3 L360.0,1176.9 L366.0,1178.4 L372.0,1179.9 L378.0,1181.4 L384.0,1183.0 L390.0,1184.5 L396.0,1186.0 L402.0,1187.5 L408.0,1189.0 L414.0,1190.5 L420.0,1192.0 L426.0,1193.5 L432.0,1195.0 L438.0,1196.4 L444.0,1197.7 L450.0,1199.1 L456.0,1200.4 L462.0,1201.6 L468.0,1202.8 L474.0,1204.0 L480.0,1205.2 L486.0,1206.3 L492.0,1207.4 L498.0,1208.4 L504.0,1209.4 L510.0,1210.3 L516.0,1211.1 L522.0,1211.9 L528.0,1212.6 L534.0,1213.4 L540.0,1214.1 L546.0,1214.8 L552.0,1215.4 L558.0,1216.0 L564.0,1216.6 L570.0,1217.1 L576.0,1217.5 L582.0,1218.0 L588.0,1218.4 L594.0,1218.8 L600.0,1219.2 L606.0,1219.6 L612.0,1220.0 L618.0,1220.4 L624.0,1220.7 L630.0,1221.0 L636.0,1221.3 L642.0,1221.6 L648.0,1221.9 L654.0,1222.3 L660.0,1222.6 L666.0,1223.0 L672.0,1223.3 L678.0,1223.7 L684.0,1224.0 L690.0,1224.4 L696.0,1224.7 L702.0,1225.0 L708.0,1225.4 L714.0,1225.7 L720.0,1226.0 L726.0,1226.2 L732.0,1226.3 L738.0,1226.4 L744.0,1226.3 L750.0,1226.0 L756.0,1225.7 L762.0,1225.1 L768.0,1224.2 L774.0,1223.0 L780.0,1221.5 L786.0,1219.7 L792.0,1217.7 L798.0,1215.2 L804.0,1212.3 L810.0,1209.1 L816.0,1205.7 L822.0,1202.1 L828.0,1198.3 L834.0,1194.1 L840.0,1189.8 L846.0,1185.4 L852.0,1180.9 L858.0,1176.3 L864.0,1171.6 L870.0,1166.6 L876.0,1161.4 L882.0,1156.1 L888.0,1150.5 L894.0,1144.9 L900.0,1139.1 L906.0,1133.5 L912.0,1128.2 L918.0,1123.2 L924.0,1118.4 L930.0,1113.8 L936.0,1109.5 L942.0,1105.2 L948.0,1100.8 L954.0,1096.3 L960.0,1092.0 L966.0,1088.0 L972.0,1084.2 L978.0,1080.7 L984.0,1077.6 L990.0,1074.9 L996.0,1072.5 L1002.0,1070.1 L1008.0,1067.7 L1014.0,1065.3 L1020.0,1062.9 L1026.0,1060.6 L1032.0,1058.2 L1038.0,1055.7 L1044.0,1053.3 L1050.0,1050.9 L1056.0,1048.5 L1062.0,1046.0 L1068.0,1043.6 L1074.0,1041.1 L1080.0,1038.7 L1086.0,1036.3 L1092.0,1033.9 L1098.0,1031.5 L1104.0,1029.1 L1110.0,1026.8 L1116.0,1024.4 L1122.0,1022.1 L1128.0,1019.6 L1134.0,1017.1 L1140.0,1014.5 L1146.0,1011.8 L1152.0,1009.0 L1158.0,1006.2 L1164.0,1003.2 L1170.0,1000.3 L1176.0,997.3 L1182.0,994.3 L1188.0,991.2 L1194.0,988.0 L1200.0,984.7 L1206.0,981.5 L1212.0,978.1 L1218.0,974.3 L1224.0,970.1 L1230.0,965.5 L1236.0,959.8 L1242.0,951.5 L1248.0,930.9 L1254.0,909.1 L1260.0,886.4 L1266.0,862.9 L1272.0,838.6 L1278.0,814.1 L1284.0,791.0 L1290.0,779.0 L1296.0,767.0 L1302.0,761.0 L1308.0,755.0 L1314.0,749.0" fill="none" stroke="#dccec4" stroke-width="3.0"/></g>

</g>
<path d="M264.0,894.0 L333.0,905.0 L388.0,919.0 L444.0,933.0 L499.0,944.0 L555.0,951.0 L610.0,955.0 L650.0,957.0 L700.0,960.0 L742.0,962.0 L777.0,959.0 L811.0,945.0 L846.0,921.0 L881.0,893.0 L915.0,859.0 L950.0,835.0 L972.0,817.0" fill="none" stroke="#f8f2ed" stroke-width="10" stroke-linecap="round" transform="translate(0,7)" filter="url(#bl10)"/>
<path d="M264.0,894.0 L333.0,905.0 L388.0,919.0 L444.0,933.0 L499.0,944.0 L555.0,951.0 L610.0,955.0 L650.0,957.0 L700.0,960.0 L742.0,962.0 L777.0,959.0 L811.0,945.0 L846.0,921.0 L881.0,893.0 L915.0,859.0 L950.0,835.0 L972.0,817.0" fill="none" stroke="#dacabe" stroke-width="2"/>
<path d="M972.0,815.0 L1040.0,790.0 L1089.0,770.0 L1140.0,750.0 L1189.0,726.0 L1230.0,703.0 L1252.0,680.0 L1262.0,645.0 L1255.0,615.0 L1246.0,602.0" fill="none" stroke="#e6d9cf" stroke-width="2"/>
<path d="M975,819 L985,860 L994,905 L1002,944" fill="none" stroke="#d7c7bb" stroke-width="1.8"/>
<path d="M256.0,1093.0 L270.0,1104.5 L286.0,1113.0 L303.0,1121.0 L320.0,1131.0 L336.0,1141.0 L353.0,1151.0 L369.0,1159.0 L386.0,1169.0 L413.0,1181.5 L446.0,1191.0 L480.0,1198.0 L513.0,1204.0 L546.0,1205.5 L580.0,1202.0 L620.0,1200.0 L658.0,1197.0 L694.0,1190.0 L730.0,1184.0 L766.0,1174.0 L802.0,1158.0 L838.0,1128.0 L869.0,1094.0 L908.0,1052.0 L947.0,1011.0 L982.0,986.0 L1004.0,977.6 L1026.0,971.0 L1063.0,956.0 L1100.0,950.0 L1135.0,946.0 L1162.0,939.0 L1190.0,931.0 L1218.0,917.0 L1245.0,891.0 L1267.0,866.0 L1277.0,833.0 L1283.0,794.0 L1286.0,750.0 L1284.0,700.0" fill="none" stroke="#d1beb4" stroke-width="18" opacity="0.45" filter="url(#soft)"/>
<clipPath id="cls"><path d="M175.0,740.0 L233.0,715.0 L262.0,724.0 L262.0,900.0 L265.0,1000.0 L268.0,1104.0 L233.0,1066.0 L211.0,1022.0 L196.0,966.0 L187.0,911.0 L180.0,855.0Z"/></clipPath>
<g clip-path="url(#cls)">
<path d="M175.0,740.0 L233.0,715.0 L262.0,724.0 L262.0,900.0 L265.0,1000.0 L268.0,1104.0 L233.0,1066.0 L211.0,1022.0 L196.0,966.0 L187.0,911.0 L180.0,855.0Z" fill="#f0e9e2"/>
<g filter="url(#bl30)"><path d="M170.0,620.5 L205.0,640.5 L240.0,658.5 L272.0,670.5 M170.0,643.5 L205.0,663.5 L240.0,681.5 L272.0,693.5 M170.0,666.5 L205.0,686.5 L240.0,704.5 L272.0,716.5 M170.0,689.5 L205.0,709.5 L240.0,727.5 L272.0,739.5 M170.0,712.5 L205.0,732.5 L240.0,750.5 L272.0,762.5 M170.0,735.5 L205.0,755.5 L240.0,773.5 L272.0,785.5 M170.0,758.5 L205.0,778.5 L240.0,796.5 L272.0,808.5 M170.0,781.5 L205.0,801.5 L240.0,819.5 L272.0,831.5 M170.0,804.5 L205.0,824.5 L240.0,842.5 L272.0,854.5 M170.0,827.5 L205.0,847.5 L240.0,865.5 L272.0,877.5 M170.0,850.5 L205.0,870.5 L240.0,888.5 L272.0,900.5 M170.0,873.5 L205.0,893.5 L240.0,911.5 L272.0,923.5 M170.0,896.5 L205.0,916.5 L240.0,934.5 L272.0,946.5 M170.0,919.5 L205.0,939.5 L240.0,957.5 L272.0,969.5 M170.0,942.5 L205.0,962.5 L240.0,980.5 L272.0,992.5 M170.0,965.5 L205.0,985.5 L240.0,1003.5 L272.0,1015.5 M170.0,988.5 L205.0,1008.5 L240.0,1026.5 L272.0,1038.5 M170.0,1011.5 L205.0,1031.5 L240.0,1049.5 L272.0,1061.5 M170.0,1034.5 L205.0,1054.5 L240.0,1072.5 L272.0,1084.5 M170.0,1057.5 L205.0,1077.5 L240.0,1095.5 L272.0,1107.5 M170.0,1080.5 L205.0,1100.5 L240.0,1118.5 L272.0,1130.5" fill="none" stroke="#dccec4" stroke-width="10.3" opacity="0.35" transform="translate(0,-5.1)"/></g>
<g filter="url(#bl10)"><path d="M170.0,620.5 L205.0,640.5 L240.0,658.5 L272.0,670.5 M170.0,643.5 L205.0,663.5 L240.0,681.5 L272.0,693.5 M170.0,666.5 L205.0,686.5 L240.0,704.5 L272.0,716.5 M170.0,689.5 L205.0,709.5 L240.0,727.5 L272.0,739.5 M170.0,712.5 L205.0,732.5 L240.0,750.5 L272.0,762.5 M170.0,735.5 L205.0,755.5 L240.0,773.5 L272.0,785.5 M170.0,758.5 L205.0,778.5 L240.0,796.5 L272.0,808.5 M170.0,781.5 L205.0,801.5 L240.0,819.5 L272.0,831.5 M170.0,804.5 L205.0,824.5 L240.0,842.5 L272.0,854.5 M170.0,827.5 L205.0,847.5 L240.0,865.5 L272.0,877.5 M170.0,850.5 L205.0,870.5 L240.0,888.5 L272.0,900.5 M170.0,873.5 L205.0,893.5 L240.0,911.5 L272.0,923.5 M170.0,896.5 L205.0,916.5 L240.0,934.5 L272.0,946.5 M170.0,919.5 L205.0,939.5 L240.0,957.5 L272.0,969.5 M170.0,942.5 L205.0,962.5 L240.0,980.5 L272.0,992.5 M170.0,965.5 L205.0,985.5 L240.0,1003.5 L272.0,1015.5 M170.0,988.5 L205.0,1008.5 L240.0,1026.5 L272.0,1038.5 M170.0,1011.5 L205.0,1031.5 L240.0,1049.5 L272.0,1061.5 M170.0,1034.5 L205.0,1054.5 L240.0,1072.5 L272.0,1084.5 M170.0,1057.5 L205.0,1077.5 L240.0,1095.5 L272.0,1107.5 M170.0,1080.5 L205.0,1100.5 L240.0,1118.5 L272.0,1130.5" fill="none" stroke="#dccec4" stroke-width="3.2"/></g>

</g>
<path d="M262,724 L263,900 L265,1000 L268,1104" fill="none" stroke="#d7c7bb" stroke-width="2"/>
<path d="M218,712 L232,696 L255,682 L300,671 L350,664 L400,659 L425,663 L438,678" fill="none" stroke="#c8b4a8" stroke-width="5" opacity="0.6" filter="url(#bl20)"/>
<clipPath id="catop"><path d="M220.0,714.0 L232.0,698.0 L255.0,684.0 L300.0,674.0 L350.0,667.0 L400.0,662.0 L425.0,666.0 L437.0,680.0 L441.0,700.0 L437.0,712.0 L262.0,726.0 L240.0,724.0Z"/></clipPath>
<g clip-path="url(#catop)">
<path d="M220.0,714.0 L232.0,698.0 L255.0,684.0 L300.0,674.0 L350.0,667.0 L400.0,662.0 L425.0,666.0 L437.0,680.0 L441.0,700.0 L437.0,712.0 L262.0,726.0 L240.0,724.0Z" fill="#f6efe9"/>
<g filter="url(#bl30)"><path d="M215.0,703.0 L260.0,681.0 L350.0,667.0 L445.0,659.0 M215.0,721.0 L260.0,699.0 L350.0,685.0 L445.0,677.0 M215.0,739.0 L260.0,717.0 L350.0,703.0 L445.0,695.0" fill="none" stroke="#e0d1c7" stroke-width="9.0" opacity="0.30" transform="translate(0,-4.4)"/></g>
<g filter="url(#bl10)"><path d="M215.0,703.0 L260.0,681.0 L350.0,667.0 L445.0,659.0 M215.0,721.0 L260.0,699.0 L350.0,685.0 L445.0,677.0 M215.0,739.0 L260.0,717.0 L350.0,703.0 L445.0,695.0" fill="none" stroke="#e0d1c7" stroke-width="3.0"/></g>

</g>
<clipPath id="caf"><path d="M262.0,724.0 L300.0,719.0 L350.0,713.0 L400.0,707.0 L437.0,704.0 L443.0,730.0 L445.0,770.0 L443.0,812.0 L420.0,850.0 L372.0,869.0 L322.0,891.0 L268.0,891.0Z"/></clipPath>
<g clip-path="url(#caf)">
<path d="M262.0,724.0 L300.0,719.0 L350.0,713.0 L400.0,707.0 L437.0,704.0 L443.0,730.0 L445.0,770.0 L443.0,812.0 L420.0,850.0 L372.0,869.0 L322.0,891.0 L268.0,891.0Z" fill="#f2eae3"/>
<g filter="url(#bl30)"><path d="M255.0,725.0 L350.0,721.0 L450.0,711.0 M255.0,747.0 L350.0,743.0 L450.0,733.0 M255.0,769.0 L350.0,765.0 L450.0,755.0 M255.0,791.0 L350.0,787.0 L450.0,777.0 M255.0,813.0 L350.0,809.0 L450.0,799.0 M255.0,835.0 L350.0,831.0 L450.0,821.0 M255.0,857.0 L350.0,853.0 L450.0,843.0 M255.0,879.0 L350.0,875.0 L450.0,865.0 M255.0,901.0 L350.0,897.0 L450.0,887.0 M255.0,923.0 L350.0,919.0 L450.0,909.0" fill="none" stroke="#dccdc2" stroke-width="9.9" opacity="0.40" transform="translate(0,-4.8)"/></g>
<g filter="url(#bl10)"><path d="M255.0,725.0 L350.0,721.0 L450.0,711.0 M255.0,747.0 L350.0,743.0 L450.0,733.0 M255.0,769.0 L350.0,765.0 L450.0,755.0 M255.0,791.0 L350.0,787.0 L450.0,777.0 M255.0,813.0 L350.0,809.0 L450.0,799.0 M255.0,835.0 L350.0,831.0 L450.0,821.0 M255.0,857.0 L350.0,853.0 L450.0,843.0 M255.0,879.0 L350.0,875.0 L450.0,865.0 M255.0,901.0 L350.0,897.0 L450.0,887.0 M255.0,923.0 L350.0,919.0 L450.0,909.0" fill="none" stroke="#dccdc2" stroke-width="3.6"/></g>

</g>
<path d="M262,726 L437,705" fill="none" stroke="#ddcec3" stroke-width="2.5" filter="url(#bl10)"/>
<defs><linearGradient id="gg" x1="0" y1="0" x2="0.3" y2="1"><stop offset="0" stop-color="#4e3129"/><stop offset="0.45" stop-color="#5e3f35"/><stop offset="0.8" stop-color="#8a6d62"/><stop offset="1" stop-color="#b09488"/></linearGradient></defs>
<path d="M444.0,681.0 L454.0,682.0 L465.0,701.0 L467.0,717.0 L480.0,730.0 L482.0,742.0 L492.0,751.0 L500.0,768.0 L507.0,785.0 L511.0,795.0 L492.0,798.0 L467.0,807.0 L449.0,813.0 L442.0,809.0 L444.0,772.0 L446.0,722.0Z" fill="url(#gg)"/>
<clipPath id="cd"><path d="M403.0,538.0 L470.0,518.0 L540.0,500.0 L600.0,485.0 L645.0,474.0 L652.0,530.0 L668.0,580.0 L690.0,640.0 L715.0,700.0 L730.0,745.0 L640.0,770.0 L545.0,795.0 L520.0,780.0 L500.0,755.0 L484.0,729.0 L469.0,706.0 L455.0,682.0 L441.0,659.0 L427.0,623.0 L420.0,588.0Z"/></clipPath>
<g clip-path="url(#cd)">
<path d="M403.0,538.0 L470.0,518.0 L540.0,500.0 L600.0,485.0 L645.0,474.0 L652.0,530.0 L668.0,580.0 L690.0,640.0 L715.0,700.0 L730.0,745.0 L640.0,770.0 L545.0,795.0 L520.0,780.0 L500.0,755.0 L484.0,729.0 L469.0,706.0 L455.0,682.0 L441.0,659.0 L427.0,623.0 L420.0,588.0Z" fill="#f9f3ee"/>
<g filter="url(#bl30)"><path d="M403.0,548.0 L407.1,546.9 L411.2,545.8 L415.3,544.7 L419.4,543.7 L423.5,542.6 L427.6,541.5 L431.7,540.4 L435.8,539.3 L439.9,538.2 L444.0,537.1 L448.1,536.1 L452.2,535.0 L456.3,533.9 L460.4,532.8 L464.5,531.7 L468.6,530.6 L472.7,529.5 L476.7,528.5 L480.8,527.4 L484.9,526.3 L489.0,525.2 L493.1,524.1 L497.2,523.0 L501.3,521.9 L505.4,520.9 L509.5,519.8 L513.6,518.7 L517.7,517.6 L521.8,516.5 L525.9,515.5 L530.0,514.4 L534.1,513.4 L538.2,512.3 L542.3,511.3 L546.5,510.2 L550.6,509.2 L554.7,508.1 L558.8,507.1 L562.9,506.0 L567.0,505.0 L571.1,503.9 L575.2,502.9 L579.3,501.8 L583.4,500.8 L587.5,499.7 L591.6,498.7 L595.7,497.6 L599.8,496.6 L603.9,495.5 L608.0,494.5 L612.2,493.4 L616.3,492.4 L620.4,491.3 L624.5,490.3 L628.6,489.2 L632.7,488.2 L636.8,487.1 L640.9,486.1 L645.0,485.0 M411.9,563.8 L415.9,562.6 L419.9,561.5 L423.9,560.4 L428.0,559.3 L432.0,558.1 L436.0,557.0 L440.0,555.9 L444.1,554.8 L448.1,553.7 L452.1,552.5 L456.1,551.4 L460.1,550.3 L464.2,549.2 L468.2,548.1 L472.2,546.9 L476.2,545.8 L480.3,544.7 L484.3,543.6 L488.3,542.5 L492.3,541.3 L496.4,540.2 L500.4,539.1 L504.4,538.0 L508.4,536.9 L512.4,535.7 L516.5,534.6 L520.5,533.5 L524.5,532.4 L528.5,531.3 L532.6,530.2 L536.6,529.1 L540.6,528.0 L544.7,526.9 L548.7,525.8 L552.7,524.7 L556.7,523.6 L560.8,522.6 L564.8,521.5 L568.8,520.4 L572.9,519.3 L576.9,518.2 L580.9,517.1 L585.0,516.0 L589.0,514.9 L593.0,513.8 L597.0,512.7 L601.1,511.6 L605.1,510.6 L609.1,509.5 L613.2,508.4 L617.2,507.3 L621.2,506.2 L625.3,505.1 L629.3,504.0 L633.3,502.9 L637.3,501.8 L641.4,500.7 L645.4,499.7 L649.4,498.6 M420.8,579.5 L424.7,578.3 L428.6,577.2 L432.6,576.0 L436.5,574.9 L440.5,573.7 L444.4,572.6 L448.4,571.4 L452.3,570.3 L456.3,569.1 L460.2,567.9 L464.2,566.8 L468.1,565.6 L472.1,564.5 L476.0,563.3 L480.0,562.2 L483.9,561.0 L487.9,559.9 L491.8,558.7 L495.8,557.6 L499.7,556.4 L503.7,555.2 L507.6,554.1 L511.6,552.9 L515.5,551.8 L519.5,550.6 L523.4,549.5 L527.4,548.3 L531.3,547.2 L535.3,546.0 L539.2,544.9 L543.2,543.8 L547.1,542.6 L551.1,541.5 L555.0,540.4 L559.0,539.2 L562.9,538.1 L566.9,537.0 L570.8,535.8 L574.8,534.7 L578.8,533.6 L582.7,532.5 L586.7,531.3 L590.6,530.2 L594.6,529.1 L598.5,527.9 L602.5,526.8 L606.4,525.7 L610.4,524.6 L614.3,523.4 L618.3,522.3 L622.2,521.2 L626.2,520.0 L630.2,518.9 L634.1,517.8 L638.1,516.6 L642.0,515.5 L646.0,514.4 L649.9,513.3 L653.9,512.1 M429.6,595.2 L433.5,594.1 L437.4,592.9 L441.2,591.7 L445.1,590.5 L449.0,589.3 L452.9,588.1 L456.7,586.9 L460.6,585.7 L464.5,584.5 L468.4,583.3 L472.2,582.2 L476.1,581.0 L480.0,579.8 L483.9,578.6 L487.7,577.4 L491.6,576.2 L495.5,575.0 L499.4,573.8 L503.2,572.6 L507.1,571.4 L511.0,570.3 L514.9,569.1 L518.7,567.9 L522.6,566.7 L526.5,565.5 L530.4,564.3 L534.2,563.1 L538.1,561.9 L542.0,560.8 L545.9,559.6 L549.7,558.4 L553.6,557.2 L557.5,556.1 L561.4,554.9 L565.2,553.7 L569.1,552.6 L573.0,551.4 L576.9,550.2 L580.8,549.1 L584.6,547.9 L588.5,546.7 L592.4,545.6 L596.3,544.4 L600.1,543.2 L604.0,542.1 L607.9,540.9 L611.8,539.7 L615.7,538.5 L619.5,537.4 L623.4,536.2 L627.3,535.0 L631.2,533.9 L635.0,532.7 L638.9,531.5 L642.8,530.4 L646.7,529.2 L650.6,528.0 L654.4,526.9 L658.3,525.7 M438.5,611.0 L442.3,609.8 L446.1,608.6 L449.9,607.3 L453.7,606.1 L457.5,604.9 L461.3,603.7 L465.1,602.4 L468.9,601.2 L472.7,600.0 L476.5,598.8 L480.3,597.5 L484.1,596.3 L487.9,595.1 L491.7,593.9 L495.5,592.6 L499.3,591.4 L503.1,590.2 L506.9,589.0 L510.7,587.7 L514.5,586.5 L518.3,585.3 L522.1,584.1 L525.9,582.8 L529.7,581.6 L533.5,580.4 L537.3,579.2 L541.1,577.9 L544.9,576.7 L548.7,575.5 L552.5,574.3 L556.3,573.1 L560.1,571.9 L563.9,570.7 L567.7,569.5 L571.5,568.2 L575.3,567.0 L579.1,565.8 L582.9,564.6 L586.7,563.4 L590.5,562.2 L594.3,561.0 L598.1,559.8 L601.9,558.6 L605.7,557.4 L609.5,556.2 L613.3,555.0 L617.1,553.7 L620.9,552.5 L624.7,551.3 L628.5,550.1 L632.3,548.9 L636.1,547.7 L639.9,546.5 L643.7,545.3 L647.5,544.1 L651.3,542.9 L655.1,541.7 L658.9,540.5 L662.8,539.2 M447.4,626.8 L451.1,625.5 L454.8,624.2 L458.6,623.0 L462.3,621.7 L466.0,620.5 L469.7,619.2 L473.5,617.9 L477.2,616.7 L480.9,615.4 L484.6,614.2 L488.4,612.9 L492.1,611.6 L495.8,610.4 L499.5,609.1 L503.3,607.9 L507.0,606.6 L510.7,605.3 L514.4,604.1 L518.2,602.8 L521.9,601.6 L525.6,600.3 L529.3,599.0 L533.1,597.8 L536.8,596.5 L540.5,595.3 L544.2,594.0 L548.0,592.7 L551.7,591.5 L555.4,590.2 L559.2,589.0 L562.9,587.7 L566.6,586.5 L570.3,585.2 L574.1,584.0 L577.8,582.7 L581.5,581.5 L585.2,580.3 L589.0,579.0 L592.7,577.8 L596.4,576.5 L600.1,575.3 L603.9,574.0 L607.6,572.8 L611.3,571.5 L615.0,570.3 L618.8,569.0 L622.5,567.8 L626.2,566.5 L629.9,565.3 L633.7,564.0 L637.4,562.8 L641.1,561.5 L644.8,560.3 L648.6,559.0 L652.3,557.8 L656.0,556.6 L659.7,555.3 L663.5,554.1 L667.2,552.8 M456.2,642.5 L459.9,641.2 L463.6,639.9 L467.2,638.6 L470.9,637.3 L474.5,636.0 L478.2,634.7 L481.8,633.4 L485.5,632.1 L489.1,630.8 L492.8,629.6 L496.4,628.3 L500.1,627.0 L503.7,625.7 L507.4,624.4 L511.0,623.1 L514.7,621.8 L518.3,620.5 L522.0,619.2 L525.6,617.9 L529.3,616.6 L532.9,615.3 L536.6,614.0 L540.2,612.7 L543.9,611.4 L547.5,610.1 L551.2,608.8 L554.8,607.5 L558.5,606.3 L562.1,605.0 L565.8,603.7 L569.4,602.4 L573.1,601.1 L576.7,599.8 L580.4,598.5 L584.0,597.3 L587.7,596.0 L591.3,594.7 L595.0,593.4 L598.6,592.1 L602.3,590.8 L605.9,589.5 L609.6,588.2 L613.2,587.0 L616.9,585.7 L620.5,584.4 L624.2,583.1 L627.8,581.8 L631.5,580.5 L635.1,579.2 L638.8,578.0 L642.4,576.7 L646.1,575.4 L649.7,574.1 L653.4,572.8 L657.0,571.5 L660.7,570.2 L664.3,568.9 L668.0,567.7 L671.6,566.4 M465.1,658.2 L468.7,656.9 L472.3,655.6 L475.9,654.3 L479.4,652.9 L483.0,651.6 L486.6,650.3 L490.2,648.9 L493.7,647.6 L497.3,646.3 L500.9,645.0 L504.5,643.6 L508.1,642.3 L511.6,641.0 L515.2,639.6 L518.8,638.3 L522.4,637.0 L525.9,635.7 L529.5,634.3 L533.1,633.0 L536.7,631.7 L540.2,630.3 L543.8,629.0 L547.4,627.7 L551.0,626.3 L554.6,625.0 L558.1,623.7 L561.7,622.4 L565.3,621.0 L568.9,619.7 L572.4,618.4 L576.0,617.1 L579.6,615.7 L583.2,614.4 L586.7,613.1 L590.3,611.8 L593.9,610.4 L597.5,609.1 L601.0,607.8 L604.6,606.5 L608.2,605.1 L611.7,603.8 L615.3,602.5 L618.9,601.2 L622.5,599.8 L626.0,598.5 L629.6,597.2 L633.2,595.8 L636.8,594.5 L640.3,593.2 L643.9,591.9 L647.5,590.5 L651.1,589.2 L654.6,587.9 L658.2,586.6 L661.8,585.2 L665.3,583.9 L668.9,582.6 L672.5,581.3 L676.1,579.9 M474.0,674.0 L477.5,672.6 L481.0,671.3 L484.5,669.9 L488.0,668.5 L491.5,667.2 L495.0,665.8 L498.5,664.5 L502.0,663.1 L505.5,661.7 L509.0,660.4 L512.5,659.0 L516.0,657.6 L519.5,656.3 L523.0,654.9 L526.5,653.5 L530.0,652.2 L533.6,650.8 L537.1,649.4 L540.6,648.1 L544.1,646.7 L547.6,645.4 L551.1,644.0 L554.6,642.6 L558.1,641.3 L561.6,639.9 L565.1,638.5 L568.6,637.2 L572.1,635.8 L575.6,634.4 L579.1,633.1 L582.6,631.7 L586.1,630.4 L589.6,629.0 L593.1,627.6 L596.6,626.3 L600.1,624.9 L603.6,623.5 L607.1,622.2 L610.6,620.8 L614.1,619.4 L617.6,618.1 L621.1,616.7 L624.5,615.3 L628.0,614.0 L631.5,612.6 L635.0,611.2 L638.5,609.9 L642.0,608.5 L645.5,607.2 L649.0,605.8 L652.5,604.4 L656.0,603.1 L659.5,601.7 L663.0,600.3 L666.5,599.0 L670.0,597.6 L673.5,596.2 L677.0,594.9 L680.5,593.5 M482.9,689.8 L486.3,688.4 L489.7,687.0 L493.2,685.6 L496.6,684.2 L500.0,682.8 L503.4,681.4 L506.9,680.0 L510.3,678.6 L513.7,677.2 L517.2,675.8 L520.6,674.4 L524.0,673.0 L527.4,671.6 L530.9,670.2 L534.3,668.8 L537.7,667.4 L541.2,666.0 L544.6,664.6 L548.0,663.2 L551.4,661.8 L554.9,660.4 L558.3,659.0 L561.7,657.6 L565.2,656.2 L568.6,654.8 L572.0,653.4 L575.4,652.0 L578.9,650.6 L582.3,649.2 L585.7,647.8 L589.2,646.4 L592.6,645.0 L596.0,643.6 L599.4,642.2 L602.8,640.8 L606.3,639.4 L609.7,638.0 L613.1,636.6 L616.5,635.1 L619.9,633.7 L623.4,632.3 L626.8,630.9 L630.2,629.5 L633.6,628.1 L637.0,626.7 L640.5,625.3 L643.9,623.9 L647.3,622.5 L650.7,621.1 L654.1,619.7 L657.6,618.3 L661.0,616.9 L664.4,615.5 L667.8,614.1 L671.3,612.7 L674.7,611.3 L678.1,609.9 L681.5,608.5 L684.9,607.1 M491.8,705.5 L495.1,704.1 L498.5,702.6 L501.8,701.2 L505.2,699.8 L508.5,698.3 L511.9,696.9 L515.2,695.5 L518.6,694.0 L521.9,692.6 L525.3,691.2 L528.6,689.7 L532.0,688.3 L535.4,686.9 L538.7,685.4 L542.1,684.0 L545.4,682.6 L548.8,681.1 L552.1,679.7 L555.5,678.3 L558.8,676.8 L562.2,675.4 L565.5,674.0 L568.9,672.5 L572.3,671.1 L575.6,669.7 L579.0,668.2 L582.3,666.8 L585.7,665.4 L589.0,663.9 L592.4,662.5 L595.7,661.0 L599.1,659.6 L602.4,658.2 L605.8,656.7 L609.1,655.3 L612.4,653.8 L615.8,652.4 L619.1,650.9 L622.5,649.5 L625.8,648.1 L629.2,646.6 L632.5,645.2 L635.9,643.7 L639.2,642.3 L642.5,640.8 L645.9,639.4 L649.2,637.9 L652.6,636.5 L655.9,635.1 L659.3,633.6 L662.6,632.2 L666.0,630.7 L669.3,629.3 L672.7,627.8 L676.0,626.4 L679.3,625.0 L682.7,623.5 L686.0,622.1 L689.4,620.6 M500.6,721.2 L503.9,719.8 L507.2,718.3 L510.5,716.8 L513.7,715.4 L517.0,713.9 L520.3,712.4 L523.6,711.0 L526.9,709.5 L530.1,708.0 L533.4,706.6 L536.7,705.1 L540.0,703.6 L543.3,702.2 L546.5,700.7 L549.8,699.2 L553.1,697.8 L556.4,696.3 L559.7,694.8 L562.9,693.3 L566.2,691.9 L569.5,690.4 L572.8,688.9 L576.1,687.5 L579.3,686.0 L582.6,684.5 L585.9,683.1 L589.2,681.6 L592.5,680.1 L595.8,678.7 L599.0,677.2 L602.3,675.7 L605.6,674.2 L608.8,672.7 L612.1,671.3 L615.4,669.8 L618.6,668.3 L621.9,666.8 L625.2,665.3 L628.4,663.8 L631.7,662.4 L635.0,660.9 L638.2,659.4 L641.5,657.9 L644.8,656.4 L648.1,654.9 L651.3,653.5 L654.6,652.0 L657.9,650.5 L661.1,649.0 L664.4,647.5 L667.7,646.1 L670.9,644.6 L674.2,643.1 L677.5,641.6 L680.7,640.1 L684.0,638.6 L687.3,637.2 L690.5,635.7 L693.8,634.2 M509.5,737.0 L512.7,735.5 L515.9,734.0 L519.1,732.5 L522.3,731.0 L525.5,729.5 L528.7,728.0 L531.9,726.5 L535.1,725.0 L538.4,723.5 L541.6,722.0 L544.8,720.5 L548.0,719.0 L551.2,717.5 L554.4,716.0 L557.6,714.4 L560.8,712.9 L564.0,711.4 L567.2,709.9 L570.4,708.4 L573.6,706.9 L576.8,705.4 L580.0,703.9 L583.2,702.4 L586.4,700.9 L589.6,699.4 L592.9,697.9 L596.1,696.4 L599.3,694.9 L602.5,693.4 L605.7,691.9 L608.9,690.4 L612.1,688.8 L615.2,687.3 L618.4,685.8 L621.6,684.3 L624.8,682.8 L628.0,681.2 L631.2,679.7 L634.4,678.2 L637.6,676.7 L640.8,675.1 L644.0,673.6 L647.2,672.1 L650.4,670.6 L653.6,669.1 L656.7,667.5 L659.9,666.0 L663.1,664.5 L666.3,663.0 L669.5,661.4 L672.7,659.9 L675.9,658.4 L679.1,656.9 L682.3,655.4 L685.5,653.8 L688.7,652.3 L691.9,650.8 L695.1,649.3 L698.2,647.8 M518.4,752.8 L521.5,751.2 L524.6,749.7 L527.8,748.1 L530.9,746.6 L534.0,745.1 L537.2,743.5 L540.3,742.0 L543.4,740.4 L546.6,738.9 L549.7,737.4 L552.8,735.8 L556.0,734.3 L559.1,732.8 L562.2,731.2 L565.3,729.7 L568.5,728.1 L571.6,726.6 L574.7,725.1 L577.9,723.5 L581.0,722.0 L584.1,720.4 L587.3,718.9 L590.4,717.4 L593.5,715.8 L596.7,714.3 L599.8,712.8 L602.9,711.2 L606.1,709.7 L609.2,708.1 L612.3,706.6 L615.4,705.0 L618.5,703.5 L621.7,701.9 L624.8,700.3 L627.9,698.8 L631.0,697.2 L634.1,695.7 L637.2,694.1 L640.4,692.5 L643.5,691.0 L646.6,689.4 L649.7,687.9 L652.8,686.3 L655.9,684.7 L659.1,683.2 L662.2,681.6 L665.3,680.0 L668.4,678.5 L671.5,676.9 L674.6,675.4 L677.8,673.8 L680.9,672.2 L684.0,670.7 L687.1,669.1 L690.2,667.6 L693.3,666.0 L696.5,664.4 L699.6,662.9 L702.7,661.3 M527.2,768.5 L530.3,766.9 L533.4,765.4 L536.4,763.8 L539.5,762.2 L542.5,760.6 L545.6,759.1 L548.7,757.5 L551.7,755.9 L554.8,754.3 L557.8,752.8 L560.9,751.2 L563.9,749.6 L567.0,748.1 L570.1,746.5 L573.1,744.9 L576.2,743.3 L579.2,741.8 L582.3,740.2 L585.3,738.6 L588.4,737.0 L591.5,735.5 L594.5,733.9 L597.6,732.3 L600.6,730.7 L603.7,729.2 L606.7,727.6 L609.8,726.0 L612.9,724.5 L615.9,722.9 L619.0,721.3 L622.0,719.7 L625.0,718.1 L628.1,716.5 L631.1,714.9 L634.2,713.3 L637.2,711.7 L640.2,710.1 L643.3,708.5 L646.3,706.9 L649.4,705.3 L652.4,703.7 L655.4,702.1 L658.5,700.5 L661.5,698.9 L664.6,697.3 L667.6,695.7 L670.6,694.1 L673.7,692.5 L676.7,690.9 L679.8,689.3 L682.8,687.7 L685.8,686.1 L688.9,684.5 L691.9,682.9 L695.0,681.3 L698.0,679.7 L701.0,678.1 L704.1,676.5 L707.1,674.9 M536.1,784.2 L539.1,782.6 L542.1,781.0 L545.1,779.4 L548.1,777.8 L551.0,776.2 L554.0,774.6 L557.0,773.0 L560.0,771.4 L563.0,769.8 L566.0,768.2 L568.9,766.6 L571.9,765.0 L574.9,763.3 L577.9,761.7 L580.9,760.1 L583.9,758.5 L586.8,756.9 L589.8,755.3 L592.8,753.7 L595.8,752.1 L598.8,750.5 L601.8,748.9 L604.7,747.3 L607.7,745.7 L610.7,744.1 L613.7,742.4 L616.7,740.8 L619.7,739.2 L622.6,737.6 L625.6,736.0 L628.6,734.4 L631.5,732.7 L634.5,731.1 L637.5,729.4 L640.4,727.8 L643.4,726.2 L646.4,724.5 L649.3,722.9 L652.3,721.2 L655.2,719.6 L658.2,718.0 L661.2,716.3 L664.1,714.7 L667.1,713.0 L670.1,711.4 L673.0,709.8 L676.0,708.1 L679.0,706.5 L681.9,704.8 L684.9,703.2 L687.8,701.6 L690.8,699.9 L693.8,698.3 L696.7,696.6 L699.7,695.0 L702.7,693.4 L705.6,691.7 L708.6,690.1 L711.6,688.4 M545.0,800.0 L547.9,798.4 L550.8,796.7 L553.7,795.1 L556.6,793.4 L559.5,791.8 L562.5,790.1 L565.4,788.5 L568.3,786.9 L571.2,785.2 L574.1,783.6 L577.0,781.9 L579.9,780.3 L582.8,778.6 L585.7,777.0 L588.6,775.4 L591.5,773.7 L594.5,772.1 L597.4,770.4 L600.3,768.8 L603.2,767.1 L606.1,765.5 L609.0,763.9 L611.9,762.2 L614.8,760.6 L617.7,758.9 L620.6,757.3 L623.5,755.6 L626.4,754.0 L629.4,752.4 L632.2,750.7 L635.1,749.0 L638.0,747.3 L640.9,745.7 L643.8,744.0 L646.7,742.3 L649.6,740.6 L652.5,738.9 L655.4,737.3 L658.2,735.6 L661.1,733.9 L664.0,732.2 L666.9,730.5 L669.8,728.9 L672.7,727.2 L675.6,725.5 L678.5,723.8 L681.3,722.1 L684.2,720.5 L687.1,718.8 L690.0,717.1 L692.9,715.4 L695.8,713.8 L698.7,712.1 L701.6,710.4 L704.4,708.7 L707.3,707.0 L710.2,705.4 L713.1,703.7 L716.0,702.0" fill="none" stroke="#dac8bc" stroke-width="7.7" opacity="0.50" transform="translate(0,-3.7)"/></g>
<g filter="url(#bl10)"><path d="M403.0,548.0 L407.1,546.9 L411.2,545.8 L415.3,544.7 L419.4,543.7 L423.5,542.6 L427.6,541.5 L431.7,540.4 L435.8,539.3 L439.9,538.2 L444.0,537.1 L448.1,536.1 L452.2,535.0 L456.3,533.9 L460.4,532.8 L464.5,531.7 L468.6,530.6 L472.7,529.5 L476.7,528.5 L480.8,527.4 L484.9,526.3 L489.0,525.2 L493.1,524.1 L497.2,523.0 L501.3,521.9 L505.4,520.9 L509.5,519.8 L513.6,518.7 L517.7,517.6 L521.8,516.5 L525.9,515.5 L530.0,514.4 L534.1,513.4 L538.2,512.3 L542.3,511.3 L546.5,510.2 L550.6,509.2 L554.7,508.1 L558.8,507.1 L562.9,506.0 L567.0,505.0 L571.1,503.9 L575.2,502.9 L579.3,501.8 L583.4,500.8 L587.5,499.7 L591.6,498.7 L595.7,497.6 L599.8,496.6 L603.9,495.5 L608.0,494.5 L612.2,493.4 L616.3,492.4 L620.4,491.3 L624.5,490.3 L628.6,489.2 L632.7,488.2 L636.8,487.1 L640.9,486.1 L645.0,485.0 M411.9,563.8 L415.9,562.6 L419.9,561.5 L423.9,560.4 L428.0,559.3 L432.0,558.1 L436.0,557.0 L440.0,555.9 L444.1,554.8 L448.1,553.7 L452.1,552.5 L456.1,551.4 L460.1,550.3 L464.2,549.2 L468.2,548.1 L472.2,546.9 L476.2,545.8 L480.3,544.7 L484.3,543.6 L488.3,542.5 L492.3,541.3 L496.4,540.2 L500.4,539.1 L504.4,538.0 L508.4,536.9 L512.4,535.7 L516.5,534.6 L520.5,533.5 L524.5,532.4 L528.5,531.3 L532.6,530.2 L536.6,529.1 L540.6,528.0 L544.7,526.9 L548.7,525.8 L552.7,524.7 L556.7,523.6 L560.8,522.6 L564.8,521.5 L568.8,520.4 L572.9,519.3 L576.9,518.2 L580.9,517.1 L585.0,516.0 L589.0,514.9 L593.0,513.8 L597.0,512.7 L601.1,511.6 L605.1,510.6 L609.1,509.5 L613.2,508.4 L617.2,507.3 L621.2,506.2 L625.3,505.1 L629.3,504.0 L633.3,502.9 L637.3,501.8 L641.4,500.7 L645.4,499.7 L649.4,498.6 M420.8,579.5 L424.7,578.3 L428.6,577.2 L432.6,576.0 L436.5,574.9 L440.5,573.7 L444.4,572.6 L448.4,571.4 L452.3,570.3 L456.3,569.1 L460.2,567.9 L464.2,566.8 L468.1,565.6 L472.1,564.5 L476.0,563.3 L480.0,562.2 L483.9,561.0 L487.9,559.9 L491.8,558.7 L495.8,557.6 L499.7,556.4 L503.7,555.2 L507.6,554.1 L511.6,552.9 L515.5,551.8 L519.5,550.6 L523.4,549.5 L527.4,548.3 L531.3,547.2 L535.3,546.0 L539.2,544.9 L543.2,543.8 L547.1,542.6 L551.1,541.5 L555.0,540.4 L559.0,539.2 L562.9,538.1 L566.9,537.0 L570.8,535.8 L574.8,534.7 L578.8,533.6 L582.7,532.5 L586.7,531.3 L590.6,530.2 L594.6,529.1 L598.5,527.9 L602.5,526.8 L606.4,525.7 L610.4,524.6 L614.3,523.4 L618.3,522.3 L622.2,521.2 L626.2,520.0 L630.2,518.9 L634.1,517.8 L638.1,516.6 L642.0,515.5 L646.0,514.4 L649.9,513.3 L653.9,512.1 M429.6,595.2 L433.5,594.1 L437.4,592.9 L441.2,591.7 L445.1,590.5 L449.0,589.3 L452.9,588.1 L456.7,586.9 L460.6,585.7 L464.5,584.5 L468.4,583.3 L472.2,582.2 L476.1,581.0 L480.0,579.8 L483.9,578.6 L487.7,577.4 L491.6,576.2 L495.5,575.0 L499.4,573.8 L503.2,572.6 L507.1,571.4 L511.0,570.3 L514.9,569.1 L518.7,567.9 L522.6,566.7 L526.5,565.5 L530.4,564.3 L534.2,563.1 L538.1,561.9 L542.0,560.8 L545.9,559.6 L549.7,558.4 L553.6,557.2 L557.5,556.1 L561.4,554.9 L565.2,553.7 L569.1,552.6 L573.0,551.4 L576.9,550.2 L580.8,549.1 L584.6,547.9 L588.5,546.7 L592.4,545.6 L596.3,544.4 L600.1,543.2 L604.0,542.1 L607.9,540.9 L611.8,539.7 L615.7,538.5 L619.5,537.4 L623.4,536.2 L627.3,535.0 L631.2,533.9 L635.0,532.7 L638.9,531.5 L642.8,530.4 L646.7,529.2 L650.6,528.0 L654.4,526.9 L658.3,525.7 M438.5,611.0 L442.3,609.8 L446.1,608.6 L449.9,607.3 L453.7,606.1 L457.5,604.9 L461.3,603.7 L465.1,602.4 L468.9,601.2 L472.7,600.0 L476.5,598.8 L480.3,597.5 L484.1,596.3 L487.9,595.1 L491.7,593.9 L495.5,592.6 L499.3,591.4 L503.1,590.2 L506.9,589.0 L510.7,587.7 L514.5,586.5 L518.3,585.3 L522.1,584.1 L525.9,582.8 L529.7,581.6 L533.5,580.4 L537.3,579.2 L541.1,577.9 L544.9,576.7 L548.7,575.5 L552.5,574.3 L556.3,573.1 L560.1,571.9 L563.9,570.7 L567.7,569.5 L571.5,568.2 L575.3,567.0 L579.1,565.8 L582.9,564.6 L586.7,563.4 L590.5,562.2 L594.3,561.0 L598.1,559.8 L601.9,558.6 L605.7,557.4 L609.5,556.2 L613.3,555.0 L617.1,553.7 L620.9,552.5 L624.7,551.3 L628.5,550.1 L632.3,548.9 L636.1,547.7 L639.9,546.5 L643.7,545.3 L647.5,544.1 L651.3,542.9 L655.1,541.7 L658.9,540.5 L662.8,539.2 M447.4,626.8 L451.1,625.5 L454.8,624.2 L458.6,623.0 L462.3,621.7 L466.0,620.5 L469.7,619.2 L473.5,617.9 L477.2,616.7 L480.9,615.4 L484.6,614.2 L488.4,612.9 L492.1,611.6 L495.8,610.4 L499.5,609.1 L503.3,607.9 L507.0,606.6 L510.7,605.3 L514.4,604.1 L518.2,602.8 L521.9,601.6 L525.6,600.3 L529.3,599.0 L533.1,597.8 L536.8,596.5 L540.5,595.3 L544.2,594.0 L548.0,592.7 L551.7,591.5 L555.4,590.2 L559.2,589.0 L562.9,587.7 L566.6,586.5 L570.3,585.2 L574.1,584.0 L577.8,582.7 L581.5,581.5 L585.2,580.3 L589.0,579.0 L592.7,577.8 L596.4,576.5 L600.1,575.3 L603.9,574.0 L607.6,572.8 L611.3,571.5 L615.0,570.3 L618.8,569.0 L622.5,567.8 L626.2,566.5 L629.9,565.3 L633.7,564.0 L637.4,562.8 L641.1,561.5 L644.8,560.3 L648.6,559.0 L652.3,557.8 L656.0,556.6 L659.7,555.3 L663.5,554.1 L667.2,552.8 M456.2,642.5 L459.9,641.2 L463.6,639.9 L467.2,638.6 L470.9,637.3 L474.5,636.0 L478.2,634.7 L481.8,633.4 L485.5,632.1 L489.1,630.8 L492.8,629.6 L496.4,628.3 L500.1,627.0 L503.7,625.7 L507.4,624.4 L511.0,623.1 L514.7,621.8 L518.3,620.5 L522.0,619.2 L525.6,617.9 L529.3,616.6 L532.9,615.3 L536.6,614.0 L540.2,612.7 L543.9,611.4 L547.5,610.1 L551.2,608.8 L554.8,607.5 L558.5,606.3 L562.1,605.0 L565.8,603.7 L569.4,602.4 L573.1,601.1 L576.7,599.8 L580.4,598.5 L584.0,597.3 L587.7,596.0 L591.3,594.7 L595.0,593.4 L598.6,592.1 L602.3,590.8 L605.9,589.5 L609.6,588.2 L613.2,587.0 L616.9,585.7 L620.5,584.4 L624.2,583.1 L627.8,581.8 L631.5,580.5 L635.1,579.2 L638.8,578.0 L642.4,576.7 L646.1,575.4 L649.7,574.1 L653.4,572.8 L657.0,571.5 L660.7,570.2 L664.3,568.9 L668.0,567.7 L671.6,566.4 M465.1,658.2 L468.7,656.9 L472.3,655.6 L475.9,654.3 L479.4,652.9 L483.0,651.6 L486.6,650.3 L490.2,648.9 L493.7,647.6 L497.3,646.3 L500.9,645.0 L504.5,643.6 L508.1,642.3 L511.6,641.0 L515.2,639.6 L518.8,638.3 L522.4,637.0 L525.9,635.7 L529.5,634.3 L533.1,633.0 L536.7,631.7 L540.2,630.3 L543.8,629.0 L547.4,627.7 L551.0,626.3 L554.6,625.0 L558.1,623.7 L561.7,622.4 L565.3,621.0 L568.9,619.7 L572.4,618.4 L576.0,617.1 L579.6,615.7 L583.2,614.4 L586.7,613.1 L590.3,611.8 L593.9,610.4 L597.5,609.1 L601.0,607.8 L604.6,606.5 L608.2,605.1 L611.7,603.8 L615.3,602.5 L618.9,601.2 L622.5,599.8 L626.0,598.5 L629.6,597.2 L633.2,595.8 L636.8,594.5 L640.3,593.2 L643.9,591.9 L647.5,590.5 L651.1,589.2 L654.6,587.9 L658.2,586.6 L661.8,585.2 L665.3,583.9 L668.9,582.6 L672.5,581.3 L676.1,579.9 M474.0,674.0 L477.5,672.6 L481.0,671.3 L484.5,669.9 L488.0,668.5 L491.5,667.2 L495.0,665.8 L498.5,664.5 L502.0,663.1 L505.5,661.7 L509.0,660.4 L512.5,659.0 L516.0,657.6 L519.5,656.3 L523.0,654.9 L526.5,653.5 L530.0,652.2 L533.6,650.8 L537.1,649.4 L540.6,648.1 L544.1,646.7 L547.6,645.4 L551.1,644.0 L554.6,642.6 L558.1,641.3 L561.6,639.9 L565.1,638.5 L568.6,637.2 L572.1,635.8 L575.6,634.4 L579.1,633.1 L582.6,631.7 L586.1,630.4 L589.6,629.0 L593.1,627.6 L596.6,626.3 L600.1,624.9 L603.6,623.5 L607.1,622.2 L610.6,620.8 L614.1,619.4 L617.6,618.1 L621.1,616.7 L624.5,615.3 L628.0,614.0 L631.5,612.6 L635.0,611.2 L638.5,609.9 L642.0,608.5 L645.5,607.2 L649.0,605.8 L652.5,604.4 L656.0,603.1 L659.5,601.7 L663.0,600.3 L666.5,599.0 L670.0,597.6 L673.5,596.2 L677.0,594.9 L680.5,593.5 M482.9,689.8 L486.3,688.4 L489.7,687.0 L493.2,685.6 L496.6,684.2 L500.0,682.8 L503.4,681.4 L506.9,680.0 L510.3,678.6 L513.7,677.2 L517.2,675.8 L520.6,674.4 L524.0,673.0 L527.4,671.6 L530.9,670.2 L534.3,668.8 L537.7,667.4 L541.2,666.0 L544.6,664.6 L548.0,663.2 L551.4,661.8 L554.9,660.4 L558.3,659.0 L561.7,657.6 L565.2,656.2 L568.6,654.8 L572.0,653.4 L575.4,652.0 L578.9,650.6 L582.3,649.2 L585.7,647.8 L589.2,646.4 L592.6,645.0 L596.0,643.6 L599.4,642.2 L602.8,640.8 L606.3,639.4 L609.7,638.0 L613.1,636.6 L616.5,635.1 L619.9,633.7 L623.4,632.3 L626.8,630.9 L630.2,629.5 L633.6,628.1 L637.0,626.7 L640.5,625.3 L643.9,623.9 L647.3,622.5 L650.7,621.1 L654.1,619.7 L657.6,618.3 L661.0,616.9 L664.4,615.5 L667.8,614.1 L671.3,612.7 L674.7,611.3 L678.1,609.9 L681.5,608.5 L684.9,607.1 M491.8,705.5 L495.1,704.1 L498.5,702.6 L501.8,701.2 L505.2,699.8 L508.5,698.3 L511.9,696.9 L515.2,695.5 L518.6,694.0 L521.9,692.6 L525.3,691.2 L528.6,689.7 L532.0,688.3 L535.4,686.9 L538.7,685.4 L542.1,684.0 L545.4,682.6 L548.8,681.1 L552.1,679.7 L555.5,678.3 L558.8,676.8 L562.2,675.4 L565.5,674.0 L568.9,672.5 L572.3,671.1 L575.6,669.7 L579.0,668.2 L582.3,666.8 L585.7,665.4 L589.0,663.9 L592.4,662.5 L595.7,661.0 L599.1,659.6 L602.4,658.2 L605.8,656.7 L609.1,655.3 L612.4,653.8 L615.8,652.4 L619.1,650.9 L622.5,649.5 L625.8,648.1 L629.2,646.6 L632.5,645.2 L635.9,643.7 L639.2,642.3 L642.5,640.8 L645.9,639.4 L649.2,637.9 L652.6,636.5 L655.9,635.1 L659.3,633.6 L662.6,632.2 L666.0,630.7 L669.3,629.3 L672.7,627.8 L676.0,626.4 L679.3,625.0 L682.7,623.5 L686.0,622.1 L689.4,620.6 M500.6,721.2 L503.9,719.8 L507.2,718.3 L510.5,716.8 L513.7,715.4 L517.0,713.9 L520.3,712.4 L523.6,711.0 L526.9,709.5 L530.1,708.0 L533.4,706.6 L536.7,705.1 L540.0,703.6 L543.3,702.2 L546.5,700.7 L549.8,699.2 L553.1,697.8 L556.4,696.3 L559.7,694.8 L562.9,693.3 L566.2,691.9 L569.5,690.4 L572.8,688.9 L576.1,687.5 L579.3,686.0 L582.6,684.5 L585.9,683.1 L589.2,681.6 L592.5,680.1 L595.8,678.7 L599.0,677.2 L602.3,675.7 L605.6,674.2 L608.8,672.7 L612.1,671.3 L615.4,669.8 L618.6,668.3 L621.9,666.8 L625.2,665.3 L628.4,663.8 L631.7,662.4 L635.0,660.9 L638.2,659.4 L641.5,657.9 L644.8,656.4 L648.1,654.9 L651.3,653.5 L654.6,652.0 L657.9,650.5 L661.1,649.0 L664.4,647.5 L667.7,646.1 L670.9,644.6 L674.2,643.1 L677.5,641.6 L680.7,640.1 L684.0,638.6 L687.3,637.2 L690.5,635.7 L693.8,634.2 M509.5,737.0 L512.7,735.5 L515.9,734.0 L519.1,732.5 L522.3,731.0 L525.5,729.5 L528.7,728.0 L531.9,726.5 L535.1,725.0 L538.4,723.5 L541.6,722.0 L544.8,720.5 L548.0,719.0 L551.2,717.5 L554.4,716.0 L557.6,714.4 L560.8,712.9 L564.0,711.4 L567.2,709.9 L570.4,708.4 L573.6,706.9 L576.8,705.4 L580.0,703.9 L583.2,702.4 L586.4,700.9 L589.6,699.4 L592.9,697.9 L596.1,696.4 L599.3,694.9 L602.5,693.4 L605.7,691.9 L608.9,690.4 L612.1,688.8 L615.2,687.3 L618.4,685.8 L621.6,684.3 L624.8,682.8 L628.0,681.2 L631.2,679.7 L634.4,678.2 L637.6,676.7 L640.8,675.1 L644.0,673.6 L647.2,672.1 L650.4,670.6 L653.6,669.1 L656.7,667.5 L659.9,666.0 L663.1,664.5 L666.3,663.0 L669.5,661.4 L672.7,659.9 L675.9,658.4 L679.1,656.9 L682.3,655.4 L685.5,653.8 L688.7,652.3 L691.9,650.8 L695.1,649.3 L698.2,647.8 M518.4,752.8 L521.5,751.2 L524.6,749.7 L527.8,748.1 L530.9,746.6 L534.0,745.1 L537.2,743.5 L540.3,742.0 L543.4,740.4 L546.6,738.9 L549.7,737.4 L552.8,735.8 L556.0,734.3 L559.1,732.8 L562.2,731.2 L565.3,729.7 L568.5,728.1 L571.6,726.6 L574.7,725.1 L577.9,723.5 L581.0,722.0 L584.1,720.4 L587.3,718.9 L590.4,717.4 L593.5,715.8 L596.7,714.3 L599.8,712.8 L602.9,711.2 L606.1,709.7 L609.2,708.1 L612.3,706.6 L615.4,705.0 L618.5,703.5 L621.7,701.9 L624.8,700.3 L627.9,698.8 L631.0,697.2 L634.1,695.7 L637.2,694.1 L640.4,692.5 L643.5,691.0 L646.6,689.4 L649.7,687.9 L652.8,686.3 L655.9,684.7 L659.1,683.2 L662.2,681.6 L665.3,680.0 L668.4,678.5 L671.5,676.9 L674.6,675.4 L677.8,673.8 L680.9,672.2 L684.0,670.7 L687.1,669.1 L690.2,667.6 L693.3,666.0 L696.5,664.4 L699.6,662.9 L702.7,661.3 M527.2,768.5 L530.3,766.9 L533.4,765.4 L536.4,763.8 L539.5,762.2 L542.5,760.6 L545.6,759.1 L548.7,757.5 L551.7,755.9 L554.8,754.3 L557.8,752.8 L560.9,751.2 L563.9,749.6 L567.0,748.1 L570.1,746.5 L573.1,744.9 L576.2,743.3 L579.2,741.8 L582.3,740.2 L585.3,738.6 L588.4,737.0 L591.5,735.5 L594.5,733.9 L597.6,732.3 L600.6,730.7 L603.7,729.2 L606.7,727.6 L609.8,726.0 L612.9,724.5 L615.9,722.9 L619.0,721.3 L622.0,719.7 L625.0,718.1 L628.1,716.5 L631.1,714.9 L634.2,713.3 L637.2,711.7 L640.2,710.1 L643.3,708.5 L646.3,706.9 L649.4,705.3 L652.4,703.7 L655.4,702.1 L658.5,700.5 L661.5,698.9 L664.6,697.3 L667.6,695.7 L670.6,694.1 L673.7,692.5 L676.7,690.9 L679.8,689.3 L682.8,687.7 L685.8,686.1 L688.9,684.5 L691.9,682.9 L695.0,681.3 L698.0,679.7 L701.0,678.1 L704.1,676.5 L707.1,674.9 M536.1,784.2 L539.1,782.6 L542.1,781.0 L545.1,779.4 L548.1,777.8 L551.0,776.2 L554.0,774.6 L557.0,773.0 L560.0,771.4 L563.0,769.8 L566.0,768.2 L568.9,766.6 L571.9,765.0 L574.9,763.3 L577.9,761.7 L580.9,760.1 L583.9,758.5 L586.8,756.9 L589.8,755.3 L592.8,753.7 L595.8,752.1 L598.8,750.5 L601.8,748.9 L604.7,747.3 L607.7,745.7 L610.7,744.1 L613.7,742.4 L616.7,740.8 L619.7,739.2 L622.6,737.6 L625.6,736.0 L628.6,734.4 L631.5,732.7 L634.5,731.1 L637.5,729.4 L640.4,727.8 L643.4,726.2 L646.4,724.5 L649.3,722.9 L652.3,721.2 L655.2,719.6 L658.2,718.0 L661.2,716.3 L664.1,714.7 L667.1,713.0 L670.1,711.4 L673.0,709.8 L676.0,708.1 L679.0,706.5 L681.9,704.8 L684.9,703.2 L687.8,701.6 L690.8,699.9 L693.8,698.3 L696.7,696.6 L699.7,695.0 L702.7,693.4 L705.6,691.7 L708.6,690.1 L711.6,688.4 M545.0,800.0 L547.9,798.4 L550.8,796.7 L553.7,795.1 L556.6,793.4 L559.5,791.8 L562.5,790.1 L565.4,788.5 L568.3,786.9 L571.2,785.2 L574.1,783.6 L577.0,781.9 L579.9,780.3 L582.8,778.6 L585.7,777.0 L588.6,775.4 L591.5,773.7 L594.5,772.1 L597.4,770.4 L600.3,768.8 L603.2,767.1 L606.1,765.5 L609.0,763.9 L611.9,762.2 L614.8,760.6 L617.7,758.9 L620.6,757.3 L623.5,755.6 L626.4,754.0 L629.4,752.4 L632.2,750.7 L635.1,749.0 L638.0,747.3 L640.9,745.7 L643.8,744.0 L646.7,742.3 L649.6,740.6 L652.5,738.9 L655.4,737.3 L658.2,735.6 L661.1,733.9 L664.0,732.2 L666.9,730.5 L669.8,728.9 L672.7,727.2 L675.6,725.5 L678.5,723.8 L681.3,722.1 L684.2,720.5 L687.1,718.8 L690.0,717.1 L692.9,715.4 L695.8,713.8 L698.7,712.1 L701.6,710.4 L704.4,708.7 L707.3,707.0 L710.2,705.4 L713.1,703.7 L716.0,702.0" fill="none" stroke="#dac8bc" stroke-width="4.5"/></g>

</g>
<path d="M405.0,542.0 L420.0,588.0 L427.0,623.0 L441.0,659.0 L455.0,682.0 L469.0,706.0 L484.0,729.0 L500.0,755.0 L520.0,780.0 L545.0,795.0" fill="none" stroke="#bfa79a" stroke-width="10" opacity="0.55" transform="translate(-5,3)" filter="url(#bl30)"/>
<circle cx="405.0" cy="542.0" r="8.6" fill="url(#pom)"/>
<circle cx="410.7" cy="559.6" r="8.6" fill="url(#pom)"/>
<circle cx="416.5" cy="577.2" r="8.6" fill="url(#pom)"/>
<circle cx="421.4" cy="595.1" r="8.6" fill="url(#pom)"/>
<circle cx="425.1" cy="613.3" r="8.6" fill="url(#pom)"/>
<circle cx="430.1" cy="631.0" r="8.6" fill="url(#pom)"/>
<circle cx="436.8" cy="648.3" r="8.6" fill="url(#pom)"/>
<circle cx="444.7" cy="665.0" r="8.6" fill="url(#pom)"/>
<circle cx="454.3" cy="680.9" r="8.6" fill="url(#pom)"/>
<circle cx="463.7" cy="696.9" r="8.6" fill="url(#pom)"/>
<circle cx="473.3" cy="712.7" r="8.6" fill="url(#pom)"/>
<circle cx="483.5" cy="728.2" r="8.6" fill="url(#pom)"/>
<circle cx="493.2" cy="744.0" r="8.6" fill="url(#pom)"/>
<circle cx="503.5" cy="759.3" r="8.6" fill="url(#pom)"/>
<circle cx="515.1" cy="773.8" r="8.6" fill="url(#pom)"/>
<circle cx="529.1" cy="785.5" r="8.6" fill="url(#pom)"/>
<circle cx="545.0" cy="795.0" r="8.6" fill="url(#pom)"/>
<path d="M708,697 L718,704 L727,722 L734,742 L690,744 L645,742 Z" fill="#d3bcaf" filter="url(#bl15)"/>
<path d="M710,702 L720,712 L727,730 L700,738 L675,738 Z" fill="#b99f92" opacity="0.6" filter="url(#bl15)"/>
<clipPath id="cc"><path d="M644.0,503.0 L700.0,480.0 L770.0,455.0 L810.0,450.0 L839.0,447.0 L858.0,510.0 L879.0,553.0 L893.0,586.0 L907.0,619.0 L921.0,652.0 L928.0,680.0 L890.0,702.0 L850.0,722.0 L790.0,744.0 L745.0,760.0 L735.0,740.0 L718.0,700.0 L700.0,660.0 L680.0,610.0 L665.0,570.0 L650.0,540.0Z"/></clipPath>
<g clip-path="url(#cc)">
<path d="M644.0,503.0 L700.0,480.0 L770.0,455.0 L810.0,450.0 L839.0,447.0 L858.0,510.0 L879.0,553.0 L893.0,586.0 L907.0,619.0 L921.0,652.0 L928.0,680.0 L890.0,702.0 L850.0,722.0 L790.0,744.0 L745.0,760.0 L735.0,740.0 L718.0,700.0 L700.0,660.0 L680.0,610.0 L665.0,570.0 L650.0,540.0Z" fill="#faf5f0"/>
<g filter="url(#bl30)"><path d="M644.0,516.0 L647.4,515.1 L650.8,514.1 L654.2,513.2 L657.5,512.3 L660.9,511.3 L664.3,510.4 L667.7,509.5 L671.1,508.5 L674.5,507.6 L677.9,506.7 L681.3,505.7 L684.6,504.8 L688.0,503.9 L691.4,502.9 L694.8,502.0 L698.2,501.0 L701.6,500.1 L705.0,499.2 L708.4,498.2 L711.7,497.3 L715.1,496.4 L718.5,495.4 L721.9,494.5 L725.3,493.6 L728.7,492.6 L732.1,491.7 L735.5,490.8 L738.8,489.8 L742.2,488.9 L745.6,488.0 L749.0,487.0 L752.4,486.1 L755.8,485.2 L759.2,484.2 L762.5,483.1 L765.8,481.9 L769.1,480.8 L772.4,479.6 L775.7,478.4 L779.1,477.3 L782.4,476.1 L785.7,474.9 L789.0,473.7 L792.3,472.6 L795.6,471.4 L798.9,470.2 L802.2,469.1 L805.6,467.9 L808.9,466.7 L812.2,465.5 L815.5,464.4 L818.8,463.2 L822.1,462.0 L825.4,460.9 L828.7,459.7 L832.1,458.5 L835.4,457.3 L838.7,456.2 L842.0,455.0 M651.8,535.2 L655.1,534.2 L658.5,533.2 L661.9,532.3 L665.3,531.3 L668.6,530.4 L672.0,529.4 L675.4,528.5 L678.8,527.5 L682.1,526.6 L685.5,525.6 L688.9,524.7 L692.3,523.7 L695.6,522.8 L699.0,521.8 L702.4,520.9 L705.8,519.9 L709.1,519.0 L712.5,518.0 L715.9,517.1 L719.3,516.1 L722.6,515.2 L726.0,514.2 L729.4,513.3 L732.8,512.3 L736.1,511.3 L739.5,510.4 L742.9,509.4 L746.3,508.5 L749.6,507.5 L753.0,506.6 L756.4,505.6 L759.7,504.7 L763.1,503.7 L766.5,502.7 L769.8,501.6 L773.1,500.4 L776.4,499.2 L779.7,498.0 L782.9,496.8 L786.2,495.6 L789.5,494.4 L792.8,493.2 L796.1,492.0 L799.4,490.8 L802.7,489.5 L806.0,488.3 L809.3,487.1 L812.6,485.9 L815.9,484.7 L819.1,483.5 L822.4,482.3 L825.7,481.1 L829.0,479.9 L832.3,478.7 L835.6,477.5 L838.9,476.3 L842.2,475.1 L845.5,473.9 L848.8,472.7 M659.5,554.3 L662.9,553.3 L666.3,552.4 L669.6,551.4 L673.0,550.4 L676.3,549.5 L679.7,548.5 L683.1,547.5 L686.4,546.5 L689.8,545.6 L693.2,544.6 L696.5,543.6 L699.9,542.7 L703.2,541.7 L706.6,540.7 L710.0,539.8 L713.3,538.8 L716.7,537.8 L720.0,536.8 L723.4,535.9 L726.8,534.9 L730.1,533.9 L733.5,533.0 L736.9,532.0 L740.2,531.0 L743.6,530.1 L746.9,529.1 L750.3,528.1 L753.7,527.2 L757.0,526.2 L760.4,525.2 L763.7,524.2 L767.1,523.3 L770.5,522.3 L773.8,521.2 L777.1,520.1 L780.3,518.8 L783.6,517.6 L786.9,516.3 L790.1,515.1 L793.4,513.9 L796.7,512.6 L800.0,511.4 L803.2,510.2 L806.5,508.9 L809.8,507.7 L813.0,506.5 L816.3,505.2 L819.6,504.0 L822.8,502.7 L826.1,501.5 L829.4,500.3 L832.7,499.0 L835.9,497.8 L839.2,496.6 L842.5,495.3 L845.7,494.1 L849.0,492.9 L852.3,491.6 L855.5,490.4 M667.3,573.5 L670.7,572.5 L674.0,571.5 L677.4,570.5 L680.7,569.5 L684.1,568.5 L687.4,567.5 L690.7,566.5 L694.1,565.6 L697.4,564.6 L700.8,563.6 L704.1,562.6 L707.5,561.6 L710.8,560.6 L714.2,559.6 L717.5,558.6 L720.9,557.7 L724.2,556.7 L727.6,555.7 L730.9,554.7 L734.3,553.7 L737.6,552.7 L741.0,551.7 L744.3,550.7 L747.7,549.8 L751.0,548.8 L754.4,547.8 L757.7,546.8 L761.1,545.8 L764.4,544.8 L767.8,543.8 L771.1,542.8 L774.5,541.9 L777.8,540.8 L781.1,539.7 L784.4,538.5 L787.6,537.3 L790.9,536.0 L794.1,534.7 L797.4,533.4 L800.6,532.2 L803.8,530.9 L807.1,529.6 L810.3,528.4 L813.6,527.1 L816.8,525.8 L820.1,524.6 L823.3,523.3 L826.6,522.0 L829.8,520.8 L833.1,519.5 L836.3,518.2 L839.6,517.0 L842.8,515.7 L846.1,514.4 L849.3,513.2 L852.6,511.9 L855.8,510.6 L859.1,509.3 L862.3,508.1 M675.1,592.6 L678.4,591.6 L681.7,590.6 L685.1,589.6 L688.4,588.6 L691.8,587.6 L695.1,586.6 L698.4,585.6 L701.8,584.6 L705.1,583.6 L708.4,582.6 L711.8,581.6 L715.1,580.6 L718.4,579.5 L721.8,578.5 L725.1,577.5 L728.4,576.5 L731.8,575.5 L735.1,574.5 L738.5,573.5 L741.8,572.5 L745.1,571.5 L748.5,570.5 L751.8,569.5 L755.1,568.5 L758.5,567.5 L761.8,566.5 L765.1,565.5 L768.5,564.5 L771.8,563.5 L775.1,562.5 L778.5,561.4 L781.8,560.4 L785.1,559.4 L788.4,558.2 L791.6,557.0 L794.9,555.7 L798.1,554.4 L801.3,553.1 L804.6,551.8 L807.8,550.5 L811.0,549.2 L814.2,547.9 L817.5,546.6 L820.7,545.3 L823.9,544.0 L827.1,542.7 L830.4,541.4 L833.6,540.1 L836.8,538.8 L840.0,537.5 L843.3,536.2 L846.5,534.9 L849.7,533.6 L852.9,532.3 L856.2,531.0 L859.4,529.7 L862.6,528.4 L865.9,527.1 L869.1,525.8 M682.8,611.8 L686.2,610.7 L689.5,609.7 L692.8,608.7 L696.1,607.7 L699.5,606.7 L702.8,605.6 L706.1,604.6 L709.4,603.6 L712.8,602.6 L716.1,601.5 L719.4,600.5 L722.7,599.5 L726.0,598.5 L729.4,597.4 L732.7,596.4 L736.0,595.4 L739.3,594.4 L742.7,593.4 L746.0,592.3 L749.3,591.3 L752.6,590.3 L755.9,589.3 L759.3,588.2 L762.6,587.2 L765.9,586.2 L769.2,585.2 L772.6,584.1 L775.9,583.1 L779.2,582.1 L782.5,581.1 L785.9,580.1 L789.2,579.0 L792.5,577.9 L795.7,576.8 L798.9,575.5 L802.1,574.1 L805.3,572.8 L808.5,571.5 L811.8,570.1 L815.0,568.8 L818.2,567.5 L821.4,566.1 L824.6,564.8 L827.8,563.5 L831.0,562.1 L834.2,560.8 L837.4,559.5 L840.6,558.1 L843.8,556.8 L847.0,555.5 L850.2,554.1 L853.4,552.8 L856.6,551.5 L859.8,550.1 L863.0,548.8 L866.2,547.5 L869.4,546.1 L872.6,544.8 L875.8,543.5 M690.6,630.9 L693.9,629.9 L697.2,628.8 L700.5,627.8 L703.9,626.8 L707.2,625.7 L710.5,624.7 L713.8,623.6 L717.1,622.6 L720.4,621.6 L723.7,620.5 L727.0,619.5 L730.3,618.4 L733.6,617.4 L737.0,616.3 L740.3,615.3 L743.6,614.3 L746.9,613.2 L750.2,612.2 L753.5,611.1 L756.8,610.1 L760.1,609.1 L763.4,608.0 L766.7,607.0 L770.1,605.9 L773.4,604.9 L776.7,603.9 L780.0,602.8 L783.3,601.8 L786.6,600.7 L789.9,599.7 L793.2,598.7 L796.5,597.6 L799.8,596.5 L803.0,595.3 L806.2,593.9 L809.4,592.6 L812.6,591.2 L815.8,589.8 L819.0,588.5 L822.1,587.1 L825.3,585.7 L828.5,584.4 L831.7,583.0 L834.9,581.6 L838.1,580.3 L841.2,578.9 L844.4,577.5 L847.6,576.2 L850.8,574.8 L854.0,573.4 L857.2,572.1 L860.3,570.7 L863.5,569.3 L866.7,568.0 L869.9,566.6 L873.1,565.3 L876.2,563.9 L879.4,562.5 L882.6,561.2 M698.4,650.1 L701.7,649.0 L705.0,648.0 L708.3,646.9 L711.6,645.8 L714.9,644.8 L718.2,643.7 L721.5,642.7 L724.8,641.6 L728.1,640.5 L731.4,639.5 L734.7,638.4 L737.9,637.4 L741.2,636.3 L744.5,635.3 L747.8,634.2 L751.1,633.1 L754.4,632.1 L757.7,631.0 L761.0,630.0 L764.3,628.9 L767.6,627.8 L770.9,626.8 L774.2,625.7 L777.5,624.7 L780.8,623.6 L784.1,622.6 L787.4,621.5 L790.7,620.4 L794.0,619.4 L797.3,618.3 L800.6,617.3 L803.9,616.2 L807.1,615.1 L810.3,613.8 L813.5,612.4 L816.7,611.0 L819.8,609.6 L823.0,608.2 L826.2,606.8 L829.3,605.4 L832.5,604.0 L835.6,602.6 L838.8,601.2 L842.0,599.8 L845.1,598.4 L848.3,597.0 L851.4,595.6 L854.6,594.2 L857.8,592.8 L860.9,591.4 L864.1,590.0 L867.3,588.6 L870.4,587.2 L873.6,585.8 L876.7,584.4 L879.9,583.0 L883.1,581.6 L886.2,580.2 L889.4,578.8 M706.2,669.2 L709.4,668.2 L712.7,667.1 L716.0,666.0 L719.3,664.9 L722.6,663.8 L725.9,662.8 L729.1,661.7 L732.4,660.6 L735.7,659.5 L739.0,658.5 L742.3,657.4 L745.6,656.3 L748.8,655.2 L752.1,654.2 L755.4,653.1 L758.7,652.0 L762.0,650.9 L765.3,649.9 L768.6,648.8 L771.8,647.7 L775.1,646.6 L778.4,645.5 L781.7,644.5 L785.0,643.4 L788.3,642.3 L791.5,641.2 L794.8,640.2 L798.1,639.1 L801.4,638.0 L804.7,636.9 L808.0,635.9 L811.2,634.8 L814.5,633.6 L817.7,632.3 L820.8,630.9 L823.9,629.4 L827.1,628.0 L830.2,626.6 L833.4,625.1 L836.5,623.7 L839.6,622.3 L842.8,620.8 L845.9,619.4 L849.1,618.0 L852.2,616.6 L855.3,615.1 L858.5,613.7 L861.6,612.3 L864.8,610.8 L867.9,609.4 L871.0,608.0 L874.2,606.5 L877.3,605.1 L880.5,603.7 L883.6,602.3 L886.7,600.8 L889.9,599.4 L893.0,598.0 L896.2,596.5 M713.9,688.4 L717.2,687.3 L720.5,686.2 L723.7,685.1 L727.0,684.0 L730.3,682.9 L733.6,681.8 L736.8,680.7 L740.1,679.6 L743.4,678.5 L746.6,677.4 L749.9,676.3 L753.2,675.3 L756.4,674.2 L759.7,673.1 L763.0,672.0 L766.3,670.9 L769.5,669.8 L772.8,668.7 L776.1,667.6 L779.3,666.5 L782.6,665.4 L785.9,664.3 L789.2,663.2 L792.4,662.1 L795.7,661.0 L799.0,659.9 L802.2,658.8 L805.5,657.7 L808.8,656.7 L812.1,655.6 L815.3,654.5 L818.6,653.4 L821.8,652.2 L825.0,650.8 L828.1,649.3 L831.2,647.9 L834.3,646.4 L837.4,644.9 L840.6,643.5 L843.7,642.0 L846.8,640.6 L849.9,639.1 L853.0,637.6 L856.2,636.2 L859.3,634.7 L862.4,633.2 L865.5,631.8 L868.6,630.3 L871.7,628.9 L874.9,627.4 L878.0,625.9 L881.1,624.5 L884.2,623.0 L887.3,621.5 L890.5,620.1 L893.6,618.6 L896.7,617.2 L899.8,615.7 L902.9,614.2 M721.7,707.5 L725.0,706.4 L728.2,705.3 L731.5,704.2 L734.7,703.1 L738.0,702.0 L741.2,700.9 L744.5,699.8 L747.8,698.6 L751.0,697.5 L754.3,696.4 L757.5,695.3 L760.8,694.2 L764.1,693.1 L767.3,692.0 L770.6,690.9 L773.8,689.7 L777.1,688.6 L780.3,687.5 L783.6,686.4 L786.9,685.3 L790.1,684.2 L793.4,683.1 L796.6,682.0 L799.9,680.9 L803.2,679.7 L806.4,678.6 L809.7,677.5 L812.9,676.4 L816.2,675.3 L819.4,674.2 L822.7,673.1 L826.0,672.0 L829.2,670.7 L832.3,669.3 L835.4,667.8 L838.5,666.3 L841.6,664.8 L844.7,663.3 L847.8,661.8 L850.9,660.3 L854.0,658.8 L857.1,657.3 L860.1,655.8 L863.2,654.3 L866.3,652.8 L869.4,651.4 L872.5,649.9 L875.6,648.4 L878.7,646.9 L881.8,645.4 L884.9,643.9 L888.0,642.4 L891.1,640.9 L894.2,639.4 L897.3,637.9 L900.4,636.4 L903.5,634.9 L906.6,633.4 L909.7,631.9 M729.5,726.7 L732.7,725.6 L736.0,724.4 L739.2,723.3 L742.4,722.2 L745.7,721.0 L748.9,719.9 L752.2,718.8 L755.4,717.7 L758.7,716.5 L761.9,715.4 L765.2,714.3 L768.4,713.1 L771.7,712.0 L774.9,710.9 L778.1,709.7 L781.4,708.6 L784.6,707.5 L787.9,706.4 L791.1,705.2 L794.4,704.1 L797.6,703.0 L800.9,701.8 L804.1,700.7 L807.4,699.6 L810.6,698.4 L813.8,697.3 L817.1,696.2 L820.3,695.1 L823.6,693.9 L826.8,692.8 L830.1,691.7 L833.3,690.5 L836.5,689.3 L839.6,687.8 L842.7,686.3 L845.7,684.7 L848.8,683.2 L851.9,681.7 L855.0,680.2 L858.0,678.6 L861.1,677.1 L864.2,675.6 L867.3,674.0 L870.3,672.5 L873.4,671.0 L876.5,669.5 L879.6,667.9 L882.6,666.4 L885.7,664.9 L888.8,663.4 L891.9,661.8 L894.9,660.3 L898.0,658.8 L901.1,657.3 L904.2,655.7 L907.2,654.2 L910.3,652.7 L913.4,651.1 L916.5,649.6 M737.2,745.8 L740.5,744.7 L743.7,743.6 L746.9,742.4 L750.2,741.3 L753.4,740.1 L756.6,739.0 L759.9,737.8 L763.1,736.7 L766.3,735.5 L769.6,734.4 L772.8,733.2 L776.0,732.1 L779.3,730.9 L782.5,729.8 L785.7,728.6 L789.0,727.5 L792.2,726.3 L795.4,725.2 L798.6,724.0 L801.9,722.9 L805.1,721.7 L808.3,720.6 L811.6,719.5 L814.8,718.3 L818.0,717.2 L821.3,716.0 L824.5,714.9 L827.7,713.7 L831.0,712.6 L834.2,711.4 L837.4,710.3 L840.7,709.1 L843.8,707.8 L846.9,706.3 L850.0,704.7 L853.0,703.2 L856.1,701.6 L859.1,700.1 L862.2,698.5 L865.2,696.9 L868.3,695.4 L871.3,693.8 L874.4,692.3 L877.4,690.7 L880.5,689.1 L883.5,687.6 L886.6,686.0 L889.6,684.5 L892.7,682.9 L895.8,681.3 L898.8,679.8 L901.9,678.2 L904.9,676.7 L908.0,675.1 L911.0,673.5 L914.1,672.0 L917.1,670.4 L920.2,668.9 L923.2,667.3 M745.0,765.0 L748.2,763.8 L751.4,762.7 L754.7,761.5 L757.9,760.3 L761.1,759.2 L764.3,758.0 L767.5,756.8 L770.8,755.7 L774.0,754.5 L777.2,753.3 L780.4,752.2 L783.6,751.0 L786.9,749.9 L790.1,748.7 L793.3,747.5 L796.5,746.4 L799.7,745.2 L803.0,744.0 L806.2,742.9 L809.4,741.7 L812.6,740.5 L815.8,739.4 L819.1,738.2 L822.3,737.0 L825.5,735.9 L828.7,734.7 L831.9,733.5 L835.2,732.4 L838.4,731.2 L841.6,730.0 L844.8,728.9 L848.0,727.7 L851.2,726.4 L854.2,724.8 L857.2,723.2 L860.3,721.6 L863.3,720.0 L866.3,718.4 L869.4,716.8 L872.4,715.2 L875.4,713.6 L878.5,712.1 L881.5,710.5 L884.5,708.9 L887.6,707.3 L890.6,705.7 L893.6,704.1 L896.7,702.5 L899.7,700.9 L902.7,699.3 L905.7,697.7 L908.8,696.1 L911.8,694.5 L914.8,693.0 L917.9,691.4 L920.9,689.8 L923.9,688.2 L927.0,686.6 L930.0,685.0" fill="none" stroke="#dac8bc" stroke-width="8.6" opacity="0.50" transform="translate(0,-4.2)"/></g>
<g filter="url(#bl10)"><path d="M644.0,516.0 L647.4,515.1 L650.8,514.1 L654.2,513.2 L657.5,512.3 L660.9,511.3 L664.3,510.4 L667.7,509.5 L671.1,508.5 L674.5,507.6 L677.9,506.7 L681.3,505.7 L684.6,504.8 L688.0,503.9 L691.4,502.9 L694.8,502.0 L698.2,501.0 L701.6,500.1 L705.0,499.2 L708.4,498.2 L711.7,497.3 L715.1,496.4 L718.5,495.4 L721.9,494.5 L725.3,493.6 L728.7,492.6 L732.1,491.7 L735.5,490.8 L738.8,489.8 L742.2,488.9 L745.6,488.0 L749.0,487.0 L752.4,486.1 L755.8,485.2 L759.2,484.2 L762.5,483.1 L765.8,481.9 L769.1,480.8 L772.4,479.6 L775.7,478.4 L779.1,477.3 L782.4,476.1 L785.7,474.9 L789.0,473.7 L792.3,472.6 L795.6,471.4 L798.9,470.2 L802.2,469.1 L805.6,467.9 L808.9,466.7 L812.2,465.5 L815.5,464.4 L818.8,463.2 L822.1,462.0 L825.4,460.9 L828.7,459.7 L832.1,458.5 L835.4,457.3 L838.7,456.2 L842.0,455.0 M651.8,535.2 L655.1,534.2 L658.5,533.2 L661.9,532.3 L665.3,531.3 L668.6,530.4 L672.0,529.4 L675.4,528.5 L678.8,527.5 L682.1,526.6 L685.5,525.6 L688.9,524.7 L692.3,523.7 L695.6,522.8 L699.0,521.8 L702.4,520.9 L705.8,519.9 L709.1,519.0 L712.5,518.0 L715.9,517.1 L719.3,516.1 L722.6,515.2 L726.0,514.2 L729.4,513.3 L732.8,512.3 L736.1,511.3 L739.5,510.4 L742.9,509.4 L746.3,508.5 L749.6,507.5 L753.0,506.6 L756.4,505.6 L759.7,504.7 L763.1,503.7 L766.5,502.7 L769.8,501.6 L773.1,500.4 L776.4,499.2 L779.7,498.0 L782.9,496.8 L786.2,495.6 L789.5,494.4 L792.8,493.2 L796.1,492.0 L799.4,490.8 L802.7,489.5 L806.0,488.3 L809.3,487.1 L812.6,485.9 L815.9,484.7 L819.1,483.5 L822.4,482.3 L825.7,481.1 L829.0,479.9 L832.3,478.7 L835.6,477.5 L838.9,476.3 L842.2,475.1 L845.5,473.9 L848.8,472.7 M659.5,554.3 L662.9,553.3 L666.3,552.4 L669.6,551.4 L673.0,550.4 L676.3,549.5 L679.7,548.5 L683.1,547.5 L686.4,546.5 L689.8,545.6 L693.2,544.6 L696.5,543.6 L699.9,542.7 L703.2,541.7 L706.6,540.7 L710.0,539.8 L713.3,538.8 L716.7,537.8 L720.0,536.8 L723.4,535.9 L726.8,534.9 L730.1,533.9 L733.5,533.0 L736.9,532.0 L740.2,531.0 L743.6,530.1 L746.9,529.1 L750.3,528.1 L753.7,527.2 L757.0,526.2 L760.4,525.2 L763.7,524.2 L767.1,523.3 L770.5,522.3 L773.8,521.2 L777.1,520.1 L780.3,518.8 L783.6,517.6 L786.9,516.3 L790.1,515.1 L793.4,513.9 L796.7,512.6 L800.0,511.4 L803.2,510.2 L806.5,508.9 L809.8,507.7 L813.0,506.5 L816.3,505.2 L819.6,504.0 L822.8,502.7 L826.1,501.5 L829.4,500.3 L832.7,499.0 L835.9,497.8 L839.2,496.6 L842.5,495.3 L845.7,494.1 L849.0,492.9 L852.3,491.6 L855.5,490.4 M667.3,573.5 L670.7,572.5 L674.0,571.5 L677.4,570.5 L680.7,569.5 L684.1,568.5 L687.4,567.5 L690.7,566.5 L694.1,565.6 L697.4,564.6 L700.8,563.6 L704.1,562.6 L707.5,561.6 L710.8,560.6 L714.2,559.6 L717.5,558.6 L720.9,557.7 L724.2,556.7 L727.6,555.7 L730.9,554.7 L734.3,553.7 L737.6,552.7 L741.0,551.7 L744.3,550.7 L747.7,549.8 L751.0,548.8 L754.4,547.8 L757.7,546.8 L761.1,545.8 L764.4,544.8 L767.8,543.8 L771.1,542.8 L774.5,541.9 L777.8,540.8 L781.1,539.7 L784.4,538.5 L787.6,537.3 L790.9,536.0 L794.1,534.7 L797.4,533.4 L800.6,532.2 L803.8,530.9 L807.1,529.6 L810.3,528.4 L813.6,527.1 L816.8,525.8 L820.1,524.6 L823.3,523.3 L826.6,522.0 L829.8,520.8 L833.1,519.5 L836.3,518.2 L839.6,517.0 L842.8,515.7 L846.1,514.4 L849.3,513.2 L852.6,511.9 L855.8,510.6 L859.1,509.3 L862.3,508.1 M675.1,592.6 L678.4,591.6 L681.7,590.6 L685.1,589.6 L688.4,588.6 L691.8,587.6 L695.1,586.6 L698.4,585.6 L701.8,584.6 L705.1,583.6 L708.4,582.6 L711.8,581.6 L715.1,580.6 L718.4,579.5 L721.8,578.5 L725.1,577.5 L728.4,576.5 L731.8,575.5 L735.1,574.5 L738.5,573.5 L741.8,572.5 L745.1,571.5 L748.5,570.5 L751.8,569.5 L755.1,568.5 L758.5,567.5 L761.8,566.5 L765.1,565.5 L768.5,564.5 L771.8,563.5 L775.1,562.5 L778.5,561.4 L781.8,560.4 L785.1,559.4 L788.4,558.2 L791.6,557.0 L794.9,555.7 L798.1,554.4 L801.3,553.1 L804.6,551.8 L807.8,550.5 L811.0,549.2 L814.2,547.9 L817.5,546.6 L820.7,545.3 L823.9,544.0 L827.1,542.7 L830.4,541.4 L833.6,540.1 L836.8,538.8 L840.0,537.5 L843.3,536.2 L846.5,534.9 L849.7,533.6 L852.9,532.3 L856.2,531.0 L859.4,529.7 L862.6,528.4 L865.9,527.1 L869.1,525.8 M682.8,611.8 L686.2,610.7 L689.5,609.7 L692.8,608.7 L696.1,607.7 L699.5,606.7 L702.8,605.6 L706.1,604.6 L709.4,603.6 L712.8,602.6 L716.1,601.5 L719.4,600.5 L722.7,599.5 L726.0,598.5 L729.4,597.4 L732.7,596.4 L736.0,595.4 L739.3,594.4 L742.7,593.4 L746.0,592.3 L749.3,591.3 L752.6,590.3 L755.9,589.3 L759.3,588.2 L762.6,587.2 L765.9,586.2 L769.2,585.2 L772.6,584.1 L775.9,583.1 L779.2,582.1 L782.5,581.1 L785.9,580.1 L789.2,579.0 L792.5,577.9 L795.7,576.8 L798.9,575.5 L802.1,574.1 L805.3,572.8 L808.5,571.5 L811.8,570.1 L815.0,568.8 L818.2,567.5 L821.4,566.1 L824.6,564.8 L827.8,563.5 L831.0,562.1 L834.2,560.8 L837.4,559.5 L840.6,558.1 L843.8,556.8 L847.0,555.5 L850.2,554.1 L853.4,552.8 L856.6,551.5 L859.8,550.1 L863.0,548.8 L866.2,547.5 L869.4,546.1 L872.6,544.8 L875.8,543.5 M690.6,630.9 L693.9,629.9 L697.2,628.8 L700.5,627.8 L703.9,626.8 L707.2,625.7 L710.5,624.7 L713.8,623.6 L717.1,622.6 L720.4,621.6 L723.7,620.5 L727.0,619.5 L730.3,618.4 L733.6,617.4 L737.0,616.3 L740.3,615.3 L743.6,614.3 L746.9,613.2 L750.2,612.2 L753.5,611.1 L756.8,610.1 L760.1,609.1 L763.4,608.0 L766.7,607.0 L770.1,605.9 L773.4,604.9 L776.7,603.9 L780.0,602.8 L783.3,601.8 L786.6,600.7 L789.9,599.7 L793.2,598.7 L796.5,597.6 L799.8,596.5 L803.0,595.3 L806.2,593.9 L809.4,592.6 L812.6,591.2 L815.8,589.8 L819.0,588.5 L822.1,587.1 L825.3,585.7 L828.5,584.4 L831.7,583.0 L834.9,581.6 L838.1,580.3 L841.2,578.9 L844.4,577.5 L847.6,576.2 L850.8,574.8 L854.0,573.4 L857.2,572.1 L860.3,570.7 L863.5,569.3 L866.7,568.0 L869.9,566.6 L873.1,565.3 L876.2,563.9 L879.4,562.5 L882.6,561.2 M698.4,650.1 L701.7,649.0 L705.0,648.0 L708.3,646.9 L711.6,645.8 L714.9,644.8 L718.2,643.7 L721.5,642.7 L724.8,641.6 L728.1,640.5 L731.4,639.5 L734.7,638.4 L737.9,637.4 L741.2,636.3 L744.5,635.3 L747.8,634.2 L751.1,633.1 L754.4,632.1 L757.7,631.0 L761.0,630.0 L764.3,628.9 L767.6,627.8 L770.9,626.8 L774.2,625.7 L777.5,624.7 L780.8,623.6 L784.1,622.6 L787.4,621.5 L790.7,620.4 L794.0,619.4 L797.3,618.3 L800.6,617.3 L803.9,616.2 L807.1,615.1 L810.3,613.8 L813.5,612.4 L816.7,611.0 L819.8,609.6 L823.0,608.2 L826.2,606.8 L829.3,605.4 L832.5,604.0 L835.6,602.6 L838.8,601.2 L842.0,599.8 L845.1,598.4 L848.3,597.0 L851.4,595.6 L854.6,594.2 L857.8,592.8 L860.9,591.4 L864.1,590.0 L867.3,588.6 L870.4,587.2 L873.6,585.8 L876.7,584.4 L879.9,583.0 L883.1,581.6 L886.2,580.2 L889.4,578.8 M706.2,669.2 L709.4,668.2 L712.7,667.1 L716.0,666.0 L719.3,664.9 L722.6,663.8 L725.9,662.8 L729.1,661.7 L732.4,660.6 L735.7,659.5 L739.0,658.5 L742.3,657.4 L745.6,656.3 L748.8,655.2 L752.1,654.2 L755.4,653.1 L758.7,652.0 L762.0,650.9 L765.3,649.9 L768.6,648.8 L771.8,647.7 L775.1,646.6 L778.4,645.5 L781.7,644.5 L785.0,643.4 L788.3,642.3 L791.5,641.2 L794.8,640.2 L798.1,639.1 L801.4,638.0 L804.7,636.9 L808.0,635.9 L811.2,634.8 L814.5,633.6 L817.7,632.3 L820.8,630.9 L823.9,629.4 L827.1,628.0 L830.2,626.6 L833.4,625.1 L836.5,623.7 L839.6,622.3 L842.8,620.8 L845.9,619.4 L849.1,618.0 L852.2,616.6 L855.3,615.1 L858.5,613.7 L861.6,612.3 L864.8,610.8 L867.9,609.4 L871.0,608.0 L874.2,606.5 L877.3,605.1 L880.5,603.7 L883.6,602.3 L886.7,600.8 L889.9,599.4 L893.0,598.0 L896.2,596.5 M713.9,688.4 L717.2,687.3 L720.5,686.2 L723.7,685.1 L727.0,684.0 L730.3,682.9 L733.6,681.8 L736.8,680.7 L740.1,679.6 L743.4,678.5 L746.6,677.4 L749.9,676.3 L753.2,675.3 L756.4,674.2 L759.7,673.1 L763.0,672.0 L766.3,670.9 L769.5,669.8 L772.8,668.7 L776.1,667.6 L779.3,666.5 L782.6,665.4 L785.9,664.3 L789.2,663.2 L792.4,662.1 L795.7,661.0 L799.0,659.9 L802.2,658.8 L805.5,657.7 L808.8,656.7 L812.1,655.6 L815.3,654.5 L818.6,653.4 L821.8,652.2 L825.0,650.8 L828.1,649.3 L831.2,647.9 L834.3,646.4 L837.4,644.9 L840.6,643.5 L843.7,642.0 L846.8,640.6 L849.9,639.1 L853.0,637.6 L856.2,636.2 L859.3,634.7 L862.4,633.2 L865.5,631.8 L868.6,630.3 L871.7,628.9 L874.9,627.4 L878.0,625.9 L881.1,624.5 L884.2,623.0 L887.3,621.5 L890.5,620.1 L893.6,618.6 L896.7,617.2 L899.8,615.7 L902.9,614.2 M721.7,707.5 L725.0,706.4 L728.2,705.3 L731.5,704.2 L734.7,703.1 L738.0,702.0 L741.2,700.9 L744.5,699.8 L747.8,698.6 L751.0,697.5 L754.3,696.4 L757.5,695.3 L760.8,694.2 L764.1,693.1 L767.3,692.0 L770.6,690.9 L773.8,689.7 L777.1,688.6 L780.3,687.5 L783.6,686.4 L786.9,685.3 L790.1,684.2 L793.4,683.1 L796.6,682.0 L799.9,680.9 L803.2,679.7 L806.4,678.6 L809.7,677.5 L812.9,676.4 L816.2,675.3 L819.4,674.2 L822.7,673.1 L826.0,672.0 L829.2,670.7 L832.3,669.3 L835.4,667.8 L838.5,666.3 L841.6,664.8 L844.7,663.3 L847.8,661.8 L850.9,660.3 L854.0,658.8 L857.1,657.3 L860.1,655.8 L863.2,654.3 L866.3,652.8 L869.4,651.4 L872.5,649.9 L875.6,648.4 L878.7,646.9 L881.8,645.4 L884.9,643.9 L888.0,642.4 L891.1,640.9 L894.2,639.4 L897.3,637.9 L900.4,636.4 L903.5,634.9 L906.6,633.4 L909.7,631.9 M729.5,726.7 L732.7,725.6 L736.0,724.4 L739.2,723.3 L742.4,722.2 L745.7,721.0 L748.9,719.9 L752.2,718.8 L755.4,717.7 L758.7,716.5 L761.9,715.4 L765.2,714.3 L768.4,713.1 L771.7,712.0 L774.9,710.9 L778.1,709.7 L781.4,708.6 L784.6,707.5 L787.9,706.4 L791.1,705.2 L794.4,704.1 L797.6,703.0 L800.9,701.8 L804.1,700.7 L807.4,699.6 L810.6,698.4 L813.8,697.3 L817.1,696.2 L820.3,695.1 L823.6,693.9 L826.8,692.8 L830.1,691.7 L833.3,690.5 L836.5,689.3 L839.6,687.8 L842.7,686.3 L845.7,684.7 L848.8,683.2 L851.9,681.7 L855.0,680.2 L858.0,678.6 L861.1,677.1 L864.2,675.6 L867.3,674.0 L870.3,672.5 L873.4,671.0 L876.5,669.5 L879.6,667.9 L882.6,666.4 L885.7,664.9 L888.8,663.4 L891.9,661.8 L894.9,660.3 L898.0,658.8 L901.1,657.3 L904.2,655.7 L907.2,654.2 L910.3,652.7 L913.4,651.1 L916.5,649.6 M737.2,745.8 L740.5,744.7 L743.7,743.6 L746.9,742.4 L750.2,741.3 L753.4,740.1 L756.6,739.0 L759.9,737.8 L763.1,736.7 L766.3,735.5 L769.6,734.4 L772.8,733.2 L776.0,732.1 L779.3,730.9 L782.5,729.8 L785.7,728.6 L789.0,727.5 L792.2,726.3 L795.4,725.2 L798.6,724.0 L801.9,722.9 L805.1,721.7 L808.3,720.6 L811.6,719.5 L814.8,718.3 L818.0,717.2 L821.3,716.0 L824.5,714.9 L827.7,713.7 L831.0,712.6 L834.2,711.4 L837.4,710.3 L840.7,709.1 L843.8,707.8 L846.9,706.3 L850.0,704.7 L853.0,703.2 L856.1,701.6 L859.1,700.1 L862.2,698.5 L865.2,696.9 L868.3,695.4 L871.3,693.8 L874.4,692.3 L877.4,690.7 L880.5,689.1 L883.5,687.6 L886.6,686.0 L889.6,684.5 L892.7,682.9 L895.8,681.3 L898.8,679.8 L901.9,678.2 L904.9,676.7 L908.0,675.1 L911.0,673.5 L914.1,672.0 L917.1,670.4 L920.2,668.9 L923.2,667.3 M745.0,765.0 L748.2,763.8 L751.4,762.7 L754.7,761.5 L757.9,760.3 L761.1,759.2 L764.3,758.0 L767.5,756.8 L770.8,755.7 L774.0,754.5 L777.2,753.3 L780.4,752.2 L783.6,751.0 L786.9,749.9 L790.1,748.7 L793.3,747.5 L796.5,746.4 L799.7,745.2 L803.0,744.0 L806.2,742.9 L809.4,741.7 L812.6,740.5 L815.8,739.4 L819.1,738.2 L822.3,737.0 L825.5,735.9 L828.7,734.7 L831.9,733.5 L835.2,732.4 L838.4,731.2 L841.6,730.0 L844.8,728.9 L848.0,727.7 L851.2,726.4 L854.2,724.8 L857.2,723.2 L860.3,721.6 L863.3,720.0 L866.3,718.4 L869.4,716.8 L872.4,715.2 L875.4,713.6 L878.5,712.1 L881.5,710.5 L884.5,708.9 L887.6,707.3 L890.6,705.7 L893.6,704.1 L896.7,702.5 L899.7,700.9 L902.7,699.3 L905.7,697.7 L908.8,696.1 L911.8,694.5 L914.8,693.0 L917.9,691.4 L920.9,689.8 L923.9,688.2 L927.0,686.6 L930.0,685.0" fill="none" stroke="#dac8bc" stroke-width="4.8"/></g>

</g>
<path d="M645.0,512.0 L650.0,540.0 L665.0,570.0 L680.0,610.0 L700.0,660.0 L718.0,700.0 L735.0,740.0 L745.0,760.0" fill="none" stroke="#bfa79a" stroke-width="10" opacity="0.5" transform="translate(-5,3)" filter="url(#bl30)"/>
<circle cx="645.0" cy="512.0" r="8.4" fill="url(#pom)"/>
<circle cx="648.4" cy="530.9" r="8.4" fill="url(#pom)"/>
<circle cx="654.4" cy="548.8" r="8.4" fill="url(#pom)"/>
<circle cx="663.0" cy="566.0" r="8.4" fill="url(#pom)"/>
<circle cx="670.1" cy="583.7" r="8.4" fill="url(#pom)"/>
<circle cx="676.9" cy="601.7" r="8.4" fill="url(#pom)"/>
<circle cx="683.8" cy="619.5" r="8.4" fill="url(#pom)"/>
<circle cx="690.9" cy="637.3" r="8.4" fill="url(#pom)"/>
<circle cx="698.0" cy="655.1" r="8.4" fill="url(#pom)"/>
<circle cx="705.7" cy="672.7" r="8.4" fill="url(#pom)"/>
<circle cx="713.6" cy="690.1" r="8.4" fill="url(#pom)"/>
<circle cx="721.3" cy="707.7" r="8.4" fill="url(#pom)"/>
<circle cx="728.8" cy="725.3" r="8.4" fill="url(#pom)"/>
<circle cx="736.4" cy="742.9" r="8.4" fill="url(#pom)"/>
<circle cx="745.0" cy="760.0" r="8.4" fill="url(#pom)"/>
<circle cx="842.4" cy="463.8" r="8.5" fill="url(#pom2)"/>
<circle cx="849.2" cy="481.5" r="8.5" fill="url(#pom2)"/>
<circle cx="855.9" cy="499.2" r="8.5" fill="url(#pom2)"/>
<circle cx="862.7" cy="516.9" r="8.5" fill="url(#pom2)"/>
<circle cx="869.5" cy="534.6" r="8.5" fill="url(#pom2)"/>
<circle cx="876.2" cy="552.3" r="8.5" fill="url(#pom2)"/>
<circle cx="883.0" cy="570.0" r="8.5" fill="url(#pom2)"/>
<circle cx="889.8" cy="587.7" r="8.5" fill="url(#pom2)"/>
<circle cx="896.5" cy="605.4" r="8.5" fill="url(#pom2)"/>
<circle cx="903.3" cy="623.1" r="8.5" fill="url(#pom2)"/>
<circle cx="910.1" cy="640.8" r="8.5" fill="url(#pom2)"/>
<circle cx="916.8" cy="658.5" r="8.5" fill="url(#pom2)"/>
<circle cx="923.6" cy="676.2" r="8.5" fill="url(#pom2)"/>
<path d="M740,764 L760,768 L835,744 L926,690" fill="none" stroke="#c4aea1" stroke-width="5" opacity="0.55" filter="url(#soft3)"/>
</g>
<g stroke="#fff" stroke-width="8" stroke-linecap="butt" stroke-linejoin="round" fill="#fff" opacity="0.9">
<line x1="123.8" y1="477.8" x2="517.3" y2="383.7"/>
<line x1="640.5" y1="353.9" x2="955.1" y2="278.7"/>
<path stroke-width="4" d="M108.7,481.4 L123.7,468.8 L127.8,485.9Z"/>
<path stroke-width="4" d="M970.2,275.1 L955.2,287.7 L951.1,270.6Z"/>
<line x1="989.2" y1="279.9" x2="1161.0" y2="418.0"/>
<line x1="1232.3" y1="475.2" x2="1390.8" y2="602.0"/>
<path stroke-width="4" d="M977.1,270.2 L996.3,274.3 L985.2,288.0Z"/>
<path stroke-width="4" d="M1402.9,611.7 L1383.7,607.6 L1394.8,593.9Z"/>
<line x1="90.0" y1="560.8" x2="90.0" y2="801.0"/>
<line x1="90.0" y1="851.5" x2="90.0" y2="1085.4"/>
<path stroke-width="4" d="M90.0,545.3 L98.8,562.8 L81.2,562.8Z"/>
<path stroke-width="4" d="M90.0,1100.9 L81.2,1083.4 L98.8,1083.4Z"/>
<line x1="383.7" y1="525.8" x2="465.5" y2="504.8"/>
<line x1="595.6" y1="471.1" x2="623.2" y2="463.0"/>
<path stroke-width="4" d="M368.7,529.7 L383.4,516.8 L387.9,533.8Z"/>
<path stroke-width="4" d="M638.2,459.1 L623.5,472.0 L619.0,455.0Z"/>
<line x1="430.4" y1="539.3" x2="465.2" y2="614.4"/>
<line x1="493.3" y1="680.6" x2="534.2" y2="773.8"/>
<path stroke-width="4" d="M424.1,525.1 L439.2,537.5 L423.1,544.7Z"/>
<path stroke-width="4" d="M540.5,788.0 L525.4,775.6 L541.5,768.4Z"/>
<line x1="662.5" y1="540.8" x2="723.9" y2="524.1"/>
<line x1="813.8" y1="499.4" x2="827.5" y2="496.3"/>
<path stroke-width="4" d="M647.5,544.8 L662.1,531.8 L666.7,548.7Z"/>
<path stroke-width="4" d="M842.5,492.3 L827.9,505.3 L823.3,488.4Z"/>
<line x1="664.8" y1="533.0" x2="696.1" y2="618.0"/>
<line x1="718.7" y1="675.8" x2="741.9" y2="741.0"/>
<path stroke-width="4" d="M659.4,518.5 L673.7,531.8 L657.2,538.0Z"/>
<path stroke-width="4" d="M747.3,755.5 L733.0,742.2 L749.5,736.0Z"/>
<line x1="248.9" y1="713.0" x2="414.7" y2="692.1"/>
<path stroke-width="4" d="M233.5,714.9 L249.8,704.0 L252.0,721.4Z"/>
<path stroke-width="4" d="M430.1,690.2 L413.8,701.1 L411.6,683.7Z"/>
<line x1="352.9" y1="723.2" x2="355.3" y2="777.8"/>
<line x1="358.5" y1="827.1" x2="359.3" y2="850.6"/>
<path stroke-width="4" d="M352.1,707.7 L361.8,724.7 L344.2,725.6Z"/>
<path stroke-width="4" d="M360.1,866.1 L350.4,849.1 L368.0,848.2Z"/>
<line x1="456.4" y1="827.2" x2="878.1" y2="673.3"/>
<line x1="987.7" y1="633.4" x2="1029.2" y2="618.8"/>
<path stroke-width="4" d="M441.8,832.5 L455.2,818.2 L461.3,834.8Z"/>
<path stroke-width="4" d="M1043.8,613.5 L1030.4,627.8 L1024.3,611.2Z"/>
<line x1="833.5" y1="692.5" x2="871.9" y2="729.3"/>
<line x1="919.2" y1="772.9" x2="951.4" y2="801.0"/>
<path stroke-width="4" d="M822.1,682.0 L840.9,687.4 L829.0,700.3Z"/>
<path stroke-width="4" d="M962.8,811.5 L944.0,806.1 L955.9,793.2Z"/>
<line x1="581.0" y1="766.0" x2="632.4" y2="836.3"/>
<line x1="669.8" y1="887.2" x2="713.2" y2="947.1"/>
<path stroke-width="4" d="M571.9,753.5 L589.3,762.4 L575.1,772.8Z"/>
<path stroke-width="4" d="M722.3,959.6 L704.9,950.7 L719.1,940.3Z"/>
<line x1="649.1" y1="967.5" x2="649.1" y2="1053.4"/>
<line x1="649.1" y1="1108.6" x2="649.1" y2="1191.9"/>
<path stroke-width="4" d="M649.1,952.0 L657.9,969.5 L640.3,969.5Z"/>
<path stroke-width="4" d="M649.1,1207.4 L640.3,1189.9 L657.9,1189.9Z"/><line x1="1018.0" y1="566.0" x2="1031.6" y2="611" stroke-width="6"/>
</g>
<g stroke="#000" stroke-width="4.0" fill="#000" stroke-linejoin="miter">
<line x1="123.8" y1="477.8" x2="517.3" y2="383.7"/>
<line x1="640.5" y1="353.9" x2="955.1" y2="278.7"/>
<path stroke="none" d="M108.7,481.4 L123.7,468.8 L127.8,485.9Z"/>
<path stroke="none" d="M970.2,275.1 L955.2,287.7 L951.1,270.6Z"/>
<line x1="989.2" y1="279.9" x2="1161.0" y2="418.0"/>
<line x1="1232.3" y1="475.2" x2="1390.8" y2="602.0"/>
<path stroke="none" d="M977.1,270.2 L996.3,274.3 L985.2,288.0Z"/>
<path stroke="none" d="M1402.9,611.7 L1383.7,607.6 L1394.8,593.9Z"/>
<line x1="90.0" y1="560.8" x2="90.0" y2="801.0"/>
<line x1="90.0" y1="851.5" x2="90.0" y2="1085.4"/>
<path stroke="none" d="M90.0,545.3 L98.8,562.8 L81.2,562.8Z"/>
<path stroke="none" d="M90.0,1100.9 L81.2,1083.4 L98.8,1083.4Z"/>
<line x1="383.7" y1="525.8" x2="465.5" y2="504.8"/>
<line x1="595.6" y1="471.1" x2="623.2" y2="463.0"/>
<path stroke="none" d="M368.7,529.7 L383.4,516.8 L387.9,533.8Z"/>
<path stroke="none" d="M638.2,459.1 L623.5,472.0 L619.0,455.0Z"/>
<line x1="430.4" y1="539.3" x2="465.2" y2="614.4"/>
<line x1="493.3" y1="680.6" x2="534.2" y2="773.8"/>
<path stroke="none" d="M424.1,525.1 L439.2,537.5 L423.1,544.7Z"/>
<path stroke="none" d="M540.5,788.0 L525.4,775.6 L541.5,768.4Z"/>
<line x1="662.5" y1="540.8" x2="723.9" y2="524.1"/>
<line x1="813.8" y1="499.4" x2="827.5" y2="496.3"/>
<path stroke="none" d="M647.5,544.8 L662.1,531.8 L666.7,548.7Z"/>
<path stroke="none" d="M842.5,492.3 L827.9,505.3 L823.3,488.4Z"/>
<line x1="664.8" y1="533.0" x2="696.1" y2="618.0"/>
<line x1="718.7" y1="675.8" x2="741.9" y2="741.0"/>
<path stroke="none" d="M659.4,518.5 L673.7,531.8 L657.2,538.0Z"/>
<path stroke="none" d="M747.3,755.5 L733.0,742.2 L749.5,736.0Z"/>
<line x1="248.9" y1="713.0" x2="414.7" y2="692.1"/>
<path stroke="none" d="M233.5,714.9 L249.8,704.0 L252.0,721.4Z"/>
<path stroke="none" d="M430.1,690.2 L413.8,701.1 L411.6,683.7Z"/>
<line x1="352.9" y1="723.2" x2="355.3" y2="777.8"/>
<line x1="358.5" y1="827.1" x2="359.3" y2="850.6"/>
<path stroke="none" d="M352.1,707.7 L361.8,724.7 L344.2,725.6Z"/>
<path stroke="none" d="M360.1,866.1 L350.4,849.1 L368.0,848.2Z"/>
<line x1="456.4" y1="827.2" x2="878.1" y2="673.3"/>
<line x1="987.7" y1="633.4" x2="1029.2" y2="618.8"/>
<path stroke="none" d="M441.8,832.5 L455.2,818.2 L461.3,834.8Z"/>
<path stroke="none" d="M1043.8,613.5 L1030.4,627.8 L1024.3,611.2Z"/>
<line x1="833.5" y1="692.5" x2="871.9" y2="729.3"/>
<line x1="919.2" y1="772.9" x2="951.4" y2="801.0"/>
<path stroke="none" d="M822.1,682.0 L840.9,687.4 L829.0,700.3Z"/>
<path stroke="none" d="M962.8,811.5 L944.0,806.1 L955.9,793.2Z"/>
<line x1="581.0" y1="766.0" x2="632.4" y2="836.3"/>
<line x1="669.8" y1="887.2" x2="713.2" y2="947.1"/>
<path stroke="none" d="M571.9,753.5 L589.3,762.4 L575.1,772.8Z"/>
<path stroke="none" d="M722.3,959.6 L704.9,950.7 L719.1,940.3Z"/>
<line x1="649.1" y1="967.5" x2="649.1" y2="1053.4"/>
<line x1="649.1" y1="1108.6" x2="649.1" y2="1191.9"/>
<path stroke="none" d="M649.1,952.0 L657.9,969.5 L640.3,969.5Z"/>
<path stroke="none" d="M649.1,1207.4 L640.3,1189.9 L657.9,1189.9Z"/>
<line x1="1018.0" y1="566.0" x2="1031.6" y2="611" stroke-dasharray="10.5,6.5" stroke-width="3"/>
</g>
<g font-family="Liberation Sans, sans-serif" font-weight="bold" font-size="34" fill="#fff" stroke="#fff" stroke-width="7" stroke-linejoin="round">
<text x="527.2" y="378.1" textLength="108.1" lengthAdjust="spacingAndGlyphs">64.17in</text>
<text x="1134.8" y="454.6" textLength="109.4" lengthAdjust="spacingAndGlyphs">40.55in</text>
<text x="477.5" y="501.2" textLength="108.1" lengthAdjust="spacingAndGlyphs">20.47in</text>
<text x="420.9" y="656.5" textLength="106.7" lengthAdjust="spacingAndGlyphs">15.75in</text>
<text x="720.8" y="531.3" textLength="105.4" lengthAdjust="spacingAndGlyphs">14.17in</text>
<text x="663.0" y="651.4" textLength="106.3" lengthAdjust="spacingAndGlyphs">14.17in</text>
<text x="253.0" y="694.2" textLength="91.1" lengthAdjust="spacingAndGlyphs">8.66in</text>
<text x="249.8" y="810.4" textLength="106.3" lengthAdjust="spacingAndGlyphs">10.24in</text>
<text x="882.7" y="669.5" textLength="108.3" lengthAdjust="spacingAndGlyphs">47.24in</text>
<text x="838.0" y="758.8" textLength="106.6" lengthAdjust="spacingAndGlyphs">22.83in</text>
<text x="580.1" y="873.6" textLength="90.9" lengthAdjust="spacingAndGlyphs">24.8in</text>
<text x="609.1" y="1093.1" textLength="106.7" lengthAdjust="spacingAndGlyphs">13.38in</text>
<text x="44.8" y="837.7" textLength="107.9" lengthAdjust="spacingAndGlyphs">23.62in</text>
</g>
<g font-family="Liberation Sans, sans-serif" font-weight="bold" font-size="34" fill="#000" stroke="#000" stroke-width="1.1" stroke-linejoin="round">
<text x="527.2" y="378.1" textLength="108.1" lengthAdjust="spacingAndGlyphs">64.17in</text>
<text x="1134.8" y="454.6" textLength="109.4" lengthAdjust="spacingAndGlyphs">40.55in</text>
<text x="477.5" y="501.2" textLength="108.1" lengthAdjust="spacingAndGlyphs">20.47in</text>
<text x="420.9" y="656.5" textLength="106.7" lengthAdjust="spacingAndGlyphs">15.75in</text>
<text x="720.8" y="531.3" textLength="105.4" lengthAdjust="spacingAndGlyphs">14.17in</text>
<text x="663.0" y="651.4" textLength="106.3" lengthAdjust="spacingAndGlyphs">14.17in</text>
<text x="253.0" y="694.2" textLength="91.1" lengthAdjust="spacingAndGlyphs">8.66in</text>
<text x="249.8" y="810.4" textLength="106.3" lengthAdjust="spacingAndGlyphs">10.24in</text>
<text x="882.7" y="669.5" textLength="108.3" lengthAdjust="spacingAndGlyphs">47.24in</text>
<text x="838.0" y="758.8" textLength="106.6" lengthAdjust="spacingAndGlyphs">22.83in</text>
<text x="580.1" y="873.6" textLength="90.9" lengthAdjust="spacingAndGlyphs">24.8in</text>
<text x="609.1" y="1093.1" textLength="106.7" lengthAdjust="spacingAndGlyphs">13.38in</text>
<text x="44.8" y="837.7" textLength="107.9" lengthAdjust="spacingAndGlyphs">23.62in</text>
</g>
<g font-family="Liberation Sans, sans-serif" font-weight="bold" font-size="28.5" fill="#e00d0d" stroke="#e00d0d" stroke-width="0.6">
<text x="949.9" y="758.3" textLength="212.4" lengthAdjust="spacingAndGlyphs">(remove the pillow)</text>
<text x="677.5" y="873.6" textLength="213.8" lengthAdjust="spacingAndGlyphs">(remove the pillow)</text>
</g>
</svg>
</body></html>
